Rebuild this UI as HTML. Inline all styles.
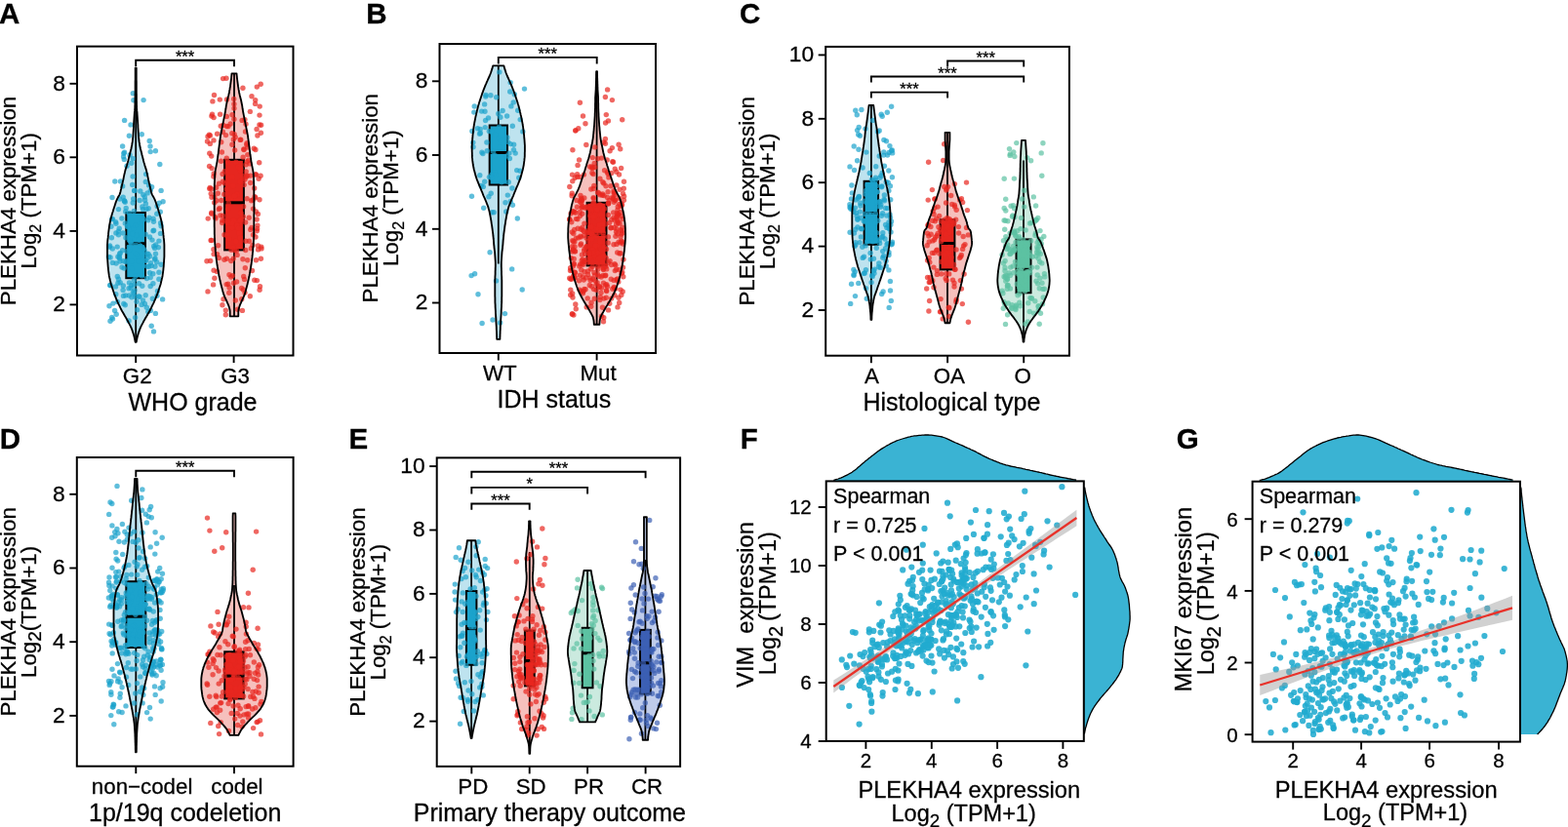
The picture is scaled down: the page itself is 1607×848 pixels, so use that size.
<!DOCTYPE html>
<html><head><meta charset="utf-8"><title>PLEKHA4 expression figure</title><style>html,body{margin:0;padding:0;background:#fff;width:1607px;height:848px;overflow:hidden}svg{display:block}</style></head><body>
<svg width="1607" height="848" viewBox="0 0 1607 848" style="font-family:'Liberation Sans',Arial,sans-serif">
<style>text{fill:#000;stroke:#000;stroke-width:0.28px}</style>
<rect width="1607" height="848" fill="#fff"/>
<text x="-0.9" y="23.8" font-size="29.5" text-anchor="start" font-weight="bold">A</text>
<text x="375.2" y="23.8" font-size="29.5" text-anchor="start" font-weight="bold">B</text>
<text x="758" y="23.8" font-size="29.5" text-anchor="start" font-weight="bold">C</text>
<text x="-0.2" y="460.3" font-size="29.5" text-anchor="start" font-weight="bold">D</text>
<text x="357.4" y="460.3" font-size="29.5" text-anchor="start" font-weight="bold">E</text>
<text x="758.7" y="460.3" font-size="29.5" text-anchor="start" font-weight="bold">F</text>
<text x="1205.8" y="460.3" font-size="29.5" text-anchor="start" font-weight="bold">G</text>
<path d="M139.7,69.6 L139.7,71.1 L139.7,72.6 L139.7,74.1 L139.7,75.6 L139.7,77.2 L139.7,78.7 L139.7,80.2 L139.7,81.7 L139.8,83.2 L139.8,84.7 L139.8,86.2 L139.8,87.7 L139.8,89.2 L139.8,90.8 L139.8,92.3 L139.8,93.8 L139.8,95.3 L139.9,96.8 L139.9,98.3 L139.9,99.8 L139.9,101.3 L139.9,102.8 L140,104.4 L140,105.9 L140,107.4 L140.1,108.9 L140.1,110.4 L140.2,111.9 L140.3,113.4 L140.5,114.9 L140.6,116.5 L140.7,118 L140.8,119.5 L140.9,121 L141,122.5 L141.1,124 L141.2,125.5 L141.3,127 L141.4,128.5 L141.4,130.1 L141.5,131.6 L141.6,133.1 L141.7,134.6 L141.8,136.1 L141.9,137.6 L142,139.1 L142.1,140.6 L142.3,142.1 L142.4,143.7 L142.6,145.2 L142.9,146.7 L143.1,148.2 L143.4,149.7 L143.7,151.2 L144,152.7 L144.4,154.2 L144.8,155.7 L145.2,157.3 L145.5,158.8 L145.9,160.3 L146.3,161.8 L146.7,163.3 L147,164.8 L147.4,166.3 L147.9,167.8 L148.3,169.3 L148.8,170.9 L149.3,172.4 L149.8,173.9 L150.2,175.4 L150.5,176.9 L150.9,178.4 L151.2,179.9 L151.5,181.4 L151.8,182.9 L152.1,184.5 L152.5,186 L152.8,187.5 L153.2,189 L153.5,190.5 L153.9,192 L154.2,193.5 L154.6,195 L154.9,196.5 L155.3,198.1 L155.9,199.6 L156.7,201.1 L157.6,202.6 L158.4,204.1 L159,205.6 L159.6,207.1 L160.1,208.6 L160.6,210.2 L161.1,211.7 L161.6,213.2 L162.1,214.7 L162.5,216.2 L163,217.7 L163.5,219.2 L163.9,220.7 L164.3,222.2 L164.7,223.8 L165.1,225.3 L165.4,226.8 L165.7,228.3 L166,229.8 L166.3,231.3 L166.5,232.8 L166.7,234.3 L166.9,235.8 L167.1,237.4 L167.3,238.9 L167.4,240.4 L167.6,241.9 L167.7,243.4 L167.9,244.9 L168.1,246.4 L168.2,247.9 L168.3,249.4 L168.4,251 L168.4,252.5 L168.4,254 L168.4,255.5 L168.4,257 L168.4,258.5 L168.4,260 L168.4,261.5 L168.4,263 L168.3,264.6 L168.2,266.1 L168.1,267.6 L168,269.1 L167.9,270.6 L167.8,272.1 L167.7,273.6 L167.5,275.1 L167.4,276.6 L167.2,278.2 L167,279.7 L166.8,281.2 L166.6,282.7 L166.3,284.2 L165.9,285.7 L165.6,287.2 L165.2,288.7 L164.9,290.2 L164.5,291.8 L164,293.3 L163.5,294.8 L163,296.3 L162.5,297.8 L162,299.3 L161.5,300.8 L160.9,302.3 L160.3,303.9 L159.7,305.4 L159.1,306.9 L158.4,308.4 L157.8,309.9 L157.1,311.4 L156.3,312.9 L155.6,314.4 L154.9,315.9 L154.1,317.5 L153.3,319 L152.4,320.5 L151.5,322 L150.7,323.5 L149.8,325 L148.9,326.5 L148.1,328 L147.2,329.5 L146.4,331.1 L145.6,332.6 L144.8,334.1 L144.1,335.6 L143.5,337.1 L142.9,338.6 L142.4,340.1 L141.9,341.6 L141.4,343.1 L141,344.7 L140.6,346.2 L140.3,347.7 L140,349.2 L139.7,350.7 L138.7,350.7 L138.4,349.2 L138.1,347.7 L137.8,346.2 L137.4,344.7 L137,343.1 L136.5,341.6 L136,340.1 L135.5,338.6 L134.9,337.1 L134.3,335.6 L133.6,334.1 L132.8,332.6 L132,331.1 L131.2,329.5 L130.3,328 L129.5,326.5 L128.6,325 L127.7,323.5 L126.9,322 L126,320.5 L125.1,319 L124.3,317.5 L123.5,315.9 L122.8,314.4 L122.1,312.9 L121.3,311.4 L120.6,309.9 L120,308.4 L119.3,306.9 L118.7,305.4 L118.1,303.9 L117.5,302.3 L116.9,300.8 L116.4,299.3 L115.9,297.8 L115.4,296.3 L114.9,294.8 L114.4,293.3 L113.9,291.8 L113.5,290.2 L113.2,288.7 L112.8,287.2 L112.5,285.7 L112.1,284.2 L111.8,282.7 L111.6,281.2 L111.4,279.7 L111.2,278.2 L111,276.6 L110.9,275.1 L110.7,273.6 L110.6,272.1 L110.5,270.6 L110.4,269.1 L110.3,267.6 L110.2,266.1 L110.1,264.6 L110,263 L110,261.5 L110,260 L110,258.5 L110,257 L110,255.5 L110,254 L110,252.5 L110,251 L110.1,249.4 L110.2,247.9 L110.3,246.4 L110.5,244.9 L110.7,243.4 L110.8,241.9 L111,240.4 L111.1,238.9 L111.3,237.4 L111.5,235.8 L111.7,234.3 L111.9,232.8 L112.1,231.3 L112.4,229.8 L112.7,228.3 L113,226.8 L113.3,225.3 L113.7,223.8 L114.1,222.2 L114.5,220.7 L114.9,219.2 L115.4,217.7 L115.9,216.2 L116.3,214.7 L116.8,213.2 L117.3,211.7 L117.8,210.2 L118.3,208.6 L118.8,207.1 L119.4,205.6 L120,204.1 L120.8,202.6 L121.7,201.1 L122.5,199.6 L123.1,198.1 L123.5,196.5 L123.8,195 L124.2,193.5 L124.5,192 L124.9,190.5 L125.2,189 L125.6,187.5 L125.9,186 L126.3,184.5 L126.6,182.9 L126.9,181.4 L127.2,179.9 L127.5,178.4 L127.9,176.9 L128.2,175.4 L128.6,173.9 L129.1,172.4 L129.6,170.9 L130.1,169.3 L130.5,167.8 L131,166.3 L131.4,164.8 L131.7,163.3 L132.1,161.8 L132.5,160.3 L132.9,158.8 L133.2,157.3 L133.6,155.7 L134,154.2 L134.4,152.7 L134.7,151.2 L135,149.7 L135.3,148.2 L135.5,146.7 L135.8,145.2 L136,143.7 L136.1,142.1 L136.3,140.6 L136.4,139.1 L136.5,137.6 L136.6,136.1 L136.7,134.6 L136.8,133.1 L136.9,131.6 L137,130.1 L137,128.5 L137.1,127 L137.2,125.5 L137.3,124 L137.4,122.5 L137.5,121 L137.6,119.5 L137.7,118 L137.8,116.5 L137.9,114.9 L138.1,113.4 L138.2,111.9 L138.3,110.4 L138.3,108.9 L138.4,107.4 L138.4,105.9 L138.4,104.4 L138.5,102.8 L138.5,101.3 L138.5,99.8 L138.5,98.3 L138.5,96.8 L138.6,95.3 L138.6,93.8 L138.6,92.3 L138.6,90.8 L138.6,89.2 L138.6,87.7 L138.6,86.2 L138.6,84.7 L138.6,83.2 L138.7,81.7 L138.7,80.2 L138.7,78.7 L138.7,77.2 L138.7,75.6 L138.7,74.1 L138.7,72.6 L138.7,71.1 L138.7,69.6 Z" fill="#bee3ef"/>
<line x1="139.2" y1="69.6" x2="139.2" y2="350.7" stroke="#000" stroke-width="1.8"/>
<rect x="129.3" y="218" width="19.7" height="67.2" fill="#1ba3cc" stroke="#000" stroke-width="2.0"/>
<line x1="129.3" y1="249.7" x2="149" y2="249.7" stroke="#000" stroke-width="3"/>
<g fill="rgba(27,163,204,0.7)"><circle cx="142.2" cy="267.7" r="2.7"/><circle cx="156.4" cy="306.3" r="2.7"/><circle cx="137.3" cy="287.5" r="2.7"/><circle cx="145.9" cy="211.9" r="2.7"/><circle cx="157.1" cy="224.2" r="2.7"/><circle cx="149.2" cy="302.8" r="2.7"/><circle cx="147.1" cy="102.6" r="2.7"/><circle cx="133.9" cy="295.1" r="2.7"/><circle cx="142.5" cy="290.8" r="2.7"/><circle cx="133.4" cy="247" r="2.7"/><circle cx="152.9" cy="223.2" r="2.7"/><circle cx="132.5" cy="218.5" r="2.7"/><circle cx="137.3" cy="216.4" r="2.7"/><circle cx="153.5" cy="243" r="2.7"/><circle cx="139.4" cy="251.1" r="2.7"/><circle cx="130.1" cy="257.7" r="2.7"/><circle cx="157.5" cy="339.9" r="2.7"/><circle cx="132.5" cy="289.9" r="2.7"/><circle cx="158.5" cy="266" r="2.7"/><circle cx="155.2" cy="334.3" r="2.7"/><circle cx="136.2" cy="208" r="2.7"/><circle cx="151.1" cy="197.9" r="2.7"/><circle cx="113.1" cy="264" r="2.7"/><circle cx="133" cy="159" r="2.7"/><circle cx="159.4" cy="154.7" r="2.7"/><circle cx="143.7" cy="252.3" r="2.7"/><circle cx="142.4" cy="246.2" r="2.7"/><circle cx="148.4" cy="311.5" r="2.7"/><circle cx="149.1" cy="267.2" r="2.7"/><circle cx="143.9" cy="252.1" r="2.7"/><circle cx="134.8" cy="249.2" r="2.7"/><circle cx="121.5" cy="214.6" r="2.7"/><circle cx="127.6" cy="123.4" r="2.7"/><circle cx="127.6" cy="206" r="2.7"/><circle cx="135.3" cy="275.3" r="2.7"/><circle cx="167.1" cy="206.8" r="2.7"/><circle cx="130.9" cy="232.2" r="2.7"/><circle cx="136.3" cy="95.7" r="2.7"/><circle cx="132" cy="295.7" r="2.7"/><circle cx="143.8" cy="196" r="2.7"/><circle cx="164.3" cy="217.2" r="2.7"/><circle cx="161" cy="303.2" r="2.7"/><circle cx="132.3" cy="253.1" r="2.7"/><circle cx="126.1" cy="297.5" r="2.7"/><circle cx="160.7" cy="268.8" r="2.7"/><circle cx="138.9" cy="283.2" r="2.7"/><circle cx="149.6" cy="178.6" r="2.7"/><circle cx="115.3" cy="255" r="2.7"/><circle cx="159.7" cy="250.9" r="2.7"/><circle cx="128.7" cy="302.9" r="2.7"/><circle cx="138.9" cy="231.1" r="2.7"/><circle cx="122.3" cy="263.4" r="2.7"/><circle cx="134.7" cy="167.2" r="2.7"/><circle cx="157.6" cy="236.2" r="2.7"/><circle cx="157.5" cy="227.2" r="2.7"/><circle cx="137.7" cy="195.5" r="2.7"/><circle cx="154.2" cy="293.5" r="2.7"/><circle cx="136.9" cy="234.1" r="2.7"/><circle cx="132.1" cy="328.9" r="2.7"/><circle cx="141.8" cy="263.1" r="2.7"/><circle cx="122.5" cy="264.9" r="2.7"/><circle cx="128.9" cy="268.6" r="2.7"/><circle cx="150.8" cy="273.3" r="2.7"/><circle cx="154.3" cy="195.1" r="2.7"/><circle cx="114.4" cy="243.8" r="2.7"/><circle cx="152.2" cy="213.8" r="2.7"/><circle cx="157" cy="236.8" r="2.7"/><circle cx="136.1" cy="181" r="2.7"/><circle cx="114.7" cy="325.5" r="2.7"/><circle cx="149.4" cy="208.9" r="2.7"/><circle cx="125" cy="274" r="2.7"/><circle cx="147.2" cy="224.5" r="2.7"/><circle cx="132.3" cy="303" r="2.7"/><circle cx="146.9" cy="272.6" r="2.7"/><circle cx="125.7" cy="190.9" r="2.7"/><circle cx="137.9" cy="297.6" r="2.7"/><circle cx="140.6" cy="317.7" r="2.7"/><circle cx="146.5" cy="307.9" r="2.7"/><circle cx="122.6" cy="260.4" r="2.7"/><circle cx="165.1" cy="195.4" r="2.7"/><circle cx="127.4" cy="205.9" r="2.7"/><circle cx="128.3" cy="312.8" r="2.7"/><circle cx="125.6" cy="256.8" r="2.7"/><circle cx="115" cy="202.5" r="2.7"/><circle cx="134.9" cy="304.7" r="2.7"/><circle cx="154.4" cy="269.6" r="2.7"/><circle cx="150.9" cy="260.1" r="2.7"/><circle cx="122.2" cy="234.2" r="2.7"/><circle cx="118.9" cy="238.9" r="2.7"/><circle cx="129.2" cy="213.5" r="2.7"/><circle cx="154.2" cy="155.6" r="2.7"/><circle cx="138.5" cy="304.3" r="2.7"/><circle cx="162.9" cy="247.1" r="2.7"/><circle cx="148" cy="256.8" r="2.7"/><circle cx="146" cy="226.2" r="2.7"/><circle cx="154.2" cy="284.6" r="2.7"/><circle cx="153.2" cy="144.4" r="2.7"/><circle cx="130.5" cy="232.3" r="2.7"/><circle cx="125.6" cy="150" r="2.7"/><circle cx="135.7" cy="189.5" r="2.7"/><circle cx="138.6" cy="325.6" r="2.7"/><circle cx="119.1" cy="270" r="2.7"/><circle cx="135.9" cy="239.8" r="2.7"/><circle cx="147" cy="254.7" r="2.7"/><circle cx="118.8" cy="301.8" r="2.7"/><circle cx="118.9" cy="229.3" r="2.7"/><circle cx="120.9" cy="263.2" r="2.7"/><circle cx="127.1" cy="275.1" r="2.7"/><circle cx="165.1" cy="231.7" r="2.7"/><circle cx="112.6" cy="252" r="2.7"/><circle cx="121.5" cy="286.3" r="2.7"/><circle cx="120.4" cy="309.5" r="2.7"/><circle cx="137.8" cy="195.4" r="2.7"/><circle cx="112" cy="313.8" r="2.7"/><circle cx="136.9" cy="102.8" r="2.7"/><circle cx="120.3" cy="283.5" r="2.7"/><circle cx="126.3" cy="293" r="2.7"/><circle cx="155.6" cy="191.7" r="2.7"/><circle cx="121.5" cy="240.7" r="2.7"/><circle cx="145.8" cy="293.2" r="2.7"/><circle cx="134" cy="127.9" r="2.7"/><circle cx="134.6" cy="268.3" r="2.7"/><circle cx="156.9" cy="290.8" r="2.7"/><circle cx="120.2" cy="253.1" r="2.7"/><circle cx="162.9" cy="279.3" r="2.7"/><circle cx="161.2" cy="211.5" r="2.7"/><circle cx="148.6" cy="205.2" r="2.7"/><circle cx="114" cy="232.3" r="2.7"/><circle cx="148.3" cy="201.9" r="2.7"/><circle cx="144.8" cy="229.8" r="2.7"/><circle cx="154.4" cy="318.4" r="2.7"/><circle cx="123.2" cy="259.5" r="2.7"/><circle cx="164.6" cy="228.8" r="2.7"/><circle cx="160.8" cy="219.2" r="2.7"/><circle cx="117.6" cy="318.5" r="2.7"/><circle cx="128.9" cy="243.7" r="2.7"/><circle cx="113" cy="329.2" r="2.7"/><circle cx="157.7" cy="252.5" r="2.7"/><circle cx="162.4" cy="253.7" r="2.7"/><circle cx="166.6" cy="306.9" r="2.7"/><circle cx="145.5" cy="282.9" r="2.7"/><circle cx="148.5" cy="261.6" r="2.7"/><circle cx="149.2" cy="240.2" r="2.7"/><circle cx="143.1" cy="304.3" r="2.7"/><circle cx="164.5" cy="239.4" r="2.7"/><circle cx="145.2" cy="312.4" r="2.7"/><circle cx="130" cy="170.3" r="2.7"/><circle cx="139.9" cy="241.3" r="2.7"/><circle cx="112.2" cy="253.2" r="2.7"/><circle cx="151.8" cy="319.6" r="2.7"/><circle cx="150.1" cy="214.3" r="2.7"/><circle cx="134.8" cy="292.5" r="2.7"/><circle cx="158.9" cy="273.2" r="2.7"/><circle cx="153.5" cy="279.7" r="2.7"/><circle cx="130.1" cy="267.6" r="2.7"/><circle cx="115.5" cy="327.1" r="2.7"/><circle cx="118.6" cy="227.6" r="2.7"/><circle cx="121.5" cy="237.1" r="2.7"/><circle cx="128.2" cy="207.3" r="2.7"/><circle cx="136.3" cy="162.6" r="2.7"/><circle cx="163.2" cy="208.2" r="2.7"/><circle cx="126.8" cy="311.4" r="2.7"/><circle cx="161.5" cy="298.4" r="2.7"/><circle cx="149.3" cy="186.4" r="2.7"/><circle cx="159" cy="265" r="2.7"/><circle cx="133.8" cy="248.3" r="2.7"/><circle cx="111.4" cy="263.4" r="2.7"/><circle cx="155.3" cy="272.6" r="2.7"/><circle cx="124.9" cy="224" r="2.7"/><circle cx="119.2" cy="322.3" r="2.7"/><circle cx="156" cy="246.1" r="2.7"/><circle cx="149.6" cy="267.1" r="2.7"/><circle cx="123.1" cy="268" r="2.7"/><circle cx="126.2" cy="202.1" r="2.7"/><circle cx="163.8" cy="168.5" r="2.7"/><circle cx="126.2" cy="239" r="2.7"/><circle cx="150.5" cy="285.5" r="2.7"/><circle cx="118.5" cy="293.9" r="2.7"/><circle cx="156.8" cy="280.7" r="2.7"/><circle cx="117.8" cy="186" r="2.7"/><circle cx="140.1" cy="309.3" r="2.7"/><circle cx="113.2" cy="292.5" r="2.7"/><circle cx="142" cy="304" r="2.7"/><circle cx="158.6" cy="254.4" r="2.7"/><circle cx="115.9" cy="311.1" r="2.7"/><circle cx="126.6" cy="160.7" r="2.7"/><circle cx="154" cy="150" r="2.7"/><circle cx="145.3" cy="137.8" r="2.7"/><circle cx="128.7" cy="216.9" r="2.7"/><circle cx="146.4" cy="214.6" r="2.7"/><circle cx="136.7" cy="204" r="2.7"/><circle cx="159.5" cy="260.3" r="2.7"/><circle cx="127.6" cy="156.2" r="2.7"/><circle cx="153.6" cy="262.8" r="2.7"/><circle cx="146.8" cy="199.8" r="2.7"/><circle cx="152.7" cy="273.2" r="2.7"/><circle cx="132.4" cy="139.2" r="2.7"/><circle cx="151.8" cy="225.7" r="2.7"/><circle cx="150.3" cy="315.3" r="2.7"/><circle cx="132.9" cy="255.8" r="2.7"/><circle cx="112.7" cy="292.5" r="2.7"/><circle cx="165.1" cy="271.3" r="2.7"/><circle cx="151.2" cy="264.5" r="2.7"/><circle cx="122.7" cy="204" r="2.7"/><circle cx="152.1" cy="260.4" r="2.7"/><circle cx="126.8" cy="157.3" r="2.7"/><circle cx="137.5" cy="292.1" r="2.7"/><circle cx="159.4" cy="321.4" r="2.7"/><circle cx="136.3" cy="299.4" r="2.7"/><circle cx="127.3" cy="163.4" r="2.7"/><circle cx="128.3" cy="228.9" r="2.7"/><circle cx="115.5" cy="224.6" r="2.7"/><circle cx="123.5" cy="185.9" r="2.7"/><circle cx="126.4" cy="267.8" r="2.7"/><circle cx="120.9" cy="290.3" r="2.7"/><circle cx="114.7" cy="224.6" r="2.7"/><circle cx="137.3" cy="301" r="2.7"/><circle cx="123.2" cy="289.8" r="2.7"/><circle cx="152.6" cy="190" r="2.7"/><circle cx="162.9" cy="286.3" r="2.7"/><circle cx="126.5" cy="303.4" r="2.7"/><circle cx="143.2" cy="205.5" r="2.7"/><circle cx="139.6" cy="260.4" r="2.7"/><circle cx="115.4" cy="269.4" r="2.7"/></g>
<path d="M139.7,69.6 L139.7,71.1 L139.7,72.6 L139.7,74.1 L139.7,75.6 L139.7,77.2 L139.7,78.7 L139.7,80.2 L139.7,81.7 L139.8,83.2 L139.8,84.7 L139.8,86.2 L139.8,87.7 L139.8,89.2 L139.8,90.8 L139.8,92.3 L139.8,93.8 L139.8,95.3 L139.9,96.8 L139.9,98.3 L139.9,99.8 L139.9,101.3 L139.9,102.8 L140,104.4 L140,105.9 L140,107.4 L140.1,108.9 L140.1,110.4 L140.2,111.9 L140.3,113.4 L140.5,114.9 L140.6,116.5 L140.7,118 L140.8,119.5 L140.9,121 L141,122.5 L141.1,124 L141.2,125.5 L141.3,127 L141.4,128.5 L141.4,130.1 L141.5,131.6 L141.6,133.1 L141.7,134.6 L141.8,136.1 L141.9,137.6 L142,139.1 L142.1,140.6 L142.3,142.1 L142.4,143.7 L142.6,145.2 L142.9,146.7 L143.1,148.2 L143.4,149.7 L143.7,151.2 L144,152.7 L144.4,154.2 L144.8,155.7 L145.2,157.3 L145.5,158.8 L145.9,160.3 L146.3,161.8 L146.7,163.3 L147,164.8 L147.4,166.3 L147.9,167.8 L148.3,169.3 L148.8,170.9 L149.3,172.4 L149.8,173.9 L150.2,175.4 L150.5,176.9 L150.9,178.4 L151.2,179.9 L151.5,181.4 L151.8,182.9 L152.1,184.5 L152.5,186 L152.8,187.5 L153.2,189 L153.5,190.5 L153.9,192 L154.2,193.5 L154.6,195 L154.9,196.5 L155.3,198.1 L155.9,199.6 L156.7,201.1 L157.6,202.6 L158.4,204.1 L159,205.6 L159.6,207.1 L160.1,208.6 L160.6,210.2 L161.1,211.7 L161.6,213.2 L162.1,214.7 L162.5,216.2 L163,217.7 L163.5,219.2 L163.9,220.7 L164.3,222.2 L164.7,223.8 L165.1,225.3 L165.4,226.8 L165.7,228.3 L166,229.8 L166.3,231.3 L166.5,232.8 L166.7,234.3 L166.9,235.8 L167.1,237.4 L167.3,238.9 L167.4,240.4 L167.6,241.9 L167.7,243.4 L167.9,244.9 L168.1,246.4 L168.2,247.9 L168.3,249.4 L168.4,251 L168.4,252.5 L168.4,254 L168.4,255.5 L168.4,257 L168.4,258.5 L168.4,260 L168.4,261.5 L168.4,263 L168.3,264.6 L168.2,266.1 L168.1,267.6 L168,269.1 L167.9,270.6 L167.8,272.1 L167.7,273.6 L167.5,275.1 L167.4,276.6 L167.2,278.2 L167,279.7 L166.8,281.2 L166.6,282.7 L166.3,284.2 L165.9,285.7 L165.6,287.2 L165.2,288.7 L164.9,290.2 L164.5,291.8 L164,293.3 L163.5,294.8 L163,296.3 L162.5,297.8 L162,299.3 L161.5,300.8 L160.9,302.3 L160.3,303.9 L159.7,305.4 L159.1,306.9 L158.4,308.4 L157.8,309.9 L157.1,311.4 L156.3,312.9 L155.6,314.4 L154.9,315.9 L154.1,317.5 L153.3,319 L152.4,320.5 L151.5,322 L150.7,323.5 L149.8,325 L148.9,326.5 L148.1,328 L147.2,329.5 L146.4,331.1 L145.6,332.6 L144.8,334.1 L144.1,335.6 L143.5,337.1 L142.9,338.6 L142.4,340.1 L141.9,341.6 L141.4,343.1 L141,344.7 L140.6,346.2 L140.3,347.7 L140,349.2 L139.7,350.7 L138.7,350.7 L138.4,349.2 L138.1,347.7 L137.8,346.2 L137.4,344.7 L137,343.1 L136.5,341.6 L136,340.1 L135.5,338.6 L134.9,337.1 L134.3,335.6 L133.6,334.1 L132.8,332.6 L132,331.1 L131.2,329.5 L130.3,328 L129.5,326.5 L128.6,325 L127.7,323.5 L126.9,322 L126,320.5 L125.1,319 L124.3,317.5 L123.5,315.9 L122.8,314.4 L122.1,312.9 L121.3,311.4 L120.6,309.9 L120,308.4 L119.3,306.9 L118.7,305.4 L118.1,303.9 L117.5,302.3 L116.9,300.8 L116.4,299.3 L115.9,297.8 L115.4,296.3 L114.9,294.8 L114.4,293.3 L113.9,291.8 L113.5,290.2 L113.2,288.7 L112.8,287.2 L112.5,285.7 L112.1,284.2 L111.8,282.7 L111.6,281.2 L111.4,279.7 L111.2,278.2 L111,276.6 L110.9,275.1 L110.7,273.6 L110.6,272.1 L110.5,270.6 L110.4,269.1 L110.3,267.6 L110.2,266.1 L110.1,264.6 L110,263 L110,261.5 L110,260 L110,258.5 L110,257 L110,255.5 L110,254 L110,252.5 L110,251 L110.1,249.4 L110.2,247.9 L110.3,246.4 L110.5,244.9 L110.7,243.4 L110.8,241.9 L111,240.4 L111.1,238.9 L111.3,237.4 L111.5,235.8 L111.7,234.3 L111.9,232.8 L112.1,231.3 L112.4,229.8 L112.7,228.3 L113,226.8 L113.3,225.3 L113.7,223.8 L114.1,222.2 L114.5,220.7 L114.9,219.2 L115.4,217.7 L115.9,216.2 L116.3,214.7 L116.8,213.2 L117.3,211.7 L117.8,210.2 L118.3,208.6 L118.8,207.1 L119.4,205.6 L120,204.1 L120.8,202.6 L121.7,201.1 L122.5,199.6 L123.1,198.1 L123.5,196.5 L123.8,195 L124.2,193.5 L124.5,192 L124.9,190.5 L125.2,189 L125.6,187.5 L125.9,186 L126.3,184.5 L126.6,182.9 L126.9,181.4 L127.2,179.9 L127.5,178.4 L127.9,176.9 L128.2,175.4 L128.6,173.9 L129.1,172.4 L129.6,170.9 L130.1,169.3 L130.5,167.8 L131,166.3 L131.4,164.8 L131.7,163.3 L132.1,161.8 L132.5,160.3 L132.9,158.8 L133.2,157.3 L133.6,155.7 L134,154.2 L134.4,152.7 L134.7,151.2 L135,149.7 L135.3,148.2 L135.5,146.7 L135.8,145.2 L136,143.7 L136.1,142.1 L136.3,140.6 L136.4,139.1 L136.5,137.6 L136.6,136.1 L136.7,134.6 L136.8,133.1 L136.9,131.6 L137,130.1 L137,128.5 L137.1,127 L137.2,125.5 L137.3,124 L137.4,122.5 L137.5,121 L137.6,119.5 L137.7,118 L137.8,116.5 L137.9,114.9 L138.1,113.4 L138.2,111.9 L138.3,110.4 L138.3,108.9 L138.4,107.4 L138.4,105.9 L138.4,104.4 L138.5,102.8 L138.5,101.3 L138.5,99.8 L138.5,98.3 L138.5,96.8 L138.6,95.3 L138.6,93.8 L138.6,92.3 L138.6,90.8 L138.6,89.2 L138.6,87.7 L138.6,86.2 L138.6,84.7 L138.6,83.2 L138.7,81.7 L138.7,80.2 L138.7,78.7 L138.7,77.2 L138.7,75.6 L138.7,74.1 L138.7,72.6 L138.7,71.1 L138.7,69.6 Z" fill="none" stroke="#000" stroke-width="1.85" stroke-linejoin="round"/>
<path d="M242.5,75.3 L242.6,76.8 L242.8,78.3 L242.9,79.8 L243.1,81.3 L243.3,82.8 L243.5,84.4 L243.7,85.9 L243.9,87.4 L244.1,88.9 L244.4,90.4 L244.6,91.9 L244.9,93.4 L245.1,94.9 L245.5,96.4 L245.8,97.9 L246.2,99.4 L246.6,101 L247,102.5 L247.3,104 L247.6,105.5 L247.9,107 L248.2,108.5 L248.4,110 L248.6,111.5 L248.9,113 L249.1,114.5 L249.4,116 L249.7,117.6 L250,119.1 L250.3,120.6 L250.6,122.1 L250.9,123.6 L251.2,125.1 L251.5,126.6 L251.8,128.1 L252.1,129.6 L252.4,131.1 L252.7,132.6 L253,134.2 L253.3,135.7 L253.6,137.2 L253.9,138.7 L254.1,140.2 L254.3,141.7 L254.5,143.2 L254.7,144.7 L254.9,146.2 L255.1,147.7 L255.3,149.2 L255.5,150.8 L255.7,152.3 L255.9,153.8 L256.1,155.3 L256.2,156.8 L256.4,158.3 L256.7,159.8 L256.9,161.3 L257.1,162.8 L257.3,164.3 L257.5,165.8 L257.8,167.4 L258.1,168.9 L258.4,170.4 L258.7,171.9 L259,173.4 L259.3,174.9 L259.5,176.4 L259.7,177.9 L259.8,179.4 L259.9,180.9 L260,182.4 L260,184 L260.1,185.5 L260.1,187 L260.2,188.5 L260.2,190 L260.2,191.5 L260.3,193 L260.3,194.5 L260.3,196 L260.3,197.5 L260.3,199 L260.4,200.6 L260.4,202.1 L260.4,203.6 L260.4,205.1 L260.4,206.6 L260.4,208.1 L260.4,209.6 L260.4,211.1 L260.4,212.6 L260.4,214.1 L260.4,215.6 L260.4,217.2 L260.4,218.7 L260.3,220.2 L260.3,221.7 L260.3,223.2 L260.3,224.7 L260.3,226.2 L260.3,227.7 L260.3,229.2 L260.3,230.7 L260.3,232.2 L260.2,233.8 L260.2,235.3 L260.2,236.8 L260.2,238.3 L260.2,239.8 L260.1,241.3 L260.1,242.8 L260,244.3 L260,245.8 L259.9,247.3 L259.8,248.8 L259.7,250.4 L259.6,251.9 L259.4,253.4 L259.3,254.9 L259.2,256.4 L259.1,257.9 L258.9,259.4 L258.8,260.9 L258.6,262.4 L258.5,263.9 L258.3,265.4 L258.1,267 L257.9,268.5 L257.7,270 L257.5,271.5 L257.2,273 L257,274.5 L256.7,276 L256.5,277.5 L256.2,279 L255.9,280.5 L255.7,282 L255.4,283.6 L255,285.1 L254.7,286.6 L254.4,288.1 L254,289.6 L253.7,291.1 L253.3,292.6 L252.9,294.1 L252.5,295.6 L252.1,297.1 L251.7,298.6 L251.2,300.2 L250.8,301.7 L250.2,303.2 L249.6,304.7 L248.9,306.2 L248.2,307.7 L247.5,309.2 L246.9,310.7 L246.2,312.2 L245.6,313.7 L245.1,315.2 L244.7,316.8 L244.4,318.3 L244.3,319.8 L244.3,321.3 L244.3,322.8 L244.3,324.3 L235.7,324.3 L235.7,322.8 L235.7,321.3 L235.7,319.8 L235.6,318.3 L235.3,316.8 L234.9,315.2 L234.4,313.7 L233.8,312.2 L233.1,310.7 L232.5,309.2 L231.8,307.7 L231.1,306.2 L230.4,304.7 L229.8,303.2 L229.2,301.7 L228.8,300.2 L228.3,298.6 L227.9,297.1 L227.5,295.6 L227.1,294.1 L226.7,292.6 L226.3,291.1 L226,289.6 L225.6,288.1 L225.3,286.6 L225,285.1 L224.6,283.6 L224.3,282 L224.1,280.5 L223.8,279 L223.5,277.5 L223.3,276 L223,274.5 L222.8,273 L222.5,271.5 L222.3,270 L222.1,268.5 L221.9,267 L221.7,265.4 L221.5,263.9 L221.4,262.4 L221.2,260.9 L221.1,259.4 L220.9,257.9 L220.8,256.4 L220.7,254.9 L220.6,253.4 L220.4,251.9 L220.3,250.4 L220.2,248.8 L220.1,247.3 L220,245.8 L220,244.3 L219.9,242.8 L219.9,241.3 L219.8,239.8 L219.8,238.3 L219.8,236.8 L219.8,235.3 L219.8,233.8 L219.7,232.2 L219.7,230.7 L219.7,229.2 L219.7,227.7 L219.7,226.2 L219.7,224.7 L219.7,223.2 L219.7,221.7 L219.7,220.2 L219.7,218.7 L219.7,217.2 L219.7,215.6 L219.7,214.1 L219.7,212.6 L219.7,211.1 L219.7,209.6 L219.7,208.1 L219.7,206.6 L219.7,205.1 L219.7,203.6 L219.7,202.1 L219.7,200.6 L219.7,199 L219.7,197.5 L219.7,196 L219.7,194.5 L219.7,193 L219.8,191.5 L219.8,190 L219.8,188.5 L219.9,187 L219.9,185.5 L220,184 L220,182.4 L220.1,180.9 L220.2,179.4 L220.3,177.9 L220.5,176.4 L220.7,174.9 L221,173.4 L221.3,171.9 L221.6,170.4 L221.9,168.9 L222.2,167.4 L222.5,165.8 L222.7,164.3 L222.9,162.8 L223.1,161.3 L223.3,159.8 L223.6,158.3 L223.8,156.8 L223.9,155.3 L224.1,153.8 L224.3,152.3 L224.5,150.8 L224.7,149.2 L224.9,147.7 L225.1,146.2 L225.3,144.7 L225.5,143.2 L225.7,141.7 L225.9,140.2 L226.1,138.7 L226.4,137.2 L226.7,135.7 L227,134.2 L227.3,132.6 L227.6,131.1 L227.9,129.6 L228.2,128.1 L228.5,126.6 L228.8,125.1 L229.1,123.6 L229.4,122.1 L229.7,120.6 L230,119.1 L230.3,117.6 L230.6,116 L230.9,114.5 L231.1,113 L231.4,111.5 L231.6,110 L231.8,108.5 L232.1,107 L232.4,105.5 L232.7,104 L233,102.5 L233.4,101 L233.8,99.4 L234.2,97.9 L234.5,96.4 L234.9,94.9 L235.1,93.4 L235.4,91.9 L235.6,90.4 L235.9,88.9 L236.1,87.4 L236.3,85.9 L236.5,84.4 L236.7,82.8 L236.9,81.3 L237.1,79.8 L237.2,78.3 L237.4,76.8 L237.5,75.3 Z" fill="#f6c0bd"/>
<line x1="240" y1="75.3" x2="240" y2="324.3" stroke="#000" stroke-width="1.8"/>
<rect x="230.1" y="163.8" width="19.8" height="92.6" fill="#e6261f" stroke="#000" stroke-width="2.0"/>
<line x1="230.1" y1="207.8" x2="249.9" y2="207.8" stroke="#000" stroke-width="3"/>
<g fill="rgba(232,38,31,0.7)"><circle cx="251.5" cy="135" r="2.7"/><circle cx="238.4" cy="282.6" r="2.7"/><circle cx="257.6" cy="205.8" r="2.7"/><circle cx="239.2" cy="265.1" r="2.7"/><circle cx="266" cy="118.1" r="2.7"/><circle cx="227.8" cy="226.1" r="2.7"/><circle cx="219.1" cy="277.2" r="2.7"/><circle cx="258.5" cy="277.5" r="2.7"/><circle cx="228.6" cy="80.6" r="2.7"/><circle cx="259.5" cy="214.1" r="2.7"/><circle cx="246.1" cy="186.5" r="2.7"/><circle cx="240.5" cy="256.7" r="2.7"/><circle cx="216.9" cy="119.1" r="2.7"/><circle cx="256" cy="167.9" r="2.7"/><circle cx="215.7" cy="267.5" r="2.7"/><circle cx="266" cy="204.8" r="2.7"/><circle cx="261.1" cy="201.7" r="2.7"/><circle cx="229" cy="306.8" r="2.7"/><circle cx="219.2" cy="177.9" r="2.7"/><circle cx="261.6" cy="106.4" r="2.7"/><circle cx="238.9" cy="190.8" r="2.7"/><circle cx="219" cy="143.9" r="2.7"/><circle cx="239.9" cy="122.2" r="2.7"/><circle cx="225.8" cy="221" r="2.7"/><circle cx="234.8" cy="300.2" r="2.7"/><circle cx="247.9" cy="224.7" r="2.7"/><circle cx="263.3" cy="236.7" r="2.7"/><circle cx="256.9" cy="180.1" r="2.7"/><circle cx="221" cy="223.9" r="2.7"/><circle cx="238.7" cy="254.3" r="2.7"/><circle cx="239.5" cy="225.7" r="2.7"/><circle cx="267.4" cy="265.3" r="2.7"/><circle cx="216.9" cy="219.2" r="2.7"/><circle cx="240.6" cy="154" r="2.7"/><circle cx="263.2" cy="225" r="2.7"/><circle cx="234.3" cy="208.2" r="2.7"/><circle cx="226.7" cy="145.8" r="2.7"/><circle cx="243.1" cy="231.2" r="2.7"/><circle cx="229.9" cy="266.2" r="2.7"/><circle cx="263.9" cy="139" r="2.7"/><circle cx="216.7" cy="218.2" r="2.7"/><circle cx="223.6" cy="251.8" r="2.7"/><circle cx="216.7" cy="193.7" r="2.7"/><circle cx="251.9" cy="168.9" r="2.7"/><circle cx="228.4" cy="186.3" r="2.7"/><circle cx="262.4" cy="217" r="2.7"/><circle cx="262" cy="243" r="2.7"/><circle cx="264.4" cy="219.5" r="2.7"/><circle cx="226.3" cy="129.3" r="2.7"/><circle cx="212" cy="267.7" r="2.7"/><circle cx="233.7" cy="291.2" r="2.7"/><circle cx="265.9" cy="127.9" r="2.7"/><circle cx="254.8" cy="164.3" r="2.7"/><circle cx="215.3" cy="147.4" r="2.7"/><circle cx="251.3" cy="274.7" r="2.7"/><circle cx="263.4" cy="287.6" r="2.7"/><circle cx="266.2" cy="109.1" r="2.7"/><circle cx="252.1" cy="181.6" r="2.7"/><circle cx="260.3" cy="152.3" r="2.7"/><circle cx="259.1" cy="205" r="2.7"/><circle cx="232.1" cy="291.6" r="2.7"/><circle cx="217.5" cy="117.2" r="2.7"/><circle cx="252.7" cy="148.2" r="2.7"/><circle cx="219.7" cy="207.8" r="2.7"/><circle cx="233.5" cy="214.5" r="2.7"/><circle cx="267.8" cy="253.1" r="2.7"/><circle cx="243.3" cy="199.2" r="2.7"/><circle cx="241.2" cy="140.8" r="2.7"/><circle cx="265.1" cy="183.3" r="2.7"/><circle cx="227.9" cy="312.7" r="2.7"/><circle cx="268" cy="254.9" r="2.7"/><circle cx="263.1" cy="132.5" r="2.7"/><circle cx="232.4" cy="265.2" r="2.7"/><circle cx="230.3" cy="175.8" r="2.7"/><circle cx="219.1" cy="260.6" r="2.7"/><circle cx="263.3" cy="89.1" r="2.7"/><circle cx="222.4" cy="278.4" r="2.7"/><circle cx="212.5" cy="145" r="2.7"/><circle cx="261.8" cy="202.8" r="2.7"/><circle cx="245.5" cy="239" r="2.7"/><circle cx="249.6" cy="211.7" r="2.7"/><circle cx="253.1" cy="146.7" r="2.7"/><circle cx="214.4" cy="138.2" r="2.7"/><circle cx="217.1" cy="172.6" r="2.7"/><circle cx="240" cy="111.1" r="2.7"/><circle cx="214.8" cy="157.3" r="2.7"/><circle cx="240.2" cy="137.7" r="2.7"/><circle cx="253.2" cy="203.8" r="2.7"/><circle cx="248.8" cy="185.5" r="2.7"/><circle cx="246.5" cy="225.8" r="2.7"/><circle cx="214.6" cy="170.4" r="2.7"/><circle cx="225.3" cy="102.1" r="2.7"/><circle cx="262.3" cy="178.9" r="2.7"/><circle cx="218.9" cy="255.8" r="2.7"/><circle cx="241.9" cy="166.3" r="2.7"/><circle cx="214.8" cy="193.6" r="2.7"/><circle cx="264.6" cy="255.9" r="2.7"/><circle cx="221.6" cy="192.3" r="2.7"/><circle cx="235" cy="281.7" r="2.7"/><circle cx="242.6" cy="289" r="2.7"/><circle cx="252.2" cy="175.9" r="2.7"/><circle cx="264.5" cy="252" r="2.7"/><circle cx="253.2" cy="165.7" r="2.7"/><circle cx="231.5" cy="138.6" r="2.7"/><circle cx="216.2" cy="198.6" r="2.7"/><circle cx="251.6" cy="228" r="2.7"/><circle cx="266.5" cy="293.8" r="2.7"/><circle cx="213" cy="140" r="2.7"/><circle cx="255.4" cy="247.3" r="2.7"/><circle cx="221.9" cy="205.7" r="2.7"/><circle cx="237.8" cy="136.8" r="2.7"/><circle cx="241.3" cy="308" r="2.7"/><circle cx="246.4" cy="244" r="2.7"/><circle cx="267.4" cy="136.3" r="2.7"/><circle cx="250.5" cy="286.4" r="2.7"/><circle cx="234" cy="129.6" r="2.7"/><circle cx="252" cy="127.2" r="2.7"/><circle cx="238.1" cy="181.2" r="2.7"/><circle cx="235.1" cy="295" r="2.7"/><circle cx="232.5" cy="101.9" r="2.7"/><circle cx="239.6" cy="290.3" r="2.7"/><circle cx="227.7" cy="228.5" r="2.7"/><circle cx="225.6" cy="117.3" r="2.7"/><circle cx="220.3" cy="222.4" r="2.7"/><circle cx="236.7" cy="202.8" r="2.7"/><circle cx="228.4" cy="221.2" r="2.7"/><circle cx="258.9" cy="251.4" r="2.7"/><circle cx="259.5" cy="240.7" r="2.7"/><circle cx="231.3" cy="322.7" r="2.7"/><circle cx="246.7" cy="143.3" r="2.7"/><circle cx="262.5" cy="266.7" r="2.7"/><circle cx="232.1" cy="193.9" r="2.7"/><circle cx="243.1" cy="261.4" r="2.7"/><circle cx="236.8" cy="284" r="2.7"/><circle cx="248.4" cy="318.4" r="2.7"/><circle cx="265.7" cy="166.8" r="2.7"/><circle cx="219.8" cy="202.1" r="2.7"/><circle cx="266.1" cy="297.3" r="2.7"/><circle cx="249.3" cy="297" r="2.7"/><circle cx="256.6" cy="187.5" r="2.7"/><circle cx="247.6" cy="295.5" r="2.7"/><circle cx="260.7" cy="193" r="2.7"/><circle cx="230.3" cy="187.9" r="2.7"/><circle cx="251.7" cy="256.5" r="2.7"/><circle cx="226.8" cy="205.5" r="2.7"/><circle cx="240.5" cy="200.9" r="2.7"/><circle cx="250.2" cy="189.6" r="2.7"/><circle cx="223.3" cy="198.3" r="2.7"/><circle cx="215.4" cy="139" r="2.7"/><circle cx="256.3" cy="114.4" r="2.7"/><circle cx="257.3" cy="254.8" r="2.7"/><circle cx="249.3" cy="222.1" r="2.7"/><circle cx="230" cy="240.8" r="2.7"/><circle cx="248.9" cy="265.7" r="2.7"/><circle cx="216.7" cy="160.1" r="2.7"/><circle cx="249.1" cy="161.3" r="2.7"/><circle cx="244.3" cy="170.9" r="2.7"/><circle cx="246.6" cy="174.9" r="2.7"/><circle cx="237" cy="256.3" r="2.7"/><circle cx="224.6" cy="188.2" r="2.7"/><circle cx="252.6" cy="180.1" r="2.7"/><circle cx="238" cy="233.5" r="2.7"/><circle cx="253.7" cy="151" r="2.7"/><circle cx="232.4" cy="129.5" r="2.7"/><circle cx="216.9" cy="246.5" r="2.7"/><circle cx="242.4" cy="257.1" r="2.7"/><circle cx="246.9" cy="172.7" r="2.7"/><circle cx="263.6" cy="234.5" r="2.7"/><circle cx="261.7" cy="102.6" r="2.7"/><circle cx="215.2" cy="192.4" r="2.7"/><circle cx="255.2" cy="223.2" r="2.7"/><circle cx="226.6" cy="165.2" r="2.7"/><circle cx="251" cy="184" r="2.7"/><circle cx="233.3" cy="228.8" r="2.7"/><circle cx="230" cy="226" r="2.7"/><circle cx="239.3" cy="142.9" r="2.7"/><circle cx="241.7" cy="247.5" r="2.7"/><circle cx="250.9" cy="122.6" r="2.7"/><circle cx="247.7" cy="306.8" r="2.7"/><circle cx="250" cy="153.5" r="2.7"/><circle cx="233.5" cy="165.9" r="2.7"/><circle cx="249.9" cy="153" r="2.7"/><circle cx="231.3" cy="318.1" r="2.7"/><circle cx="246" cy="172.6" r="2.7"/><circle cx="237.7" cy="228.7" r="2.7"/><circle cx="243.5" cy="317.3" r="2.7"/><circle cx="213" cy="298.9" r="2.7"/><circle cx="239.9" cy="106.7" r="2.7"/><circle cx="224.3" cy="214.6" r="2.7"/><circle cx="233.6" cy="227.4" r="2.7"/><circle cx="216.1" cy="246.4" r="2.7"/><circle cx="248.8" cy="180.3" r="2.7"/><circle cx="262" cy="178.9" r="2.7"/><circle cx="231.9" cy="80.2" r="2.7"/><circle cx="217.9" cy="103.9" r="2.7"/><circle cx="246.7" cy="218.1" r="2.7"/><circle cx="219.1" cy="120.6" r="2.7"/><circle cx="261.9" cy="153.5" r="2.7"/><circle cx="218.9" cy="181" r="2.7"/><circle cx="232.3" cy="119.4" r="2.7"/><circle cx="239.7" cy="101.5" r="2.7"/><circle cx="218.6" cy="291.9" r="2.7"/><circle cx="229.8" cy="199.2" r="2.7"/><circle cx="227.4" cy="156" r="2.7"/><circle cx="251.9" cy="247.3" r="2.7"/><circle cx="267.2" cy="86.3" r="2.7"/><circle cx="232.3" cy="162.2" r="2.7"/><circle cx="256.3" cy="303.7" r="2.7"/><circle cx="219.9" cy="285.2" r="2.7"/><circle cx="244.5" cy="234.3" r="2.7"/><circle cx="236.2" cy="127" r="2.7"/><circle cx="228.1" cy="178.5" r="2.7"/><circle cx="258" cy="98.8" r="2.7"/><circle cx="253.8" cy="158.6" r="2.7"/><circle cx="219.5" cy="97.5" r="2.7"/><circle cx="228.4" cy="135.3" r="2.7"/><circle cx="257.9" cy="233.5" r="2.7"/><circle cx="267.6" cy="128.3" r="2.7"/><circle cx="246.2" cy="143.4" r="2.7"/><circle cx="260.8" cy="287.2" r="2.7"/><circle cx="267.1" cy="180.2" r="2.7"/><circle cx="253.5" cy="180.5" r="2.7"/><circle cx="248.1" cy="123.4" r="2.7"/><circle cx="224.4" cy="264.4" r="2.7"/><circle cx="232.7" cy="241.4" r="2.7"/><circle cx="246.9" cy="218.7" r="2.7"/><circle cx="263.9" cy="231.1" r="2.7"/><circle cx="228.9" cy="128.4" r="2.7"/><circle cx="234.1" cy="167" r="2.7"/><circle cx="213.2" cy="224.1" r="2.7"/><circle cx="251" cy="300.1" r="2.7"/><circle cx="236.8" cy="267.5" r="2.7"/><circle cx="256.7" cy="235.4" r="2.7"/><circle cx="225.1" cy="213.5" r="2.7"/><circle cx="248.9" cy="90.3" r="2.7"/><circle cx="249.7" cy="283.4" r="2.7"/><circle cx="238" cy="117.7" r="2.7"/><circle cx="222.6" cy="137.3" r="2.7"/><circle cx="234.6" cy="245" r="2.7"/><circle cx="253.7" cy="266.7" r="2.7"/><circle cx="222.6" cy="260.8" r="2.7"/><circle cx="217" cy="202.2" r="2.7"/><circle cx="237.9" cy="148.3" r="2.7"/></g>
<path d="M242.5,75.3 L242.6,76.8 L242.8,78.3 L242.9,79.8 L243.1,81.3 L243.3,82.8 L243.5,84.4 L243.7,85.9 L243.9,87.4 L244.1,88.9 L244.4,90.4 L244.6,91.9 L244.9,93.4 L245.1,94.9 L245.5,96.4 L245.8,97.9 L246.2,99.4 L246.6,101 L247,102.5 L247.3,104 L247.6,105.5 L247.9,107 L248.2,108.5 L248.4,110 L248.6,111.5 L248.9,113 L249.1,114.5 L249.4,116 L249.7,117.6 L250,119.1 L250.3,120.6 L250.6,122.1 L250.9,123.6 L251.2,125.1 L251.5,126.6 L251.8,128.1 L252.1,129.6 L252.4,131.1 L252.7,132.6 L253,134.2 L253.3,135.7 L253.6,137.2 L253.9,138.7 L254.1,140.2 L254.3,141.7 L254.5,143.2 L254.7,144.7 L254.9,146.2 L255.1,147.7 L255.3,149.2 L255.5,150.8 L255.7,152.3 L255.9,153.8 L256.1,155.3 L256.2,156.8 L256.4,158.3 L256.7,159.8 L256.9,161.3 L257.1,162.8 L257.3,164.3 L257.5,165.8 L257.8,167.4 L258.1,168.9 L258.4,170.4 L258.7,171.9 L259,173.4 L259.3,174.9 L259.5,176.4 L259.7,177.9 L259.8,179.4 L259.9,180.9 L260,182.4 L260,184 L260.1,185.5 L260.1,187 L260.2,188.5 L260.2,190 L260.2,191.5 L260.3,193 L260.3,194.5 L260.3,196 L260.3,197.5 L260.3,199 L260.4,200.6 L260.4,202.1 L260.4,203.6 L260.4,205.1 L260.4,206.6 L260.4,208.1 L260.4,209.6 L260.4,211.1 L260.4,212.6 L260.4,214.1 L260.4,215.6 L260.4,217.2 L260.4,218.7 L260.3,220.2 L260.3,221.7 L260.3,223.2 L260.3,224.7 L260.3,226.2 L260.3,227.7 L260.3,229.2 L260.3,230.7 L260.3,232.2 L260.2,233.8 L260.2,235.3 L260.2,236.8 L260.2,238.3 L260.2,239.8 L260.1,241.3 L260.1,242.8 L260,244.3 L260,245.8 L259.9,247.3 L259.8,248.8 L259.7,250.4 L259.6,251.9 L259.4,253.4 L259.3,254.9 L259.2,256.4 L259.1,257.9 L258.9,259.4 L258.8,260.9 L258.6,262.4 L258.5,263.9 L258.3,265.4 L258.1,267 L257.9,268.5 L257.7,270 L257.5,271.5 L257.2,273 L257,274.5 L256.7,276 L256.5,277.5 L256.2,279 L255.9,280.5 L255.7,282 L255.4,283.6 L255,285.1 L254.7,286.6 L254.4,288.1 L254,289.6 L253.7,291.1 L253.3,292.6 L252.9,294.1 L252.5,295.6 L252.1,297.1 L251.7,298.6 L251.2,300.2 L250.8,301.7 L250.2,303.2 L249.6,304.7 L248.9,306.2 L248.2,307.7 L247.5,309.2 L246.9,310.7 L246.2,312.2 L245.6,313.7 L245.1,315.2 L244.7,316.8 L244.4,318.3 L244.3,319.8 L244.3,321.3 L244.3,322.8 L244.3,324.3 L235.7,324.3 L235.7,322.8 L235.7,321.3 L235.7,319.8 L235.6,318.3 L235.3,316.8 L234.9,315.2 L234.4,313.7 L233.8,312.2 L233.1,310.7 L232.5,309.2 L231.8,307.7 L231.1,306.2 L230.4,304.7 L229.8,303.2 L229.2,301.7 L228.8,300.2 L228.3,298.6 L227.9,297.1 L227.5,295.6 L227.1,294.1 L226.7,292.6 L226.3,291.1 L226,289.6 L225.6,288.1 L225.3,286.6 L225,285.1 L224.6,283.6 L224.3,282 L224.1,280.5 L223.8,279 L223.5,277.5 L223.3,276 L223,274.5 L222.8,273 L222.5,271.5 L222.3,270 L222.1,268.5 L221.9,267 L221.7,265.4 L221.5,263.9 L221.4,262.4 L221.2,260.9 L221.1,259.4 L220.9,257.9 L220.8,256.4 L220.7,254.9 L220.6,253.4 L220.4,251.9 L220.3,250.4 L220.2,248.8 L220.1,247.3 L220,245.8 L220,244.3 L219.9,242.8 L219.9,241.3 L219.8,239.8 L219.8,238.3 L219.8,236.8 L219.8,235.3 L219.8,233.8 L219.7,232.2 L219.7,230.7 L219.7,229.2 L219.7,227.7 L219.7,226.2 L219.7,224.7 L219.7,223.2 L219.7,221.7 L219.7,220.2 L219.7,218.7 L219.7,217.2 L219.7,215.6 L219.7,214.1 L219.7,212.6 L219.7,211.1 L219.7,209.6 L219.7,208.1 L219.7,206.6 L219.7,205.1 L219.7,203.6 L219.7,202.1 L219.7,200.6 L219.7,199 L219.7,197.5 L219.7,196 L219.7,194.5 L219.7,193 L219.8,191.5 L219.8,190 L219.8,188.5 L219.9,187 L219.9,185.5 L220,184 L220,182.4 L220.1,180.9 L220.2,179.4 L220.3,177.9 L220.5,176.4 L220.7,174.9 L221,173.4 L221.3,171.9 L221.6,170.4 L221.9,168.9 L222.2,167.4 L222.5,165.8 L222.7,164.3 L222.9,162.8 L223.1,161.3 L223.3,159.8 L223.6,158.3 L223.8,156.8 L223.9,155.3 L224.1,153.8 L224.3,152.3 L224.5,150.8 L224.7,149.2 L224.9,147.7 L225.1,146.2 L225.3,144.7 L225.5,143.2 L225.7,141.7 L225.9,140.2 L226.1,138.7 L226.4,137.2 L226.7,135.7 L227,134.2 L227.3,132.6 L227.6,131.1 L227.9,129.6 L228.2,128.1 L228.5,126.6 L228.8,125.1 L229.1,123.6 L229.4,122.1 L229.7,120.6 L230,119.1 L230.3,117.6 L230.6,116 L230.9,114.5 L231.1,113 L231.4,111.5 L231.6,110 L231.8,108.5 L232.1,107 L232.4,105.5 L232.7,104 L233,102.5 L233.4,101 L233.8,99.4 L234.2,97.9 L234.5,96.4 L234.9,94.9 L235.1,93.4 L235.4,91.9 L235.6,90.4 L235.9,88.9 L236.1,87.4 L236.3,85.9 L236.5,84.4 L236.7,82.8 L236.9,81.3 L237.1,79.8 L237.2,78.3 L237.4,76.8 L237.5,75.3 Z" fill="none" stroke="#000" stroke-width="1.85" stroke-linejoin="round"/>
<path d="M139.2,68.3 V61.8 H240 V68.3" fill="none" stroke="#000" stroke-width="1.9"/>
<text x="189.6" y="64.1" font-size="16.5" text-anchor="middle">***</text>
<rect x="79" y="47.6" width="221.5" height="316.9" fill="none" stroke="#000" stroke-width="2"/>
<line x1="71.5" y1="312.4" x2="79" y2="312.4" stroke="#000" stroke-width="1.9"/>
<text x="67" y="319.2" font-size="22.8" text-anchor="end">2</text>
<line x1="71.5" y1="236.9" x2="79" y2="236.9" stroke="#000" stroke-width="1.9"/>
<text x="67" y="243.7" font-size="22.8" text-anchor="end">4</text>
<line x1="71.5" y1="161.3" x2="79" y2="161.3" stroke="#000" stroke-width="1.9"/>
<text x="67" y="168.1" font-size="22.8" text-anchor="end">6</text>
<line x1="71.5" y1="85.8" x2="79" y2="85.8" stroke="#000" stroke-width="1.9"/>
<text x="67" y="92.6" font-size="22.8" text-anchor="end">8</text>
<line x1="139.2" y1="364.5" x2="139.2" y2="372" stroke="#000" stroke-width="1.9"/>
<text x="140.7" y="392.5" font-size="22.3" text-anchor="middle">G2</text>
<line x1="239.6" y1="364.5" x2="239.6" y2="372" stroke="#000" stroke-width="1.9"/>
<text x="241.1" y="392.5" font-size="22.3" text-anchor="middle">G3</text>
<text x="131.5" y="420.7" font-size="25" text-anchor="start">WHO grade</text>
<text x="16" y="206" font-size="22.3" text-anchor="middle" transform="rotate(-90 16 206)">PLEKHA4 expression</text>
<text x="36.9" y="206" font-size="22.3" text-anchor="middle" transform="rotate(-90 36.9 206)">Log<tspan font-size="16" dy="5.6">2</tspan><tspan dy="-5.6"> (TPM+1)</tspan></text>
<path d="M516.4,67.4 L516.8,68.9 L517.2,70.4 L517.7,71.9 L518.2,73.5 L518.7,75 L519.3,76.5 L519.9,78 L520.6,79.5 L521.3,81 L522,82.6 L522.7,84.1 L523.3,85.6 L524,87.1 L524.6,88.6 L525.2,90.1 L525.8,91.7 L526.4,93.2 L526.9,94.7 L527.5,96.2 L528,97.7 L528.5,99.2 L529,100.7 L529.5,102.3 L530,103.8 L530.5,105.3 L530.9,106.8 L531.4,108.3 L531.8,109.8 L532.2,111.4 L532.6,112.9 L532.9,114.4 L533.3,115.9 L533.6,117.4 L534,118.9 L534.3,120.4 L534.6,122 L534.9,123.5 L535.2,125 L535.5,126.5 L535.7,128 L536,129.5 L536.2,131.1 L536.4,132.6 L536.6,134.1 L536.7,135.6 L536.9,137.1 L537.1,138.6 L537.2,140.2 L537.3,141.7 L537.5,143.2 L537.6,144.7 L537.7,146.2 L537.8,147.7 L537.9,149.2 L537.9,150.8 L537.9,152.3 L537.9,153.8 L537.9,155.3 L537.8,156.8 L537.8,158.3 L537.8,159.9 L537.7,161.4 L537.5,162.9 L537.4,164.4 L537.2,165.9 L537,167.4 L536.8,169 L536.5,170.5 L536.2,172 L535.9,173.5 L535.5,175 L535.1,176.5 L534.7,178 L534.3,179.6 L533.8,181.1 L533.3,182.6 L532.8,184.1 L532.2,185.6 L531.6,187.1 L531,188.7 L530.4,190.2 L529.7,191.7 L529.1,193.2 L528.5,194.7 L527.9,196.2 L527.2,197.7 L526.6,199.3 L526,200.8 L525.3,202.3 L524.6,203.8 L524,205.3 L523.4,206.8 L522.8,208.4 L522.2,209.9 L521.6,211.4 L521.1,212.9 L520.7,214.4 L520.3,215.9 L519.9,217.5 L519.6,219 L519.3,220.5 L519,222 L518.8,223.5 L518.5,225 L518.2,226.5 L518,228.1 L517.8,229.6 L517.5,231.1 L517.3,232.6 L517.1,234.1 L516.9,235.6 L516.7,237.2 L516.5,238.7 L516.3,240.2 L516.2,241.7 L516,243.2 L515.9,244.7 L515.7,246.2 L515.6,247.8 L515.5,249.3 L515.4,250.8 L515.2,252.3 L515.1,253.8 L514.9,255.3 L514.7,256.9 L514.5,258.4 L514.4,259.9 L514.3,261.4 L514.2,262.9 L514.1,264.4 L514,266 L513.9,267.5 L513.8,269 L513.8,270.5 L513.8,272 L513.8,273.5 L513.9,275 L513.9,276.6 L514,278.1 L514,279.6 L514,281.1 L514.1,282.6 L514.2,284.1 L514.2,285.7 L514.3,287.2 L514.3,288.7 L514.3,290.2 L514.3,291.7 L514.3,293.2 L514.3,294.8 L514.3,296.3 L514.3,297.8 L514.3,299.3 L514.3,300.8 L514.3,302.3 L514.3,303.8 L514.2,305.4 L514.2,306.9 L514.2,308.4 L514.2,309.9 L514.1,311.4 L514,312.9 L514,314.5 L513.9,316 L513.8,317.5 L513.7,319 L513.7,320.5 L513.6,322 L513.5,323.5 L513.4,325.1 L513.3,326.6 L513.2,328.1 L513.2,329.6 L513.1,331.1 L513,332.6 L512.9,334.2 L512.8,335.7 L512.8,337.2 L512.7,338.7 L512.6,340.2 L512.6,341.7 L512.5,343.3 L512.5,344.8 L512.4,346.3 L512.4,347.8 L509.2,347.8 L509.2,346.3 L509.1,344.8 L509.1,343.3 L509,341.7 L509,340.2 L508.9,338.7 L508.8,337.2 L508.8,335.7 L508.7,334.2 L508.6,332.6 L508.5,331.1 L508.4,329.6 L508.4,328.1 L508.3,326.6 L508.2,325.1 L508.1,323.5 L508,322 L507.9,320.5 L507.9,319 L507.8,317.5 L507.7,316 L507.6,314.5 L507.6,312.9 L507.5,311.4 L507.4,309.9 L507.4,308.4 L507.4,306.9 L507.4,305.4 L507.3,303.8 L507.3,302.3 L507.3,300.8 L507.3,299.3 L507.3,297.8 L507.3,296.3 L507.3,294.8 L507.3,293.2 L507.3,291.7 L507.3,290.2 L507.3,288.7 L507.3,287.2 L507.4,285.7 L507.4,284.1 L507.5,282.6 L507.6,281.1 L507.6,279.6 L507.6,278.1 L507.7,276.6 L507.7,275 L507.8,273.5 L507.8,272 L507.8,270.5 L507.8,269 L507.7,267.5 L507.6,266 L507.5,264.4 L507.4,262.9 L507.3,261.4 L507.2,259.9 L507.1,258.4 L506.9,256.9 L506.7,255.3 L506.5,253.8 L506.4,252.3 L506.2,250.8 L506.1,249.3 L506,247.8 L505.9,246.2 L505.7,244.7 L505.6,243.2 L505.4,241.7 L505.3,240.2 L505.1,238.7 L504.9,237.2 L504.7,235.6 L504.5,234.1 L504.3,232.6 L504.1,231.1 L503.8,229.6 L503.6,228.1 L503.4,226.5 L503.1,225 L502.8,223.5 L502.6,222 L502.3,220.5 L502,219 L501.7,217.5 L501.3,215.9 L500.9,214.4 L500.5,212.9 L500,211.4 L499.4,209.9 L498.8,208.4 L498.2,206.8 L497.6,205.3 L497,203.8 L496.3,202.3 L495.6,200.8 L495,199.3 L494.4,197.7 L493.7,196.2 L493.1,194.7 L492.5,193.2 L491.9,191.7 L491.2,190.2 L490.6,188.7 L490,187.1 L489.4,185.6 L488.8,184.1 L488.3,182.6 L487.8,181.1 L487.3,179.6 L486.9,178 L486.5,176.5 L486.1,175 L485.7,173.5 L485.4,172 L485.1,170.5 L484.8,169 L484.6,167.4 L484.4,165.9 L484.2,164.4 L484.1,162.9 L483.9,161.4 L483.8,159.9 L483.8,158.3 L483.8,156.8 L483.7,155.3 L483.7,153.8 L483.7,152.3 L483.7,150.8 L483.7,149.2 L483.8,147.7 L483.9,146.2 L484,144.7 L484.1,143.2 L484.3,141.7 L484.4,140.2 L484.5,138.6 L484.7,137.1 L484.9,135.6 L485,134.1 L485.2,132.6 L485.4,131.1 L485.6,129.5 L485.9,128 L486.1,126.5 L486.4,125 L486.7,123.5 L487,122 L487.3,120.4 L487.6,118.9 L488,117.4 L488.3,115.9 L488.7,114.4 L489,112.9 L489.4,111.4 L489.8,109.8 L490.2,108.3 L490.7,106.8 L491.1,105.3 L491.6,103.8 L492.1,102.3 L492.6,100.7 L493.1,99.2 L493.6,97.7 L494.1,96.2 L494.7,94.7 L495.2,93.2 L495.8,91.7 L496.4,90.1 L497,88.6 L497.6,87.1 L498.3,85.6 L498.9,84.1 L499.6,82.6 L500.3,81 L501,79.5 L501.7,78 L502.3,76.5 L502.9,75 L503.4,73.5 L503.9,71.9 L504.4,70.4 L504.8,68.9 L505.2,67.4 Z" fill="#bee3ef"/>
<line x1="510.8" y1="67.4" x2="510.8" y2="270.5" stroke="#000" stroke-width="1.8"/>
<rect x="501.7" y="128.5" width="18.3" height="61" fill="#1ba3cc" stroke="#000" stroke-width="2.0"/>
<line x1="501.7" y1="156.5" x2="520" y2="156.5" stroke="#000" stroke-width="3"/>
<g fill="rgba(27,163,204,0.7)"><circle cx="500.5" cy="120.9" r="2.7"/><circle cx="500.9" cy="201.7" r="2.7"/><circle cx="523.3" cy="206.5" r="2.7"/><circle cx="483.1" cy="282.6" r="2.7"/><circle cx="495.7" cy="213.2" r="2.7"/><circle cx="533" cy="175.2" r="2.7"/><circle cx="530.7" cy="113.2" r="2.7"/><circle cx="518" cy="207.8" r="2.7"/><circle cx="514.1" cy="186.7" r="2.7"/><circle cx="495.3" cy="191.4" r="2.7"/><circle cx="531.8" cy="182.3" r="2.7"/><circle cx="525.4" cy="210.3" r="2.7"/><circle cx="511.5" cy="130.3" r="2.7"/><circle cx="491.8" cy="179.8" r="2.7"/><circle cx="494.9" cy="157.6" r="2.7"/><circle cx="504" cy="135.3" r="2.7"/><circle cx="501.3" cy="134.5" r="2.7"/><circle cx="486.2" cy="109" r="2.7"/><circle cx="505.6" cy="155.5" r="2.7"/><circle cx="507.9" cy="138.4" r="2.7"/><circle cx="498.9" cy="146" r="2.7"/><circle cx="504.3" cy="217.7" r="2.7"/><circle cx="501.4" cy="181.6" r="2.7"/><circle cx="503.9" cy="179.3" r="2.7"/><circle cx="517.5" cy="321.6" r="2.7"/><circle cx="510.7" cy="116.7" r="2.7"/><circle cx="493.9" cy="156.3" r="2.7"/><circle cx="527.3" cy="96.7" r="2.7"/><circle cx="511.5" cy="141.9" r="2.7"/><circle cx="508.5" cy="287.9" r="2.7"/><circle cx="522.7" cy="94" r="2.7"/><circle cx="524.9" cy="193" r="2.7"/><circle cx="530.3" cy="224" r="2.7"/><circle cx="528.2" cy="157.1" r="2.7"/><circle cx="520.3" cy="200.1" r="2.7"/><circle cx="523.2" cy="147.6" r="2.7"/><circle cx="491.6" cy="137.3" r="2.7"/><circle cx="522" cy="157.1" r="2.7"/><circle cx="497" cy="114.3" r="2.7"/><circle cx="497.2" cy="130.6" r="2.7"/><circle cx="489.5" cy="131.8" r="2.7"/><circle cx="505" cy="328" r="2.7"/><circle cx="483.9" cy="134.4" r="2.7"/><circle cx="519.6" cy="119" r="2.7"/><circle cx="524.7" cy="275.9" r="2.7"/><circle cx="526.2" cy="104.9" r="2.7"/><circle cx="490" cy="301.7" r="2.7"/><circle cx="518.7" cy="217" r="2.7"/><circle cx="529.7" cy="174.6" r="2.7"/><circle cx="484.8" cy="146.1" r="2.7"/><circle cx="493.6" cy="114.1" r="2.7"/><circle cx="497.8" cy="99" r="2.7"/><circle cx="508.7" cy="99.7" r="2.7"/><circle cx="492.4" cy="136.4" r="2.7"/><circle cx="513" cy="144.1" r="2.7"/><circle cx="502.1" cy="258.8" r="2.7"/><circle cx="519.5" cy="159.9" r="2.7"/><circle cx="512.6" cy="331" r="2.7"/><circle cx="521.2" cy="186.8" r="2.7"/><circle cx="496.6" cy="106.9" r="2.7"/><circle cx="522.4" cy="162.5" r="2.7"/><circle cx="523.9" cy="108.9" r="2.7"/><circle cx="523.2" cy="84.6" r="2.7"/><circle cx="486.6" cy="280.8" r="2.7"/><circle cx="535.8" cy="134.9" r="2.7"/><circle cx="515.1" cy="113.5" r="2.7"/><circle cx="498" cy="97.4" r="2.7"/><circle cx="507.1" cy="176.8" r="2.7"/><circle cx="511.8" cy="151.3" r="2.7"/><circle cx="511.8" cy="73.9" r="2.7"/><circle cx="496.7" cy="186.2" r="2.7"/><circle cx="497.6" cy="123.5" r="2.7"/><circle cx="503.2" cy="198.3" r="2.7"/><circle cx="526.5" cy="153.7" r="2.7"/><circle cx="507.3" cy="159.5" r="2.7"/><circle cx="485" cy="150.7" r="2.7"/><circle cx="508.1" cy="179.3" r="2.7"/><circle cx="494.1" cy="331.5" r="2.7"/><circle cx="483.5" cy="201.3" r="2.7"/><circle cx="537.5" cy="91.1" r="2.7"/><circle cx="499.2" cy="154.8" r="2.7"/><circle cx="512.9" cy="120.3" r="2.7"/><circle cx="502.9" cy="97.7" r="2.7"/><circle cx="485.8" cy="115.1" r="2.7"/><circle cx="533.2" cy="122.6" r="2.7"/><circle cx="535.2" cy="297" r="2.7"/><circle cx="493.2" cy="190.5" r="2.7"/><circle cx="506.2" cy="217.7" r="2.7"/><circle cx="503.7" cy="182.2" r="2.7"/><circle cx="492.2" cy="132.4" r="2.7"/><circle cx="519.9" cy="140.9" r="2.7"/><circle cx="526.6" cy="148.2" r="2.7"/><circle cx="525.3" cy="129.2" r="2.7"/><circle cx="520.6" cy="145.6" r="2.7"/></g>
<path d="M516.4,67.4 L516.8,68.9 L517.2,70.4 L517.7,71.9 L518.2,73.5 L518.7,75 L519.3,76.5 L519.9,78 L520.6,79.5 L521.3,81 L522,82.6 L522.7,84.1 L523.3,85.6 L524,87.1 L524.6,88.6 L525.2,90.1 L525.8,91.7 L526.4,93.2 L526.9,94.7 L527.5,96.2 L528,97.7 L528.5,99.2 L529,100.7 L529.5,102.3 L530,103.8 L530.5,105.3 L530.9,106.8 L531.4,108.3 L531.8,109.8 L532.2,111.4 L532.6,112.9 L532.9,114.4 L533.3,115.9 L533.6,117.4 L534,118.9 L534.3,120.4 L534.6,122 L534.9,123.5 L535.2,125 L535.5,126.5 L535.7,128 L536,129.5 L536.2,131.1 L536.4,132.6 L536.6,134.1 L536.7,135.6 L536.9,137.1 L537.1,138.6 L537.2,140.2 L537.3,141.7 L537.5,143.2 L537.6,144.7 L537.7,146.2 L537.8,147.7 L537.9,149.2 L537.9,150.8 L537.9,152.3 L537.9,153.8 L537.9,155.3 L537.8,156.8 L537.8,158.3 L537.8,159.9 L537.7,161.4 L537.5,162.9 L537.4,164.4 L537.2,165.9 L537,167.4 L536.8,169 L536.5,170.5 L536.2,172 L535.9,173.5 L535.5,175 L535.1,176.5 L534.7,178 L534.3,179.6 L533.8,181.1 L533.3,182.6 L532.8,184.1 L532.2,185.6 L531.6,187.1 L531,188.7 L530.4,190.2 L529.7,191.7 L529.1,193.2 L528.5,194.7 L527.9,196.2 L527.2,197.7 L526.6,199.3 L526,200.8 L525.3,202.3 L524.6,203.8 L524,205.3 L523.4,206.8 L522.8,208.4 L522.2,209.9 L521.6,211.4 L521.1,212.9 L520.7,214.4 L520.3,215.9 L519.9,217.5 L519.6,219 L519.3,220.5 L519,222 L518.8,223.5 L518.5,225 L518.2,226.5 L518,228.1 L517.8,229.6 L517.5,231.1 L517.3,232.6 L517.1,234.1 L516.9,235.6 L516.7,237.2 L516.5,238.7 L516.3,240.2 L516.2,241.7 L516,243.2 L515.9,244.7 L515.7,246.2 L515.6,247.8 L515.5,249.3 L515.4,250.8 L515.2,252.3 L515.1,253.8 L514.9,255.3 L514.7,256.9 L514.5,258.4 L514.4,259.9 L514.3,261.4 L514.2,262.9 L514.1,264.4 L514,266 L513.9,267.5 L513.8,269 L513.8,270.5 L513.8,272 L513.8,273.5 L513.9,275 L513.9,276.6 L514,278.1 L514,279.6 L514,281.1 L514.1,282.6 L514.2,284.1 L514.2,285.7 L514.3,287.2 L514.3,288.7 L514.3,290.2 L514.3,291.7 L514.3,293.2 L514.3,294.8 L514.3,296.3 L514.3,297.8 L514.3,299.3 L514.3,300.8 L514.3,302.3 L514.3,303.8 L514.2,305.4 L514.2,306.9 L514.2,308.4 L514.2,309.9 L514.1,311.4 L514,312.9 L514,314.5 L513.9,316 L513.8,317.5 L513.7,319 L513.7,320.5 L513.6,322 L513.5,323.5 L513.4,325.1 L513.3,326.6 L513.2,328.1 L513.2,329.6 L513.1,331.1 L513,332.6 L512.9,334.2 L512.8,335.7 L512.8,337.2 L512.7,338.7 L512.6,340.2 L512.6,341.7 L512.5,343.3 L512.5,344.8 L512.4,346.3 L512.4,347.8 L509.2,347.8 L509.2,346.3 L509.1,344.8 L509.1,343.3 L509,341.7 L509,340.2 L508.9,338.7 L508.8,337.2 L508.8,335.7 L508.7,334.2 L508.6,332.6 L508.5,331.1 L508.4,329.6 L508.4,328.1 L508.3,326.6 L508.2,325.1 L508.1,323.5 L508,322 L507.9,320.5 L507.9,319 L507.8,317.5 L507.7,316 L507.6,314.5 L507.6,312.9 L507.5,311.4 L507.4,309.9 L507.4,308.4 L507.4,306.9 L507.4,305.4 L507.3,303.8 L507.3,302.3 L507.3,300.8 L507.3,299.3 L507.3,297.8 L507.3,296.3 L507.3,294.8 L507.3,293.2 L507.3,291.7 L507.3,290.2 L507.3,288.7 L507.3,287.2 L507.4,285.7 L507.4,284.1 L507.5,282.6 L507.6,281.1 L507.6,279.6 L507.6,278.1 L507.7,276.6 L507.7,275 L507.8,273.5 L507.8,272 L507.8,270.5 L507.8,269 L507.7,267.5 L507.6,266 L507.5,264.4 L507.4,262.9 L507.3,261.4 L507.2,259.9 L507.1,258.4 L506.9,256.9 L506.7,255.3 L506.5,253.8 L506.4,252.3 L506.2,250.8 L506.1,249.3 L506,247.8 L505.9,246.2 L505.7,244.7 L505.6,243.2 L505.4,241.7 L505.3,240.2 L505.1,238.7 L504.9,237.2 L504.7,235.6 L504.5,234.1 L504.3,232.6 L504.1,231.1 L503.8,229.6 L503.6,228.1 L503.4,226.5 L503.1,225 L502.8,223.5 L502.6,222 L502.3,220.5 L502,219 L501.7,217.5 L501.3,215.9 L500.9,214.4 L500.5,212.9 L500,211.4 L499.4,209.9 L498.8,208.4 L498.2,206.8 L497.6,205.3 L497,203.8 L496.3,202.3 L495.6,200.8 L495,199.3 L494.4,197.7 L493.7,196.2 L493.1,194.7 L492.5,193.2 L491.9,191.7 L491.2,190.2 L490.6,188.7 L490,187.1 L489.4,185.6 L488.8,184.1 L488.3,182.6 L487.8,181.1 L487.3,179.6 L486.9,178 L486.5,176.5 L486.1,175 L485.7,173.5 L485.4,172 L485.1,170.5 L484.8,169 L484.6,167.4 L484.4,165.9 L484.2,164.4 L484.1,162.9 L483.9,161.4 L483.8,159.9 L483.8,158.3 L483.8,156.8 L483.7,155.3 L483.7,153.8 L483.7,152.3 L483.7,150.8 L483.7,149.2 L483.8,147.7 L483.9,146.2 L484,144.7 L484.1,143.2 L484.3,141.7 L484.4,140.2 L484.5,138.6 L484.7,137.1 L484.9,135.6 L485,134.1 L485.2,132.6 L485.4,131.1 L485.6,129.5 L485.9,128 L486.1,126.5 L486.4,125 L486.7,123.5 L487,122 L487.3,120.4 L487.6,118.9 L488,117.4 L488.3,115.9 L488.7,114.4 L489,112.9 L489.4,111.4 L489.8,109.8 L490.2,108.3 L490.7,106.8 L491.1,105.3 L491.6,103.8 L492.1,102.3 L492.6,100.7 L493.1,99.2 L493.6,97.7 L494.1,96.2 L494.7,94.7 L495.2,93.2 L495.8,91.7 L496.4,90.1 L497,88.6 L497.6,87.1 L498.3,85.6 L498.9,84.1 L499.6,82.6 L500.3,81 L501,79.5 L501.7,78 L502.3,76.5 L502.9,75 L503.4,73.5 L503.9,71.9 L504.4,70.4 L504.8,68.9 L505.2,67.4 Z" fill="none" stroke="#000" stroke-width="1.85" stroke-linejoin="round"/>
<path d="M612,73.2 L612,74.7 L612.1,76.2 L612.1,77.7 L612.1,79.2 L612.2,80.7 L612.2,82.3 L612.3,83.8 L612.3,85.3 L612.4,86.8 L612.4,88.3 L612.5,89.8 L612.5,91.3 L612.6,92.8 L612.7,94.3 L612.8,95.8 L612.9,97.3 L613,98.8 L613.1,100.4 L613.1,101.9 L613.1,103.4 L613.1,104.9 L613.2,106.4 L613.2,107.9 L613.2,109.4 L613.2,110.9 L613.3,112.4 L613.3,113.9 L613.4,115.4 L613.5,117 L613.5,118.5 L613.6,120 L613.7,121.5 L613.8,123 L613.9,124.5 L614,126 L614.1,127.5 L614.2,129 L614.4,130.5 L614.5,132 L614.6,133.5 L614.8,135.1 L614.9,136.6 L615.1,138.1 L615.2,139.6 L615.4,141.1 L615.6,142.6 L615.9,144.1 L616.1,145.6 L616.4,147.1 L616.7,148.6 L617.1,150.1 L617.4,151.7 L617.7,153.2 L618,154.7 L618.3,156.2 L618.7,157.7 L619.1,159.2 L619.5,160.7 L619.9,162.2 L620.4,163.7 L620.9,165.2 L621.4,166.7 L621.9,168.2 L622.3,169.8 L622.8,171.3 L623.3,172.8 L623.7,174.3 L624.2,175.8 L624.7,177.3 L625.2,178.8 L625.7,180.3 L626.2,181.8 L626.7,183.3 L627.2,184.8 L627.7,186.4 L628.2,187.9 L628.7,189.4 L629.2,190.9 L629.8,192.4 L630.4,193.9 L631.1,195.4 L631.9,196.9 L632.6,198.4 L633.4,199.9 L634.2,201.4 L635,202.9 L635.6,204.5 L636.1,206 L636.5,207.5 L636.9,209 L637.3,210.5 L637.6,212 L637.9,213.5 L638.2,215 L638.6,216.5 L638.9,218 L639.2,219.5 L639.5,221.1 L639.7,222.6 L639.9,224.1 L640.1,225.6 L640.3,227.1 L640.5,228.6 L640.6,230.1 L640.7,231.6 L640.8,233.1 L640.9,234.6 L640.9,236.1 L640.9,237.7 L641,239.2 L641,240.7 L641,242.2 L641,243.7 L640.9,245.2 L640.8,246.7 L640.7,248.2 L640.6,249.7 L640.4,251.2 L640.3,252.7 L640.1,254.2 L640,255.8 L639.8,257.3 L639.6,258.8 L639.4,260.3 L639.2,261.8 L639,263.3 L638.8,264.8 L638.6,266.3 L638.4,267.8 L638.2,269.3 L637.9,270.8 L637.7,272.4 L637.4,273.9 L637.1,275.4 L636.8,276.9 L636.4,278.4 L636.1,279.9 L635.7,281.4 L635.4,282.9 L635,284.4 L634.6,285.9 L634.2,287.4 L633.7,288.9 L633.2,290.5 L632.7,292 L632.2,293.5 L631.6,295 L631.1,296.5 L630.4,298 L629.8,299.5 L629.1,301 L628.3,302.5 L627.5,304 L626.7,305.5 L625.8,307.1 L625,308.6 L624.1,310.1 L623.2,311.6 L622.3,313.1 L621.3,314.6 L620.4,316.1 L619.6,317.6 L618.7,319.1 L617.9,320.6 L617,322.1 L616.2,323.6 L615.5,325.2 L615.1,326.7 L614.8,328.2 L614.6,329.7 L614.5,331.2 L614.4,332.7 L608.8,332.7 L608.7,331.2 L608.6,329.7 L608.4,328.2 L608.1,326.7 L607.7,325.2 L607,323.6 L606.2,322.1 L605.3,320.6 L604.5,319.1 L603.6,317.6 L602.8,316.1 L601.9,314.6 L600.9,313.1 L600,311.6 L599.1,310.1 L598.2,308.6 L597.4,307.1 L596.5,305.5 L595.7,304 L594.9,302.5 L594.1,301 L593.4,299.5 L592.8,298 L592.1,296.5 L591.6,295 L591,293.5 L590.5,292 L590,290.5 L589.5,288.9 L589,287.4 L588.6,285.9 L588.2,284.4 L587.8,282.9 L587.5,281.4 L587.1,279.9 L586.8,278.4 L586.4,276.9 L586.1,275.4 L585.8,273.9 L585.5,272.4 L585.3,270.8 L585,269.3 L584.8,267.8 L584.6,266.3 L584.4,264.8 L584.2,263.3 L584,261.8 L583.8,260.3 L583.6,258.8 L583.4,257.3 L583.2,255.8 L583.1,254.2 L582.9,252.7 L582.8,251.2 L582.6,249.7 L582.5,248.2 L582.4,246.7 L582.3,245.2 L582.2,243.7 L582.2,242.2 L582.2,240.7 L582.2,239.2 L582.3,237.7 L582.3,236.1 L582.3,234.6 L582.4,233.1 L582.5,231.6 L582.6,230.1 L582.7,228.6 L582.9,227.1 L583.1,225.6 L583.3,224.1 L583.5,222.6 L583.7,221.1 L584,219.5 L584.3,218 L584.6,216.5 L585,215 L585.3,213.5 L585.6,212 L585.9,210.5 L586.3,209 L586.7,207.5 L587.1,206 L587.6,204.5 L588.2,202.9 L589,201.4 L589.8,199.9 L590.6,198.4 L591.3,196.9 L592.1,195.4 L592.8,193.9 L593.4,192.4 L594,190.9 L594.5,189.4 L595,187.9 L595.5,186.4 L596,184.8 L596.5,183.3 L597,181.8 L597.5,180.3 L598,178.8 L598.5,177.3 L599,175.8 L599.5,174.3 L599.9,172.8 L600.4,171.3 L600.9,169.8 L601.3,168.2 L601.8,166.7 L602.3,165.2 L602.8,163.7 L603.3,162.2 L603.7,160.7 L604.1,159.2 L604.5,157.7 L604.9,156.2 L605.2,154.7 L605.5,153.2 L605.8,151.7 L606.1,150.1 L606.5,148.6 L606.8,147.1 L607.1,145.6 L607.3,144.1 L607.6,142.6 L607.8,141.1 L608,139.6 L608.1,138.1 L608.3,136.6 L608.4,135.1 L608.6,133.5 L608.7,132 L608.8,130.5 L609,129 L609.1,127.5 L609.2,126 L609.3,124.5 L609.4,123 L609.5,121.5 L609.6,120 L609.7,118.5 L609.7,117 L609.8,115.4 L609.9,113.9 L609.9,112.4 L610,110.9 L610,109.4 L610,107.9 L610,106.4 L610.1,104.9 L610.1,103.4 L610.1,101.9 L610.1,100.4 L610.2,98.8 L610.3,97.3 L610.4,95.8 L610.5,94.3 L610.6,92.8 L610.7,91.3 L610.7,89.8 L610.8,88.3 L610.8,86.8 L610.9,85.3 L610.9,83.8 L611,82.3 L611,80.7 L611.1,79.2 L611.1,77.7 L611.1,76.2 L611.2,74.7 L611.2,73.2 Z" fill="#f6c0bd"/>
<line x1="611.6" y1="73.2" x2="611.6" y2="332.7" stroke="#000" stroke-width="1.8"/>
<rect x="601.6" y="207.8" width="19.9" height="64.6" fill="#e6261f" stroke="#000" stroke-width="2.0"/>
<line x1="601.6" y1="240.3" x2="621.6" y2="240.3" stroke="#000" stroke-width="3"/>
<g fill="rgba(232,38,31,0.7)"><circle cx="623.4" cy="123.9" r="2.7"/><circle cx="628.6" cy="203" r="2.7"/><circle cx="607.4" cy="241" r="2.7"/><circle cx="639" cy="266.1" r="2.7"/><circle cx="619" cy="225.6" r="2.7"/><circle cx="626" cy="233.8" r="2.7"/><circle cx="584.8" cy="286.1" r="2.7"/><circle cx="589.9" cy="133.6" r="2.7"/><circle cx="623.4" cy="208.3" r="2.7"/><circle cx="636.4" cy="211.4" r="2.7"/><circle cx="618.8" cy="325.7" r="2.7"/><circle cx="634.7" cy="203.3" r="2.7"/><circle cx="586.9" cy="153.7" r="2.7"/><circle cx="633.5" cy="228.7" r="2.7"/><circle cx="632.7" cy="258.9" r="2.7"/><circle cx="618.8" cy="187.9" r="2.7"/><circle cx="607.7" cy="286.3" r="2.7"/><circle cx="623.1" cy="196.7" r="2.7"/><circle cx="597.3" cy="266.3" r="2.7"/><circle cx="621" cy="190.8" r="2.7"/><circle cx="622.5" cy="293.7" r="2.7"/><circle cx="613.8" cy="198" r="2.7"/><circle cx="598.2" cy="268.6" r="2.7"/><circle cx="583.7" cy="285.3" r="2.7"/><circle cx="594.6" cy="207" r="2.7"/><circle cx="630.3" cy="173.3" r="2.7"/><circle cx="595.5" cy="250" r="2.7"/><circle cx="587.8" cy="239.5" r="2.7"/><circle cx="597.4" cy="236.1" r="2.7"/><circle cx="612.7" cy="276.3" r="2.7"/><circle cx="616.4" cy="234.6" r="2.7"/><circle cx="632.7" cy="239.7" r="2.7"/><circle cx="631.5" cy="237.7" r="2.7"/><circle cx="637.8" cy="233.3" r="2.7"/><circle cx="633.1" cy="226.9" r="2.7"/><circle cx="608.8" cy="190.4" r="2.7"/><circle cx="591.5" cy="212.2" r="2.7"/><circle cx="637.1" cy="209" r="2.7"/><circle cx="596.4" cy="205.7" r="2.7"/><circle cx="618.4" cy="276.5" r="2.7"/><circle cx="598.4" cy="179.1" r="2.7"/><circle cx="629.3" cy="198.2" r="2.7"/><circle cx="594.8" cy="242.3" r="2.7"/><circle cx="607.2" cy="214.7" r="2.7"/><circle cx="595.9" cy="204.8" r="2.7"/><circle cx="631.8" cy="222.4" r="2.7"/><circle cx="618.3" cy="239.1" r="2.7"/><circle cx="618.9" cy="262.4" r="2.7"/><circle cx="601.2" cy="314.9" r="2.7"/><circle cx="593.5" cy="287.8" r="2.7"/><circle cx="631.6" cy="229.9" r="2.7"/><circle cx="626.4" cy="233.6" r="2.7"/><circle cx="624.7" cy="228.4" r="2.7"/><circle cx="639.4" cy="205.2" r="2.7"/><circle cx="614.9" cy="307.6" r="2.7"/><circle cx="593.6" cy="164" r="2.7"/><circle cx="617.7" cy="198.9" r="2.7"/><circle cx="599.7" cy="260.3" r="2.7"/><circle cx="612.3" cy="251.6" r="2.7"/><circle cx="609.3" cy="209.9" r="2.7"/><circle cx="615.2" cy="304.8" r="2.7"/><circle cx="635.2" cy="229" r="2.7"/><circle cx="629" cy="250.7" r="2.7"/><circle cx="606.8" cy="172.4" r="2.7"/><circle cx="629.4" cy="295.1" r="2.7"/><circle cx="631.8" cy="176.2" r="2.7"/><circle cx="626.9" cy="225.1" r="2.7"/><circle cx="614.5" cy="294.2" r="2.7"/><circle cx="634" cy="305.3" r="2.7"/><circle cx="611.1" cy="297.2" r="2.7"/><circle cx="589.5" cy="284.8" r="2.7"/><circle cx="598.8" cy="202.9" r="2.7"/><circle cx="620.4" cy="142.4" r="2.7"/><circle cx="604.8" cy="232.5" r="2.7"/><circle cx="607.3" cy="161.6" r="2.7"/><circle cx="606.1" cy="310.3" r="2.7"/><circle cx="594.4" cy="105.3" r="2.7"/><circle cx="588.8" cy="217.1" r="2.7"/><circle cx="586.3" cy="198.2" r="2.7"/><circle cx="621.3" cy="117.6" r="2.7"/><circle cx="601.8" cy="238.9" r="2.7"/><circle cx="609.2" cy="167.4" r="2.7"/><circle cx="636" cy="297.1" r="2.7"/><circle cx="618.7" cy="262.8" r="2.7"/><circle cx="629" cy="223.1" r="2.7"/><circle cx="626.3" cy="286.2" r="2.7"/><circle cx="637" cy="280.2" r="2.7"/><circle cx="587.3" cy="217" r="2.7"/><circle cx="605.1" cy="287.5" r="2.7"/><circle cx="636.8" cy="302.5" r="2.7"/><circle cx="609.6" cy="254" r="2.7"/><circle cx="636.7" cy="221.6" r="2.7"/><circle cx="594" cy="297.1" r="2.7"/><circle cx="587" cy="305" r="2.7"/><circle cx="633.7" cy="220" r="2.7"/><circle cx="606.6" cy="170.9" r="2.7"/><circle cx="612.1" cy="290" r="2.7"/><circle cx="636" cy="259.8" r="2.7"/><circle cx="595.9" cy="203.1" r="2.7"/><circle cx="637.8" cy="247.9" r="2.7"/><circle cx="605.8" cy="214.6" r="2.7"/><circle cx="597.5" cy="298.9" r="2.7"/><circle cx="596.7" cy="219.3" r="2.7"/><circle cx="612.6" cy="197.3" r="2.7"/><circle cx="609.8" cy="150.9" r="2.7"/><circle cx="633.2" cy="219.5" r="2.7"/><circle cx="586.4" cy="322.3" r="2.7"/><circle cx="586.1" cy="200.8" r="2.7"/><circle cx="592.2" cy="234.3" r="2.7"/><circle cx="617.5" cy="315.2" r="2.7"/><circle cx="627.4" cy="102.6" r="2.7"/><circle cx="610.5" cy="212.5" r="2.7"/><circle cx="618" cy="282.4" r="2.7"/><circle cx="619.6" cy="174.7" r="2.7"/><circle cx="584.7" cy="302.5" r="2.7"/><circle cx="597.4" cy="283.9" r="2.7"/><circle cx="639.5" cy="186.3" r="2.7"/><circle cx="602.1" cy="251.9" r="2.7"/><circle cx="636.6" cy="247.3" r="2.7"/><circle cx="611.2" cy="264.6" r="2.7"/><circle cx="596.1" cy="212.9" r="2.7"/><circle cx="583.7" cy="224.7" r="2.7"/><circle cx="595.8" cy="205.2" r="2.7"/><circle cx="601.6" cy="212" r="2.7"/><circle cx="608.2" cy="193.5" r="2.7"/><circle cx="608.6" cy="296.6" r="2.7"/><circle cx="614.3" cy="293.8" r="2.7"/><circle cx="610.2" cy="221" r="2.7"/><circle cx="585.4" cy="264.6" r="2.7"/><circle cx="598.6" cy="237.3" r="2.7"/><circle cx="637.5" cy="210.2" r="2.7"/><circle cx="585.1" cy="218.9" r="2.7"/><circle cx="624.7" cy="311.2" r="2.7"/><circle cx="610.3" cy="220.2" r="2.7"/><circle cx="623.2" cy="249" r="2.7"/><circle cx="602.2" cy="305.9" r="2.7"/><circle cx="604.3" cy="213.9" r="2.7"/><circle cx="612.5" cy="281.3" r="2.7"/><circle cx="634.5" cy="179" r="2.7"/><circle cx="602" cy="268.9" r="2.7"/><circle cx="588.4" cy="281.7" r="2.7"/><circle cx="585.7" cy="286.2" r="2.7"/><circle cx="633" cy="314.9" r="2.7"/><circle cx="601.2" cy="266.3" r="2.7"/><circle cx="590.3" cy="316.8" r="2.7"/><circle cx="617" cy="211" r="2.7"/><circle cx="630.9" cy="242.3" r="2.7"/><circle cx="617.2" cy="200.2" r="2.7"/><circle cx="592.1" cy="169.4" r="2.7"/><circle cx="606.3" cy="232.3" r="2.7"/><circle cx="598.5" cy="268" r="2.7"/><circle cx="584.5" cy="277.5" r="2.7"/><circle cx="637.7" cy="122.7" r="2.7"/><circle cx="609.3" cy="306.3" r="2.7"/><circle cx="591.1" cy="205.4" r="2.7"/><circle cx="633.2" cy="212" r="2.7"/><circle cx="638.8" cy="283.8" r="2.7"/><circle cx="629.3" cy="294.5" r="2.7"/><circle cx="597.8" cy="271.2" r="2.7"/><circle cx="594.3" cy="217.4" r="2.7"/><circle cx="613" cy="234.5" r="2.7"/><circle cx="616.3" cy="284" r="2.7"/><circle cx="632.8" cy="221.6" r="2.7"/><circle cx="637.8" cy="279.3" r="2.7"/><circle cx="634.6" cy="276.6" r="2.7"/><circle cx="602.8" cy="236.7" r="2.7"/><circle cx="616.4" cy="295.3" r="2.7"/><circle cx="590.5" cy="224.4" r="2.7"/><circle cx="612.7" cy="273.1" r="2.7"/><circle cx="587.6" cy="256.5" r="2.7"/><circle cx="589.8" cy="218.3" r="2.7"/><circle cx="590.4" cy="244.1" r="2.7"/><circle cx="600.5" cy="253.1" r="2.7"/><circle cx="600.9" cy="244" r="2.7"/><circle cx="623.1" cy="178.2" r="2.7"/><circle cx="587.9" cy="323" r="2.7"/><circle cx="589.8" cy="312" r="2.7"/><circle cx="620.4" cy="147.3" r="2.7"/><circle cx="621.3" cy="305.2" r="2.7"/><circle cx="623.4" cy="242.9" r="2.7"/><circle cx="623.9" cy="181.9" r="2.7"/><circle cx="620.7" cy="282.3" r="2.7"/><circle cx="614.5" cy="232" r="2.7"/><circle cx="625.1" cy="267.6" r="2.7"/><circle cx="588.2" cy="284.9" r="2.7"/><circle cx="595.5" cy="243.1" r="2.7"/><circle cx="625.1" cy="154.7" r="2.7"/><circle cx="594.4" cy="282.3" r="2.7"/><circle cx="613.3" cy="265.2" r="2.7"/><circle cx="598.2" cy="298.1" r="2.7"/><circle cx="607.8" cy="208.6" r="2.7"/><circle cx="630.3" cy="277.6" r="2.7"/><circle cx="620.6" cy="292.2" r="2.7"/><circle cx="608.5" cy="220.8" r="2.7"/><circle cx="598.9" cy="229.1" r="2.7"/><circle cx="628.7" cy="217.9" r="2.7"/><circle cx="620.4" cy="99.5" r="2.7"/><circle cx="608.2" cy="202.6" r="2.7"/><circle cx="632.3" cy="218.8" r="2.7"/><circle cx="622.4" cy="176.6" r="2.7"/><circle cx="638.5" cy="274.2" r="2.7"/><circle cx="620.8" cy="229.8" r="2.7"/><circle cx="634" cy="248.1" r="2.7"/><circle cx="614.4" cy="210.7" r="2.7"/><circle cx="623.4" cy="220.4" r="2.7"/><circle cx="630.8" cy="271.9" r="2.7"/><circle cx="588.7" cy="235.5" r="2.7"/><circle cx="610.2" cy="251.6" r="2.7"/><circle cx="617.5" cy="229.7" r="2.7"/><circle cx="586.8" cy="246.7" r="2.7"/><circle cx="627.8" cy="296.2" r="2.7"/><circle cx="623.7" cy="208.6" r="2.7"/><circle cx="636" cy="242.8" r="2.7"/><circle cx="604.4" cy="263.3" r="2.7"/><circle cx="609.9" cy="171.5" r="2.7"/><circle cx="634.7" cy="310.4" r="2.7"/><circle cx="606.6" cy="239.6" r="2.7"/><circle cx="630.3" cy="205.6" r="2.7"/><circle cx="607.2" cy="273.2" r="2.7"/><circle cx="602.5" cy="281.4" r="2.7"/><circle cx="599.1" cy="255.3" r="2.7"/><circle cx="595.6" cy="298.8" r="2.7"/><circle cx="607.8" cy="171.9" r="2.7"/><circle cx="592.6" cy="243.9" r="2.7"/><circle cx="630" cy="270.7" r="2.7"/><circle cx="638.2" cy="299" r="2.7"/><circle cx="589.1" cy="257.7" r="2.7"/><circle cx="586.7" cy="252.8" r="2.7"/><circle cx="583.8" cy="225.1" r="2.7"/><circle cx="635.8" cy="248.9" r="2.7"/><circle cx="587.7" cy="247.4" r="2.7"/><circle cx="621.7" cy="298.6" r="2.7"/><circle cx="600.6" cy="284.9" r="2.7"/><circle cx="594.7" cy="270.9" r="2.7"/><circle cx="597.4" cy="300.7" r="2.7"/><circle cx="622.2" cy="164" r="2.7"/><circle cx="584.6" cy="274.8" r="2.7"/><circle cx="632" cy="234.8" r="2.7"/><circle cx="615.4" cy="271.7" r="2.7"/><circle cx="596.8" cy="211.3" r="2.7"/><circle cx="595.3" cy="235" r="2.7"/><circle cx="620.3" cy="282.7" r="2.7"/><circle cx="618.8" cy="145.9" r="2.7"/><circle cx="601.4" cy="212.4" r="2.7"/><circle cx="602.3" cy="238.2" r="2.7"/><circle cx="609.6" cy="287.6" r="2.7"/><circle cx="634.6" cy="209.5" r="2.7"/><circle cx="613.7" cy="283.2" r="2.7"/><circle cx="630.6" cy="205.1" r="2.7"/><circle cx="619.5" cy="214.1" r="2.7"/><circle cx="615.1" cy="246" r="2.7"/><circle cx="611" cy="258.4" r="2.7"/><circle cx="621.7" cy="291.8" r="2.7"/><circle cx="611.1" cy="291.6" r="2.7"/><circle cx="624.3" cy="205.5" r="2.7"/><circle cx="593.8" cy="272.9" r="2.7"/><circle cx="601.6" cy="256.6" r="2.7"/><circle cx="632.5" cy="225.1" r="2.7"/><circle cx="605.7" cy="275.8" r="2.7"/><circle cx="630.8" cy="296.1" r="2.7"/><circle cx="636.1" cy="235.8" r="2.7"/><circle cx="616" cy="300.2" r="2.7"/><circle cx="589.3" cy="182.2" r="2.7"/><circle cx="626" cy="190.8" r="2.7"/><circle cx="620.9" cy="273.3" r="2.7"/><circle cx="599.9" cy="213.2" r="2.7"/><circle cx="631.9" cy="250.4" r="2.7"/><circle cx="610.6" cy="239.6" r="2.7"/><circle cx="586.8" cy="185.7" r="2.7"/><circle cx="587.4" cy="272.7" r="2.7"/><circle cx="596.4" cy="270.7" r="2.7"/><circle cx="617.8" cy="186.7" r="2.7"/><circle cx="629.3" cy="207.2" r="2.7"/><circle cx="589.1" cy="279.3" r="2.7"/><circle cx="584.8" cy="297.3" r="2.7"/><circle cx="618.5" cy="290.1" r="2.7"/><circle cx="606.5" cy="239.7" r="2.7"/><circle cx="608.3" cy="223.2" r="2.7"/><circle cx="629.6" cy="233.4" r="2.7"/><circle cx="635.1" cy="194.3" r="2.7"/><circle cx="637.8" cy="238.7" r="2.7"/><circle cx="627.2" cy="202.7" r="2.7"/><circle cx="583.8" cy="191.5" r="2.7"/><circle cx="592" cy="224.8" r="2.7"/><circle cx="616.5" cy="162.1" r="2.7"/><circle cx="637.1" cy="236.6" r="2.7"/><circle cx="588.2" cy="265.5" r="2.7"/><circle cx="612.4" cy="259.5" r="2.7"/><circle cx="605.8" cy="314.3" r="2.7"/><circle cx="606.4" cy="293.7" r="2.7"/><circle cx="598.6" cy="257.1" r="2.7"/><circle cx="598.8" cy="296.4" r="2.7"/><circle cx="596.9" cy="233.1" r="2.7"/><circle cx="589.4" cy="279.6" r="2.7"/><circle cx="614.6" cy="209.8" r="2.7"/><circle cx="608.6" cy="242.6" r="2.7"/><circle cx="623.5" cy="317.9" r="2.7"/><circle cx="619.4" cy="253.2" r="2.7"/><circle cx="637" cy="240.1" r="2.7"/><circle cx="602.6" cy="278" r="2.7"/><circle cx="633" cy="215.2" r="2.7"/><circle cx="605.1" cy="285.1" r="2.7"/><circle cx="620.6" cy="126" r="2.7"/><circle cx="628.7" cy="204" r="2.7"/><circle cx="605.8" cy="194" r="2.7"/><circle cx="608.6" cy="208.2" r="2.7"/><circle cx="619" cy="306.1" r="2.7"/><circle cx="589.8" cy="134.1" r="2.7"/><circle cx="613.4" cy="213.4" r="2.7"/><circle cx="588.9" cy="247.9" r="2.7"/><circle cx="596.2" cy="266.9" r="2.7"/><circle cx="618.5" cy="275.8" r="2.7"/><circle cx="638" cy="224.6" r="2.7"/><circle cx="639.6" cy="201.3" r="2.7"/><circle cx="598.2" cy="287.1" r="2.7"/><circle cx="591.8" cy="181.4" r="2.7"/><circle cx="612.6" cy="162.8" r="2.7"/><circle cx="608.3" cy="203.6" r="2.7"/><circle cx="604.8" cy="239" r="2.7"/><circle cx="626.6" cy="306.1" r="2.7"/><circle cx="623.3" cy="269.2" r="2.7"/><circle cx="615.1" cy="248.1" r="2.7"/><circle cx="618.4" cy="242.3" r="2.7"/><circle cx="616.2" cy="264.4" r="2.7"/><circle cx="621.5" cy="255.4" r="2.7"/><circle cx="635.6" cy="217.7" r="2.7"/><circle cx="636.6" cy="172.4" r="2.7"/><circle cx="638.5" cy="198.4" r="2.7"/><circle cx="631.7" cy="276.3" r="2.7"/><circle cx="589.5" cy="257.7" r="2.7"/><circle cx="608.9" cy="279.4" r="2.7"/><circle cx="627.4" cy="151.6" r="2.7"/><circle cx="600.1" cy="296.7" r="2.7"/><circle cx="617.6" cy="223.5" r="2.7"/><circle cx="586.7" cy="300.9" r="2.7"/><circle cx="595" cy="251.3" r="2.7"/><circle cx="606" cy="245.3" r="2.7"/><circle cx="587.5" cy="283.5" r="2.7"/><circle cx="607.4" cy="256.2" r="2.7"/><circle cx="596.5" cy="261.2" r="2.7"/><circle cx="631.9" cy="189.9" r="2.7"/><circle cx="601.5" cy="252.8" r="2.7"/><circle cx="604.9" cy="221.3" r="2.7"/><circle cx="628.5" cy="166.2" r="2.7"/><circle cx="614.9" cy="183.3" r="2.7"/><circle cx="586.4" cy="238" r="2.7"/><circle cx="595.8" cy="207.9" r="2.7"/><circle cx="617.8" cy="274.3" r="2.7"/><circle cx="594.8" cy="181.4" r="2.7"/><circle cx="597.5" cy="119" r="2.7"/><circle cx="618.5" cy="329.8" r="2.7"/><circle cx="611.3" cy="215.3" r="2.7"/><circle cx="598.7" cy="241.2" r="2.7"/><circle cx="614.9" cy="199.8" r="2.7"/><circle cx="619.1" cy="200.6" r="2.7"/><circle cx="585.8" cy="227.7" r="2.7"/><circle cx="598.9" cy="278.8" r="2.7"/><circle cx="600.8" cy="148.5" r="2.7"/><circle cx="632.8" cy="286" r="2.7"/><circle cx="586.5" cy="321.6" r="2.7"/><circle cx="603" cy="247.1" r="2.7"/><circle cx="594.5" cy="221.6" r="2.7"/><circle cx="622.5" cy="202.4" r="2.7"/><circle cx="629" cy="195.8" r="2.7"/><circle cx="586.8" cy="216.8" r="2.7"/><circle cx="631.9" cy="286.7" r="2.7"/><circle cx="622.6" cy="91.9" r="2.7"/><circle cx="595.8" cy="276.8" r="2.7"/><circle cx="634.9" cy="259.9" r="2.7"/><circle cx="600" cy="126.8" r="2.7"/><circle cx="627.8" cy="165.7" r="2.7"/><circle cx="587.8" cy="270.6" r="2.7"/><circle cx="609.1" cy="261.8" r="2.7"/><circle cx="611.9" cy="214.6" r="2.7"/><circle cx="633.8" cy="289.1" r="2.7"/><circle cx="630.4" cy="199.8" r="2.7"/><circle cx="614.2" cy="230.6" r="2.7"/><circle cx="586.5" cy="179.1" r="2.7"/><circle cx="607.7" cy="259.1" r="2.7"/><circle cx="604.6" cy="170.9" r="2.7"/><circle cx="639.3" cy="193.2" r="2.7"/><circle cx="621.7" cy="275.9" r="2.7"/><circle cx="606.3" cy="239.8" r="2.7"/><circle cx="604" cy="260.5" r="2.7"/><circle cx="626.6" cy="271.5" r="2.7"/><circle cx="589" cy="253" r="2.7"/><circle cx="629.4" cy="197.1" r="2.7"/><circle cx="621.2" cy="264.7" r="2.7"/><circle cx="608" cy="178.6" r="2.7"/><circle cx="623.4" cy="209" r="2.7"/><circle cx="605.9" cy="232.7" r="2.7"/><circle cx="591.6" cy="178.7" r="2.7"/><circle cx="606.9" cy="177.3" r="2.7"/><circle cx="586.5" cy="258.1" r="2.7"/><circle cx="588.5" cy="270.7" r="2.7"/><circle cx="608.2" cy="222.2" r="2.7"/><circle cx="629.8" cy="225.8" r="2.7"/><circle cx="595" cy="200.4" r="2.7"/><circle cx="611.6" cy="242.3" r="2.7"/><circle cx="638.4" cy="250" r="2.7"/><circle cx="629.9" cy="302.7" r="2.7"/><circle cx="634.1" cy="148.3" r="2.7"/><circle cx="621.4" cy="297.8" r="2.7"/><circle cx="616.6" cy="324.2" r="2.7"/><circle cx="616.2" cy="220.2" r="2.7"/><circle cx="617.3" cy="268.9" r="2.7"/><circle cx="609.6" cy="282.2" r="2.7"/><circle cx="603.8" cy="259.5" r="2.7"/><circle cx="597" cy="212.5" r="2.7"/><circle cx="587.3" cy="255.9" r="2.7"/><circle cx="604.3" cy="292.4" r="2.7"/><circle cx="626.7" cy="177.4" r="2.7"/><circle cx="614.6" cy="238.3" r="2.7"/><circle cx="592.8" cy="131.7" r="2.7"/><circle cx="629.2" cy="287.4" r="2.7"/><circle cx="585.9" cy="277.1" r="2.7"/><circle cx="635.7" cy="152.7" r="2.7"/><circle cx="620.1" cy="272.7" r="2.7"/><circle cx="614.7" cy="264.5" r="2.7"/></g>
<path d="M612,73.2 L612,74.7 L612.1,76.2 L612.1,77.7 L612.1,79.2 L612.2,80.7 L612.2,82.3 L612.3,83.8 L612.3,85.3 L612.4,86.8 L612.4,88.3 L612.5,89.8 L612.5,91.3 L612.6,92.8 L612.7,94.3 L612.8,95.8 L612.9,97.3 L613,98.8 L613.1,100.4 L613.1,101.9 L613.1,103.4 L613.1,104.9 L613.2,106.4 L613.2,107.9 L613.2,109.4 L613.2,110.9 L613.3,112.4 L613.3,113.9 L613.4,115.4 L613.5,117 L613.5,118.5 L613.6,120 L613.7,121.5 L613.8,123 L613.9,124.5 L614,126 L614.1,127.5 L614.2,129 L614.4,130.5 L614.5,132 L614.6,133.5 L614.8,135.1 L614.9,136.6 L615.1,138.1 L615.2,139.6 L615.4,141.1 L615.6,142.6 L615.9,144.1 L616.1,145.6 L616.4,147.1 L616.7,148.6 L617.1,150.1 L617.4,151.7 L617.7,153.2 L618,154.7 L618.3,156.2 L618.7,157.7 L619.1,159.2 L619.5,160.7 L619.9,162.2 L620.4,163.7 L620.9,165.2 L621.4,166.7 L621.9,168.2 L622.3,169.8 L622.8,171.3 L623.3,172.8 L623.7,174.3 L624.2,175.8 L624.7,177.3 L625.2,178.8 L625.7,180.3 L626.2,181.8 L626.7,183.3 L627.2,184.8 L627.7,186.4 L628.2,187.9 L628.7,189.4 L629.2,190.9 L629.8,192.4 L630.4,193.9 L631.1,195.4 L631.9,196.9 L632.6,198.4 L633.4,199.9 L634.2,201.4 L635,202.9 L635.6,204.5 L636.1,206 L636.5,207.5 L636.9,209 L637.3,210.5 L637.6,212 L637.9,213.5 L638.2,215 L638.6,216.5 L638.9,218 L639.2,219.5 L639.5,221.1 L639.7,222.6 L639.9,224.1 L640.1,225.6 L640.3,227.1 L640.5,228.6 L640.6,230.1 L640.7,231.6 L640.8,233.1 L640.9,234.6 L640.9,236.1 L640.9,237.7 L641,239.2 L641,240.7 L641,242.2 L641,243.7 L640.9,245.2 L640.8,246.7 L640.7,248.2 L640.6,249.7 L640.4,251.2 L640.3,252.7 L640.1,254.2 L640,255.8 L639.8,257.3 L639.6,258.8 L639.4,260.3 L639.2,261.8 L639,263.3 L638.8,264.8 L638.6,266.3 L638.4,267.8 L638.2,269.3 L637.9,270.8 L637.7,272.4 L637.4,273.9 L637.1,275.4 L636.8,276.9 L636.4,278.4 L636.1,279.9 L635.7,281.4 L635.4,282.9 L635,284.4 L634.6,285.9 L634.2,287.4 L633.7,288.9 L633.2,290.5 L632.7,292 L632.2,293.5 L631.6,295 L631.1,296.5 L630.4,298 L629.8,299.5 L629.1,301 L628.3,302.5 L627.5,304 L626.7,305.5 L625.8,307.1 L625,308.6 L624.1,310.1 L623.2,311.6 L622.3,313.1 L621.3,314.6 L620.4,316.1 L619.6,317.6 L618.7,319.1 L617.9,320.6 L617,322.1 L616.2,323.6 L615.5,325.2 L615.1,326.7 L614.8,328.2 L614.6,329.7 L614.5,331.2 L614.4,332.7 L608.8,332.7 L608.7,331.2 L608.6,329.7 L608.4,328.2 L608.1,326.7 L607.7,325.2 L607,323.6 L606.2,322.1 L605.3,320.6 L604.5,319.1 L603.6,317.6 L602.8,316.1 L601.9,314.6 L600.9,313.1 L600,311.6 L599.1,310.1 L598.2,308.6 L597.4,307.1 L596.5,305.5 L595.7,304 L594.9,302.5 L594.1,301 L593.4,299.5 L592.8,298 L592.1,296.5 L591.6,295 L591,293.5 L590.5,292 L590,290.5 L589.5,288.9 L589,287.4 L588.6,285.9 L588.2,284.4 L587.8,282.9 L587.5,281.4 L587.1,279.9 L586.8,278.4 L586.4,276.9 L586.1,275.4 L585.8,273.9 L585.5,272.4 L585.3,270.8 L585,269.3 L584.8,267.8 L584.6,266.3 L584.4,264.8 L584.2,263.3 L584,261.8 L583.8,260.3 L583.6,258.8 L583.4,257.3 L583.2,255.8 L583.1,254.2 L582.9,252.7 L582.8,251.2 L582.6,249.7 L582.5,248.2 L582.4,246.7 L582.3,245.2 L582.2,243.7 L582.2,242.2 L582.2,240.7 L582.2,239.2 L582.3,237.7 L582.3,236.1 L582.3,234.6 L582.4,233.1 L582.5,231.6 L582.6,230.1 L582.7,228.6 L582.9,227.1 L583.1,225.6 L583.3,224.1 L583.5,222.6 L583.7,221.1 L584,219.5 L584.3,218 L584.6,216.5 L585,215 L585.3,213.5 L585.6,212 L585.9,210.5 L586.3,209 L586.7,207.5 L587.1,206 L587.6,204.5 L588.2,202.9 L589,201.4 L589.8,199.9 L590.6,198.4 L591.3,196.9 L592.1,195.4 L592.8,193.9 L593.4,192.4 L594,190.9 L594.5,189.4 L595,187.9 L595.5,186.4 L596,184.8 L596.5,183.3 L597,181.8 L597.5,180.3 L598,178.8 L598.5,177.3 L599,175.8 L599.5,174.3 L599.9,172.8 L600.4,171.3 L600.9,169.8 L601.3,168.2 L601.8,166.7 L602.3,165.2 L602.8,163.7 L603.3,162.2 L603.7,160.7 L604.1,159.2 L604.5,157.7 L604.9,156.2 L605.2,154.7 L605.5,153.2 L605.8,151.7 L606.1,150.1 L606.5,148.6 L606.8,147.1 L607.1,145.6 L607.3,144.1 L607.6,142.6 L607.8,141.1 L608,139.6 L608.1,138.1 L608.3,136.6 L608.4,135.1 L608.6,133.5 L608.7,132 L608.8,130.5 L609,129 L609.1,127.5 L609.2,126 L609.3,124.5 L609.4,123 L609.5,121.5 L609.6,120 L609.7,118.5 L609.7,117 L609.8,115.4 L609.9,113.9 L609.9,112.4 L610,110.9 L610,109.4 L610,107.9 L610,106.4 L610.1,104.9 L610.1,103.4 L610.1,101.9 L610.1,100.4 L610.2,98.8 L610.3,97.3 L610.4,95.8 L610.5,94.3 L610.6,92.8 L610.7,91.3 L610.7,89.8 L610.8,88.3 L610.8,86.8 L610.9,85.3 L610.9,83.8 L611,82.3 L611,80.7 L611.1,79.2 L611.1,77.7 L611.1,76.2 L611.2,74.7 L611.2,73.2 Z" fill="none" stroke="#000" stroke-width="1.85" stroke-linejoin="round"/>
<path d="M510.8,65.5 V58.9 H611.7 V65.5" fill="none" stroke="#000" stroke-width="1.9"/>
<text x="561.2" y="61.2" font-size="16.5" text-anchor="middle">***</text>
<rect x="450.5" y="45" width="221.5" height="317" fill="none" stroke="#000" stroke-width="2"/>
<line x1="443" y1="310.5" x2="450.5" y2="310.5" stroke="#000" stroke-width="1.9"/>
<text x="438.5" y="317.3" font-size="22.8" text-anchor="end">2</text>
<line x1="443" y1="234.8" x2="450.5" y2="234.8" stroke="#000" stroke-width="1.9"/>
<text x="438.5" y="241.6" font-size="22.8" text-anchor="end">4</text>
<line x1="443" y1="159" x2="450.5" y2="159" stroke="#000" stroke-width="1.9"/>
<text x="438.5" y="165.8" font-size="22.8" text-anchor="end">6</text>
<line x1="443" y1="83.3" x2="450.5" y2="83.3" stroke="#000" stroke-width="1.9"/>
<text x="438.5" y="90.1" font-size="22.8" text-anchor="end">8</text>
<line x1="510.8" y1="362" x2="510.8" y2="369.5" stroke="#000" stroke-width="1.9"/>
<text x="512.3" y="389.8" font-size="22.3" text-anchor="middle">WT</text>
<line x1="611.6" y1="362" x2="611.6" y2="369.5" stroke="#000" stroke-width="1.9"/>
<text x="613.1" y="389.8" font-size="22.3" text-anchor="middle">Mut</text>
<text x="567.8" y="417.7" font-size="25" text-anchor="middle">IDH status</text>
<text x="387.5" y="203.2" font-size="22.3" text-anchor="middle" transform="rotate(-90 387.5 203.2)">PLEKHA4 expression</text>
<text x="408.4" y="203.2" font-size="22.3" text-anchor="middle" transform="rotate(-90 408.4 203.2)">Log<tspan font-size="16" dy="5.6">2</tspan><tspan dy="-5.6"> (TPM+1)</tspan></text>
<path d="M895.2,107.9 L895.4,109.4 L895.6,110.9 L895.8,112.5 L896,114 L896.2,115.5 L896.4,117 L896.6,118.5 L896.8,120 L897,121.6 L897.2,123.1 L897.4,124.6 L897.6,126.1 L897.8,127.6 L898.1,129.1 L898.4,130.7 L898.6,132.2 L898.8,133.7 L899,135.2 L899.1,136.7 L899.3,138.2 L899.4,139.8 L899.6,141.3 L899.8,142.8 L900,144.3 L900.2,145.8 L900.4,147.3 L900.6,148.9 L900.8,150.4 L901.1,151.9 L901.3,153.4 L901.5,154.9 L901.8,156.5 L902,158 L902.3,159.5 L902.5,161 L902.7,162.5 L903,164 L903.2,165.6 L903.5,167.1 L903.8,168.6 L904.1,170.1 L904.4,171.6 L904.7,173.1 L905,174.7 L905.3,176.2 L905.7,177.7 L906,179.2 L906.4,180.7 L906.7,182.2 L907.1,183.8 L907.4,185.3 L907.8,186.8 L908.1,188.3 L908.5,189.8 L908.8,191.3 L909.2,192.9 L909.5,194.4 L909.8,195.9 L910.1,197.4 L910.4,198.9 L910.6,200.5 L910.8,202 L911,203.5 L911.2,205 L911.4,206.5 L911.6,208 L911.8,209.6 L911.9,211.1 L912.1,212.6 L912.2,214.1 L912.3,215.6 L912.4,217.1 L912.4,218.7 L912.5,220.2 L912.5,221.7 L912.5,223.2 L912.5,224.7 L912.5,226.2 L912.5,227.8 L912.5,229.3 L912.5,230.8 L912.5,232.3 L912.5,233.8 L912.5,235.3 L912.4,236.9 L912.4,238.4 L912.3,239.9 L912.3,241.4 L912.2,242.9 L912.1,244.5 L912,246 L911.8,247.5 L911.7,249 L911.5,250.5 L911.3,252 L911.1,253.6 L910.8,255.1 L910.6,256.6 L910.3,258.1 L910,259.6 L909.7,261.1 L909.4,262.7 L909,264.2 L908.7,265.7 L908.3,267.2 L907.9,268.7 L907.5,270.2 L907.1,271.8 L906.7,273.3 L906.2,274.8 L905.7,276.3 L905.2,277.8 L904.7,279.3 L904.2,280.9 L903.7,282.4 L903.2,283.9 L902.7,285.4 L902.2,286.9 L901.6,288.5 L901.1,290 L900.6,291.5 L900,293 L899.5,294.5 L899,296 L898.5,297.6 L897.9,299.1 L897.4,300.6 L896.8,302.1 L896.3,303.6 L895.9,305.1 L895.5,306.7 L895.2,308.2 L895,309.7 L894.7,311.2 L894.5,312.7 L894.3,314.2 L894.2,315.8 L894,317.3 L893.9,318.8 L893.7,320.3 L893.6,321.8 L893.5,323.3 L893.4,324.9 L893.4,326.4 L893.3,327.9 L892.5,327.9 L892.4,326.4 L892.4,324.9 L892.3,323.3 L892.2,321.8 L892.1,320.3 L891.9,318.8 L891.8,317.3 L891.6,315.8 L891.5,314.2 L891.3,312.7 L891.1,311.2 L890.8,309.7 L890.6,308.2 L890.3,306.7 L889.9,305.1 L889.5,303.6 L889,302.1 L888.4,300.6 L887.9,299.1 L887.3,297.6 L886.8,296 L886.3,294.5 L885.8,293 L885.2,291.5 L884.7,290 L884.2,288.5 L883.6,286.9 L883.1,285.4 L882.6,283.9 L882.1,282.4 L881.6,280.9 L881.1,279.3 L880.6,277.8 L880.1,276.3 L879.6,274.8 L879.1,273.3 L878.7,271.8 L878.3,270.2 L877.9,268.7 L877.5,267.2 L877.1,265.7 L876.8,264.2 L876.4,262.7 L876.1,261.1 L875.8,259.6 L875.5,258.1 L875.2,256.6 L875,255.1 L874.7,253.6 L874.5,252 L874.3,250.5 L874.1,249 L874,247.5 L873.8,246 L873.7,244.5 L873.6,242.9 L873.5,241.4 L873.5,239.9 L873.4,238.4 L873.4,236.9 L873.3,235.3 L873.3,233.8 L873.3,232.3 L873.3,230.8 L873.3,229.3 L873.3,227.8 L873.3,226.2 L873.3,224.7 L873.3,223.2 L873.3,221.7 L873.3,220.2 L873.4,218.7 L873.4,217.1 L873.5,215.6 L873.6,214.1 L873.7,212.6 L873.9,211.1 L874,209.6 L874.2,208 L874.4,206.5 L874.6,205 L874.8,203.5 L875,202 L875.2,200.5 L875.4,198.9 L875.7,197.4 L876,195.9 L876.3,194.4 L876.6,192.9 L877,191.3 L877.3,189.8 L877.7,188.3 L878,186.8 L878.4,185.3 L878.7,183.8 L879.1,182.2 L879.4,180.7 L879.8,179.2 L880.1,177.7 L880.5,176.2 L880.8,174.7 L881.1,173.1 L881.4,171.6 L881.7,170.1 L882,168.6 L882.3,167.1 L882.6,165.6 L882.8,164 L883.1,162.5 L883.3,161 L883.5,159.5 L883.8,158 L884,156.5 L884.3,154.9 L884.5,153.4 L884.7,151.9 L885,150.4 L885.2,148.9 L885.4,147.3 L885.6,145.8 L885.8,144.3 L886,142.8 L886.2,141.3 L886.4,139.8 L886.5,138.2 L886.7,136.7 L886.8,135.2 L887,133.7 L887.2,132.2 L887.4,130.7 L887.7,129.1 L888,127.6 L888.2,126.1 L888.4,124.6 L888.6,123.1 L888.8,121.6 L889,120 L889.2,118.5 L889.4,117 L889.6,115.5 L889.8,114 L890,112.5 L890.2,110.9 L890.4,109.4 L890.6,107.9 Z" fill="#bee3ef"/>
<line x1="892.9" y1="107.9" x2="892.9" y2="327.9" stroke="#000" stroke-width="1.8"/>
<rect x="885.6" y="185.8" width="14.5" height="65" fill="#1ba3cc" stroke="#000" stroke-width="2.0"/>
<line x1="885.6" y1="218.5" x2="900.1" y2="218.5" stroke="#000" stroke-width="3"/>
<g fill="rgba(27,163,204,0.7)"><circle cx="902.9" cy="209.9" r="2.7"/><circle cx="904.8" cy="264.3" r="2.7"/><circle cx="876.8" cy="113.3" r="2.7"/><circle cx="904.2" cy="119.3" r="2.7"/><circle cx="912.5" cy="223.1" r="2.7"/><circle cx="895.9" cy="193.7" r="2.7"/><circle cx="899.3" cy="207.4" r="2.7"/><circle cx="885.1" cy="226.5" r="2.7"/><circle cx="878.6" cy="133.6" r="2.7"/><circle cx="903.7" cy="301.5" r="2.7"/><circle cx="907" cy="245" r="2.7"/><circle cx="880" cy="153.2" r="2.7"/><circle cx="875.9" cy="252.6" r="2.7"/><circle cx="886.4" cy="226.4" r="2.7"/><circle cx="898.4" cy="244.6" r="2.7"/><circle cx="887" cy="251.9" r="2.7"/><circle cx="913.3" cy="308.4" r="2.7"/><circle cx="905.7" cy="159.1" r="2.7"/><circle cx="911.2" cy="315.4" r="2.7"/><circle cx="897.3" cy="219.2" r="2.7"/><circle cx="904.2" cy="177.2" r="2.7"/><circle cx="912.7" cy="204.8" r="2.7"/><circle cx="872.5" cy="203.9" r="2.7"/><circle cx="896.2" cy="276.1" r="2.7"/><circle cx="879.1" cy="224.5" r="2.7"/><circle cx="905.9" cy="143.4" r="2.7"/><circle cx="881.1" cy="248.6" r="2.7"/><circle cx="903.5" cy="221.3" r="2.7"/><circle cx="885.5" cy="263.2" r="2.7"/><circle cx="899.6" cy="134.9" r="2.7"/><circle cx="900.8" cy="270" r="2.7"/><circle cx="910.9" cy="276.9" r="2.7"/><circle cx="909.3" cy="115.2" r="2.7"/><circle cx="890.2" cy="219.4" r="2.7"/><circle cx="901.2" cy="160" r="2.7"/><circle cx="878.9" cy="225.2" r="2.7"/><circle cx="875.2" cy="150" r="2.7"/><circle cx="902.3" cy="274.4" r="2.7"/><circle cx="910.8" cy="175" r="2.7"/><circle cx="903.8" cy="243.4" r="2.7"/><circle cx="893.6" cy="241" r="2.7"/><circle cx="898.6" cy="197" r="2.7"/><circle cx="903" cy="180.3" r="2.7"/><circle cx="896" cy="280.3" r="2.7"/><circle cx="886.9" cy="132.1" r="2.7"/><circle cx="908.3" cy="186.8" r="2.7"/><circle cx="887.1" cy="199.1" r="2.7"/><circle cx="910.7" cy="231.6" r="2.7"/><circle cx="906.1" cy="204.5" r="2.7"/><circle cx="905.8" cy="155.9" r="2.7"/><circle cx="907.6" cy="230.5" r="2.7"/><circle cx="914.3" cy="250" r="2.7"/><circle cx="914.5" cy="248.1" r="2.7"/><circle cx="893" cy="220" r="2.7"/><circle cx="887.5" cy="195.4" r="2.7"/><circle cx="903.2" cy="117.3" r="2.7"/><circle cx="913.5" cy="227" r="2.7"/><circle cx="898.6" cy="238.8" r="2.7"/><circle cx="872" cy="214.3" r="2.7"/><circle cx="872.6" cy="291.3" r="2.7"/><circle cx="891.3" cy="177.5" r="2.7"/><circle cx="905.6" cy="262.4" r="2.7"/><circle cx="909.9" cy="249.5" r="2.7"/><circle cx="887.4" cy="276.8" r="2.7"/><circle cx="893.7" cy="282.4" r="2.7"/><circle cx="893.5" cy="184.3" r="2.7"/><circle cx="875.1" cy="282.6" r="2.7"/><circle cx="870.9" cy="209.8" r="2.7"/><circle cx="893.9" cy="244.1" r="2.7"/><circle cx="893.1" cy="289.6" r="2.7"/><circle cx="908.9" cy="233.4" r="2.7"/><circle cx="878.9" cy="232.9" r="2.7"/><circle cx="908.4" cy="144.8" r="2.7"/><circle cx="882.8" cy="234.4" r="2.7"/><circle cx="894.6" cy="185.8" r="2.7"/><circle cx="902" cy="207" r="2.7"/><circle cx="877.3" cy="204.9" r="2.7"/><circle cx="912.5" cy="298" r="2.7"/><circle cx="913" cy="237.9" r="2.7"/><circle cx="913.6" cy="250.8" r="2.7"/><circle cx="871" cy="170.9" r="2.7"/><circle cx="899.2" cy="196.6" r="2.7"/><circle cx="900.4" cy="273.8" r="2.7"/><circle cx="909.6" cy="159" r="2.7"/><circle cx="879.8" cy="290.4" r="2.7"/><circle cx="876.4" cy="213.1" r="2.7"/><circle cx="906.5" cy="205.8" r="2.7"/><circle cx="882.4" cy="223.3" r="2.7"/><circle cx="873.8" cy="214" r="2.7"/><circle cx="874.9" cy="217.3" r="2.7"/><circle cx="899.3" cy="211.7" r="2.7"/><circle cx="894.5" cy="247.8" r="2.7"/><circle cx="903.8" cy="190.9" r="2.7"/><circle cx="906.4" cy="170.2" r="2.7"/><circle cx="871" cy="212.7" r="2.7"/><circle cx="911.9" cy="149.6" r="2.7"/><circle cx="909.6" cy="213.6" r="2.7"/><circle cx="912" cy="220" r="2.7"/><circle cx="904.7" cy="257.6" r="2.7"/><circle cx="887.8" cy="156.1" r="2.7"/><circle cx="881.8" cy="208.3" r="2.7"/><circle cx="911" cy="258.8" r="2.7"/><circle cx="889.4" cy="200.4" r="2.7"/><circle cx="892.4" cy="265.9" r="2.7"/><circle cx="901.6" cy="249.4" r="2.7"/><circle cx="901.2" cy="134" r="2.7"/><circle cx="901.4" cy="206.8" r="2.7"/><circle cx="898.3" cy="254.3" r="2.7"/><circle cx="893.3" cy="225.3" r="2.7"/><circle cx="904.6" cy="242.4" r="2.7"/><circle cx="888.3" cy="306.2" r="2.7"/><circle cx="882.4" cy="242.9" r="2.7"/><circle cx="910.9" cy="227.9" r="2.7"/><circle cx="908.1" cy="267.6" r="2.7"/><circle cx="902.5" cy="212.3" r="2.7"/><circle cx="878.3" cy="117.7" r="2.7"/><circle cx="872.9" cy="190" r="2.7"/><circle cx="911.5" cy="234.3" r="2.7"/><circle cx="912.4" cy="288.4" r="2.7"/><circle cx="882.9" cy="234.7" r="2.7"/><circle cx="898.6" cy="190.6" r="2.7"/><circle cx="871.7" cy="311.4" r="2.7"/><circle cx="888.2" cy="207.9" r="2.7"/><circle cx="901.9" cy="182.2" r="2.7"/><circle cx="886.8" cy="227.5" r="2.7"/><circle cx="906.4" cy="200" r="2.7"/><circle cx="911.1" cy="156.4" r="2.7"/><circle cx="876.9" cy="248.6" r="2.7"/><circle cx="901.2" cy="246.6" r="2.7"/><circle cx="887.4" cy="295.6" r="2.7"/><circle cx="878.6" cy="164.7" r="2.7"/><circle cx="886.3" cy="279.9" r="2.7"/><circle cx="892.1" cy="259.4" r="2.7"/><circle cx="910.3" cy="187.2" r="2.7"/><circle cx="904.6" cy="218.8" r="2.7"/><circle cx="871.1" cy="238.3" r="2.7"/><circle cx="873.4" cy="197.9" r="2.7"/><circle cx="914.6" cy="156.9" r="2.7"/><circle cx="895.4" cy="265.2" r="2.7"/><circle cx="897.7" cy="170.7" r="2.7"/><circle cx="886.4" cy="219.5" r="2.7"/><circle cx="907.5" cy="213.4" r="2.7"/><circle cx="895.4" cy="277.8" r="2.7"/><circle cx="897" cy="229" r="2.7"/><circle cx="881.9" cy="211" r="2.7"/><circle cx="905.1" cy="299" r="2.7"/><circle cx="880.3" cy="201.9" r="2.7"/><circle cx="876.9" cy="251.1" r="2.7"/><circle cx="897.2" cy="184.4" r="2.7"/><circle cx="907.5" cy="254.8" r="2.7"/><circle cx="883.8" cy="253.2" r="2.7"/><circle cx="884.2" cy="264.4" r="2.7"/><circle cx="877.5" cy="218.2" r="2.7"/><circle cx="897.4" cy="182.1" r="2.7"/><circle cx="904.8" cy="238.7" r="2.7"/><circle cx="876.4" cy="278.6" r="2.7"/><circle cx="894.4" cy="196.3" r="2.7"/><circle cx="894.6" cy="123.4" r="2.7"/><circle cx="875.6" cy="174.5" r="2.7"/><circle cx="894.2" cy="283.5" r="2.7"/><circle cx="882.9" cy="112.5" r="2.7"/><circle cx="879.7" cy="137.9" r="2.7"/><circle cx="914.3" cy="153.9" r="2.7"/><circle cx="874.9" cy="276.4" r="2.7"/><circle cx="886" cy="206.2" r="2.7"/><circle cx="898.1" cy="246.4" r="2.7"/><circle cx="888.7" cy="247.6" r="2.7"/><circle cx="871.7" cy="212" r="2.7"/><circle cx="909" cy="250.4" r="2.7"/><circle cx="881.4" cy="217.1" r="2.7"/><circle cx="889" cy="226.9" r="2.7"/><circle cx="910.9" cy="195.6" r="2.7"/><circle cx="913.6" cy="109.3" r="2.7"/><circle cx="911.2" cy="234.5" r="2.7"/><circle cx="889" cy="189.7" r="2.7"/><circle cx="903.6" cy="191.8" r="2.7"/><circle cx="908.2" cy="272.7" r="2.7"/><circle cx="879.6" cy="203.3" r="2.7"/><circle cx="913.6" cy="154.5" r="2.7"/><circle cx="875.4" cy="239" r="2.7"/><circle cx="899.8" cy="226.3" r="2.7"/><circle cx="881.4" cy="139.3" r="2.7"/><circle cx="880.4" cy="201.4" r="2.7"/><circle cx="876.9" cy="235.2" r="2.7"/><circle cx="912.4" cy="190.7" r="2.7"/><circle cx="876.5" cy="303.6" r="2.7"/><circle cx="911" cy="261.5" r="2.7"/><circle cx="878.2" cy="221.4" r="2.7"/><circle cx="885.4" cy="280.4" r="2.7"/><circle cx="880.2" cy="130.5" r="2.7"/><circle cx="914.4" cy="181.7" r="2.7"/><circle cx="875" cy="281.4" r="2.7"/><circle cx="908.8" cy="221.1" r="2.7"/><circle cx="884.1" cy="172" r="2.7"/><circle cx="912.8" cy="230.5" r="2.7"/></g>
<path d="M895.2,107.9 L895.4,109.4 L895.6,110.9 L895.8,112.5 L896,114 L896.2,115.5 L896.4,117 L896.6,118.5 L896.8,120 L897,121.6 L897.2,123.1 L897.4,124.6 L897.6,126.1 L897.8,127.6 L898.1,129.1 L898.4,130.7 L898.6,132.2 L898.8,133.7 L899,135.2 L899.1,136.7 L899.3,138.2 L899.4,139.8 L899.6,141.3 L899.8,142.8 L900,144.3 L900.2,145.8 L900.4,147.3 L900.6,148.9 L900.8,150.4 L901.1,151.9 L901.3,153.4 L901.5,154.9 L901.8,156.5 L902,158 L902.3,159.5 L902.5,161 L902.7,162.5 L903,164 L903.2,165.6 L903.5,167.1 L903.8,168.6 L904.1,170.1 L904.4,171.6 L904.7,173.1 L905,174.7 L905.3,176.2 L905.7,177.7 L906,179.2 L906.4,180.7 L906.7,182.2 L907.1,183.8 L907.4,185.3 L907.8,186.8 L908.1,188.3 L908.5,189.8 L908.8,191.3 L909.2,192.9 L909.5,194.4 L909.8,195.9 L910.1,197.4 L910.4,198.9 L910.6,200.5 L910.8,202 L911,203.5 L911.2,205 L911.4,206.5 L911.6,208 L911.8,209.6 L911.9,211.1 L912.1,212.6 L912.2,214.1 L912.3,215.6 L912.4,217.1 L912.4,218.7 L912.5,220.2 L912.5,221.7 L912.5,223.2 L912.5,224.7 L912.5,226.2 L912.5,227.8 L912.5,229.3 L912.5,230.8 L912.5,232.3 L912.5,233.8 L912.5,235.3 L912.4,236.9 L912.4,238.4 L912.3,239.9 L912.3,241.4 L912.2,242.9 L912.1,244.5 L912,246 L911.8,247.5 L911.7,249 L911.5,250.5 L911.3,252 L911.1,253.6 L910.8,255.1 L910.6,256.6 L910.3,258.1 L910,259.6 L909.7,261.1 L909.4,262.7 L909,264.2 L908.7,265.7 L908.3,267.2 L907.9,268.7 L907.5,270.2 L907.1,271.8 L906.7,273.3 L906.2,274.8 L905.7,276.3 L905.2,277.8 L904.7,279.3 L904.2,280.9 L903.7,282.4 L903.2,283.9 L902.7,285.4 L902.2,286.9 L901.6,288.5 L901.1,290 L900.6,291.5 L900,293 L899.5,294.5 L899,296 L898.5,297.6 L897.9,299.1 L897.4,300.6 L896.8,302.1 L896.3,303.6 L895.9,305.1 L895.5,306.7 L895.2,308.2 L895,309.7 L894.7,311.2 L894.5,312.7 L894.3,314.2 L894.2,315.8 L894,317.3 L893.9,318.8 L893.7,320.3 L893.6,321.8 L893.5,323.3 L893.4,324.9 L893.4,326.4 L893.3,327.9 L892.5,327.9 L892.4,326.4 L892.4,324.9 L892.3,323.3 L892.2,321.8 L892.1,320.3 L891.9,318.8 L891.8,317.3 L891.6,315.8 L891.5,314.2 L891.3,312.7 L891.1,311.2 L890.8,309.7 L890.6,308.2 L890.3,306.7 L889.9,305.1 L889.5,303.6 L889,302.1 L888.4,300.6 L887.9,299.1 L887.3,297.6 L886.8,296 L886.3,294.5 L885.8,293 L885.2,291.5 L884.7,290 L884.2,288.5 L883.6,286.9 L883.1,285.4 L882.6,283.9 L882.1,282.4 L881.6,280.9 L881.1,279.3 L880.6,277.8 L880.1,276.3 L879.6,274.8 L879.1,273.3 L878.7,271.8 L878.3,270.2 L877.9,268.7 L877.5,267.2 L877.1,265.7 L876.8,264.2 L876.4,262.7 L876.1,261.1 L875.8,259.6 L875.5,258.1 L875.2,256.6 L875,255.1 L874.7,253.6 L874.5,252 L874.3,250.5 L874.1,249 L874,247.5 L873.8,246 L873.7,244.5 L873.6,242.9 L873.5,241.4 L873.5,239.9 L873.4,238.4 L873.4,236.9 L873.3,235.3 L873.3,233.8 L873.3,232.3 L873.3,230.8 L873.3,229.3 L873.3,227.8 L873.3,226.2 L873.3,224.7 L873.3,223.2 L873.3,221.7 L873.3,220.2 L873.4,218.7 L873.4,217.1 L873.5,215.6 L873.6,214.1 L873.7,212.6 L873.9,211.1 L874,209.6 L874.2,208 L874.4,206.5 L874.6,205 L874.8,203.5 L875,202 L875.2,200.5 L875.4,198.9 L875.7,197.4 L876,195.9 L876.3,194.4 L876.6,192.9 L877,191.3 L877.3,189.8 L877.7,188.3 L878,186.8 L878.4,185.3 L878.7,183.8 L879.1,182.2 L879.4,180.7 L879.8,179.2 L880.1,177.7 L880.5,176.2 L880.8,174.7 L881.1,173.1 L881.4,171.6 L881.7,170.1 L882,168.6 L882.3,167.1 L882.6,165.6 L882.8,164 L883.1,162.5 L883.3,161 L883.5,159.5 L883.8,158 L884,156.5 L884.3,154.9 L884.5,153.4 L884.7,151.9 L885,150.4 L885.2,148.9 L885.4,147.3 L885.6,145.8 L885.8,144.3 L886,142.8 L886.2,141.3 L886.4,139.8 L886.5,138.2 L886.7,136.7 L886.8,135.2 L887,133.7 L887.2,132.2 L887.4,130.7 L887.7,129.1 L888,127.6 L888.2,126.1 L888.4,124.6 L888.6,123.1 L888.8,121.6 L889,120 L889.2,118.5 L889.4,117 L889.6,115.5 L889.8,114 L890,112.5 L890.2,110.9 L890.4,109.4 L890.6,107.9 Z" fill="none" stroke="#000" stroke-width="1.85" stroke-linejoin="round"/>
<path d="M973.4,135.8 L973.4,137.3 L973.4,138.8 L973.4,140.3 L973.4,141.9 L973.4,143.4 L973.3,144.9 L973.2,146.4 L973.1,147.9 L973,149.4 L972.9,150.9 L972.8,152.5 L972.7,154 L972.6,155.5 L972.6,157 L972.6,158.5 L972.6,160 L972.6,161.6 L972.6,163.1 L972.7,164.6 L972.8,166.1 L973,167.6 L973.2,169.1 L973.5,170.6 L973.8,172.2 L974.1,173.7 L974.5,175.2 L974.8,176.7 L975.1,178.2 L975.5,179.7 L975.8,181.2 L976.2,182.8 L976.6,184.3 L977.1,185.8 L977.5,187.3 L977.9,188.8 L978.3,190.3 L978.7,191.8 L979.1,193.4 L979.5,194.9 L979.9,196.4 L980.4,197.9 L980.9,199.4 L981.4,200.9 L981.9,202.4 L982.5,204 L983.1,205.5 L983.7,207 L984.2,208.5 L984.7,210 L985.2,211.5 L985.7,213.1 L986.2,214.6 L986.7,216.1 L987.1,217.6 L987.6,219.1 L988.1,220.6 L988.7,222.1 L989.3,223.7 L989.9,225.2 L990.4,226.7 L990.9,228.2 L991.2,229.7 L991.6,231.2 L992,232.7 L992.7,234.3 L994.2,235.8 L994.8,237.3 L995.1,238.8 L995.3,240.3 L995.5,241.8 L995.6,243.3 L995.8,244.9 L995.9,246.4 L996.1,247.9 L996.1,249.4 L996,250.9 L995.7,252.4 L995.3,253.9 L994.9,255.5 L994.5,257 L994,258.5 L993.5,260 L993,261.5 L992.5,263 L992,264.6 L991.5,266.1 L991,267.6 L990.5,269.1 L990.1,270.6 L989.7,272.1 L989.3,273.6 L988.9,275.2 L988.5,276.7 L988,278.2 L987.6,279.7 L987.3,281.2 L986.9,282.7 L986.6,284.2 L986.3,285.8 L986,287.3 L985.7,288.8 L985.4,290.3 L985,291.8 L984.7,293.3 L984.3,294.8 L983.9,296.4 L983.5,297.9 L983,299.4 L982.6,300.9 L982.2,302.4 L981.8,303.9 L981.4,305.4 L981,307 L980.6,308.5 L980.2,310 L979.8,311.5 L979.4,313 L978.9,314.5 L978.4,316.1 L977.8,317.6 L977.2,319.1 L976.6,320.6 L976,322.1 L975.4,323.6 L974.9,325.1 L974.4,326.7 L974,328.2 L973.7,329.7 L973.4,331.2 L968.6,331.2 L968.3,329.7 L968,328.2 L967.6,326.7 L967.1,325.1 L966.6,323.6 L966,322.1 L965.4,320.6 L964.8,319.1 L964.2,317.6 L963.6,316.1 L963.1,314.5 L962.6,313 L962.2,311.5 L961.8,310 L961.4,308.5 L961,307 L960.6,305.4 L960.2,303.9 L959.8,302.4 L959.4,300.9 L959,299.4 L958.5,297.9 L958.1,296.4 L957.7,294.8 L957.3,293.3 L957,291.8 L956.6,290.3 L956.3,288.8 L956,287.3 L955.7,285.8 L955.4,284.2 L955.1,282.7 L954.7,281.2 L954.4,279.7 L954,278.2 L953.5,276.7 L953.1,275.2 L952.7,273.6 L952.3,272.1 L951.9,270.6 L951.5,269.1 L951,267.6 L950.5,266.1 L950,264.6 L949.5,263 L949,261.5 L948.5,260 L948,258.5 L947.5,257 L947.1,255.5 L946.7,253.9 L946.3,252.4 L946,250.9 L945.9,249.4 L945.9,247.9 L946.1,246.4 L946.2,244.9 L946.4,243.3 L946.5,241.8 L946.7,240.3 L946.9,238.8 L947.2,237.3 L947.8,235.8 L949.3,234.3 L950,232.7 L950.4,231.2 L950.8,229.7 L951.1,228.2 L951.6,226.7 L952.1,225.2 L952.7,223.7 L953.3,222.1 L953.9,220.6 L954.4,219.1 L954.9,217.6 L955.3,216.1 L955.8,214.6 L956.3,213.1 L956.8,211.5 L957.3,210 L957.8,208.5 L958.3,207 L958.9,205.5 L959.5,204 L960.1,202.4 L960.6,200.9 L961.1,199.4 L961.6,197.9 L962.1,196.4 L962.5,194.9 L962.9,193.4 L963.3,191.8 L963.7,190.3 L964.1,188.8 L964.5,187.3 L964.9,185.8 L965.4,184.3 L965.8,182.8 L966.2,181.2 L966.5,179.7 L966.9,178.2 L967.2,176.7 L967.5,175.2 L967.9,173.7 L968.2,172.2 L968.5,170.6 L968.8,169.1 L969,167.6 L969.2,166.1 L969.3,164.6 L969.4,163.1 L969.4,161.6 L969.4,160 L969.4,158.5 L969.4,157 L969.4,155.5 L969.3,154 L969.2,152.5 L969.1,150.9 L969,149.4 L968.9,147.9 L968.8,146.4 L968.7,144.9 L968.6,143.4 L968.6,141.9 L968.6,140.3 L968.6,138.8 L968.6,137.3 L968.6,135.8 Z" fill="#f6c0bd"/>
<line x1="971" y1="135.8" x2="971" y2="331.2" stroke="#000" stroke-width="1.8"/>
<rect x="963.6" y="225.3" width="14.8" height="51.1" fill="#e6261f" stroke="#000" stroke-width="2.0"/>
<line x1="963.6" y1="249.5" x2="978.4" y2="249.5" stroke="#000" stroke-width="3"/>
<g fill="rgba(232,38,31,0.7)"><circle cx="979" cy="276.3" r="2.7"/><circle cx="979.6" cy="225.3" r="2.7"/><circle cx="989" cy="250.6" r="2.7"/><circle cx="978.3" cy="210.3" r="2.7"/><circle cx="992.3" cy="240.9" r="2.7"/><circle cx="951.6" cy="166.2" r="2.7"/><circle cx="950.6" cy="266.9" r="2.7"/><circle cx="957.6" cy="259.2" r="2.7"/><circle cx="974.3" cy="226.2" r="2.7"/><circle cx="967.7" cy="147.7" r="2.7"/><circle cx="952.6" cy="308.5" r="2.7"/><circle cx="957.9" cy="204.1" r="2.7"/><circle cx="974.5" cy="232.5" r="2.7"/><circle cx="966.7" cy="164.5" r="2.7"/><circle cx="982.6" cy="239" r="2.7"/><circle cx="969.5" cy="240.3" r="2.7"/><circle cx="987.6" cy="252.1" r="2.7"/><circle cx="982.4" cy="232.6" r="2.7"/><circle cx="970.8" cy="223.5" r="2.7"/><circle cx="964.8" cy="280.9" r="2.7"/><circle cx="958.4" cy="226.8" r="2.7"/><circle cx="961.9" cy="232.8" r="2.7"/><circle cx="964.6" cy="247.8" r="2.7"/><circle cx="964.9" cy="227" r="2.7"/><circle cx="956.9" cy="274.1" r="2.7"/><circle cx="969.8" cy="195.1" r="2.7"/><circle cx="953.9" cy="232.5" r="2.7"/><circle cx="987.2" cy="242.5" r="2.7"/><circle cx="973.2" cy="224.6" r="2.7"/><circle cx="953.2" cy="289.2" r="2.7"/><circle cx="963.4" cy="235.7" r="2.7"/><circle cx="960.2" cy="241.7" r="2.7"/><circle cx="955.9" cy="246.9" r="2.7"/><circle cx="970.1" cy="287.5" r="2.7"/><circle cx="957.1" cy="219.8" r="2.7"/><circle cx="955.7" cy="287.8" r="2.7"/><circle cx="979.9" cy="309.4" r="2.7"/><circle cx="967.9" cy="225.2" r="2.7"/><circle cx="978.6" cy="211.9" r="2.7"/><circle cx="969.7" cy="280.6" r="2.7"/><circle cx="971.2" cy="231.3" r="2.7"/><circle cx="962.7" cy="221.4" r="2.7"/><circle cx="967.8" cy="191.5" r="2.7"/><circle cx="970.2" cy="259.4" r="2.7"/><circle cx="964.1" cy="306.6" r="2.7"/><circle cx="985.4" cy="296.1" r="2.7"/><circle cx="959.8" cy="256.7" r="2.7"/><circle cx="958.7" cy="243.2" r="2.7"/><circle cx="964.1" cy="319.6" r="2.7"/><circle cx="983.5" cy="264.6" r="2.7"/><circle cx="986.3" cy="311.6" r="2.7"/><circle cx="973.9" cy="268.5" r="2.7"/><circle cx="964.9" cy="268.4" r="2.7"/><circle cx="977.5" cy="271.3" r="2.7"/><circle cx="985.4" cy="203.7" r="2.7"/><circle cx="959.7" cy="224.3" r="2.7"/><circle cx="978.4" cy="188.6" r="2.7"/><circle cx="980.2" cy="307.2" r="2.7"/><circle cx="966.2" cy="326.9" r="2.7"/><circle cx="955.4" cy="259.4" r="2.7"/><circle cx="975.7" cy="209.4" r="2.7"/><circle cx="958.2" cy="203.9" r="2.7"/><circle cx="965.2" cy="244.3" r="2.7"/><circle cx="973" cy="238.5" r="2.7"/><circle cx="991.4" cy="215.6" r="2.7"/><circle cx="955.4" cy="194.6" r="2.7"/><circle cx="952.2" cy="264.5" r="2.7"/><circle cx="972.7" cy="280.9" r="2.7"/><circle cx="990.5" cy="187.1" r="2.7"/><circle cx="951" cy="231.2" r="2.7"/><circle cx="977.3" cy="230" r="2.7"/><circle cx="950.2" cy="251.7" r="2.7"/><circle cx="973.2" cy="260.8" r="2.7"/><circle cx="954.2" cy="240.2" r="2.7"/><circle cx="978" cy="294" r="2.7"/><circle cx="964.9" cy="238.1" r="2.7"/><circle cx="977.8" cy="229" r="2.7"/><circle cx="960.4" cy="277.6" r="2.7"/><circle cx="952.3" cy="289.4" r="2.7"/><circle cx="957" cy="294.7" r="2.7"/><circle cx="961.1" cy="212.1" r="2.7"/><circle cx="956.2" cy="216.4" r="2.7"/><circle cx="957.7" cy="245.8" r="2.7"/><circle cx="972.9" cy="315.8" r="2.7"/><circle cx="968.3" cy="261.3" r="2.7"/><circle cx="985.3" cy="261.5" r="2.7"/><circle cx="970.9" cy="233.1" r="2.7"/><circle cx="972.7" cy="324.5" r="2.7"/><circle cx="980.2" cy="215.2" r="2.7"/><circle cx="986.6" cy="255.4" r="2.7"/><circle cx="974.7" cy="267.4" r="2.7"/><circle cx="950.6" cy="284.5" r="2.7"/><circle cx="969.2" cy="285.4" r="2.7"/><circle cx="950.4" cy="239.1" r="2.7"/><circle cx="975.6" cy="226.6" r="2.7"/><circle cx="951.9" cy="319" r="2.7"/><circle cx="972.7" cy="253.5" r="2.7"/><circle cx="955.6" cy="226.2" r="2.7"/><circle cx="986.6" cy="207.5" r="2.7"/><circle cx="953.1" cy="284.4" r="2.7"/><circle cx="978" cy="290.2" r="2.7"/><circle cx="980" cy="255.9" r="2.7"/><circle cx="961.1" cy="239.4" r="2.7"/><circle cx="975.1" cy="264" r="2.7"/><circle cx="963.5" cy="319.8" r="2.7"/><circle cx="960.4" cy="256.2" r="2.7"/><circle cx="960.4" cy="281.4" r="2.7"/><circle cx="949.7" cy="296" r="2.7"/><circle cx="978.6" cy="276.3" r="2.7"/><circle cx="952.2" cy="247.9" r="2.7"/><circle cx="957.7" cy="213.2" r="2.7"/><circle cx="952.8" cy="269" r="2.7"/><circle cx="984.4" cy="287.6" r="2.7"/><circle cx="972.3" cy="315.2" r="2.7"/><circle cx="969.6" cy="208" r="2.7"/><circle cx="974.7" cy="200.5" r="2.7"/><circle cx="984.6" cy="263.2" r="2.7"/><circle cx="976.5" cy="287.1" r="2.7"/><circle cx="971.6" cy="191.6" r="2.7"/><circle cx="962.8" cy="260" r="2.7"/><circle cx="971.7" cy="225.5" r="2.7"/><circle cx="992.4" cy="330.2" r="2.7"/><circle cx="974.1" cy="236.4" r="2.7"/><circle cx="970" cy="193.8" r="2.7"/><circle cx="988.1" cy="281" r="2.7"/><circle cx="951.4" cy="230.3" r="2.7"/><circle cx="951.8" cy="242.1" r="2.7"/><circle cx="983.7" cy="205" r="2.7"/><circle cx="990.5" cy="233.4" r="2.7"/><circle cx="951.2" cy="205.1" r="2.7"/></g>
<path d="M973.4,135.8 L973.4,137.3 L973.4,138.8 L973.4,140.3 L973.4,141.9 L973.4,143.4 L973.3,144.9 L973.2,146.4 L973.1,147.9 L973,149.4 L972.9,150.9 L972.8,152.5 L972.7,154 L972.6,155.5 L972.6,157 L972.6,158.5 L972.6,160 L972.6,161.6 L972.6,163.1 L972.7,164.6 L972.8,166.1 L973,167.6 L973.2,169.1 L973.5,170.6 L973.8,172.2 L974.1,173.7 L974.5,175.2 L974.8,176.7 L975.1,178.2 L975.5,179.7 L975.8,181.2 L976.2,182.8 L976.6,184.3 L977.1,185.8 L977.5,187.3 L977.9,188.8 L978.3,190.3 L978.7,191.8 L979.1,193.4 L979.5,194.9 L979.9,196.4 L980.4,197.9 L980.9,199.4 L981.4,200.9 L981.9,202.4 L982.5,204 L983.1,205.5 L983.7,207 L984.2,208.5 L984.7,210 L985.2,211.5 L985.7,213.1 L986.2,214.6 L986.7,216.1 L987.1,217.6 L987.6,219.1 L988.1,220.6 L988.7,222.1 L989.3,223.7 L989.9,225.2 L990.4,226.7 L990.9,228.2 L991.2,229.7 L991.6,231.2 L992,232.7 L992.7,234.3 L994.2,235.8 L994.8,237.3 L995.1,238.8 L995.3,240.3 L995.5,241.8 L995.6,243.3 L995.8,244.9 L995.9,246.4 L996.1,247.9 L996.1,249.4 L996,250.9 L995.7,252.4 L995.3,253.9 L994.9,255.5 L994.5,257 L994,258.5 L993.5,260 L993,261.5 L992.5,263 L992,264.6 L991.5,266.1 L991,267.6 L990.5,269.1 L990.1,270.6 L989.7,272.1 L989.3,273.6 L988.9,275.2 L988.5,276.7 L988,278.2 L987.6,279.7 L987.3,281.2 L986.9,282.7 L986.6,284.2 L986.3,285.8 L986,287.3 L985.7,288.8 L985.4,290.3 L985,291.8 L984.7,293.3 L984.3,294.8 L983.9,296.4 L983.5,297.9 L983,299.4 L982.6,300.9 L982.2,302.4 L981.8,303.9 L981.4,305.4 L981,307 L980.6,308.5 L980.2,310 L979.8,311.5 L979.4,313 L978.9,314.5 L978.4,316.1 L977.8,317.6 L977.2,319.1 L976.6,320.6 L976,322.1 L975.4,323.6 L974.9,325.1 L974.4,326.7 L974,328.2 L973.7,329.7 L973.4,331.2 L968.6,331.2 L968.3,329.7 L968,328.2 L967.6,326.7 L967.1,325.1 L966.6,323.6 L966,322.1 L965.4,320.6 L964.8,319.1 L964.2,317.6 L963.6,316.1 L963.1,314.5 L962.6,313 L962.2,311.5 L961.8,310 L961.4,308.5 L961,307 L960.6,305.4 L960.2,303.9 L959.8,302.4 L959.4,300.9 L959,299.4 L958.5,297.9 L958.1,296.4 L957.7,294.8 L957.3,293.3 L957,291.8 L956.6,290.3 L956.3,288.8 L956,287.3 L955.7,285.8 L955.4,284.2 L955.1,282.7 L954.7,281.2 L954.4,279.7 L954,278.2 L953.5,276.7 L953.1,275.2 L952.7,273.6 L952.3,272.1 L951.9,270.6 L951.5,269.1 L951,267.6 L950.5,266.1 L950,264.6 L949.5,263 L949,261.5 L948.5,260 L948,258.5 L947.5,257 L947.1,255.5 L946.7,253.9 L946.3,252.4 L946,250.9 L945.9,249.4 L945.9,247.9 L946.1,246.4 L946.2,244.9 L946.4,243.3 L946.5,241.8 L946.7,240.3 L946.9,238.8 L947.2,237.3 L947.8,235.8 L949.3,234.3 L950,232.7 L950.4,231.2 L950.8,229.7 L951.1,228.2 L951.6,226.7 L952.1,225.2 L952.7,223.7 L953.3,222.1 L953.9,220.6 L954.4,219.1 L954.9,217.6 L955.3,216.1 L955.8,214.6 L956.3,213.1 L956.8,211.5 L957.3,210 L957.8,208.5 L958.3,207 L958.9,205.5 L959.5,204 L960.1,202.4 L960.6,200.9 L961.1,199.4 L961.6,197.9 L962.1,196.4 L962.5,194.9 L962.9,193.4 L963.3,191.8 L963.7,190.3 L964.1,188.8 L964.5,187.3 L964.9,185.8 L965.4,184.3 L965.8,182.8 L966.2,181.2 L966.5,179.7 L966.9,178.2 L967.2,176.7 L967.5,175.2 L967.9,173.7 L968.2,172.2 L968.5,170.6 L968.8,169.1 L969,167.6 L969.2,166.1 L969.3,164.6 L969.4,163.1 L969.4,161.6 L969.4,160 L969.4,158.5 L969.4,157 L969.4,155.5 L969.3,154 L969.2,152.5 L969.1,150.9 L969,149.4 L968.9,147.9 L968.8,146.4 L968.7,144.9 L968.6,143.4 L968.6,141.9 L968.6,140.3 L968.6,138.8 L968.6,137.3 L968.6,135.8 Z" fill="none" stroke="#000" stroke-width="1.85" stroke-linejoin="round"/>
<path d="M1051,143.9 L1051.1,145.4 L1051.2,146.9 L1051.3,148.5 L1051.4,150 L1051.5,151.5 L1051.6,153 L1051.7,154.5 L1051.8,156.1 L1051.8,157.6 L1051.9,159.1 L1052,160.6 L1052.1,162.1 L1052.1,163.6 L1052.2,165.2 L1052.2,166.7 L1052.3,168.2 L1052.3,169.7 L1052.3,171.2 L1052.4,172.8 L1052.4,174.3 L1052.4,175.8 L1052.5,177.3 L1052.5,178.8 L1052.6,180.4 L1052.6,181.9 L1052.7,183.4 L1052.8,184.9 L1052.9,186.4 L1053,188 L1053.1,189.5 L1053.1,191 L1053.2,192.5 L1053.3,194 L1053.4,195.6 L1053.5,197.1 L1053.6,198.6 L1053.8,200.1 L1054,201.6 L1054.3,203.1 L1054.6,204.7 L1054.8,206.2 L1055,207.7 L1055.3,209.2 L1055.5,210.7 L1055.8,212.3 L1056.1,213.8 L1056.4,215.3 L1056.8,216.8 L1057.1,218.3 L1057.5,219.9 L1057.8,221.4 L1058.2,222.9 L1058.5,224.4 L1058.9,225.9 L1059.2,227.5 L1059.6,229 L1060,230.5 L1060.4,232 L1060.9,233.5 L1061.4,235 L1061.9,236.6 L1062.3,238.1 L1062.7,239.6 L1063,241.1 L1063.4,242.6 L1064,244.2 L1065,245.7 L1066,247.2 L1066.7,248.7 L1067.4,250.2 L1068,251.8 L1068.6,253.3 L1069.1,254.8 L1069.7,256.3 L1070.2,257.8 L1070.7,259.4 L1071.2,260.9 L1071.7,262.4 L1072.2,263.9 L1072.7,265.4 L1073.1,266.9 L1073.4,268.5 L1073.7,270 L1074,271.5 L1074.3,273 L1074.5,274.5 L1074.7,276.1 L1075,277.6 L1075.1,279.1 L1075.3,280.6 L1075.4,282.1 L1075.5,283.7 L1075.6,285.2 L1075.7,286.7 L1075.7,288.2 L1075.6,289.7 L1075.5,291.3 L1075.3,292.8 L1075.1,294.3 L1074.8,295.8 L1074.5,297.3 L1074.1,298.9 L1073.6,300.4 L1073.1,301.9 L1072.5,303.4 L1071.9,304.9 L1071.2,306.4 L1070.5,308 L1069.8,309.5 L1069,311 L1068.2,312.5 L1067.3,314 L1066.4,315.6 L1065.4,317.1 L1064.4,318.6 L1063.3,320.1 L1062.2,321.6 L1061.1,323.2 L1059.9,324.7 L1058.7,326.2 L1057.6,327.7 L1056.5,329.2 L1055.5,330.8 L1054.6,332.3 L1053.7,333.8 L1053,335.3 L1052.3,336.8 L1051.7,338.3 L1051.2,339.9 L1050.8,341.4 L1050.4,342.9 L1050.1,344.4 L1049.9,345.9 L1049.6,347.5 L1049.5,349 L1049.4,350.5 L1048.6,350.5 L1048.5,349 L1048.4,347.5 L1048.1,345.9 L1047.9,344.4 L1047.6,342.9 L1047.2,341.4 L1046.8,339.9 L1046.3,338.3 L1045.7,336.8 L1045,335.3 L1044.3,333.8 L1043.4,332.3 L1042.5,330.8 L1041.5,329.2 L1040.4,327.7 L1039.3,326.2 L1038.1,324.7 L1036.9,323.2 L1035.8,321.6 L1034.7,320.1 L1033.6,318.6 L1032.6,317.1 L1031.6,315.6 L1030.7,314 L1029.8,312.5 L1029,311 L1028.2,309.5 L1027.5,308 L1026.8,306.4 L1026.1,304.9 L1025.5,303.4 L1024.9,301.9 L1024.4,300.4 L1023.9,298.9 L1023.5,297.3 L1023.2,295.8 L1022.9,294.3 L1022.7,292.8 L1022.5,291.3 L1022.4,289.7 L1022.3,288.2 L1022.3,286.7 L1022.4,285.2 L1022.5,283.7 L1022.6,282.1 L1022.7,280.6 L1022.9,279.1 L1023,277.6 L1023.3,276.1 L1023.5,274.5 L1023.7,273 L1024,271.5 L1024.3,270 L1024.6,268.5 L1024.9,266.9 L1025.3,265.4 L1025.8,263.9 L1026.3,262.4 L1026.8,260.9 L1027.3,259.4 L1027.8,257.8 L1028.3,256.3 L1028.9,254.8 L1029.4,253.3 L1030,251.8 L1030.6,250.2 L1031.3,248.7 L1032,247.2 L1033,245.7 L1034,244.2 L1034.6,242.6 L1035,241.1 L1035.3,239.6 L1035.7,238.1 L1036.1,236.6 L1036.6,235 L1037.1,233.5 L1037.6,232 L1038,230.5 L1038.4,229 L1038.8,227.5 L1039.1,225.9 L1039.5,224.4 L1039.8,222.9 L1040.2,221.4 L1040.5,219.9 L1040.9,218.3 L1041.2,216.8 L1041.6,215.3 L1041.9,213.8 L1042.2,212.3 L1042.5,210.7 L1042.7,209.2 L1043,207.7 L1043.2,206.2 L1043.4,204.7 L1043.7,203.1 L1044,201.6 L1044.2,200.1 L1044.4,198.6 L1044.5,197.1 L1044.6,195.6 L1044.7,194 L1044.8,192.5 L1044.9,191 L1044.9,189.5 L1045,188 L1045.1,186.4 L1045.2,184.9 L1045.3,183.4 L1045.4,181.9 L1045.4,180.4 L1045.5,178.8 L1045.5,177.3 L1045.6,175.8 L1045.6,174.3 L1045.6,172.8 L1045.7,171.2 L1045.7,169.7 L1045.7,168.2 L1045.8,166.7 L1045.8,165.2 L1045.9,163.6 L1045.9,162.1 L1046,160.6 L1046.1,159.1 L1046.2,157.6 L1046.2,156.1 L1046.3,154.5 L1046.4,153 L1046.5,151.5 L1046.6,150 L1046.7,148.5 L1046.8,146.9 L1046.9,145.4 L1047,143.9 Z" fill="#cbeadf"/>
<line x1="1049" y1="164.6" x2="1049" y2="350.5" stroke="#000" stroke-width="1.8"/>
<rect x="1041.5" y="245.4" width="15" height="54.9" fill="#5cc2a2" stroke="#000" stroke-width="2.0"/>
<line x1="1041.5" y1="276.3" x2="1056.5" y2="276.3" stroke="#000" stroke-width="3"/>
<g fill="rgba(92,194,162,0.7)"><circle cx="1056.6" cy="164.8" r="2.7"/><circle cx="1034.5" cy="152.6" r="2.7"/><circle cx="1050.2" cy="281.5" r="2.7"/><circle cx="1063.8" cy="223.5" r="2.7"/><circle cx="1034.2" cy="279.9" r="2.7"/><circle cx="1047.6" cy="289.2" r="2.7"/><circle cx="1035.1" cy="159.4" r="2.7"/><circle cx="1033.3" cy="310.9" r="2.7"/><circle cx="1048.6" cy="245.7" r="2.7"/><circle cx="1047.1" cy="278.8" r="2.7"/><circle cx="1055.3" cy="258.8" r="2.7"/><circle cx="1064.7" cy="258.3" r="2.7"/><circle cx="1058.1" cy="263.3" r="2.7"/><circle cx="1041.8" cy="146.6" r="2.7"/><circle cx="1048.4" cy="267.3" r="2.7"/><circle cx="1056.6" cy="246.9" r="2.7"/><circle cx="1063.9" cy="260" r="2.7"/><circle cx="1057" cy="228.5" r="2.7"/><circle cx="1049.1" cy="256.4" r="2.7"/><circle cx="1032.9" cy="292.8" r="2.7"/><circle cx="1065.2" cy="332.3" r="2.7"/><circle cx="1039.4" cy="237" r="2.7"/><circle cx="1044.8" cy="310.3" r="2.7"/><circle cx="1065.9" cy="285.2" r="2.7"/><circle cx="1036.1" cy="211.2" r="2.7"/><circle cx="1067.2" cy="156.9" r="2.7"/><circle cx="1037.1" cy="312.6" r="2.7"/><circle cx="1030.8" cy="242.6" r="2.7"/><circle cx="1049.6" cy="212.1" r="2.7"/><circle cx="1062" cy="288.3" r="2.7"/><circle cx="1044.7" cy="294.5" r="2.7"/><circle cx="1064.1" cy="314.3" r="2.7"/><circle cx="1044.4" cy="275.1" r="2.7"/><circle cx="1062.9" cy="253.5" r="2.7"/><circle cx="1032" cy="255.5" r="2.7"/><circle cx="1039.5" cy="238.3" r="2.7"/><circle cx="1032.4" cy="286.4" r="2.7"/><circle cx="1059.5" cy="321.1" r="2.7"/><circle cx="1047.7" cy="204" r="2.7"/><circle cx="1055.8" cy="262" r="2.7"/><circle cx="1037.5" cy="258.8" r="2.7"/><circle cx="1059.3" cy="201.9" r="2.7"/><circle cx="1070.7" cy="283.9" r="2.7"/><circle cx="1030.5" cy="332.4" r="2.7"/><circle cx="1041" cy="248.5" r="2.7"/><circle cx="1065.3" cy="295.8" r="2.7"/><circle cx="1064.5" cy="313.7" r="2.7"/><circle cx="1065.4" cy="249.3" r="2.7"/><circle cx="1037" cy="316.4" r="2.7"/><circle cx="1051.8" cy="297.1" r="2.7"/><circle cx="1030.8" cy="288.3" r="2.7"/><circle cx="1046" cy="234.6" r="2.7"/><circle cx="1052.3" cy="249.3" r="2.7"/><circle cx="1038.4" cy="210.7" r="2.7"/><circle cx="1045.6" cy="313.8" r="2.7"/><circle cx="1043.1" cy="302.8" r="2.7"/><circle cx="1030.7" cy="204.3" r="2.7"/><circle cx="1030" cy="277.7" r="2.7"/><circle cx="1061.4" cy="239.3" r="2.7"/><circle cx="1027.1" cy="298.2" r="2.7"/><circle cx="1070.4" cy="280.7" r="2.7"/><circle cx="1066.5" cy="321.3" r="2.7"/><circle cx="1070.4" cy="296.3" r="2.7"/><circle cx="1061.6" cy="211" r="2.7"/><circle cx="1027.1" cy="261.2" r="2.7"/><circle cx="1032.1" cy="282.7" r="2.7"/><circle cx="1041" cy="317.5" r="2.7"/><circle cx="1035" cy="260.6" r="2.7"/><circle cx="1029.7" cy="235.2" r="2.7"/><circle cx="1067.3" cy="249.9" r="2.7"/><circle cx="1067.1" cy="245.2" r="2.7"/><circle cx="1060.7" cy="227" r="2.7"/><circle cx="1038.1" cy="257.3" r="2.7"/><circle cx="1064.5" cy="245.3" r="2.7"/><circle cx="1063" cy="274.1" r="2.7"/><circle cx="1041.2" cy="314.3" r="2.7"/><circle cx="1032.6" cy="322.8" r="2.7"/><circle cx="1033" cy="226.8" r="2.7"/><circle cx="1045" cy="280.5" r="2.7"/><circle cx="1063.6" cy="290.8" r="2.7"/><circle cx="1030.4" cy="226.2" r="2.7"/><circle cx="1045.9" cy="277.2" r="2.7"/><circle cx="1042.6" cy="236.7" r="2.7"/><circle cx="1066.3" cy="260.4" r="2.7"/><circle cx="1033.7" cy="254.8" r="2.7"/><circle cx="1055.8" cy="305.5" r="2.7"/><circle cx="1041.2" cy="242.3" r="2.7"/><circle cx="1055.4" cy="277.6" r="2.7"/><circle cx="1063.2" cy="282" r="2.7"/><circle cx="1063.3" cy="255.7" r="2.7"/><circle cx="1064.2" cy="317.9" r="2.7"/><circle cx="1039.9" cy="256.8" r="2.7"/><circle cx="1039.1" cy="256.1" r="2.7"/><circle cx="1032.4" cy="293.1" r="2.7"/><circle cx="1038.2" cy="272.9" r="2.7"/><circle cx="1032.3" cy="296.3" r="2.7"/><circle cx="1061.5" cy="225.5" r="2.7"/><circle cx="1029.1" cy="225.9" r="2.7"/><circle cx="1035.4" cy="295.9" r="2.7"/><circle cx="1061.8" cy="262.8" r="2.7"/><circle cx="1060.8" cy="308.8" r="2.7"/><circle cx="1069.8" cy="242.4" r="2.7"/><circle cx="1043.9" cy="244.1" r="2.7"/><circle cx="1029" cy="309.6" r="2.7"/><circle cx="1062.6" cy="258.8" r="2.7"/><circle cx="1039.6" cy="213.8" r="2.7"/><circle cx="1061" cy="241.4" r="2.7"/><circle cx="1027.9" cy="300.7" r="2.7"/><circle cx="1028.5" cy="246.8" r="2.7"/><circle cx="1053.3" cy="279" r="2.7"/><circle cx="1057.1" cy="306.1" r="2.7"/><circle cx="1051.7" cy="285" r="2.7"/><circle cx="1050.4" cy="298.6" r="2.7"/><circle cx="1053.3" cy="329.9" r="2.7"/><circle cx="1032.8" cy="251" r="2.7"/><circle cx="1029.8" cy="311.7" r="2.7"/><circle cx="1042.4" cy="278.4" r="2.7"/><circle cx="1051.1" cy="235.9" r="2.7"/><circle cx="1037.9" cy="220.9" r="2.7"/><circle cx="1034.9" cy="256" r="2.7"/><circle cx="1046.6" cy="223.4" r="2.7"/><circle cx="1045" cy="300.9" r="2.7"/><circle cx="1038.8" cy="279.8" r="2.7"/><circle cx="1067.8" cy="180.2" r="2.7"/><circle cx="1068.5" cy="311.8" r="2.7"/><circle cx="1029.1" cy="283.8" r="2.7"/><circle cx="1048.1" cy="269.1" r="2.7"/><circle cx="1037.5" cy="222.3" r="2.7"/><circle cx="1041.8" cy="272" r="2.7"/><circle cx="1028.3" cy="316.3" r="2.7"/><circle cx="1030.5" cy="282.5" r="2.7"/><circle cx="1028.5" cy="270" r="2.7"/><circle cx="1032.5" cy="285.8" r="2.7"/><circle cx="1055.6" cy="279.7" r="2.7"/><circle cx="1030.4" cy="284.5" r="2.7"/><circle cx="1066" cy="236.6" r="2.7"/><circle cx="1062.3" cy="225.5" r="2.7"/><circle cx="1038.8" cy="156" r="2.7"/><circle cx="1057.4" cy="305.8" r="2.7"/><circle cx="1068.9" cy="146.7" r="2.7"/><circle cx="1032.1" cy="245.5" r="2.7"/><circle cx="1051.6" cy="281.4" r="2.7"/><circle cx="1047.5" cy="274.5" r="2.7"/><circle cx="1040.7" cy="316.2" r="2.7"/><circle cx="1039.7" cy="238.9" r="2.7"/><circle cx="1030.8" cy="216" r="2.7"/><circle cx="1055.5" cy="229" r="2.7"/><circle cx="1035.7" cy="274.1" r="2.7"/><circle cx="1045.6" cy="252.5" r="2.7"/><circle cx="1067.8" cy="269.9" r="2.7"/><circle cx="1042.3" cy="291.2" r="2.7"/><circle cx="1040.9" cy="254.6" r="2.7"/><circle cx="1068" cy="290.3" r="2.7"/><circle cx="1052.7" cy="161.6" r="2.7"/><circle cx="1052.1" cy="278.7" r="2.7"/><circle cx="1036.8" cy="315.2" r="2.7"/><circle cx="1055.2" cy="319.5" r="2.7"/><circle cx="1043.7" cy="281.1" r="2.7"/><circle cx="1050.9" cy="332.3" r="2.7"/><circle cx="1044.5" cy="242.8" r="2.7"/><circle cx="1030.6" cy="252.3" r="2.7"/><circle cx="1065.6" cy="268.5" r="2.7"/><circle cx="1057.4" cy="274.2" r="2.7"/><circle cx="1069.2" cy="305" r="2.7"/><circle cx="1040.5" cy="268.5" r="2.7"/><circle cx="1039.4" cy="183.1" r="2.7"/><circle cx="1033" cy="292.4" r="2.7"/><circle cx="1040.5" cy="240.9" r="2.7"/><circle cx="1041.3" cy="312.9" r="2.7"/><circle cx="1035.1" cy="239.1" r="2.7"/><circle cx="1038.6" cy="252.5" r="2.7"/><circle cx="1039.9" cy="222.5" r="2.7"/><circle cx="1064.8" cy="252.9" r="2.7"/><circle cx="1046.6" cy="283.1" r="2.7"/><circle cx="1063.1" cy="248.6" r="2.7"/><circle cx="1029.2" cy="183.2" r="2.7"/><circle cx="1035.3" cy="282.4" r="2.7"/><circle cx="1068.9" cy="296.4" r="2.7"/><circle cx="1029.2" cy="213.4" r="2.7"/><circle cx="1030.1" cy="267.4" r="2.7"/><circle cx="1049.8" cy="195.3" r="2.7"/><circle cx="1039.8" cy="160.5" r="2.7"/><circle cx="1035.5" cy="260.3" r="2.7"/><circle cx="1053.8" cy="250.8" r="2.7"/><circle cx="1053.8" cy="310.8" r="2.7"/><circle cx="1035.3" cy="157.9" r="2.7"/><circle cx="1050.7" cy="287.5" r="2.7"/><circle cx="1047" cy="296.1" r="2.7"/><circle cx="1064.2" cy="265" r="2.7"/><circle cx="1030" cy="274.5" r="2.7"/></g>
<path d="M1051,143.9 L1051.1,145.4 L1051.2,146.9 L1051.3,148.5 L1051.4,150 L1051.5,151.5 L1051.6,153 L1051.7,154.5 L1051.8,156.1 L1051.8,157.6 L1051.9,159.1 L1052,160.6 L1052.1,162.1 L1052.1,163.6 L1052.2,165.2 L1052.2,166.7 L1052.3,168.2 L1052.3,169.7 L1052.3,171.2 L1052.4,172.8 L1052.4,174.3 L1052.4,175.8 L1052.5,177.3 L1052.5,178.8 L1052.6,180.4 L1052.6,181.9 L1052.7,183.4 L1052.8,184.9 L1052.9,186.4 L1053,188 L1053.1,189.5 L1053.1,191 L1053.2,192.5 L1053.3,194 L1053.4,195.6 L1053.5,197.1 L1053.6,198.6 L1053.8,200.1 L1054,201.6 L1054.3,203.1 L1054.6,204.7 L1054.8,206.2 L1055,207.7 L1055.3,209.2 L1055.5,210.7 L1055.8,212.3 L1056.1,213.8 L1056.4,215.3 L1056.8,216.8 L1057.1,218.3 L1057.5,219.9 L1057.8,221.4 L1058.2,222.9 L1058.5,224.4 L1058.9,225.9 L1059.2,227.5 L1059.6,229 L1060,230.5 L1060.4,232 L1060.9,233.5 L1061.4,235 L1061.9,236.6 L1062.3,238.1 L1062.7,239.6 L1063,241.1 L1063.4,242.6 L1064,244.2 L1065,245.7 L1066,247.2 L1066.7,248.7 L1067.4,250.2 L1068,251.8 L1068.6,253.3 L1069.1,254.8 L1069.7,256.3 L1070.2,257.8 L1070.7,259.4 L1071.2,260.9 L1071.7,262.4 L1072.2,263.9 L1072.7,265.4 L1073.1,266.9 L1073.4,268.5 L1073.7,270 L1074,271.5 L1074.3,273 L1074.5,274.5 L1074.7,276.1 L1075,277.6 L1075.1,279.1 L1075.3,280.6 L1075.4,282.1 L1075.5,283.7 L1075.6,285.2 L1075.7,286.7 L1075.7,288.2 L1075.6,289.7 L1075.5,291.3 L1075.3,292.8 L1075.1,294.3 L1074.8,295.8 L1074.5,297.3 L1074.1,298.9 L1073.6,300.4 L1073.1,301.9 L1072.5,303.4 L1071.9,304.9 L1071.2,306.4 L1070.5,308 L1069.8,309.5 L1069,311 L1068.2,312.5 L1067.3,314 L1066.4,315.6 L1065.4,317.1 L1064.4,318.6 L1063.3,320.1 L1062.2,321.6 L1061.1,323.2 L1059.9,324.7 L1058.7,326.2 L1057.6,327.7 L1056.5,329.2 L1055.5,330.8 L1054.6,332.3 L1053.7,333.8 L1053,335.3 L1052.3,336.8 L1051.7,338.3 L1051.2,339.9 L1050.8,341.4 L1050.4,342.9 L1050.1,344.4 L1049.9,345.9 L1049.6,347.5 L1049.5,349 L1049.4,350.5 L1048.6,350.5 L1048.5,349 L1048.4,347.5 L1048.1,345.9 L1047.9,344.4 L1047.6,342.9 L1047.2,341.4 L1046.8,339.9 L1046.3,338.3 L1045.7,336.8 L1045,335.3 L1044.3,333.8 L1043.4,332.3 L1042.5,330.8 L1041.5,329.2 L1040.4,327.7 L1039.3,326.2 L1038.1,324.7 L1036.9,323.2 L1035.8,321.6 L1034.7,320.1 L1033.6,318.6 L1032.6,317.1 L1031.6,315.6 L1030.7,314 L1029.8,312.5 L1029,311 L1028.2,309.5 L1027.5,308 L1026.8,306.4 L1026.1,304.9 L1025.5,303.4 L1024.9,301.9 L1024.4,300.4 L1023.9,298.9 L1023.5,297.3 L1023.2,295.8 L1022.9,294.3 L1022.7,292.8 L1022.5,291.3 L1022.4,289.7 L1022.3,288.2 L1022.3,286.7 L1022.4,285.2 L1022.5,283.7 L1022.6,282.1 L1022.7,280.6 L1022.9,279.1 L1023,277.6 L1023.3,276.1 L1023.5,274.5 L1023.7,273 L1024,271.5 L1024.3,270 L1024.6,268.5 L1024.9,266.9 L1025.3,265.4 L1025.8,263.9 L1026.3,262.4 L1026.8,260.9 L1027.3,259.4 L1027.8,257.8 L1028.3,256.3 L1028.9,254.8 L1029.4,253.3 L1030,251.8 L1030.6,250.2 L1031.3,248.7 L1032,247.2 L1033,245.7 L1034,244.2 L1034.6,242.6 L1035,241.1 L1035.3,239.6 L1035.7,238.1 L1036.1,236.6 L1036.6,235 L1037.1,233.5 L1037.6,232 L1038,230.5 L1038.4,229 L1038.8,227.5 L1039.1,225.9 L1039.5,224.4 L1039.8,222.9 L1040.2,221.4 L1040.5,219.9 L1040.9,218.3 L1041.2,216.8 L1041.6,215.3 L1041.9,213.8 L1042.2,212.3 L1042.5,210.7 L1042.7,209.2 L1043,207.7 L1043.2,206.2 L1043.4,204.7 L1043.7,203.1 L1044,201.6 L1044.2,200.1 L1044.4,198.6 L1044.5,197.1 L1044.6,195.6 L1044.7,194 L1044.8,192.5 L1044.9,191 L1044.9,189.5 L1045,188 L1045.1,186.4 L1045.2,184.9 L1045.3,183.4 L1045.4,181.9 L1045.4,180.4 L1045.5,178.8 L1045.5,177.3 L1045.6,175.8 L1045.6,174.3 L1045.6,172.8 L1045.7,171.2 L1045.7,169.7 L1045.7,168.2 L1045.8,166.7 L1045.8,165.2 L1045.9,163.6 L1045.9,162.1 L1046,160.6 L1046.1,159.1 L1046.2,157.6 L1046.2,156.1 L1046.3,154.5 L1046.4,153 L1046.5,151.5 L1046.6,150 L1046.7,148.5 L1046.8,146.9 L1046.9,145.4 L1047,143.9 Z" fill="none" stroke="#000" stroke-width="1.85" stroke-linejoin="round"/>
<path d="M892.9,100.5 V94.6 H971.1 V100.5" fill="none" stroke="#000" stroke-width="1.9"/>
<text x="932" y="96.9" font-size="16.5" text-anchor="middle">***</text>
<path d="M892.9,84.5 V78.5 H1049.2 V84.5" fill="none" stroke="#000" stroke-width="1.9"/>
<text x="971" y="80.8" font-size="16.5" text-anchor="middle">***</text>
<path d="M971.1,68.4 V62.5 H1049.2 V68.4" fill="none" stroke="#000" stroke-width="1.9"/>
<text x="1010.2" y="64.8" font-size="16.5" text-anchor="middle">***</text>
<rect x="846.2" y="47.9" width="249.7" height="316.8" fill="none" stroke="#000" stroke-width="2"/>
<line x1="838.7" y1="318" x2="846.2" y2="318" stroke="#000" stroke-width="1.9"/>
<text x="834.2" y="324.8" font-size="22.8" text-anchor="end">2</text>
<line x1="838.7" y1="252.6" x2="846.2" y2="252.6" stroke="#000" stroke-width="1.9"/>
<text x="834.2" y="259.4" font-size="22.8" text-anchor="end">4</text>
<line x1="838.7" y1="187.2" x2="846.2" y2="187.2" stroke="#000" stroke-width="1.9"/>
<text x="834.2" y="194" font-size="22.8" text-anchor="end">6</text>
<line x1="838.7" y1="121.8" x2="846.2" y2="121.8" stroke="#000" stroke-width="1.9"/>
<text x="834.2" y="128.6" font-size="22.8" text-anchor="end">8</text>
<line x1="838.7" y1="56.4" x2="846.2" y2="56.4" stroke="#000" stroke-width="1.9"/>
<text x="834.2" y="63.2" font-size="22.8" text-anchor="end">10</text>
<line x1="892.9" y1="364.7" x2="892.9" y2="372.2" stroke="#000" stroke-width="1.9"/>
<text x="893.4" y="392.7" font-size="22.3" text-anchor="middle">A</text>
<line x1="971.1" y1="364.7" x2="971.1" y2="372.2" stroke="#000" stroke-width="1.9"/>
<text x="972.8" y="392.7" font-size="22.3" text-anchor="middle">OA</text>
<line x1="1049.2" y1="364.7" x2="1049.2" y2="372.2" stroke="#000" stroke-width="1.9"/>
<text x="1048.2" y="392.7" font-size="22.3" text-anchor="middle">O</text>
<text x="975.4" y="420.6" font-size="25" text-anchor="middle">Histological type</text>
<text x="772.8" y="206.3" font-size="22.3" text-anchor="middle" transform="rotate(-90 772.8 206.3)">PLEKHA4 expression</text>
<text x="793.7" y="206.3" font-size="22.3" text-anchor="middle" transform="rotate(-90 793.7 206.3)">Log<tspan font-size="16" dy="5.6">2</tspan><tspan dy="-5.6"> (TPM+1)</tspan></text>
<path d="M140.6,491 L140.6,492.5 L140.7,494 L140.7,495.5 L140.8,497.1 L140.9,498.6 L141,500.1 L141.1,501.6 L141.2,503.1 L141.3,504.6 L141.5,506.1 L141.7,507.7 L141.8,509.2 L142,510.7 L142.2,512.2 L142.3,513.7 L142.5,515.2 L142.7,516.7 L142.8,518.3 L143,519.8 L143.1,521.3 L143.3,522.8 L143.5,524.3 L143.6,525.8 L143.8,527.4 L144,528.9 L144.1,530.4 L144.3,531.9 L144.5,533.4 L144.6,534.9 L144.8,536.4 L145,538 L145.2,539.5 L145.3,541 L145.5,542.5 L145.6,544 L145.8,545.5 L145.9,547 L146.1,548.6 L146.2,550.1 L146.4,551.6 L146.5,553.1 L146.7,554.6 L146.8,556.1 L147,557.6 L147.2,559.2 L147.4,560.7 L147.5,562.2 L147.7,563.7 L147.9,565.2 L148.1,566.7 L148.3,568.2 L148.6,569.8 L148.8,571.3 L149.1,572.8 L149.4,574.3 L149.7,575.8 L150,577.3 L150.3,578.8 L150.7,580.4 L151,581.9 L151.4,583.4 L151.8,584.9 L152.2,586.4 L152.6,587.9 L153,589.4 L153.5,591 L153.9,592.5 L154.4,594 L155,595.5 L155.5,597 L156.1,598.5 L156.8,600.1 L157.7,601.6 L158.5,603.1 L159.2,604.6 L159.6,606.1 L160,607.6 L160.2,609.1 L160.5,610.7 L160.7,612.2 L160.9,613.7 L161.1,615.2 L161.3,616.7 L161.4,618.2 L161.6,619.7 L161.8,621.3 L161.9,622.8 L162,624.3 L162.1,625.8 L162.1,627.3 L162.1,628.8 L162.1,630.3 L162.1,631.9 L162.1,633.4 L162.1,634.9 L162.1,636.4 L162.1,637.9 L162.1,639.4 L162,640.9 L162,642.5 L161.9,644 L161.9,645.5 L161.8,647 L161.7,648.5 L161.5,650 L161.3,651.5 L161.1,653.1 L160.8,654.6 L160.5,656.1 L160.2,657.6 L159.9,659.1 L159.6,660.6 L159.3,662.1 L158.9,663.7 L158.5,665.2 L158.1,666.7 L157.7,668.2 L157.3,669.7 L156.9,671.2 L156.4,672.8 L155.9,674.3 L155.5,675.8 L155,677.3 L154.5,678.8 L154.1,680.3 L153.6,681.8 L153.2,683.4 L152.8,684.9 L152.4,686.4 L152,687.9 L151.6,689.4 L151.2,690.9 L150.8,692.4 L150.4,694 L150.1,695.5 L149.7,697 L149.3,698.5 L149,700 L148.6,701.5 L148.3,703 L147.9,704.6 L147.6,706.1 L147.3,707.6 L147,709.1 L146.6,710.6 L146.3,712.1 L146,713.6 L145.7,715.2 L145.4,716.7 L145.1,718.2 L144.8,719.7 L144.5,721.2 L144.2,722.7 L143.9,724.2 L143.6,725.8 L143.3,727.3 L143,728.8 L142.8,730.3 L142.5,731.8 L142.2,733.3 L142,734.8 L141.7,736.4 L141.5,737.9 L141.3,739.4 L141.1,740.9 L140.9,742.4 L140.8,743.9 L140.7,745.5 L140.6,747 L140.5,748.5 L140.4,750 L140.3,751.5 L140.2,753 L140.2,754.5 L140.1,756.1 L140.1,757.6 L140,759.1 L140,760.6 L139.9,762.1 L139.9,763.6 L139.8,765.1 L139.8,766.7 L139.8,768.2 L139.7,769.7 L139.7,771.2 L138.9,771.2 L138.9,769.7 L138.8,768.2 L138.8,766.7 L138.8,765.1 L138.7,763.6 L138.7,762.1 L138.6,760.6 L138.6,759.1 L138.5,757.6 L138.5,756.1 L138.4,754.5 L138.4,753 L138.3,751.5 L138.2,750 L138.1,748.5 L138,747 L137.9,745.5 L137.8,743.9 L137.7,742.4 L137.5,740.9 L137.3,739.4 L137.1,737.9 L136.9,736.4 L136.6,734.8 L136.4,733.3 L136.1,731.8 L135.8,730.3 L135.6,728.8 L135.3,727.3 L135,725.8 L134.7,724.2 L134.4,722.7 L134.1,721.2 L133.8,719.7 L133.5,718.2 L133.2,716.7 L132.9,715.2 L132.6,713.6 L132.3,712.1 L132,710.6 L131.6,709.1 L131.3,707.6 L131,706.1 L130.7,704.6 L130.3,703 L130,701.5 L129.6,700 L129.3,698.5 L128.9,697 L128.5,695.5 L128.2,694 L127.8,692.4 L127.4,690.9 L127,689.4 L126.6,687.9 L126.2,686.4 L125.8,684.9 L125.4,683.4 L125,681.8 L124.5,680.3 L124.1,678.8 L123.6,677.3 L123.1,675.8 L122.7,674.3 L122.2,672.8 L121.7,671.2 L121.3,669.7 L120.9,668.2 L120.5,666.7 L120.1,665.2 L119.7,663.7 L119.3,662.1 L119,660.6 L118.7,659.1 L118.4,657.6 L118.1,656.1 L117.8,654.6 L117.5,653.1 L117.3,651.5 L117.1,650 L116.9,648.5 L116.8,647 L116.7,645.5 L116.7,644 L116.6,642.5 L116.6,640.9 L116.5,639.4 L116.5,637.9 L116.5,636.4 L116.5,634.9 L116.5,633.4 L116.5,631.9 L116.5,630.3 L116.5,628.8 L116.5,627.3 L116.5,625.8 L116.6,624.3 L116.7,622.8 L116.8,621.3 L117,619.7 L117.2,618.2 L117.3,616.7 L117.5,615.2 L117.7,613.7 L117.9,612.2 L118.1,610.7 L118.4,609.1 L118.6,607.6 L119,606.1 L119.4,604.6 L120.1,603.1 L120.9,601.6 L121.8,600.1 L122.5,598.5 L123.1,597 L123.6,595.5 L124.2,594 L124.7,592.5 L125.1,591 L125.6,589.4 L126,587.9 L126.4,586.4 L126.8,584.9 L127.2,583.4 L127.6,581.9 L127.9,580.4 L128.3,578.8 L128.6,577.3 L128.9,575.8 L129.2,574.3 L129.5,572.8 L129.8,571.3 L130,569.8 L130.3,568.2 L130.5,566.7 L130.7,565.2 L130.9,563.7 L131.1,562.2 L131.2,560.7 L131.4,559.2 L131.6,557.6 L131.8,556.1 L131.9,554.6 L132.1,553.1 L132.2,551.6 L132.4,550.1 L132.5,548.6 L132.7,547 L132.8,545.5 L133,544 L133.1,542.5 L133.3,541 L133.4,539.5 L133.6,538 L133.8,536.4 L134,534.9 L134.1,533.4 L134.3,531.9 L134.5,530.4 L134.6,528.9 L134.8,527.4 L135,525.8 L135.1,524.3 L135.3,522.8 L135.5,521.3 L135.6,519.8 L135.8,518.3 L135.9,516.7 L136.1,515.2 L136.3,513.7 L136.4,512.2 L136.6,510.7 L136.8,509.2 L136.9,507.7 L137.1,506.1 L137.3,504.6 L137.4,503.1 L137.5,501.6 L137.6,500.1 L137.7,498.6 L137.8,497.1 L137.9,495.5 L137.9,494 L138,492.5 L138,491 Z" fill="#bee3ef"/>
<line x1="139.3" y1="491" x2="139.3" y2="771.2" stroke="#000" stroke-width="1.8"/>
<rect x="129.3" y="596.2" width="20" height="67.8" fill="#1ba3cc" stroke="#000" stroke-width="2.0"/>
<line x1="129.3" y1="632.2" x2="149.3" y2="632.2" stroke="#000" stroke-width="3"/>
<g fill="rgba(27,163,204,0.7)"><circle cx="160.8" cy="593.7" r="2.7"/><circle cx="137.4" cy="641.5" r="2.7"/><circle cx="149.3" cy="527.3" r="2.7"/><circle cx="161.5" cy="684" r="2.7"/><circle cx="146.1" cy="720.9" r="2.7"/><circle cx="120.3" cy="609.8" r="2.7"/><circle cx="129.2" cy="669.4" r="2.7"/><circle cx="163" cy="596.9" r="2.7"/><circle cx="113.9" cy="712.3" r="2.7"/><circle cx="123.7" cy="591" r="2.7"/><circle cx="145.9" cy="501.9" r="2.7"/><circle cx="159.1" cy="545.8" r="2.7"/><circle cx="157.2" cy="627" r="2.7"/><circle cx="152.2" cy="529.6" r="2.7"/><circle cx="150.6" cy="730.6" r="2.7"/><circle cx="132.2" cy="650.2" r="2.7"/><circle cx="114.7" cy="641" r="2.7"/><circle cx="146.9" cy="648.5" r="2.7"/><circle cx="115.4" cy="621.9" r="2.7"/><circle cx="156" cy="692.1" r="2.7"/><circle cx="118.6" cy="661.3" r="2.7"/><circle cx="112.7" cy="622.3" r="2.7"/><circle cx="167.3" cy="603.4" r="2.7"/><circle cx="120.7" cy="575" r="2.7"/><circle cx="143.9" cy="607.1" r="2.7"/><circle cx="114.7" cy="614.1" r="2.7"/><circle cx="166.2" cy="551.2" r="2.7"/><circle cx="112.2" cy="702.4" r="2.7"/><circle cx="149.8" cy="598.4" r="2.7"/><circle cx="158.5" cy="638.2" r="2.7"/><circle cx="127.9" cy="545.2" r="2.7"/><circle cx="111.7" cy="640.1" r="2.7"/><circle cx="113.4" cy="650.8" r="2.7"/><circle cx="114.7" cy="551.2" r="2.7"/><circle cx="153.5" cy="725.5" r="2.7"/><circle cx="140.9" cy="578.7" r="2.7"/><circle cx="161.5" cy="599.8" r="2.7"/><circle cx="146.7" cy="662.9" r="2.7"/><circle cx="144.6" cy="610.2" r="2.7"/><circle cx="122.6" cy="689.1" r="2.7"/><circle cx="123.8" cy="595.8" r="2.7"/><circle cx="166.1" cy="607.4" r="2.7"/><circle cx="164.6" cy="657.9" r="2.7"/><circle cx="135.8" cy="686.3" r="2.7"/><circle cx="155.8" cy="690.7" r="2.7"/><circle cx="151.6" cy="604.1" r="2.7"/><circle cx="126.9" cy="636" r="2.7"/><circle cx="122.5" cy="621.9" r="2.7"/><circle cx="153.2" cy="654.5" r="2.7"/><circle cx="165.2" cy="593.7" r="2.7"/><circle cx="166.4" cy="681.4" r="2.7"/><circle cx="131.3" cy="661.2" r="2.7"/><circle cx="115" cy="582.2" r="2.7"/><circle cx="129.2" cy="607.9" r="2.7"/><circle cx="115.2" cy="611.1" r="2.7"/><circle cx="166.6" cy="704.2" r="2.7"/><circle cx="128.5" cy="627.7" r="2.7"/><circle cx="158.8" cy="646.4" r="2.7"/><circle cx="125.1" cy="704.8" r="2.7"/><circle cx="165.1" cy="618" r="2.7"/><circle cx="138.7" cy="710.9" r="2.7"/><circle cx="158" cy="604.2" r="2.7"/><circle cx="144.9" cy="510.5" r="2.7"/><circle cx="154.2" cy="560.9" r="2.7"/><circle cx="115.4" cy="658.3" r="2.7"/><circle cx="116.2" cy="616.5" r="2.7"/><circle cx="131.3" cy="679.8" r="2.7"/><circle cx="160.4" cy="635.8" r="2.7"/><circle cx="162.2" cy="656.3" r="2.7"/><circle cx="151.1" cy="614.3" r="2.7"/><circle cx="144.8" cy="643.2" r="2.7"/><circle cx="114.1" cy="657.4" r="2.7"/><circle cx="163.3" cy="616.2" r="2.7"/><circle cx="148.3" cy="632.5" r="2.7"/><circle cx="145.8" cy="681.3" r="2.7"/><circle cx="158.5" cy="703.9" r="2.7"/><circle cx="124.5" cy="612.6" r="2.7"/><circle cx="146" cy="546.3" r="2.7"/><circle cx="149.5" cy="682.2" r="2.7"/><circle cx="153.6" cy="625.2" r="2.7"/><circle cx="116.6" cy="722.6" r="2.7"/><circle cx="152.1" cy="668.2" r="2.7"/><circle cx="161.9" cy="615.8" r="2.7"/><circle cx="146.5" cy="683.7" r="2.7"/><circle cx="120.8" cy="637.3" r="2.7"/><circle cx="162.7" cy="660.6" r="2.7"/><circle cx="117" cy="692.9" r="2.7"/><circle cx="124.2" cy="642.5" r="2.7"/><circle cx="159.2" cy="712.4" r="2.7"/><circle cx="144.3" cy="620.4" r="2.7"/><circle cx="130.1" cy="617.4" r="2.7"/><circle cx="156.3" cy="650.5" r="2.7"/><circle cx="147.6" cy="619.8" r="2.7"/><circle cx="117.9" cy="658.8" r="2.7"/><circle cx="124.3" cy="635.9" r="2.7"/><circle cx="156.7" cy="664.7" r="2.7"/><circle cx="156.7" cy="679" r="2.7"/><circle cx="115.5" cy="641.4" r="2.7"/><circle cx="140.5" cy="700.6" r="2.7"/><circle cx="151.2" cy="671.9" r="2.7"/><circle cx="129.5" cy="684.5" r="2.7"/><circle cx="114.8" cy="516.5" r="2.7"/><circle cx="134.7" cy="513.3" r="2.7"/><circle cx="163.7" cy="650.1" r="2.7"/><circle cx="152.2" cy="611.3" r="2.7"/><circle cx="123.2" cy="689.8" r="2.7"/><circle cx="158.6" cy="618.1" r="2.7"/><circle cx="148.7" cy="664.7" r="2.7"/><circle cx="127.5" cy="597.5" r="2.7"/><circle cx="126.3" cy="649.1" r="2.7"/><circle cx="121.2" cy="695.9" r="2.7"/><circle cx="134" cy="686.1" r="2.7"/><circle cx="131.5" cy="615" r="2.7"/><circle cx="127.3" cy="630.5" r="2.7"/><circle cx="160.2" cy="637" r="2.7"/><circle cx="153.9" cy="611.8" r="2.7"/><circle cx="138.9" cy="630.2" r="2.7"/><circle cx="165.2" cy="719" r="2.7"/><circle cx="149" cy="690.2" r="2.7"/><circle cx="164.6" cy="607.2" r="2.7"/><circle cx="157.5" cy="656.6" r="2.7"/><circle cx="146.8" cy="712.4" r="2.7"/><circle cx="150.1" cy="613.6" r="2.7"/><circle cx="154.7" cy="683.2" r="2.7"/><circle cx="153.7" cy="673.9" r="2.7"/><circle cx="160.2" cy="692.8" r="2.7"/><circle cx="130.3" cy="553.1" r="2.7"/><circle cx="131.7" cy="702.4" r="2.7"/><circle cx="125.1" cy="730.5" r="2.7"/><circle cx="162.9" cy="596.2" r="2.7"/><circle cx="161.9" cy="649.4" r="2.7"/><circle cx="136.1" cy="555.4" r="2.7"/><circle cx="133.8" cy="644.9" r="2.7"/><circle cx="118.7" cy="658.8" r="2.7"/><circle cx="165.9" cy="665.9" r="2.7"/><circle cx="148.9" cy="685.6" r="2.7"/><circle cx="165.3" cy="604.1" r="2.7"/><circle cx="146.7" cy="565.5" r="2.7"/><circle cx="140.1" cy="677.5" r="2.7"/><circle cx="153.2" cy="522.7" r="2.7"/><circle cx="161" cy="594.4" r="2.7"/><circle cx="158.6" cy="595.7" r="2.7"/><circle cx="130.7" cy="669.3" r="2.7"/><circle cx="139.7" cy="624.3" r="2.7"/><circle cx="164.2" cy="682.2" r="2.7"/><circle cx="139.7" cy="654.8" r="2.7"/><circle cx="156.2" cy="681.9" r="2.7"/><circle cx="140.7" cy="671.6" r="2.7"/><circle cx="157.9" cy="690.4" r="2.7"/><circle cx="115.1" cy="600.9" r="2.7"/><circle cx="111.4" cy="613" r="2.7"/><circle cx="116.4" cy="648.7" r="2.7"/><circle cx="135.7" cy="642.4" r="2.7"/><circle cx="131.9" cy="670.2" r="2.7"/><circle cx="165" cy="676.5" r="2.7"/><circle cx="167.1" cy="605.5" r="2.7"/><circle cx="118.8" cy="566.5" r="2.7"/><circle cx="158" cy="665.1" r="2.7"/><circle cx="139.8" cy="656.2" r="2.7"/><circle cx="158.4" cy="602.2" r="2.7"/><circle cx="132" cy="541.1" r="2.7"/><circle cx="154.6" cy="519.5" r="2.7"/><circle cx="111.6" cy="597.3" r="2.7"/><circle cx="137.5" cy="601.3" r="2.7"/><circle cx="129.9" cy="589.5" r="2.7"/><circle cx="125.4" cy="537.4" r="2.7"/><circle cx="128.1" cy="580.5" r="2.7"/><circle cx="134.8" cy="612.1" r="2.7"/><circle cx="139.1" cy="556.3" r="2.7"/><circle cx="140.7" cy="589.5" r="2.7"/><circle cx="152.4" cy="624.4" r="2.7"/><circle cx="157.6" cy="683.7" r="2.7"/><circle cx="165.1" cy="687.3" r="2.7"/><circle cx="148.8" cy="620.1" r="2.7"/><circle cx="125.7" cy="568.4" r="2.7"/><circle cx="143.7" cy="601.8" r="2.7"/><circle cx="135.9" cy="654.4" r="2.7"/><circle cx="124.5" cy="619.1" r="2.7"/><circle cx="129.9" cy="641.6" r="2.7"/><circle cx="124.1" cy="664.2" r="2.7"/><circle cx="141.5" cy="653.8" r="2.7"/><circle cx="115" cy="686.3" r="2.7"/><circle cx="141.7" cy="553.7" r="2.7"/><circle cx="134.4" cy="605.2" r="2.7"/><circle cx="111.7" cy="527.4" r="2.7"/><circle cx="126.7" cy="635.5" r="2.7"/><circle cx="165.7" cy="647.5" r="2.7"/><circle cx="143.8" cy="597.9" r="2.7"/><circle cx="114.9" cy="538.9" r="2.7"/><circle cx="143.6" cy="627.2" r="2.7"/><circle cx="150.7" cy="580.4" r="2.7"/><circle cx="118.8" cy="586.6" r="2.7"/><circle cx="133.9" cy="616.8" r="2.7"/><circle cx="123.3" cy="711.2" r="2.7"/><circle cx="141.7" cy="614.1" r="2.7"/><circle cx="157.4" cy="660" r="2.7"/><circle cx="124.7" cy="615" r="2.7"/><circle cx="119.1" cy="620.3" r="2.7"/><circle cx="119.1" cy="573.2" r="2.7"/><circle cx="145.7" cy="584.2" r="2.7"/><circle cx="115.2" cy="669.9" r="2.7"/><circle cx="140.8" cy="622.2" r="2.7"/><circle cx="156.7" cy="603.1" r="2.7"/><circle cx="154.2" cy="737.1" r="2.7"/><circle cx="148.8" cy="690.3" r="2.7"/><circle cx="111.9" cy="600.5" r="2.7"/><circle cx="135.5" cy="624.3" r="2.7"/><circle cx="124.9" cy="641.7" r="2.7"/><circle cx="140.2" cy="580.9" r="2.7"/><circle cx="119.8" cy="622.1" r="2.7"/><circle cx="118.9" cy="603.3" r="2.7"/><circle cx="164.6" cy="676.3" r="2.7"/><circle cx="160.6" cy="557.3" r="2.7"/><circle cx="116.8" cy="742.7" r="2.7"/><circle cx="157.7" cy="595.1" r="2.7"/><circle cx="115" cy="610.2" r="2.7"/><circle cx="130.3" cy="548.3" r="2.7"/><circle cx="167" cy="699.7" r="2.7"/><circle cx="164" cy="679.5" r="2.7"/><circle cx="137.5" cy="545.1" r="2.7"/><circle cx="150.6" cy="636.3" r="2.7"/><circle cx="132.7" cy="618.2" r="2.7"/><circle cx="158.8" cy="645.8" r="2.7"/><circle cx="129" cy="611.4" r="2.7"/><circle cx="122.9" cy="715.3" r="2.7"/><circle cx="119.4" cy="591.5" r="2.7"/><circle cx="146.6" cy="676.7" r="2.7"/><circle cx="142.5" cy="600.3" r="2.7"/><circle cx="161.9" cy="651.1" r="2.7"/><circle cx="119.5" cy="623.3" r="2.7"/><circle cx="156.4" cy="636.5" r="2.7"/><circle cx="164.2" cy="634.3" r="2.7"/><circle cx="153.1" cy="649" r="2.7"/><circle cx="117.7" cy="545.6" r="2.7"/><circle cx="119.9" cy="542.5" r="2.7"/><circle cx="116.2" cy="722.1" r="2.7"/><circle cx="130" cy="599.1" r="2.7"/><circle cx="153.8" cy="613.7" r="2.7"/><circle cx="119.4" cy="596.1" r="2.7"/><circle cx="136.4" cy="650.9" r="2.7"/><circle cx="113.8" cy="733.6" r="2.7"/><circle cx="149.3" cy="619.6" r="2.7"/><circle cx="116.8" cy="609.2" r="2.7"/><circle cx="155.7" cy="612.4" r="2.7"/><circle cx="145.6" cy="523.3" r="2.7"/><circle cx="122" cy="555.2" r="2.7"/><circle cx="150.4" cy="535.9" r="2.7"/><circle cx="130.9" cy="609.7" r="2.7"/><circle cx="140.6" cy="732.8" r="2.7"/><circle cx="142.5" cy="572.1" r="2.7"/><circle cx="126.5" cy="637.6" r="2.7"/><circle cx="134.7" cy="589.1" r="2.7"/><circle cx="155.3" cy="530.8" r="2.7"/><circle cx="159.7" cy="681.9" r="2.7"/><circle cx="158.8" cy="568.1" r="2.7"/><circle cx="143.1" cy="571.7" r="2.7"/><circle cx="160.2" cy="677.9" r="2.7"/><circle cx="119.2" cy="597.2" r="2.7"/><circle cx="166.4" cy="588.2" r="2.7"/><circle cx="113.8" cy="709.6" r="2.7"/><circle cx="161.7" cy="586.1" r="2.7"/><circle cx="155.6" cy="681.1" r="2.7"/><circle cx="133.1" cy="605.6" r="2.7"/><circle cx="155.6" cy="640.3" r="2.7"/><circle cx="164.9" cy="608.1" r="2.7"/><circle cx="120.5" cy="610.2" r="2.7"/><circle cx="147.7" cy="705.8" r="2.7"/><circle cx="111.5" cy="698.5" r="2.7"/><circle cx="148.5" cy="581.3" r="2.7"/><circle cx="114.7" cy="662" r="2.7"/><circle cx="148.7" cy="572.6" r="2.7"/><circle cx="112.8" cy="605.5" r="2.7"/><circle cx="133.9" cy="547.2" r="2.7"/><circle cx="159.8" cy="651.5" r="2.7"/><circle cx="128.5" cy="661.6" r="2.7"/><circle cx="165.6" cy="665.6" r="2.7"/><circle cx="137.7" cy="669.6" r="2.7"/><circle cx="121.5" cy="617.5" r="2.7"/><circle cx="163.7" cy="582.4" r="2.7"/><circle cx="120" cy="498.4" r="2.7"/><circle cx="144.6" cy="623.7" r="2.7"/><circle cx="164.1" cy="705.8" r="2.7"/><circle cx="164" cy="625.4" r="2.7"/><circle cx="142.4" cy="646.3" r="2.7"/><circle cx="123.2" cy="699.8" r="2.7"/><circle cx="139.3" cy="685.9" r="2.7"/><circle cx="127.7" cy="664.7" r="2.7"/><circle cx="128.9" cy="644.2" r="2.7"/><circle cx="129.1" cy="593.5" r="2.7"/><circle cx="122.6" cy="664.5" r="2.7"/><circle cx="113.5" cy="620.8" r="2.7"/><circle cx="153.3" cy="658.8" r="2.7"/><circle cx="112" cy="592" r="2.7"/><circle cx="143.4" cy="709.2" r="2.7"/><circle cx="131.9" cy="579.4" r="2.7"/><circle cx="147.7" cy="673.2" r="2.7"/><circle cx="143.8" cy="693.9" r="2.7"/><circle cx="138.1" cy="576.2" r="2.7"/><circle cx="154.8" cy="688.3" r="2.7"/><circle cx="143.3" cy="651.7" r="2.7"/><circle cx="161.6" cy="645.9" r="2.7"/><circle cx="144.1" cy="598.4" r="2.7"/><circle cx="160.4" cy="609.5" r="2.7"/><circle cx="159.7" cy="595.5" r="2.7"/><circle cx="150.9" cy="624.6" r="2.7"/><circle cx="129.7" cy="651.9" r="2.7"/><circle cx="138.6" cy="661.5" r="2.7"/><circle cx="115.7" cy="659.6" r="2.7"/><circle cx="151.9" cy="611.5" r="2.7"/><circle cx="147.5" cy="610.5" r="2.7"/><circle cx="157.1" cy="668.3" r="2.7"/><circle cx="116" cy="724.7" r="2.7"/><circle cx="118.5" cy="591.8" r="2.7"/><circle cx="147.5" cy="621.5" r="2.7"/><circle cx="152.3" cy="601.3" r="2.7"/><circle cx="115.4" cy="725.1" r="2.7"/><circle cx="113" cy="515" r="2.7"/><circle cx="129.5" cy="694.2" r="2.7"/><circle cx="130.3" cy="667.6" r="2.7"/><circle cx="114.2" cy="611.2" r="2.7"/><circle cx="116.8" cy="655.4" r="2.7"/><circle cx="122.7" cy="614.8" r="2.7"/><circle cx="112.1" cy="649.8" r="2.7"/><circle cx="119.6" cy="622.1" r="2.7"/><circle cx="112.7" cy="700.7" r="2.7"/><circle cx="132" cy="628" r="2.7"/><circle cx="153.2" cy="676.4" r="2.7"/><circle cx="148.3" cy="642" r="2.7"/><circle cx="145.1" cy="615.7" r="2.7"/><circle cx="137.5" cy="721" r="2.7"/><circle cx="121.8" cy="586.1" r="2.7"/><circle cx="114" cy="698.8" r="2.7"/><circle cx="121.7" cy="729.7" r="2.7"/><circle cx="164.3" cy="682.6" r="2.7"/><circle cx="156.9" cy="647.6" r="2.7"/><circle cx="143.2" cy="648.3" r="2.7"/><circle cx="145.6" cy="705" r="2.7"/><circle cx="153" cy="624.2" r="2.7"/><circle cx="157.3" cy="678.2" r="2.7"/><circle cx="124.8" cy="669.7" r="2.7"/><circle cx="156.2" cy="685.9" r="2.7"/><circle cx="147.6" cy="623.7" r="2.7"/><circle cx="126.9" cy="650.8" r="2.7"/><circle cx="127.4" cy="556" r="2.7"/><circle cx="120.9" cy="546.7" r="2.7"/><circle cx="142" cy="561.9" r="2.7"/><circle cx="165.5" cy="664.4" r="2.7"/><circle cx="155.5" cy="614.2" r="2.7"/><circle cx="120.6" cy="698.8" r="2.7"/><circle cx="118" cy="549.7" r="2.7"/><circle cx="127.1" cy="582.3" r="2.7"/><circle cx="120.5" cy="680.6" r="2.7"/><circle cx="119.3" cy="621.3" r="2.7"/><circle cx="152.3" cy="592.1" r="2.7"/><circle cx="128.9" cy="670.8" r="2.7"/><circle cx="143" cy="595.4" r="2.7"/><circle cx="129" cy="723.9" r="2.7"/></g>
<path d="M140.6,491 L140.6,492.5 L140.7,494 L140.7,495.5 L140.8,497.1 L140.9,498.6 L141,500.1 L141.1,501.6 L141.2,503.1 L141.3,504.6 L141.5,506.1 L141.7,507.7 L141.8,509.2 L142,510.7 L142.2,512.2 L142.3,513.7 L142.5,515.2 L142.7,516.7 L142.8,518.3 L143,519.8 L143.1,521.3 L143.3,522.8 L143.5,524.3 L143.6,525.8 L143.8,527.4 L144,528.9 L144.1,530.4 L144.3,531.9 L144.5,533.4 L144.6,534.9 L144.8,536.4 L145,538 L145.2,539.5 L145.3,541 L145.5,542.5 L145.6,544 L145.8,545.5 L145.9,547 L146.1,548.6 L146.2,550.1 L146.4,551.6 L146.5,553.1 L146.7,554.6 L146.8,556.1 L147,557.6 L147.2,559.2 L147.4,560.7 L147.5,562.2 L147.7,563.7 L147.9,565.2 L148.1,566.7 L148.3,568.2 L148.6,569.8 L148.8,571.3 L149.1,572.8 L149.4,574.3 L149.7,575.8 L150,577.3 L150.3,578.8 L150.7,580.4 L151,581.9 L151.4,583.4 L151.8,584.9 L152.2,586.4 L152.6,587.9 L153,589.4 L153.5,591 L153.9,592.5 L154.4,594 L155,595.5 L155.5,597 L156.1,598.5 L156.8,600.1 L157.7,601.6 L158.5,603.1 L159.2,604.6 L159.6,606.1 L160,607.6 L160.2,609.1 L160.5,610.7 L160.7,612.2 L160.9,613.7 L161.1,615.2 L161.3,616.7 L161.4,618.2 L161.6,619.7 L161.8,621.3 L161.9,622.8 L162,624.3 L162.1,625.8 L162.1,627.3 L162.1,628.8 L162.1,630.3 L162.1,631.9 L162.1,633.4 L162.1,634.9 L162.1,636.4 L162.1,637.9 L162.1,639.4 L162,640.9 L162,642.5 L161.9,644 L161.9,645.5 L161.8,647 L161.7,648.5 L161.5,650 L161.3,651.5 L161.1,653.1 L160.8,654.6 L160.5,656.1 L160.2,657.6 L159.9,659.1 L159.6,660.6 L159.3,662.1 L158.9,663.7 L158.5,665.2 L158.1,666.7 L157.7,668.2 L157.3,669.7 L156.9,671.2 L156.4,672.8 L155.9,674.3 L155.5,675.8 L155,677.3 L154.5,678.8 L154.1,680.3 L153.6,681.8 L153.2,683.4 L152.8,684.9 L152.4,686.4 L152,687.9 L151.6,689.4 L151.2,690.9 L150.8,692.4 L150.4,694 L150.1,695.5 L149.7,697 L149.3,698.5 L149,700 L148.6,701.5 L148.3,703 L147.9,704.6 L147.6,706.1 L147.3,707.6 L147,709.1 L146.6,710.6 L146.3,712.1 L146,713.6 L145.7,715.2 L145.4,716.7 L145.1,718.2 L144.8,719.7 L144.5,721.2 L144.2,722.7 L143.9,724.2 L143.6,725.8 L143.3,727.3 L143,728.8 L142.8,730.3 L142.5,731.8 L142.2,733.3 L142,734.8 L141.7,736.4 L141.5,737.9 L141.3,739.4 L141.1,740.9 L140.9,742.4 L140.8,743.9 L140.7,745.5 L140.6,747 L140.5,748.5 L140.4,750 L140.3,751.5 L140.2,753 L140.2,754.5 L140.1,756.1 L140.1,757.6 L140,759.1 L140,760.6 L139.9,762.1 L139.9,763.6 L139.8,765.1 L139.8,766.7 L139.8,768.2 L139.7,769.7 L139.7,771.2 L138.9,771.2 L138.9,769.7 L138.8,768.2 L138.8,766.7 L138.8,765.1 L138.7,763.6 L138.7,762.1 L138.6,760.6 L138.6,759.1 L138.5,757.6 L138.5,756.1 L138.4,754.5 L138.4,753 L138.3,751.5 L138.2,750 L138.1,748.5 L138,747 L137.9,745.5 L137.8,743.9 L137.7,742.4 L137.5,740.9 L137.3,739.4 L137.1,737.9 L136.9,736.4 L136.6,734.8 L136.4,733.3 L136.1,731.8 L135.8,730.3 L135.6,728.8 L135.3,727.3 L135,725.8 L134.7,724.2 L134.4,722.7 L134.1,721.2 L133.8,719.7 L133.5,718.2 L133.2,716.7 L132.9,715.2 L132.6,713.6 L132.3,712.1 L132,710.6 L131.6,709.1 L131.3,707.6 L131,706.1 L130.7,704.6 L130.3,703 L130,701.5 L129.6,700 L129.3,698.5 L128.9,697 L128.5,695.5 L128.2,694 L127.8,692.4 L127.4,690.9 L127,689.4 L126.6,687.9 L126.2,686.4 L125.8,684.9 L125.4,683.4 L125,681.8 L124.5,680.3 L124.1,678.8 L123.6,677.3 L123.1,675.8 L122.7,674.3 L122.2,672.8 L121.7,671.2 L121.3,669.7 L120.9,668.2 L120.5,666.7 L120.1,665.2 L119.7,663.7 L119.3,662.1 L119,660.6 L118.7,659.1 L118.4,657.6 L118.1,656.1 L117.8,654.6 L117.5,653.1 L117.3,651.5 L117.1,650 L116.9,648.5 L116.8,647 L116.7,645.5 L116.7,644 L116.6,642.5 L116.6,640.9 L116.5,639.4 L116.5,637.9 L116.5,636.4 L116.5,634.9 L116.5,633.4 L116.5,631.9 L116.5,630.3 L116.5,628.8 L116.5,627.3 L116.5,625.8 L116.6,624.3 L116.7,622.8 L116.8,621.3 L117,619.7 L117.2,618.2 L117.3,616.7 L117.5,615.2 L117.7,613.7 L117.9,612.2 L118.1,610.7 L118.4,609.1 L118.6,607.6 L119,606.1 L119.4,604.6 L120.1,603.1 L120.9,601.6 L121.8,600.1 L122.5,598.5 L123.1,597 L123.6,595.5 L124.2,594 L124.7,592.5 L125.1,591 L125.6,589.4 L126,587.9 L126.4,586.4 L126.8,584.9 L127.2,583.4 L127.6,581.9 L127.9,580.4 L128.3,578.8 L128.6,577.3 L128.9,575.8 L129.2,574.3 L129.5,572.8 L129.8,571.3 L130,569.8 L130.3,568.2 L130.5,566.7 L130.7,565.2 L130.9,563.7 L131.1,562.2 L131.2,560.7 L131.4,559.2 L131.6,557.6 L131.8,556.1 L131.9,554.6 L132.1,553.1 L132.2,551.6 L132.4,550.1 L132.5,548.6 L132.7,547 L132.8,545.5 L133,544 L133.1,542.5 L133.3,541 L133.4,539.5 L133.6,538 L133.8,536.4 L134,534.9 L134.1,533.4 L134.3,531.9 L134.5,530.4 L134.6,528.9 L134.8,527.4 L135,525.8 L135.1,524.3 L135.3,522.8 L135.5,521.3 L135.6,519.8 L135.8,518.3 L135.9,516.7 L136.1,515.2 L136.3,513.7 L136.4,512.2 L136.6,510.7 L136.8,509.2 L136.9,507.7 L137.1,506.1 L137.3,504.6 L137.4,503.1 L137.5,501.6 L137.6,500.1 L137.7,498.6 L137.8,497.1 L137.9,495.5 L137.9,494 L138,492.5 L138,491 Z" fill="none" stroke="#000" stroke-width="1.85" stroke-linejoin="round"/>
<path d="M241.3,526.4 L241.3,527.9 L241.4,529.4 L241.4,530.9 L241.4,532.5 L241.4,534 L241.4,535.5 L241.4,537 L241.4,538.5 L241.4,540 L241.4,541.6 L241.4,543.1 L241.4,544.6 L241.3,546.1 L241.3,547.6 L241.3,549.1 L241.3,550.7 L241.3,552.2 L241.3,553.7 L241.3,555.2 L241.2,556.7 L241.2,558.2 L241.2,559.8 L241.2,561.3 L241.2,562.8 L241.2,564.3 L241.2,565.8 L241.2,567.4 L241.2,568.9 L241.2,570.4 L241.2,571.9 L241.2,573.4 L241.2,574.9 L241.3,576.4 L241.3,578 L241.3,579.5 L241.3,581 L241.3,582.5 L241.3,584 L241.4,585.5 L241.4,587.1 L241.4,588.6 L241.4,590.1 L241.5,591.6 L241.5,593.1 L241.5,594.6 L241.6,596.2 L241.6,597.7 L241.7,599.2 L241.8,600.7 L241.9,602.2 L242,603.8 L242.1,605.3 L242.3,606.8 L242.6,608.3 L242.9,609.8 L243.3,611.3 L243.6,612.9 L243.9,614.4 L244.3,615.9 L244.7,617.4 L245.1,618.9 L245.5,620.4 L246,621.9 L246.5,623.5 L247,625 L247.5,626.5 L247.9,628 L248.3,629.5 L248.7,631 L249.1,632.6 L249.5,634.1 L249.9,635.6 L250.2,637.1 L250.6,638.6 L250.9,640.1 L251.2,641.7 L251.5,643.2 L251.7,644.7 L251.9,646.2 L252.3,647.7 L252.8,649.2 L253.5,650.8 L254.4,652.3 L255.2,653.8 L256,655.3 L256.9,656.8 L257.8,658.3 L258.7,659.9 L259.6,661.4 L260.6,662.9 L261.5,664.4 L262.5,665.9 L263.4,667.4 L264.3,669 L265.1,670.5 L266,672 L266.8,673.5 L267.5,675 L268.3,676.5 L269,678.1 L269.7,679.6 L270.3,681.1 L270.8,682.6 L271.4,684.1 L271.8,685.6 L272.3,687.2 L272.6,688.7 L272.9,690.2 L273.2,691.7 L273.4,693.2 L273.6,694.8 L273.7,696.3 L273.7,697.8 L273.7,699.3 L273.7,700.8 L273.7,702.3 L273.7,703.8 L273.6,705.4 L273.5,706.9 L273.3,708.4 L273.1,709.9 L272.9,711.4 L272.7,712.9 L272.4,714.5 L272,716 L271.6,717.5 L271.1,719 L270.5,720.5 L269.8,722 L269,723.6 L268.1,725.1 L267.1,726.6 L265.9,728.1 L264.6,729.6 L263.3,731.1 L261.9,732.7 L260.4,734.2 L258.8,735.7 L257.2,737.2 L255.7,738.7 L254.2,740.2 L252.7,741.8 L251.2,743.3 L249.9,744.8 L248.7,746.3 L247.7,747.8 L246.7,749.3 L245.9,750.9 L245.1,752.4 L244.4,753.9 L235.6,753.9 L234.9,752.4 L234.1,750.9 L233.3,749.3 L232.3,747.8 L231.3,746.3 L230.1,744.8 L228.8,743.3 L227.3,741.8 L225.8,740.2 L224.3,738.7 L222.8,737.2 L221.2,735.7 L219.6,734.2 L218.1,732.7 L216.7,731.1 L215.4,729.6 L214.1,728.1 L212.9,726.6 L211.9,725.1 L211,723.6 L210.2,722 L209.5,720.5 L208.9,719 L208.4,717.5 L208,716 L207.6,714.5 L207.3,712.9 L207.1,711.4 L206.9,709.9 L206.7,708.4 L206.5,706.9 L206.4,705.4 L206.3,703.8 L206.3,702.3 L206.3,700.8 L206.3,699.3 L206.3,697.8 L206.3,696.3 L206.4,694.8 L206.6,693.2 L206.8,691.7 L207.1,690.2 L207.4,688.7 L207.7,687.2 L208.2,685.6 L208.6,684.1 L209.2,682.6 L209.7,681.1 L210.3,679.6 L211,678.1 L211.7,676.5 L212.5,675 L213.2,673.5 L214,672 L214.9,670.5 L215.7,669 L216.6,667.4 L217.5,665.9 L218.5,664.4 L219.4,662.9 L220.4,661.4 L221.3,659.9 L222.2,658.3 L223.1,656.8 L224,655.3 L224.8,653.8 L225.6,652.3 L226.5,650.8 L227.2,649.2 L227.7,647.7 L228.1,646.2 L228.3,644.7 L228.5,643.2 L228.8,641.7 L229.1,640.1 L229.4,638.6 L229.8,637.1 L230.1,635.6 L230.5,634.1 L230.9,632.6 L231.3,631 L231.7,629.5 L232.1,628 L232.5,626.5 L233,625 L233.5,623.5 L234,621.9 L234.5,620.4 L234.9,618.9 L235.3,617.4 L235.7,615.9 L236.1,614.4 L236.4,612.9 L236.7,611.3 L237.1,609.8 L237.4,608.3 L237.7,606.8 L237.9,605.3 L238,603.8 L238.1,602.2 L238.2,600.7 L238.3,599.2 L238.4,597.7 L238.4,596.2 L238.5,594.6 L238.5,593.1 L238.5,591.6 L238.6,590.1 L238.6,588.6 L238.6,587.1 L238.6,585.5 L238.7,584 L238.7,582.5 L238.7,581 L238.7,579.5 L238.7,578 L238.7,576.4 L238.8,574.9 L238.8,573.4 L238.8,571.9 L238.8,570.4 L238.8,568.9 L238.8,567.4 L238.8,565.8 L238.8,564.3 L238.8,562.8 L238.8,561.3 L238.8,559.8 L238.8,558.2 L238.8,556.7 L238.7,555.2 L238.7,553.7 L238.7,552.2 L238.7,550.7 L238.7,549.1 L238.7,547.6 L238.7,546.1 L238.6,544.6 L238.6,543.1 L238.6,541.6 L238.6,540 L238.6,538.5 L238.6,537 L238.6,535.5 L238.6,534 L238.6,532.5 L238.6,530.9 L238.6,529.4 L238.7,527.9 L238.7,526.4 Z" fill="#f6c0bd"/>
<line x1="240" y1="600" x2="240" y2="753.9" stroke="#000" stroke-width="1.8"/>
<rect x="230.2" y="668.3" width="19.5" height="48.1" fill="#e6261f" stroke="#000" stroke-width="2.0"/>
<line x1="230.2" y1="693.1" x2="249.8" y2="693.1" stroke="#000" stroke-width="3"/>
<g fill="rgba(232,38,31,0.7)"><circle cx="259.6" cy="746.6" r="2.7"/><circle cx="251.2" cy="701.5" r="2.7"/><circle cx="218.7" cy="648" r="2.7"/><circle cx="235.7" cy="716.9" r="2.7"/><circle cx="222.9" cy="671.5" r="2.7"/><circle cx="249" cy="687.9" r="2.7"/><circle cx="251.8" cy="671.4" r="2.7"/><circle cx="253.3" cy="691" r="2.7"/><circle cx="232" cy="673.3" r="2.7"/><circle cx="245.5" cy="675.2" r="2.7"/><circle cx="223.7" cy="652.8" r="2.7"/><circle cx="264.1" cy="740.1" r="2.7"/><circle cx="264.5" cy="660.9" r="2.7"/><circle cx="213.7" cy="671.1" r="2.7"/><circle cx="243.6" cy="684.8" r="2.7"/><circle cx="252.2" cy="642.4" r="2.7"/><circle cx="224.9" cy="663.7" r="2.7"/><circle cx="213.9" cy="684.3" r="2.7"/><circle cx="212.1" cy="701" r="2.7"/><circle cx="251.6" cy="696.3" r="2.7"/><circle cx="212.7" cy="679.1" r="2.7"/><circle cx="233.6" cy="709" r="2.7"/><circle cx="256.7" cy="714.5" r="2.7"/><circle cx="214.9" cy="668.3" r="2.7"/><circle cx="251.6" cy="665.7" r="2.7"/><circle cx="236.1" cy="704.2" r="2.7"/><circle cx="233.8" cy="683.7" r="2.7"/><circle cx="239.1" cy="724" r="2.7"/><circle cx="231.7" cy="545.7" r="2.7"/><circle cx="260.3" cy="696.2" r="2.7"/><circle cx="249.5" cy="677.8" r="2.7"/><circle cx="233.7" cy="660.8" r="2.7"/><circle cx="218.7" cy="727.2" r="2.7"/><circle cx="240.2" cy="662.7" r="2.7"/><circle cx="267.9" cy="719.4" r="2.7"/><circle cx="261.9" cy="725.7" r="2.7"/><circle cx="215.8" cy="741.4" r="2.7"/><circle cx="231.9" cy="640.9" r="2.7"/><circle cx="238.3" cy="652.3" r="2.7"/><circle cx="234.7" cy="632.2" r="2.7"/><circle cx="218.3" cy="675.6" r="2.7"/><circle cx="222.4" cy="730.6" r="2.7"/><circle cx="242" cy="705.7" r="2.7"/><circle cx="252.4" cy="650.1" r="2.7"/><circle cx="252.1" cy="638.3" r="2.7"/><circle cx="249.6" cy="714" r="2.7"/><circle cx="249.7" cy="704.4" r="2.7"/><circle cx="212.5" cy="531.1" r="2.7"/><circle cx="224.2" cy="701.1" r="2.7"/><circle cx="230.9" cy="657.7" r="2.7"/><circle cx="226.3" cy="671.7" r="2.7"/><circle cx="233.7" cy="637.7" r="2.7"/><circle cx="234.4" cy="749.5" r="2.7"/><circle cx="231" cy="689.1" r="2.7"/><circle cx="212.6" cy="702.3" r="2.7"/><circle cx="260.4" cy="659.4" r="2.7"/><circle cx="265.6" cy="681.7" r="2.7"/><circle cx="246.5" cy="705" r="2.7"/><circle cx="227.3" cy="714" r="2.7"/><circle cx="237.2" cy="731.4" r="2.7"/><circle cx="263.1" cy="665.3" r="2.7"/><circle cx="245.6" cy="666.3" r="2.7"/><circle cx="251" cy="684.5" r="2.7"/><circle cx="251.2" cy="673.3" r="2.7"/><circle cx="266.9" cy="722.1" r="2.7"/><circle cx="248.7" cy="681.1" r="2.7"/><circle cx="218.1" cy="680.5" r="2.7"/><circle cx="240.3" cy="692.6" r="2.7"/><circle cx="263.6" cy="697.6" r="2.7"/><circle cx="219.3" cy="677.3" r="2.7"/><circle cx="214.9" cy="544.1" r="2.7"/><circle cx="214.8" cy="714.3" r="2.7"/><circle cx="215.9" cy="641.9" r="2.7"/><circle cx="221.2" cy="725.1" r="2.7"/><circle cx="255.2" cy="665.4" r="2.7"/><circle cx="245.6" cy="667.8" r="2.7"/><circle cx="253" cy="696.7" r="2.7"/><circle cx="243.2" cy="731.4" r="2.7"/><circle cx="231.8" cy="681.4" r="2.7"/><circle cx="256" cy="689.8" r="2.7"/><circle cx="221.5" cy="684.6" r="2.7"/><circle cx="232.2" cy="640.3" r="2.7"/><circle cx="235.3" cy="671.5" r="2.7"/><circle cx="250.1" cy="732.9" r="2.7"/><circle cx="254.6" cy="735.9" r="2.7"/><circle cx="243.7" cy="667.6" r="2.7"/><circle cx="246" cy="734.1" r="2.7"/><circle cx="227.7" cy="561.7" r="2.7"/><circle cx="245.2" cy="713.3" r="2.7"/><circle cx="259.2" cy="584.2" r="2.7"/><circle cx="236.6" cy="685" r="2.7"/><circle cx="254.1" cy="683.7" r="2.7"/><circle cx="240.5" cy="687.9" r="2.7"/><circle cx="240.7" cy="737.1" r="2.7"/><circle cx="246" cy="678.3" r="2.7"/><circle cx="219.8" cy="565.3" r="2.7"/><circle cx="224.1" cy="640.3" r="2.7"/><circle cx="221.8" cy="714.6" r="2.7"/><circle cx="242" cy="645.1" r="2.7"/><circle cx="249.5" cy="622.7" r="2.7"/><circle cx="251.6" cy="658.3" r="2.7"/><circle cx="223.7" cy="744.5" r="2.7"/><circle cx="230.7" cy="686.7" r="2.7"/><circle cx="220.2" cy="649" r="2.7"/><circle cx="248.6" cy="706.8" r="2.7"/><circle cx="235.5" cy="681.8" r="2.7"/><circle cx="227.3" cy="697.8" r="2.7"/><circle cx="224.6" cy="752.6" r="2.7"/><circle cx="265.1" cy="710.3" r="2.7"/><circle cx="239" cy="695.5" r="2.7"/><circle cx="267.5" cy="752.9" r="2.7"/><circle cx="230" cy="693.3" r="2.7"/><circle cx="224.1" cy="688" r="2.7"/><circle cx="252.1" cy="724.6" r="2.7"/><circle cx="263.1" cy="740.6" r="2.7"/><circle cx="221.2" cy="713.2" r="2.7"/><circle cx="260.3" cy="679" r="2.7"/><circle cx="244.9" cy="683.6" r="2.7"/><circle cx="262.6" cy="545.1" r="2.7"/><circle cx="265" cy="665.9" r="2.7"/><circle cx="235.9" cy="717.2" r="2.7"/><circle cx="264.7" cy="692" r="2.7"/><circle cx="222.1" cy="725.3" r="2.7"/><circle cx="236.9" cy="709.1" r="2.7"/><circle cx="236.8" cy="697.2" r="2.7"/><circle cx="225.7" cy="720.9" r="2.7"/><circle cx="239.1" cy="691.7" r="2.7"/><circle cx="254.1" cy="706.5" r="2.7"/><circle cx="218.1" cy="691.7" r="2.7"/><circle cx="238.9" cy="677.3" r="2.7"/><circle cx="241.4" cy="715.4" r="2.7"/><circle cx="223" cy="627.4" r="2.7"/><circle cx="248" cy="745.1" r="2.7"/><circle cx="226.2" cy="740.6" r="2.7"/><circle cx="244" cy="723.2" r="2.7"/><circle cx="244" cy="689.9" r="2.7"/><circle cx="253.9" cy="689.1" r="2.7"/><circle cx="264.4" cy="684" r="2.7"/><circle cx="263.9" cy="688.5" r="2.7"/><circle cx="240.1" cy="663.6" r="2.7"/><circle cx="226.7" cy="720.6" r="2.7"/><circle cx="225.6" cy="728.2" r="2.7"/><circle cx="256" cy="693.4" r="2.7"/><circle cx="254.6" cy="724.4" r="2.7"/><circle cx="256.5" cy="671.8" r="2.7"/><circle cx="258.7" cy="727" r="2.7"/><circle cx="243.6" cy="743.5" r="2.7"/><circle cx="262.3" cy="709" r="2.7"/><circle cx="248.8" cy="740" r="2.7"/><circle cx="247.4" cy="712.9" r="2.7"/><circle cx="258.9" cy="709.5" r="2.7"/><circle cx="248.5" cy="689.7" r="2.7"/><circle cx="255" cy="622.9" r="2.7"/><circle cx="264.1" cy="644.2" r="2.7"/><circle cx="234.1" cy="721.5" r="2.7"/><circle cx="254.1" cy="656.7" r="2.7"/><circle cx="228.7" cy="709.8" r="2.7"/><circle cx="239.2" cy="652.7" r="2.7"/><circle cx="260.9" cy="716.4" r="2.7"/><circle cx="266.5" cy="738.8" r="2.7"/><circle cx="265.1" cy="704.1" r="2.7"/><circle cx="254.4" cy="608.3" r="2.7"/><circle cx="259.5" cy="714.2" r="2.7"/><circle cx="261.5" cy="690.2" r="2.7"/><circle cx="246.2" cy="726.8" r="2.7"/><circle cx="225.6" cy="649.9" r="2.7"/><circle cx="213" cy="671" r="2.7"/><circle cx="254.6" cy="732" r="2.7"/><circle cx="254.6" cy="723.8" r="2.7"/><circle cx="252.9" cy="732.1" r="2.7"/><circle cx="244.5" cy="694.9" r="2.7"/></g>
<path d="M241.3,526.4 L241.3,527.9 L241.4,529.4 L241.4,530.9 L241.4,532.5 L241.4,534 L241.4,535.5 L241.4,537 L241.4,538.5 L241.4,540 L241.4,541.6 L241.4,543.1 L241.4,544.6 L241.3,546.1 L241.3,547.6 L241.3,549.1 L241.3,550.7 L241.3,552.2 L241.3,553.7 L241.3,555.2 L241.2,556.7 L241.2,558.2 L241.2,559.8 L241.2,561.3 L241.2,562.8 L241.2,564.3 L241.2,565.8 L241.2,567.4 L241.2,568.9 L241.2,570.4 L241.2,571.9 L241.2,573.4 L241.2,574.9 L241.3,576.4 L241.3,578 L241.3,579.5 L241.3,581 L241.3,582.5 L241.3,584 L241.4,585.5 L241.4,587.1 L241.4,588.6 L241.4,590.1 L241.5,591.6 L241.5,593.1 L241.5,594.6 L241.6,596.2 L241.6,597.7 L241.7,599.2 L241.8,600.7 L241.9,602.2 L242,603.8 L242.1,605.3 L242.3,606.8 L242.6,608.3 L242.9,609.8 L243.3,611.3 L243.6,612.9 L243.9,614.4 L244.3,615.9 L244.7,617.4 L245.1,618.9 L245.5,620.4 L246,621.9 L246.5,623.5 L247,625 L247.5,626.5 L247.9,628 L248.3,629.5 L248.7,631 L249.1,632.6 L249.5,634.1 L249.9,635.6 L250.2,637.1 L250.6,638.6 L250.9,640.1 L251.2,641.7 L251.5,643.2 L251.7,644.7 L251.9,646.2 L252.3,647.7 L252.8,649.2 L253.5,650.8 L254.4,652.3 L255.2,653.8 L256,655.3 L256.9,656.8 L257.8,658.3 L258.7,659.9 L259.6,661.4 L260.6,662.9 L261.5,664.4 L262.5,665.9 L263.4,667.4 L264.3,669 L265.1,670.5 L266,672 L266.8,673.5 L267.5,675 L268.3,676.5 L269,678.1 L269.7,679.6 L270.3,681.1 L270.8,682.6 L271.4,684.1 L271.8,685.6 L272.3,687.2 L272.6,688.7 L272.9,690.2 L273.2,691.7 L273.4,693.2 L273.6,694.8 L273.7,696.3 L273.7,697.8 L273.7,699.3 L273.7,700.8 L273.7,702.3 L273.7,703.8 L273.6,705.4 L273.5,706.9 L273.3,708.4 L273.1,709.9 L272.9,711.4 L272.7,712.9 L272.4,714.5 L272,716 L271.6,717.5 L271.1,719 L270.5,720.5 L269.8,722 L269,723.6 L268.1,725.1 L267.1,726.6 L265.9,728.1 L264.6,729.6 L263.3,731.1 L261.9,732.7 L260.4,734.2 L258.8,735.7 L257.2,737.2 L255.7,738.7 L254.2,740.2 L252.7,741.8 L251.2,743.3 L249.9,744.8 L248.7,746.3 L247.7,747.8 L246.7,749.3 L245.9,750.9 L245.1,752.4 L244.4,753.9 L235.6,753.9 L234.9,752.4 L234.1,750.9 L233.3,749.3 L232.3,747.8 L231.3,746.3 L230.1,744.8 L228.8,743.3 L227.3,741.8 L225.8,740.2 L224.3,738.7 L222.8,737.2 L221.2,735.7 L219.6,734.2 L218.1,732.7 L216.7,731.1 L215.4,729.6 L214.1,728.1 L212.9,726.6 L211.9,725.1 L211,723.6 L210.2,722 L209.5,720.5 L208.9,719 L208.4,717.5 L208,716 L207.6,714.5 L207.3,712.9 L207.1,711.4 L206.9,709.9 L206.7,708.4 L206.5,706.9 L206.4,705.4 L206.3,703.8 L206.3,702.3 L206.3,700.8 L206.3,699.3 L206.3,697.8 L206.3,696.3 L206.4,694.8 L206.6,693.2 L206.8,691.7 L207.1,690.2 L207.4,688.7 L207.7,687.2 L208.2,685.6 L208.6,684.1 L209.2,682.6 L209.7,681.1 L210.3,679.6 L211,678.1 L211.7,676.5 L212.5,675 L213.2,673.5 L214,672 L214.9,670.5 L215.7,669 L216.6,667.4 L217.5,665.9 L218.5,664.4 L219.4,662.9 L220.4,661.4 L221.3,659.9 L222.2,658.3 L223.1,656.8 L224,655.3 L224.8,653.8 L225.6,652.3 L226.5,650.8 L227.2,649.2 L227.7,647.7 L228.1,646.2 L228.3,644.7 L228.5,643.2 L228.8,641.7 L229.1,640.1 L229.4,638.6 L229.8,637.1 L230.1,635.6 L230.5,634.1 L230.9,632.6 L231.3,631 L231.7,629.5 L232.1,628 L232.5,626.5 L233,625 L233.5,623.5 L234,621.9 L234.5,620.4 L234.9,618.9 L235.3,617.4 L235.7,615.9 L236.1,614.4 L236.4,612.9 L236.7,611.3 L237.1,609.8 L237.4,608.3 L237.7,606.8 L237.9,605.3 L238,603.8 L238.1,602.2 L238.2,600.7 L238.3,599.2 L238.4,597.7 L238.4,596.2 L238.5,594.6 L238.5,593.1 L238.5,591.6 L238.6,590.1 L238.6,588.6 L238.6,587.1 L238.6,585.5 L238.7,584 L238.7,582.5 L238.7,581 L238.7,579.5 L238.7,578 L238.7,576.4 L238.8,574.9 L238.8,573.4 L238.8,571.9 L238.8,570.4 L238.8,568.9 L238.8,567.4 L238.8,565.8 L238.8,564.3 L238.8,562.8 L238.8,561.3 L238.8,559.8 L238.8,558.2 L238.8,556.7 L238.7,555.2 L238.7,553.7 L238.7,552.2 L238.7,550.7 L238.7,549.1 L238.7,547.6 L238.7,546.1 L238.6,544.6 L238.6,543.1 L238.6,541.6 L238.6,540 L238.6,538.5 L238.6,537 L238.6,535.5 L238.6,534 L238.6,532.5 L238.6,530.9 L238.6,529.4 L238.7,527.9 L238.7,526.4 Z" fill="none" stroke="#000" stroke-width="1.85" stroke-linejoin="round"/>
<path d="M139.3,489.2 V482.8 H240 V489.2" fill="none" stroke="#000" stroke-width="1.9"/>
<text x="189.7" y="485.1" font-size="16.5" text-anchor="middle">***</text>
<rect x="78.8" y="469" width="221.8" height="316.7" fill="none" stroke="#000" stroke-width="2"/>
<line x1="71.3" y1="733.9" x2="78.8" y2="733.9" stroke="#000" stroke-width="1.9"/>
<text x="66.8" y="740.7" font-size="22.8" text-anchor="end">2</text>
<line x1="71.3" y1="658.2" x2="78.8" y2="658.2" stroke="#000" stroke-width="1.9"/>
<text x="66.8" y="665" font-size="22.8" text-anchor="end">4</text>
<line x1="71.3" y1="582.5" x2="78.8" y2="582.5" stroke="#000" stroke-width="1.9"/>
<text x="66.8" y="589.3" font-size="22.8" text-anchor="end">6</text>
<line x1="71.3" y1="506.8" x2="78.8" y2="506.8" stroke="#000" stroke-width="1.9"/>
<text x="66.8" y="513.6" font-size="22.8" text-anchor="end">8</text>
<line x1="139.3" y1="785.7" x2="139.3" y2="793.2" stroke="#000" stroke-width="1.9"/>
<text x="145.6" y="813.7" font-size="22.3" text-anchor="middle">non−codel</text>
<line x1="240" y1="785.7" x2="240" y2="793.2" stroke="#000" stroke-width="1.9"/>
<text x="242.9" y="813.7" font-size="22.3" text-anchor="middle">codel</text>
<text x="189.7" y="841.5" font-size="25" text-anchor="middle">1p/19q codeletion</text>
<text x="15.8" y="627.4" font-size="22.3" text-anchor="middle" transform="rotate(-90 15.8 627.4)">PLEKHA4 expression</text>
<text x="36.7" y="627.4" font-size="22.3" text-anchor="middle" transform="rotate(-90 36.7 627.4)">Log<tspan font-size="19" dy="5">2</tspan><tspan dy="-5">(TPM+1)</tspan></text>
<path d="M487.3,554.2 L487.5,555.7 L487.7,557.2 L487.9,558.7 L488.2,560.3 L488.5,561.8 L488.8,563.3 L489.1,564.8 L489.5,566.3 L489.8,567.8 L490.2,569.3 L490.5,570.8 L490.9,572.4 L491.2,573.9 L491.5,575.4 L491.9,576.9 L492.2,578.4 L492.6,579.9 L492.9,581.4 L493.3,583 L493.6,584.5 L493.9,586 L494.1,587.5 L494.4,589 L494.7,590.5 L495,592 L495.2,593.5 L495.4,595.1 L495.7,596.6 L495.9,598.1 L496,599.6 L496.2,601.1 L496.4,602.6 L496.5,604.1 L496.7,605.7 L496.8,607.2 L496.9,608.7 L497,610.2 L497.1,611.7 L497.2,613.2 L497.3,614.7 L497.4,616.3 L497.5,617.8 L497.5,619.3 L497.6,620.8 L497.7,622.3 L497.7,623.8 L497.8,625.3 L497.8,626.8 L497.8,628.4 L497.9,629.9 L497.9,631.4 L497.9,632.9 L498,634.4 L498,635.9 L498,637.4 L498,639 L498,640.5 L498,642 L498,643.5 L498,645 L498,646.5 L498,648 L498,649.5 L498,651.1 L498,652.6 L498,654.1 L498,655.6 L498.1,657.1 L498.1,658.6 L498.1,660.1 L498.2,661.7 L498.2,663.2 L498.2,664.7 L498.2,666.2 L498.1,667.7 L498,669.2 L497.9,670.7 L497.8,672.2 L497.7,673.8 L497.6,675.3 L497.5,676.8 L497.4,678.3 L497.3,679.8 L497.2,681.3 L497,682.8 L496.9,684.4 L496.7,685.9 L496.6,687.4 L496.4,688.9 L496.2,690.4 L496,691.9 L495.8,693.4 L495.6,694.9 L495.3,696.5 L495,698 L494.8,699.5 L494.5,701 L494.2,702.5 L493.9,704 L493.7,705.5 L493.4,707.1 L493.2,708.6 L492.9,710.1 L492.7,711.6 L492.4,713.1 L492.2,714.6 L491.9,716.1 L491.6,717.7 L491.4,719.2 L491.1,720.7 L490.8,722.2 L490.6,723.7 L490.3,725.2 L490,726.7 L489.7,728.2 L489.4,729.8 L489.1,731.3 L488.8,732.8 L488.4,734.3 L488,735.8 L487.7,737.3 L487.3,738.8 L486.9,740.4 L486.5,741.9 L486.1,743.4 L485.8,744.9 L485.5,746.4 L485.2,747.9 L484.9,749.4 L484.6,750.9 L484.3,752.5 L484,754 L483.8,755.5 L483.5,757 L482.7,757 L482.4,755.5 L482.2,754 L481.9,752.5 L481.6,750.9 L481.3,749.4 L481,747.9 L480.7,746.4 L480.4,744.9 L480.1,743.4 L479.7,741.9 L479.3,740.4 L478.9,738.8 L478.5,737.3 L478.2,735.8 L477.8,734.3 L477.4,732.8 L477.1,731.3 L476.8,729.8 L476.5,728.2 L476.2,726.7 L475.9,725.2 L475.6,723.7 L475.4,722.2 L475.1,720.7 L474.8,719.2 L474.6,717.7 L474.3,716.1 L474,714.6 L473.8,713.1 L473.5,711.6 L473.3,710.1 L473,708.6 L472.8,707.1 L472.5,705.5 L472.3,704 L472,702.5 L471.7,701 L471.4,699.5 L471.2,698 L470.9,696.5 L470.6,694.9 L470.4,693.4 L470.2,691.9 L470,690.4 L469.8,688.9 L469.6,687.4 L469.5,685.9 L469.3,684.4 L469.2,682.8 L469,681.3 L468.9,679.8 L468.8,678.3 L468.7,676.8 L468.6,675.3 L468.5,673.8 L468.4,672.2 L468.3,670.7 L468.2,669.2 L468.1,667.7 L468,666.2 L468,664.7 L468,663.2 L468,661.7 L468.1,660.1 L468.1,658.6 L468.1,657.1 L468.2,655.6 L468.2,654.1 L468.2,652.6 L468.2,651.1 L468.2,649.5 L468.2,648 L468.2,646.5 L468.2,645 L468.2,643.5 L468.2,642 L468.2,640.5 L468.2,639 L468.2,637.4 L468.2,635.9 L468.2,634.4 L468.3,632.9 L468.3,631.4 L468.3,629.9 L468.4,628.4 L468.4,626.8 L468.4,625.3 L468.5,623.8 L468.5,622.3 L468.6,620.8 L468.7,619.3 L468.7,617.8 L468.8,616.3 L468.9,614.7 L469,613.2 L469.1,611.7 L469.2,610.2 L469.3,608.7 L469.4,607.2 L469.5,605.7 L469.7,604.1 L469.8,602.6 L470,601.1 L470.2,599.6 L470.3,598.1 L470.5,596.6 L470.8,595.1 L471,593.5 L471.2,592 L471.5,590.5 L471.8,589 L472.1,587.5 L472.3,586 L472.6,584.5 L472.9,583 L473.3,581.4 L473.6,579.9 L474,578.4 L474.3,576.9 L474.7,575.4 L475,573.9 L475.3,572.4 L475.7,570.8 L476,569.3 L476.4,567.8 L476.7,566.3 L477.1,564.8 L477.4,563.3 L477.7,561.8 L478,560.3 L478.3,558.7 L478.5,557.2 L478.7,555.7 L478.9,554.2 Z" fill="#bee3ef"/>
<line x1="483.1" y1="554.2" x2="483.1" y2="757" stroke="#000" stroke-width="1.8"/>
<rect x="477.9" y="606" width="10.5" height="75.8" fill="#1ba3cc" stroke="#000" stroke-width="2.0"/>
<line x1="477.9" y1="644.6" x2="488.4" y2="644.6" stroke="#000" stroke-width="3"/>
<g fill="rgba(27,163,204,0.7)"><circle cx="479.8" cy="671.4" r="2.7"/><circle cx="487.8" cy="680.5" r="2.7"/><circle cx="485.9" cy="653" r="2.7"/><circle cx="498.8" cy="670.5" r="2.7"/><circle cx="474.4" cy="607.9" r="2.7"/><circle cx="471.4" cy="652.7" r="2.7"/><circle cx="496.7" cy="666.5" r="2.7"/><circle cx="483.4" cy="658.9" r="2.7"/><circle cx="487.9" cy="611.3" r="2.7"/><circle cx="487.4" cy="589.5" r="2.7"/><circle cx="492.7" cy="671" r="2.7"/><circle cx="494.6" cy="587.1" r="2.7"/><circle cx="489.9" cy="691.7" r="2.7"/><circle cx="466.3" cy="599.1" r="2.7"/><circle cx="494.6" cy="688.8" r="2.7"/><circle cx="467.5" cy="627.6" r="2.7"/><circle cx="495.3" cy="712.9" r="2.7"/><circle cx="466.1" cy="607" r="2.7"/><circle cx="492.4" cy="595.5" r="2.7"/><circle cx="487.8" cy="673.1" r="2.7"/><circle cx="467" cy="688.3" r="2.7"/><circle cx="491.7" cy="625.7" r="2.7"/><circle cx="485.8" cy="642.9" r="2.7"/><circle cx="470.2" cy="672.4" r="2.7"/><circle cx="495.9" cy="618.2" r="2.7"/><circle cx="486.2" cy="631.5" r="2.7"/><circle cx="481.8" cy="656.5" r="2.7"/><circle cx="498.2" cy="618.8" r="2.7"/><circle cx="473" cy="593.6" r="2.7"/><circle cx="472.1" cy="715.3" r="2.7"/><circle cx="496.4" cy="589.2" r="2.7"/><circle cx="471.6" cy="742.2" r="2.7"/><circle cx="493.9" cy="701.1" r="2.7"/><circle cx="473.2" cy="640.2" r="2.7"/><circle cx="493.8" cy="704.2" r="2.7"/><circle cx="480" cy="576.2" r="2.7"/><circle cx="487.1" cy="657" r="2.7"/><circle cx="486.7" cy="627.3" r="2.7"/><circle cx="479.5" cy="617.3" r="2.7"/><circle cx="483.7" cy="711.8" r="2.7"/><circle cx="488.2" cy="569.7" r="2.7"/><circle cx="470.7" cy="703.5" r="2.7"/><circle cx="497.2" cy="580.5" r="2.7"/><circle cx="494.1" cy="673.4" r="2.7"/><circle cx="473.2" cy="616.9" r="2.7"/><circle cx="473.8" cy="652.3" r="2.7"/><circle cx="479.5" cy="719.3" r="2.7"/><circle cx="492.3" cy="694.1" r="2.7"/><circle cx="483.7" cy="584.9" r="2.7"/><circle cx="476.8" cy="619.3" r="2.7"/><circle cx="492.2" cy="646.1" r="2.7"/><circle cx="472.7" cy="680" r="2.7"/><circle cx="490.2" cy="555.8" r="2.7"/><circle cx="491.7" cy="704.9" r="2.7"/><circle cx="469.6" cy="700.8" r="2.7"/><circle cx="485.5" cy="728.9" r="2.7"/><circle cx="486.3" cy="602.7" r="2.7"/><circle cx="499.1" cy="603.7" r="2.7"/><circle cx="476.3" cy="699.7" r="2.7"/><circle cx="481.7" cy="649.5" r="2.7"/><circle cx="497.9" cy="610.8" r="2.7"/><circle cx="470.5" cy="561.8" r="2.7"/><circle cx="496.6" cy="604.9" r="2.7"/><circle cx="478.5" cy="673.3" r="2.7"/><circle cx="477.8" cy="682.4" r="2.7"/><circle cx="499.9" cy="627.5" r="2.7"/><circle cx="479.4" cy="717.4" r="2.7"/><circle cx="474.5" cy="649.3" r="2.7"/><circle cx="473.1" cy="651.8" r="2.7"/><circle cx="489.8" cy="632.5" r="2.7"/><circle cx="487.7" cy="634.6" r="2.7"/><circle cx="474.2" cy="627.5" r="2.7"/><circle cx="482.9" cy="698.6" r="2.7"/><circle cx="475.8" cy="638.4" r="2.7"/><circle cx="494.6" cy="607.1" r="2.7"/><circle cx="478.3" cy="638.6" r="2.7"/><circle cx="487" cy="719.5" r="2.7"/><circle cx="497.2" cy="667.3" r="2.7"/><circle cx="474.2" cy="585.5" r="2.7"/><circle cx="498.5" cy="635.6" r="2.7"/><circle cx="482.6" cy="642.9" r="2.7"/><circle cx="487.9" cy="560.6" r="2.7"/><circle cx="475.3" cy="729.4" r="2.7"/><circle cx="489.7" cy="717.5" r="2.7"/><circle cx="490.7" cy="584.1" r="2.7"/><circle cx="486.2" cy="655.4" r="2.7"/><circle cx="495.4" cy="620.5" r="2.7"/><circle cx="482.1" cy="603.9" r="2.7"/><circle cx="466.6" cy="615.1" r="2.7"/><circle cx="497.2" cy="573.4" r="2.7"/><circle cx="485.4" cy="675.6" r="2.7"/><circle cx="487" cy="628.1" r="2.7"/><circle cx="486.5" cy="676.2" r="2.7"/><circle cx="467.5" cy="695.9" r="2.7"/><circle cx="475.9" cy="659.2" r="2.7"/><circle cx="469.2" cy="624.6" r="2.7"/><circle cx="488.2" cy="591.7" r="2.7"/><circle cx="495.2" cy="669.8" r="2.7"/><circle cx="488.6" cy="673.1" r="2.7"/><circle cx="493.8" cy="690" r="2.7"/><circle cx="477.4" cy="591.7" r="2.7"/><circle cx="467.2" cy="571.4" r="2.7"/><circle cx="480" cy="708" r="2.7"/><circle cx="471.8" cy="663.8" r="2.7"/><circle cx="476.5" cy="582.4" r="2.7"/><circle cx="474.2" cy="678.4" r="2.7"/><circle cx="472.2" cy="574.3" r="2.7"/><circle cx="489.5" cy="667.8" r="2.7"/><circle cx="486.4" cy="655.6" r="2.7"/><circle cx="494.1" cy="679.7" r="2.7"/><circle cx="499.6" cy="582.6" r="2.7"/><circle cx="474.2" cy="715.4" r="2.7"/></g>
<path d="M487.3,554.2 L487.5,555.7 L487.7,557.2 L487.9,558.7 L488.2,560.3 L488.5,561.8 L488.8,563.3 L489.1,564.8 L489.5,566.3 L489.8,567.8 L490.2,569.3 L490.5,570.8 L490.9,572.4 L491.2,573.9 L491.5,575.4 L491.9,576.9 L492.2,578.4 L492.6,579.9 L492.9,581.4 L493.3,583 L493.6,584.5 L493.9,586 L494.1,587.5 L494.4,589 L494.7,590.5 L495,592 L495.2,593.5 L495.4,595.1 L495.7,596.6 L495.9,598.1 L496,599.6 L496.2,601.1 L496.4,602.6 L496.5,604.1 L496.7,605.7 L496.8,607.2 L496.9,608.7 L497,610.2 L497.1,611.7 L497.2,613.2 L497.3,614.7 L497.4,616.3 L497.5,617.8 L497.5,619.3 L497.6,620.8 L497.7,622.3 L497.7,623.8 L497.8,625.3 L497.8,626.8 L497.8,628.4 L497.9,629.9 L497.9,631.4 L497.9,632.9 L498,634.4 L498,635.9 L498,637.4 L498,639 L498,640.5 L498,642 L498,643.5 L498,645 L498,646.5 L498,648 L498,649.5 L498,651.1 L498,652.6 L498,654.1 L498,655.6 L498.1,657.1 L498.1,658.6 L498.1,660.1 L498.2,661.7 L498.2,663.2 L498.2,664.7 L498.2,666.2 L498.1,667.7 L498,669.2 L497.9,670.7 L497.8,672.2 L497.7,673.8 L497.6,675.3 L497.5,676.8 L497.4,678.3 L497.3,679.8 L497.2,681.3 L497,682.8 L496.9,684.4 L496.7,685.9 L496.6,687.4 L496.4,688.9 L496.2,690.4 L496,691.9 L495.8,693.4 L495.6,694.9 L495.3,696.5 L495,698 L494.8,699.5 L494.5,701 L494.2,702.5 L493.9,704 L493.7,705.5 L493.4,707.1 L493.2,708.6 L492.9,710.1 L492.7,711.6 L492.4,713.1 L492.2,714.6 L491.9,716.1 L491.6,717.7 L491.4,719.2 L491.1,720.7 L490.8,722.2 L490.6,723.7 L490.3,725.2 L490,726.7 L489.7,728.2 L489.4,729.8 L489.1,731.3 L488.8,732.8 L488.4,734.3 L488,735.8 L487.7,737.3 L487.3,738.8 L486.9,740.4 L486.5,741.9 L486.1,743.4 L485.8,744.9 L485.5,746.4 L485.2,747.9 L484.9,749.4 L484.6,750.9 L484.3,752.5 L484,754 L483.8,755.5 L483.5,757 L482.7,757 L482.4,755.5 L482.2,754 L481.9,752.5 L481.6,750.9 L481.3,749.4 L481,747.9 L480.7,746.4 L480.4,744.9 L480.1,743.4 L479.7,741.9 L479.3,740.4 L478.9,738.8 L478.5,737.3 L478.2,735.8 L477.8,734.3 L477.4,732.8 L477.1,731.3 L476.8,729.8 L476.5,728.2 L476.2,726.7 L475.9,725.2 L475.6,723.7 L475.4,722.2 L475.1,720.7 L474.8,719.2 L474.6,717.7 L474.3,716.1 L474,714.6 L473.8,713.1 L473.5,711.6 L473.3,710.1 L473,708.6 L472.8,707.1 L472.5,705.5 L472.3,704 L472,702.5 L471.7,701 L471.4,699.5 L471.2,698 L470.9,696.5 L470.6,694.9 L470.4,693.4 L470.2,691.9 L470,690.4 L469.8,688.9 L469.6,687.4 L469.5,685.9 L469.3,684.4 L469.2,682.8 L469,681.3 L468.9,679.8 L468.8,678.3 L468.7,676.8 L468.6,675.3 L468.5,673.8 L468.4,672.2 L468.3,670.7 L468.2,669.2 L468.1,667.7 L468,666.2 L468,664.7 L468,663.2 L468,661.7 L468.1,660.1 L468.1,658.6 L468.1,657.1 L468.2,655.6 L468.2,654.1 L468.2,652.6 L468.2,651.1 L468.2,649.5 L468.2,648 L468.2,646.5 L468.2,645 L468.2,643.5 L468.2,642 L468.2,640.5 L468.2,639 L468.2,637.4 L468.2,635.9 L468.2,634.4 L468.3,632.9 L468.3,631.4 L468.3,629.9 L468.4,628.4 L468.4,626.8 L468.4,625.3 L468.5,623.8 L468.5,622.3 L468.6,620.8 L468.7,619.3 L468.7,617.8 L468.8,616.3 L468.9,614.7 L469,613.2 L469.1,611.7 L469.2,610.2 L469.3,608.7 L469.4,607.2 L469.5,605.7 L469.7,604.1 L469.8,602.6 L470,601.1 L470.2,599.6 L470.3,598.1 L470.5,596.6 L470.8,595.1 L471,593.5 L471.2,592 L471.5,590.5 L471.8,589 L472.1,587.5 L472.3,586 L472.6,584.5 L472.9,583 L473.3,581.4 L473.6,579.9 L474,578.4 L474.3,576.9 L474.7,575.4 L475,573.9 L475.3,572.4 L475.7,570.8 L476,569.3 L476.4,567.8 L476.7,566.3 L477.1,564.8 L477.4,563.3 L477.7,561.8 L478,560.3 L478.3,558.7 L478.5,557.2 L478.7,555.7 L478.9,554.2 Z" fill="none" stroke="#000" stroke-width="1.85" stroke-linejoin="round"/>
<path d="M543.5,534.3 L543.5,535.8 L543.5,537.3 L543.6,538.9 L543.6,540.4 L543.7,541.9 L543.8,543.4 L543.9,544.9 L544,546.4 L544.1,548 L544.3,549.5 L544.5,551 L544.7,552.5 L544.8,554 L544.9,555.6 L545.1,557.1 L545.2,558.6 L545.3,560.1 L545.5,561.6 L545.7,563.2 L545.9,564.7 L546.1,566.2 L546.3,567.7 L546.4,569.2 L546.4,570.7 L546.5,572.3 L546.6,573.8 L546.6,575.3 L546.6,576.8 L546.6,578.3 L546.5,579.9 L546.5,581.4 L546.4,582.9 L546.4,584.4 L546.3,585.9 L546.1,587.4 L546,589 L545.9,590.5 L545.9,592 L545.9,593.5 L546,595 L546.1,596.6 L546.2,598.1 L546.3,599.6 L546.5,601.1 L546.7,602.6 L546.9,604.1 L547.2,605.7 L547.5,607.2 L547.8,608.7 L548.2,610.2 L548.7,611.7 L549.1,613.3 L549.6,614.8 L550.1,616.3 L550.7,617.8 L551.3,619.3 L551.8,620.9 L552.3,622.4 L552.8,623.9 L553.3,625.4 L553.8,626.9 L554.2,628.4 L554.7,630 L555.1,631.5 L555.6,633 L556,634.5 L556.4,636 L556.8,637.6 L557.2,639.1 L557.6,640.6 L558,642.1 L558.4,643.6 L558.7,645.1 L559,646.7 L559.3,648.2 L559.6,649.7 L559.9,651.2 L560.1,652.7 L560.4,654.3 L560.7,655.8 L560.9,657.3 L561.2,658.8 L561.5,660.3 L561.7,661.9 L561.8,663.4 L561.9,664.9 L561.9,666.4 L561.9,667.9 L561.9,669.4 L561.9,671 L561.8,672.5 L561.8,674 L561.8,675.5 L561.7,677 L561.7,678.6 L561.6,680.1 L561.6,681.6 L561.5,683.1 L561.4,684.6 L561.3,686.1 L561.1,687.7 L561,689.2 L560.8,690.7 L560.6,692.2 L560.5,693.7 L560.3,695.3 L560.1,696.8 L559.9,698.3 L559.7,699.8 L559.5,701.3 L559.3,702.9 L559,704.4 L558.8,705.9 L558.6,707.4 L558.3,708.9 L558,710.4 L557.8,712 L557.5,713.5 L557.2,715 L556.9,716.5 L556.7,718 L556.3,719.6 L556,721.1 L555.7,722.6 L555.4,724.1 L555,725.6 L554.7,727.1 L554.3,728.7 L554,730.2 L553.6,731.7 L553.2,733.2 L552.8,734.7 L552.4,736.3 L551.9,737.8 L551.5,739.3 L551.1,740.8 L550.6,742.3 L550.1,743.8 L549.6,745.4 L549,746.9 L548.4,748.4 L547.9,749.9 L547.3,751.4 L546.7,753 L546.2,754.5 L545.7,756 L545.3,757.5 L544.8,759 L544.4,760.6 L544,762.1 L543.7,763.6 L543.5,765.1 L543.4,766.6 L543.3,768.1 L543.3,769.7 L543.2,771.2 L543.2,772.7 L542.4,772.7 L542.4,771.2 L542.3,769.7 L542.3,768.1 L542.2,766.6 L542.1,765.1 L541.9,763.6 L541.6,762.1 L541.2,760.6 L540.8,759 L540.3,757.5 L539.9,756 L539.4,754.5 L538.9,753 L538.3,751.4 L537.7,749.9 L537.2,748.4 L536.6,746.9 L536,745.4 L535.5,743.8 L535,742.3 L534.5,740.8 L534.1,739.3 L533.7,737.8 L533.2,736.3 L532.8,734.7 L532.4,733.2 L532,731.7 L531.6,730.2 L531.3,728.7 L530.9,727.1 L530.6,725.6 L530.2,724.1 L529.9,722.6 L529.6,721.1 L529.3,719.6 L528.9,718 L528.7,716.5 L528.4,715 L528.1,713.5 L527.8,712 L527.6,710.4 L527.3,708.9 L527,707.4 L526.8,705.9 L526.6,704.4 L526.3,702.9 L526.1,701.3 L525.9,699.8 L525.7,698.3 L525.5,696.8 L525.3,695.3 L525.1,693.7 L525,692.2 L524.8,690.7 L524.6,689.2 L524.5,687.7 L524.3,686.1 L524.2,684.6 L524.1,683.1 L524,681.6 L524,680.1 L523.9,678.6 L523.9,677 L523.8,675.5 L523.8,674 L523.8,672.5 L523.7,671 L523.7,669.4 L523.7,667.9 L523.7,666.4 L523.7,664.9 L523.8,663.4 L523.9,661.9 L524.1,660.3 L524.4,658.8 L524.7,657.3 L524.9,655.8 L525.2,654.3 L525.5,652.7 L525.7,651.2 L526,649.7 L526.3,648.2 L526.6,646.7 L526.9,645.1 L527.2,643.6 L527.6,642.1 L528,640.6 L528.4,639.1 L528.8,637.6 L529.2,636 L529.6,634.5 L530,633 L530.5,631.5 L530.9,630 L531.4,628.4 L531.8,626.9 L532.3,625.4 L532.8,623.9 L533.3,622.4 L533.8,620.9 L534.3,619.3 L534.9,617.8 L535.5,616.3 L536,614.8 L536.5,613.3 L536.9,611.7 L537.4,610.2 L537.8,608.7 L538.1,607.2 L538.4,605.7 L538.7,604.1 L538.9,602.6 L539.1,601.1 L539.3,599.6 L539.4,598.1 L539.5,596.6 L539.6,595 L539.7,593.5 L539.7,592 L539.7,590.5 L539.6,589 L539.5,587.4 L539.3,585.9 L539.2,584.4 L539.2,582.9 L539.1,581.4 L539.1,579.9 L539,578.3 L539,576.8 L539,575.3 L539,573.8 L539.1,572.3 L539.2,570.7 L539.2,569.2 L539.3,567.7 L539.5,566.2 L539.7,564.7 L539.9,563.2 L540.1,561.6 L540.3,560.1 L540.4,558.6 L540.5,557.1 L540.7,555.6 L540.8,554 L540.9,552.5 L541.1,551 L541.3,549.5 L541.5,548 L541.6,546.4 L541.7,544.9 L541.8,543.4 L541.9,541.9 L542,540.4 L542,538.9 L542.1,537.3 L542.1,535.8 L542.1,534.3 Z" fill="#f6c0bd"/>
<line x1="542.8" y1="566" x2="542.8" y2="772.7" stroke="#000" stroke-width="1.8"/>
<rect x="537.9" y="646.6" width="9.8" height="56.8" fill="#e6261f" stroke="#000" stroke-width="2.0"/>
<line x1="537.9" y1="677.6" x2="547.7" y2="677.6" stroke="#000" stroke-width="3"/>
<g fill="rgba(232,38,31,0.7)"><circle cx="556.6" cy="736.1" r="2.7"/><circle cx="547.9" cy="706.9" r="2.7"/><circle cx="558.8" cy="681.8" r="2.7"/><circle cx="534.7" cy="747.5" r="2.7"/><circle cx="545.8" cy="676.2" r="2.7"/><circle cx="543.9" cy="568.6" r="2.7"/><circle cx="535.8" cy="619.7" r="2.7"/><circle cx="552.4" cy="651.3" r="2.7"/><circle cx="540.5" cy="697.9" r="2.7"/><circle cx="547.9" cy="682.2" r="2.7"/><circle cx="552.4" cy="695.3" r="2.7"/><circle cx="550.5" cy="560.9" r="2.7"/><circle cx="529.2" cy="641.9" r="2.7"/><circle cx="527.7" cy="680.3" r="2.7"/><circle cx="553.7" cy="692.7" r="2.7"/><circle cx="547.9" cy="666" r="2.7"/><circle cx="530.8" cy="637.7" r="2.7"/><circle cx="530.2" cy="650.6" r="2.7"/><circle cx="542.7" cy="706.5" r="2.7"/><circle cx="531.8" cy="699.1" r="2.7"/><circle cx="557.4" cy="642.8" r="2.7"/><circle cx="533.4" cy="740.9" r="2.7"/><circle cx="557.9" cy="578.7" r="2.7"/><circle cx="550.1" cy="640.8" r="2.7"/><circle cx="544.7" cy="666.4" r="2.7"/><circle cx="548.6" cy="711.9" r="2.7"/><circle cx="549.3" cy="681.2" r="2.7"/><circle cx="535.5" cy="694.9" r="2.7"/><circle cx="542.4" cy="740.2" r="2.7"/><circle cx="528.1" cy="656.9" r="2.7"/><circle cx="527.4" cy="631.7" r="2.7"/><circle cx="557.9" cy="663.4" r="2.7"/><circle cx="554.7" cy="681.7" r="2.7"/><circle cx="551.4" cy="622.4" r="2.7"/><circle cx="529.3" cy="576" r="2.7"/><circle cx="547" cy="701.9" r="2.7"/><circle cx="550.1" cy="754.1" r="2.7"/><circle cx="540.4" cy="734.8" r="2.7"/><circle cx="538.6" cy="659.5" r="2.7"/><circle cx="550.5" cy="667.6" r="2.7"/><circle cx="526.2" cy="716.8" r="2.7"/><circle cx="541.8" cy="751.7" r="2.7"/><circle cx="534.5" cy="657.6" r="2.7"/><circle cx="540.9" cy="740.9" r="2.7"/><circle cx="544.6" cy="698.7" r="2.7"/><circle cx="540.1" cy="623.7" r="2.7"/><circle cx="555.6" cy="668.6" r="2.7"/><circle cx="555.8" cy="542" r="2.7"/><circle cx="551.6" cy="663.1" r="2.7"/><circle cx="552.8" cy="677.2" r="2.7"/><circle cx="542.8" cy="712.2" r="2.7"/><circle cx="535" cy="653.4" r="2.7"/><circle cx="553.5" cy="692.4" r="2.7"/><circle cx="529.8" cy="693.8" r="2.7"/><circle cx="546" cy="676.8" r="2.7"/><circle cx="547.3" cy="687.6" r="2.7"/><circle cx="529.5" cy="669.1" r="2.7"/><circle cx="532.7" cy="686.3" r="2.7"/><circle cx="548.7" cy="670" r="2.7"/><circle cx="555" cy="731.8" r="2.7"/><circle cx="539.1" cy="615.9" r="2.7"/><circle cx="543.9" cy="721.9" r="2.7"/><circle cx="549.9" cy="704.9" r="2.7"/><circle cx="545.6" cy="555.3" r="2.7"/><circle cx="541.5" cy="701.6" r="2.7"/><circle cx="547.5" cy="658" r="2.7"/><circle cx="549.9" cy="674.7" r="2.7"/><circle cx="553" cy="675.6" r="2.7"/><circle cx="544.9" cy="703.5" r="2.7"/><circle cx="548.3" cy="672.3" r="2.7"/><circle cx="532.4" cy="691.4" r="2.7"/><circle cx="531.3" cy="637.8" r="2.7"/><circle cx="553.3" cy="594.4" r="2.7"/><circle cx="533.4" cy="694.2" r="2.7"/><circle cx="540.7" cy="754" r="2.7"/><circle cx="555.9" cy="600.3" r="2.7"/><circle cx="530.8" cy="729.5" r="2.7"/><circle cx="548.9" cy="660.7" r="2.7"/><circle cx="534.2" cy="691.7" r="2.7"/><circle cx="547.1" cy="645.2" r="2.7"/><circle cx="553.6" cy="696.6" r="2.7"/><circle cx="553.7" cy="667" r="2.7"/><circle cx="552.2" cy="711.6" r="2.7"/><circle cx="543.4" cy="647" r="2.7"/><circle cx="544.3" cy="654.9" r="2.7"/><circle cx="531.6" cy="688.5" r="2.7"/><circle cx="529.8" cy="613.6" r="2.7"/><circle cx="551.2" cy="747.8" r="2.7"/><circle cx="527.6" cy="686.6" r="2.7"/><circle cx="557.5" cy="747.4" r="2.7"/><circle cx="532.1" cy="630.9" r="2.7"/><circle cx="550.3" cy="700.4" r="2.7"/><circle cx="541" cy="634.4" r="2.7"/><circle cx="546.6" cy="603.9" r="2.7"/><circle cx="551.5" cy="667.1" r="2.7"/><circle cx="535.9" cy="670.8" r="2.7"/><circle cx="553.9" cy="679.6" r="2.7"/><circle cx="551.5" cy="669.2" r="2.7"/><circle cx="545.5" cy="635.1" r="2.7"/><circle cx="545.3" cy="696" r="2.7"/><circle cx="538.9" cy="645.1" r="2.7"/><circle cx="558.8" cy="648.2" r="2.7"/><circle cx="539" cy="709.1" r="2.7"/><circle cx="534" cy="695.8" r="2.7"/><circle cx="544.8" cy="700.6" r="2.7"/><circle cx="557.1" cy="733.7" r="2.7"/><circle cx="557.3" cy="720.3" r="2.7"/><circle cx="545.5" cy="637.4" r="2.7"/><circle cx="539.1" cy="748.3" r="2.7"/><circle cx="551.2" cy="676.2" r="2.7"/><circle cx="544.8" cy="679.9" r="2.7"/><circle cx="553.8" cy="646.5" r="2.7"/><circle cx="554.1" cy="660.9" r="2.7"/><circle cx="549.7" cy="680" r="2.7"/><circle cx="558.9" cy="572.5" r="2.7"/><circle cx="547.9" cy="701" r="2.7"/><circle cx="558.9" cy="656" r="2.7"/><circle cx="548" cy="696.6" r="2.7"/><circle cx="533.2" cy="703.3" r="2.7"/><circle cx="547.1" cy="687.7" r="2.7"/><circle cx="551.9" cy="598.7" r="2.7"/><circle cx="540.2" cy="681.7" r="2.7"/><circle cx="531.5" cy="656.3" r="2.7"/><circle cx="537.8" cy="699.7" r="2.7"/><circle cx="552.4" cy="700.1" r="2.7"/><circle cx="532.9" cy="673.6" r="2.7"/><circle cx="526.2" cy="703" r="2.7"/><circle cx="555.7" cy="624.1" r="2.7"/><circle cx="558.8" cy="714.5" r="2.7"/><circle cx="555.3" cy="745.4" r="2.7"/><circle cx="553" cy="729.3" r="2.7"/><circle cx="550.6" cy="713" r="2.7"/><circle cx="544.5" cy="661.8" r="2.7"/><circle cx="548" cy="736.8" r="2.7"/><circle cx="551.2" cy="681.5" r="2.7"/><circle cx="537" cy="636.9" r="2.7"/><circle cx="532.8" cy="678.6" r="2.7"/><circle cx="549.4" cy="719.5" r="2.7"/><circle cx="546.3" cy="695.9" r="2.7"/><circle cx="559.5" cy="716.8" r="2.7"/><circle cx="539.9" cy="572.7" r="2.7"/><circle cx="539.9" cy="745.2" r="2.7"/><circle cx="530" cy="733.8" r="2.7"/><circle cx="526.3" cy="674.5" r="2.7"/><circle cx="530.5" cy="732.6" r="2.7"/><circle cx="545.9" cy="631.7" r="2.7"/></g>
<path d="M543.5,534.3 L543.5,535.8 L543.5,537.3 L543.6,538.9 L543.6,540.4 L543.7,541.9 L543.8,543.4 L543.9,544.9 L544,546.4 L544.1,548 L544.3,549.5 L544.5,551 L544.7,552.5 L544.8,554 L544.9,555.6 L545.1,557.1 L545.2,558.6 L545.3,560.1 L545.5,561.6 L545.7,563.2 L545.9,564.7 L546.1,566.2 L546.3,567.7 L546.4,569.2 L546.4,570.7 L546.5,572.3 L546.6,573.8 L546.6,575.3 L546.6,576.8 L546.6,578.3 L546.5,579.9 L546.5,581.4 L546.4,582.9 L546.4,584.4 L546.3,585.9 L546.1,587.4 L546,589 L545.9,590.5 L545.9,592 L545.9,593.5 L546,595 L546.1,596.6 L546.2,598.1 L546.3,599.6 L546.5,601.1 L546.7,602.6 L546.9,604.1 L547.2,605.7 L547.5,607.2 L547.8,608.7 L548.2,610.2 L548.7,611.7 L549.1,613.3 L549.6,614.8 L550.1,616.3 L550.7,617.8 L551.3,619.3 L551.8,620.9 L552.3,622.4 L552.8,623.9 L553.3,625.4 L553.8,626.9 L554.2,628.4 L554.7,630 L555.1,631.5 L555.6,633 L556,634.5 L556.4,636 L556.8,637.6 L557.2,639.1 L557.6,640.6 L558,642.1 L558.4,643.6 L558.7,645.1 L559,646.7 L559.3,648.2 L559.6,649.7 L559.9,651.2 L560.1,652.7 L560.4,654.3 L560.7,655.8 L560.9,657.3 L561.2,658.8 L561.5,660.3 L561.7,661.9 L561.8,663.4 L561.9,664.9 L561.9,666.4 L561.9,667.9 L561.9,669.4 L561.9,671 L561.8,672.5 L561.8,674 L561.8,675.5 L561.7,677 L561.7,678.6 L561.6,680.1 L561.6,681.6 L561.5,683.1 L561.4,684.6 L561.3,686.1 L561.1,687.7 L561,689.2 L560.8,690.7 L560.6,692.2 L560.5,693.7 L560.3,695.3 L560.1,696.8 L559.9,698.3 L559.7,699.8 L559.5,701.3 L559.3,702.9 L559,704.4 L558.8,705.9 L558.6,707.4 L558.3,708.9 L558,710.4 L557.8,712 L557.5,713.5 L557.2,715 L556.9,716.5 L556.7,718 L556.3,719.6 L556,721.1 L555.7,722.6 L555.4,724.1 L555,725.6 L554.7,727.1 L554.3,728.7 L554,730.2 L553.6,731.7 L553.2,733.2 L552.8,734.7 L552.4,736.3 L551.9,737.8 L551.5,739.3 L551.1,740.8 L550.6,742.3 L550.1,743.8 L549.6,745.4 L549,746.9 L548.4,748.4 L547.9,749.9 L547.3,751.4 L546.7,753 L546.2,754.5 L545.7,756 L545.3,757.5 L544.8,759 L544.4,760.6 L544,762.1 L543.7,763.6 L543.5,765.1 L543.4,766.6 L543.3,768.1 L543.3,769.7 L543.2,771.2 L543.2,772.7 L542.4,772.7 L542.4,771.2 L542.3,769.7 L542.3,768.1 L542.2,766.6 L542.1,765.1 L541.9,763.6 L541.6,762.1 L541.2,760.6 L540.8,759 L540.3,757.5 L539.9,756 L539.4,754.5 L538.9,753 L538.3,751.4 L537.7,749.9 L537.2,748.4 L536.6,746.9 L536,745.4 L535.5,743.8 L535,742.3 L534.5,740.8 L534.1,739.3 L533.7,737.8 L533.2,736.3 L532.8,734.7 L532.4,733.2 L532,731.7 L531.6,730.2 L531.3,728.7 L530.9,727.1 L530.6,725.6 L530.2,724.1 L529.9,722.6 L529.6,721.1 L529.3,719.6 L528.9,718 L528.7,716.5 L528.4,715 L528.1,713.5 L527.8,712 L527.6,710.4 L527.3,708.9 L527,707.4 L526.8,705.9 L526.6,704.4 L526.3,702.9 L526.1,701.3 L525.9,699.8 L525.7,698.3 L525.5,696.8 L525.3,695.3 L525.1,693.7 L525,692.2 L524.8,690.7 L524.6,689.2 L524.5,687.7 L524.3,686.1 L524.2,684.6 L524.1,683.1 L524,681.6 L524,680.1 L523.9,678.6 L523.9,677 L523.8,675.5 L523.8,674 L523.8,672.5 L523.7,671 L523.7,669.4 L523.7,667.9 L523.7,666.4 L523.7,664.9 L523.8,663.4 L523.9,661.9 L524.1,660.3 L524.4,658.8 L524.7,657.3 L524.9,655.8 L525.2,654.3 L525.5,652.7 L525.7,651.2 L526,649.7 L526.3,648.2 L526.6,646.7 L526.9,645.1 L527.2,643.6 L527.6,642.1 L528,640.6 L528.4,639.1 L528.8,637.6 L529.2,636 L529.6,634.5 L530,633 L530.5,631.5 L530.9,630 L531.4,628.4 L531.8,626.9 L532.3,625.4 L532.8,623.9 L533.3,622.4 L533.8,620.9 L534.3,619.3 L534.9,617.8 L535.5,616.3 L536,614.8 L536.5,613.3 L536.9,611.7 L537.4,610.2 L537.8,608.7 L538.1,607.2 L538.4,605.7 L538.7,604.1 L538.9,602.6 L539.1,601.1 L539.3,599.6 L539.4,598.1 L539.5,596.6 L539.6,595 L539.7,593.5 L539.7,592 L539.7,590.5 L539.6,589 L539.5,587.4 L539.3,585.9 L539.2,584.4 L539.2,582.9 L539.1,581.4 L539.1,579.9 L539,578.3 L539,576.8 L539,575.3 L539,573.8 L539.1,572.3 L539.2,570.7 L539.2,569.2 L539.3,567.7 L539.5,566.2 L539.7,564.7 L539.9,563.2 L540.1,561.6 L540.3,560.1 L540.4,558.6 L540.5,557.1 L540.7,555.6 L540.8,554 L540.9,552.5 L541.1,551 L541.3,549.5 L541.5,548 L541.6,546.4 L541.7,544.9 L541.8,543.4 L541.9,541.9 L542,540.4 L542,538.9 L542.1,537.3 L542.1,535.8 L542.1,534.3 Z" fill="none" stroke="#000" stroke-width="1.85" stroke-linejoin="round"/>
<path d="M605.7,585 L606,586.5 L606.2,588 L606.5,589.6 L606.8,591.1 L607.1,592.6 L607.3,594.1 L607.6,595.7 L607.9,597.2 L608.2,598.7 L608.6,600.2 L608.9,601.8 L609.2,603.3 L609.6,604.8 L609.9,606.3 L610.2,607.9 L610.6,609.4 L610.9,610.9 L611.3,612.4 L611.7,613.9 L612,615.5 L612.4,617 L612.7,618.5 L613,620 L613.4,621.6 L613.7,623.1 L614.1,624.6 L614.4,626.1 L614.8,627.7 L615.1,629.2 L615.5,630.7 L615.8,632.2 L616.1,633.8 L616.5,635.3 L616.8,636.8 L617.1,638.3 L617.5,639.8 L617.9,641.4 L618.2,642.9 L618.6,644.4 L619,645.9 L619.3,647.5 L619.7,649 L620,650.5 L620.4,652 L620.7,653.6 L620.9,655.1 L621.2,656.6 L621.4,658.1 L621.6,659.7 L621.8,661.2 L621.9,662.7 L622.1,664.2 L622.2,665.7 L622.3,667.3 L622.3,668.8 L622.2,670.3 L622.1,671.8 L621.9,673.4 L621.6,674.9 L621.4,676.4 L621.1,677.9 L620.9,679.5 L620.7,681 L620.4,682.5 L620.1,684 L619.8,685.6 L619.6,687.1 L619.4,688.6 L619.1,690.1 L618.9,691.6 L618.7,693.2 L618.5,694.7 L618.4,696.2 L618.2,697.7 L618,699.3 L617.8,700.8 L617.6,702.3 L617.4,703.8 L617.2,705.4 L617,706.9 L616.9,708.4 L616.8,709.9 L616.7,711.5 L616.6,713 L616.5,714.5 L616.5,716 L616.4,717.5 L616.2,719.1 L616.1,720.6 L616,722.1 L615.8,723.6 L615.6,725.2 L615.4,726.7 L615.1,728.2 L614.7,729.7 L614.1,731.3 L613.3,732.8 L612.6,734.3 L612,735.8 L611.4,737.4 L610.7,738.9 L610.1,740.4 L594.1,740.4 L593.5,738.9 L592.8,737.4 L592.2,735.8 L591.6,734.3 L590.9,732.8 L590.1,731.3 L589.5,729.7 L589.1,728.2 L588.8,726.7 L588.6,725.2 L588.4,723.6 L588.2,722.1 L588.1,720.6 L588,719.1 L587.8,717.5 L587.7,716 L587.7,714.5 L587.6,713 L587.5,711.5 L587.4,709.9 L587.3,708.4 L587.2,706.9 L587,705.4 L586.8,703.8 L586.6,702.3 L586.4,700.8 L586.2,699.3 L586,697.7 L585.8,696.2 L585.7,694.7 L585.5,693.2 L585.3,691.6 L585.1,690.1 L584.8,688.6 L584.6,687.1 L584.4,685.6 L584.1,684 L583.8,682.5 L583.5,681 L583.3,679.5 L583.1,677.9 L582.8,676.4 L582.6,674.9 L582.3,673.4 L582.1,671.8 L582,670.3 L581.9,668.8 L581.9,667.3 L582,665.7 L582.1,664.2 L582.3,662.7 L582.4,661.2 L582.6,659.7 L582.8,658.1 L583,656.6 L583.3,655.1 L583.5,653.6 L583.8,652 L584.2,650.5 L584.5,649 L584.9,647.5 L585.2,645.9 L585.6,644.4 L586,642.9 L586.3,641.4 L586.7,639.8 L587.1,638.3 L587.4,636.8 L587.7,635.3 L588.1,633.8 L588.4,632.2 L588.7,630.7 L589.1,629.2 L589.4,627.7 L589.8,626.1 L590.1,624.6 L590.5,623.1 L590.8,621.6 L591.2,620 L591.5,618.5 L591.8,617 L592.2,615.5 L592.5,613.9 L592.9,612.4 L593.3,610.9 L593.6,609.4 L594,607.9 L594.3,606.3 L594.6,604.8 L595,603.3 L595.3,601.8 L595.6,600.2 L596,598.7 L596.3,597.2 L596.6,595.7 L596.9,594.1 L597.1,592.6 L597.4,591.1 L597.7,589.6 L598,588 L598.2,586.5 L598.5,585 Z" fill="#cbeadf"/>
<line x1="602.1" y1="585" x2="602.1" y2="740.4" stroke="#000" stroke-width="1.8"/>
<rect x="596.7" y="643.8" width="10.8" height="61.5" fill="#5cc2a2" stroke="#000" stroke-width="2.0"/>
<line x1="596.7" y1="669.8" x2="607.5" y2="669.8" stroke="#000" stroke-width="3"/>
<g fill="rgba(92,194,162,0.7)"><circle cx="617.3" cy="732.9" r="2.7"/><circle cx="607.9" cy="620.7" r="2.7"/><circle cx="586.9" cy="627" r="2.7"/><circle cx="593.9" cy="691.3" r="2.7"/><circle cx="604" cy="648.5" r="2.7"/><circle cx="591.5" cy="602.9" r="2.7"/><circle cx="600.9" cy="720.3" r="2.7"/><circle cx="607.8" cy="625.9" r="2.7"/><circle cx="588" cy="664.9" r="2.7"/><circle cx="593.7" cy="700.5" r="2.7"/><circle cx="615" cy="703.8" r="2.7"/><circle cx="586.5" cy="730.8" r="2.7"/><circle cx="588.9" cy="680.6" r="2.7"/><circle cx="613" cy="625.7" r="2.7"/><circle cx="608.1" cy="612.5" r="2.7"/><circle cx="601.1" cy="686.8" r="2.7"/><circle cx="614.3" cy="673" r="2.7"/><circle cx="592.2" cy="641.4" r="2.7"/><circle cx="585.3" cy="628.5" r="2.7"/><circle cx="612.7" cy="654.1" r="2.7"/><circle cx="606.8" cy="645.3" r="2.7"/><circle cx="596.6" cy="654.9" r="2.7"/><circle cx="604.8" cy="654.3" r="2.7"/><circle cx="587.9" cy="700.3" r="2.7"/><circle cx="595.7" cy="665.1" r="2.7"/><circle cx="604.4" cy="714.5" r="2.7"/><circle cx="613.8" cy="670.5" r="2.7"/><circle cx="595.9" cy="647.3" r="2.7"/><circle cx="587.2" cy="726.3" r="2.7"/><circle cx="588.1" cy="687.4" r="2.7"/><circle cx="595.5" cy="713.1" r="2.7"/><circle cx="606.4" cy="639.6" r="2.7"/><circle cx="609.1" cy="734.5" r="2.7"/><circle cx="608.7" cy="686.1" r="2.7"/><circle cx="614.8" cy="656.6" r="2.7"/><circle cx="608.3" cy="641.2" r="2.7"/><circle cx="607.9" cy="617.2" r="2.7"/><circle cx="605.3" cy="598.7" r="2.7"/><circle cx="607.8" cy="633.2" r="2.7"/><circle cx="609.9" cy="649.6" r="2.7"/><circle cx="618.3" cy="672.8" r="2.7"/><circle cx="591.2" cy="660" r="2.7"/><circle cx="607" cy="603.2" r="2.7"/><circle cx="589.3" cy="625" r="2.7"/><circle cx="592.1" cy="594.2" r="2.7"/><circle cx="616.6" cy="602.2" r="2.7"/><circle cx="598.9" cy="647.4" r="2.7"/><circle cx="604.4" cy="685.2" r="2.7"/><circle cx="592.3" cy="626.5" r="2.7"/><circle cx="602.4" cy="719.6" r="2.7"/><circle cx="585.9" cy="737.4" r="2.7"/><circle cx="604.8" cy="683.1" r="2.7"/><circle cx="617.5" cy="603.6" r="2.7"/><circle cx="608.5" cy="631.4" r="2.7"/><circle cx="607.7" cy="671.4" r="2.7"/><circle cx="604" cy="728.9" r="2.7"/><circle cx="596" cy="737.8" r="2.7"/><circle cx="611.4" cy="699.9" r="2.7"/><circle cx="598.3" cy="720.4" r="2.7"/><circle cx="596.5" cy="615.6" r="2.7"/><circle cx="603.7" cy="672.4" r="2.7"/><circle cx="618.2" cy="667.5" r="2.7"/><circle cx="610.1" cy="636.5" r="2.7"/><circle cx="608" cy="677.6" r="2.7"/></g>
<path d="M605.7,585 L606,586.5 L606.2,588 L606.5,589.6 L606.8,591.1 L607.1,592.6 L607.3,594.1 L607.6,595.7 L607.9,597.2 L608.2,598.7 L608.6,600.2 L608.9,601.8 L609.2,603.3 L609.6,604.8 L609.9,606.3 L610.2,607.9 L610.6,609.4 L610.9,610.9 L611.3,612.4 L611.7,613.9 L612,615.5 L612.4,617 L612.7,618.5 L613,620 L613.4,621.6 L613.7,623.1 L614.1,624.6 L614.4,626.1 L614.8,627.7 L615.1,629.2 L615.5,630.7 L615.8,632.2 L616.1,633.8 L616.5,635.3 L616.8,636.8 L617.1,638.3 L617.5,639.8 L617.9,641.4 L618.2,642.9 L618.6,644.4 L619,645.9 L619.3,647.5 L619.7,649 L620,650.5 L620.4,652 L620.7,653.6 L620.9,655.1 L621.2,656.6 L621.4,658.1 L621.6,659.7 L621.8,661.2 L621.9,662.7 L622.1,664.2 L622.2,665.7 L622.3,667.3 L622.3,668.8 L622.2,670.3 L622.1,671.8 L621.9,673.4 L621.6,674.9 L621.4,676.4 L621.1,677.9 L620.9,679.5 L620.7,681 L620.4,682.5 L620.1,684 L619.8,685.6 L619.6,687.1 L619.4,688.6 L619.1,690.1 L618.9,691.6 L618.7,693.2 L618.5,694.7 L618.4,696.2 L618.2,697.7 L618,699.3 L617.8,700.8 L617.6,702.3 L617.4,703.8 L617.2,705.4 L617,706.9 L616.9,708.4 L616.8,709.9 L616.7,711.5 L616.6,713 L616.5,714.5 L616.5,716 L616.4,717.5 L616.2,719.1 L616.1,720.6 L616,722.1 L615.8,723.6 L615.6,725.2 L615.4,726.7 L615.1,728.2 L614.7,729.7 L614.1,731.3 L613.3,732.8 L612.6,734.3 L612,735.8 L611.4,737.4 L610.7,738.9 L610.1,740.4 L594.1,740.4 L593.5,738.9 L592.8,737.4 L592.2,735.8 L591.6,734.3 L590.9,732.8 L590.1,731.3 L589.5,729.7 L589.1,728.2 L588.8,726.7 L588.6,725.2 L588.4,723.6 L588.2,722.1 L588.1,720.6 L588,719.1 L587.8,717.5 L587.7,716 L587.7,714.5 L587.6,713 L587.5,711.5 L587.4,709.9 L587.3,708.4 L587.2,706.9 L587,705.4 L586.8,703.8 L586.6,702.3 L586.4,700.8 L586.2,699.3 L586,697.7 L585.8,696.2 L585.7,694.7 L585.5,693.2 L585.3,691.6 L585.1,690.1 L584.8,688.6 L584.6,687.1 L584.4,685.6 L584.1,684 L583.8,682.5 L583.5,681 L583.3,679.5 L583.1,677.9 L582.8,676.4 L582.6,674.9 L582.3,673.4 L582.1,671.8 L582,670.3 L581.9,668.8 L581.9,667.3 L582,665.7 L582.1,664.2 L582.3,662.7 L582.4,661.2 L582.6,659.7 L582.8,658.1 L583,656.6 L583.3,655.1 L583.5,653.6 L583.8,652 L584.2,650.5 L584.5,649 L584.9,647.5 L585.2,645.9 L585.6,644.4 L586,642.9 L586.3,641.4 L586.7,639.8 L587.1,638.3 L587.4,636.8 L587.7,635.3 L588.1,633.8 L588.4,632.2 L588.7,630.7 L589.1,629.2 L589.4,627.7 L589.8,626.1 L590.1,624.6 L590.5,623.1 L590.8,621.6 L591.2,620 L591.5,618.5 L591.8,617 L592.2,615.5 L592.5,613.9 L592.9,612.4 L593.3,610.9 L593.6,609.4 L594,607.9 L594.3,606.3 L594.6,604.8 L595,603.3 L595.3,601.8 L595.6,600.2 L596,598.7 L596.3,597.2 L596.6,595.7 L596.9,594.1 L597.1,592.6 L597.4,591.1 L597.7,589.6 L598,588 L598.2,586.5 L598.5,585 Z" fill="none" stroke="#000" stroke-width="1.85" stroke-linejoin="round"/>
<path d="M662.9,530.2 L662.8,531.7 L662.8,533.2 L662.8,534.7 L662.8,536.3 L662.8,537.8 L662.8,539.3 L662.8,540.8 L662.8,542.3 L662.8,543.8 L662.8,545.3 L662.8,546.8 L662.8,548.4 L662.8,549.9 L662.8,551.4 L662.8,552.9 L662.8,554.4 L662.8,555.9 L662.8,557.4 L662.8,559 L662.8,560.5 L662.8,562 L662.8,563.5 L662.8,565 L662.8,566.5 L662.8,568 L662.8,569.5 L662.8,571.1 L662.8,572.6 L662.8,574.1 L662.9,575.6 L662.9,577.1 L663,578.6 L663.1,580.1 L663.3,581.7 L663.5,583.2 L663.7,584.7 L663.9,586.2 L664.2,587.7 L664.6,589.2 L664.9,590.7 L665.2,592.2 L665.5,593.8 L665.8,595.3 L666.1,596.8 L666.4,598.3 L666.7,599.8 L667,601.3 L667.4,602.8 L667.7,604.3 L668,605.9 L668.2,607.4 L668.5,608.9 L668.7,610.4 L669,611.9 L669.2,613.4 L669.5,614.9 L669.7,616.5 L670,618 L670.3,619.5 L670.5,621 L670.8,622.5 L671,624 L671.2,625.5 L671.4,627 L671.7,628.6 L671.9,630.1 L672.1,631.6 L672.4,633.1 L672.6,634.6 L672.9,636.1 L673.1,637.6 L673.3,639.2 L673.5,640.7 L673.8,642.2 L674,643.7 L674.4,645.2 L674.7,646.7 L675,648.2 L675.4,649.7 L675.7,651.3 L676,652.8 L676.3,654.3 L676.6,655.8 L676.8,657.3 L677,658.8 L677.2,660.3 L677.4,661.9 L677.6,663.4 L677.8,664.9 L677.9,666.4 L678.1,667.9 L678.3,669.4 L678.5,670.9 L678.6,672.4 L678.8,674 L679,675.5 L679.2,677 L679.3,678.5 L679.5,680 L679.7,681.5 L679.8,683 L679.9,684.6 L680.1,686.1 L680.2,687.6 L680.3,689.1 L680.5,690.6 L680.6,692.1 L680.7,693.6 L680.8,695.1 L680.9,696.7 L680.9,698.2 L680.9,699.7 L680.8,701.2 L680.7,702.7 L680.5,704.2 L680.4,705.7 L680.2,707.2 L679.9,708.8 L679.6,710.3 L679.3,711.8 L678.9,713.3 L678.5,714.8 L678,716.3 L677.5,717.8 L677,719.4 L676.5,720.9 L676,722.4 L675.4,723.9 L674.8,725.4 L674.3,726.9 L673.7,728.4 L673.1,729.9 L672.5,731.5 L671.9,733 L671.2,734.5 L670.6,736 L670,737.5 L669.3,739 L668.7,740.5 L668.1,742.1 L667.5,743.6 L666.8,745.1 L666.2,746.6 L665.7,748.1 L665.2,749.6 L664.9,751.1 L664.7,752.6 L664.4,754.2 L664.3,755.7 L664.1,757.2 L664.1,758.7 L658.7,758.7 L658.7,757.2 L658.5,755.7 L658.4,754.2 L658.1,752.6 L657.9,751.1 L657.6,749.6 L657.1,748.1 L656.6,746.6 L656,745.1 L655.3,743.6 L654.7,742.1 L654.1,740.5 L653.5,739 L652.8,737.5 L652.2,736 L651.6,734.5 L650.9,733 L650.3,731.5 L649.7,729.9 L649.1,728.4 L648.5,726.9 L648,725.4 L647.4,723.9 L646.8,722.4 L646.3,720.9 L645.8,719.4 L645.3,717.8 L644.8,716.3 L644.3,714.8 L643.9,713.3 L643.5,711.8 L643.2,710.3 L642.9,708.8 L642.6,707.2 L642.4,705.7 L642.3,704.2 L642.1,702.7 L642,701.2 L641.9,699.7 L641.9,698.2 L641.9,696.7 L642,695.1 L642.1,693.6 L642.2,692.1 L642.3,690.6 L642.5,689.1 L642.6,687.6 L642.7,686.1 L642.9,684.6 L643,683 L643.1,681.5 L643.3,680 L643.5,678.5 L643.6,677 L643.8,675.5 L644,674 L644.2,672.4 L644.3,670.9 L644.5,669.4 L644.7,667.9 L644.9,666.4 L645,664.9 L645.2,663.4 L645.4,661.9 L645.6,660.3 L645.8,658.8 L646,657.3 L646.2,655.8 L646.5,654.3 L646.8,652.8 L647.1,651.3 L647.4,649.7 L647.8,648.2 L648.1,646.7 L648.4,645.2 L648.8,643.7 L649,642.2 L649.3,640.7 L649.5,639.2 L649.7,637.6 L649.9,636.1 L650.2,634.6 L650.4,633.1 L650.7,631.6 L650.9,630.1 L651.1,628.6 L651.4,627 L651.6,625.5 L651.8,624 L652,622.5 L652.3,621 L652.5,619.5 L652.8,618 L653.1,616.5 L653.3,614.9 L653.6,613.4 L653.8,611.9 L654.1,610.4 L654.3,608.9 L654.6,607.4 L654.8,605.9 L655.1,604.3 L655.4,602.8 L655.8,601.3 L656.1,599.8 L656.4,598.3 L656.7,596.8 L657,595.3 L657.3,593.8 L657.6,592.2 L657.9,590.7 L658.2,589.2 L658.6,587.7 L658.9,586.2 L659.1,584.7 L659.3,583.2 L659.5,581.7 L659.7,580.1 L659.8,578.6 L659.9,577.1 L659.9,575.6 L660,574.1 L660,572.6 L660,571.1 L660,569.5 L660,568 L660,566.5 L660,565 L660,563.5 L660,562 L660,560.5 L660,559 L660,557.4 L660,555.9 L660,554.4 L660,552.9 L660,551.4 L660,549.9 L660,548.4 L660,546.8 L660,545.3 L660,543.8 L660,542.3 L660,540.8 L660,539.3 L660,537.8 L660,536.3 L660,534.7 L660,533.2 L660,531.7 L659.9,530.2 Z" fill="#bfcceb"/>
<line x1="661.4" y1="574" x2="661.4" y2="758.7" stroke="#000" stroke-width="1.8"/>
<rect x="656" y="645.9" width="10.8" height="65.6" fill="#3c60b4" stroke="#000" stroke-width="2.0"/>
<line x1="656" y1="679.8" x2="666.8" y2="679.8" stroke="#000" stroke-width="3"/>
<g fill="rgba(60,96,180,0.7)"><circle cx="660" cy="618.9" r="2.7"/><circle cx="674.2" cy="713.4" r="2.7"/><circle cx="667.9" cy="669.1" r="2.7"/><circle cx="659.3" cy="692.9" r="2.7"/><circle cx="667.6" cy="686.3" r="2.7"/><circle cx="647.1" cy="712.2" r="2.7"/><circle cx="657.8" cy="578.3" r="2.7"/><circle cx="673.1" cy="611.4" r="2.7"/><circle cx="660.7" cy="650.5" r="2.7"/><circle cx="663.3" cy="634.2" r="2.7"/><circle cx="663.5" cy="699.3" r="2.7"/><circle cx="676.5" cy="616.3" r="2.7"/><circle cx="651.2" cy="610" r="2.7"/><circle cx="667.6" cy="681.1" r="2.7"/><circle cx="659.7" cy="602" r="2.7"/><circle cx="652.4" cy="711.2" r="2.7"/><circle cx="646" cy="656.3" r="2.7"/><circle cx="665.2" cy="652.8" r="2.7"/><circle cx="650.6" cy="688.4" r="2.7"/><circle cx="664.2" cy="744.6" r="2.7"/><circle cx="659" cy="650" r="2.7"/><circle cx="658.2" cy="639.2" r="2.7"/><circle cx="674.6" cy="661.5" r="2.7"/><circle cx="647.5" cy="710" r="2.7"/><circle cx="663.5" cy="733.6" r="2.7"/><circle cx="658.5" cy="625.9" r="2.7"/><circle cx="649.5" cy="575.8" r="2.7"/><circle cx="657.8" cy="653.4" r="2.7"/><circle cx="673.9" cy="653.9" r="2.7"/><circle cx="651.1" cy="707" r="2.7"/><circle cx="667.5" cy="700.2" r="2.7"/><circle cx="653.5" cy="707.2" r="2.7"/><circle cx="662.1" cy="664.8" r="2.7"/><circle cx="663.1" cy="669.9" r="2.7"/><circle cx="646.8" cy="735.2" r="2.7"/><circle cx="671.9" cy="592.8" r="2.7"/><circle cx="657.3" cy="562.4" r="2.7"/><circle cx="651.5" cy="555.8" r="2.7"/><circle cx="651.5" cy="715.1" r="2.7"/><circle cx="677.9" cy="679.6" r="2.7"/><circle cx="676.5" cy="700.8" r="2.7"/><circle cx="660.4" cy="696.2" r="2.7"/><circle cx="653.6" cy="715.1" r="2.7"/><circle cx="668.5" cy="682.2" r="2.7"/><circle cx="646.2" cy="656.2" r="2.7"/><circle cx="673.6" cy="614.6" r="2.7"/><circle cx="644.6" cy="668.1" r="2.7"/><circle cx="646.1" cy="634.4" r="2.7"/><circle cx="655.8" cy="731.9" r="2.7"/><circle cx="659.9" cy="708.7" r="2.7"/><circle cx="644.6" cy="649.4" r="2.7"/><circle cx="654.1" cy="679.7" r="2.7"/><circle cx="677.8" cy="673.3" r="2.7"/><circle cx="670.7" cy="690.4" r="2.7"/><circle cx="646.4" cy="735.8" r="2.7"/><circle cx="674.2" cy="648.2" r="2.7"/><circle cx="660.2" cy="692.4" r="2.7"/><circle cx="678" cy="679.1" r="2.7"/><circle cx="655.3" cy="738" r="2.7"/><circle cx="654.9" cy="637.8" r="2.7"/><circle cx="667.5" cy="694.9" r="2.7"/><circle cx="661" cy="608.4" r="2.7"/><circle cx="653.8" cy="683.2" r="2.7"/><circle cx="662.2" cy="738.4" r="2.7"/><circle cx="666.1" cy="703.6" r="2.7"/><circle cx="655" cy="578.8" r="2.7"/><circle cx="672.4" cy="747.6" r="2.7"/><circle cx="669.9" cy="683.6" r="2.7"/><circle cx="670" cy="687.8" r="2.7"/><circle cx="666.8" cy="736" r="2.7"/><circle cx="652.2" cy="689.7" r="2.7"/><circle cx="668.4" cy="638.6" r="2.7"/><circle cx="650.3" cy="669.1" r="2.7"/><circle cx="649.2" cy="707.3" r="2.7"/><circle cx="661.5" cy="665.6" r="2.7"/><circle cx="650.3" cy="627.9" r="2.7"/><circle cx="648.7" cy="665" r="2.7"/><circle cx="664.5" cy="614.1" r="2.7"/><circle cx="677.6" cy="611.4" r="2.7"/><circle cx="646.3" cy="618.3" r="2.7"/><circle cx="659.5" cy="680.3" r="2.7"/><circle cx="647.5" cy="654.1" r="2.7"/><circle cx="662.7" cy="631.6" r="2.7"/><circle cx="663.9" cy="706.4" r="2.7"/><circle cx="661.1" cy="692.1" r="2.7"/><circle cx="645.7" cy="714.8" r="2.7"/><circle cx="668.2" cy="627.1" r="2.7"/><circle cx="661.7" cy="691.4" r="2.7"/><circle cx="663.9" cy="647.2" r="2.7"/><circle cx="667.1" cy="677.8" r="2.7"/><circle cx="675.2" cy="673.2" r="2.7"/><circle cx="659.2" cy="688.3" r="2.7"/><circle cx="675.4" cy="686.5" r="2.7"/><circle cx="650.4" cy="730.5" r="2.7"/><circle cx="659.8" cy="693.8" r="2.7"/><circle cx="650.4" cy="658.5" r="2.7"/><circle cx="657.1" cy="711.9" r="2.7"/><circle cx="675.1" cy="627.3" r="2.7"/><circle cx="677.6" cy="709.7" r="2.7"/><circle cx="660.5" cy="688" r="2.7"/><circle cx="653.8" cy="644.9" r="2.7"/><circle cx="655.4" cy="707.3" r="2.7"/><circle cx="675.1" cy="616.1" r="2.7"/><circle cx="659.3" cy="582.8" r="2.7"/><circle cx="651.1" cy="648.8" r="2.7"/><circle cx="672.8" cy="678.9" r="2.7"/><circle cx="661.7" cy="693" r="2.7"/><circle cx="658.9" cy="654.7" r="2.7"/><circle cx="675.1" cy="688.2" r="2.7"/><circle cx="669.8" cy="746.9" r="2.7"/><circle cx="644.9" cy="757.7" r="2.7"/><circle cx="677.3" cy="703.9" r="2.7"/><circle cx="659.9" cy="653.1" r="2.7"/><circle cx="650.5" cy="675.3" r="2.7"/><circle cx="675.3" cy="713.9" r="2.7"/><circle cx="658.7" cy="725.7" r="2.7"/><circle cx="667.7" cy="737.2" r="2.7"/><circle cx="669.9" cy="665.5" r="2.7"/><circle cx="651" cy="657.7" r="2.7"/><circle cx="677.8" cy="656.9" r="2.7"/><circle cx="663.5" cy="711.4" r="2.7"/><circle cx="646.3" cy="738.3" r="2.7"/><circle cx="662.6" cy="686.5" r="2.7"/><circle cx="645" cy="670.3" r="2.7"/><circle cx="677.7" cy="697.8" r="2.7"/><circle cx="667" cy="668.3" r="2.7"/><circle cx="657.3" cy="685.8" r="2.7"/><circle cx="671.6" cy="632.8" r="2.7"/><circle cx="671.4" cy="611.3" r="2.7"/><circle cx="668.2" cy="665.7" r="2.7"/><circle cx="652.4" cy="646.8" r="2.7"/><circle cx="647.6" cy="625" r="2.7"/><circle cx="673.5" cy="741.2" r="2.7"/><circle cx="674.6" cy="700.5" r="2.7"/><circle cx="656.1" cy="664.6" r="2.7"/><circle cx="657.5" cy="752.2" r="2.7"/><circle cx="658.1" cy="614" r="2.7"/><circle cx="653.8" cy="659.2" r="2.7"/><circle cx="676.3" cy="723.3" r="2.7"/><circle cx="662.5" cy="741.4" r="2.7"/><circle cx="668.5" cy="711.2" r="2.7"/><circle cx="665" cy="631.9" r="2.7"/><circle cx="647.4" cy="686.4" r="2.7"/><circle cx="646.9" cy="603" r="2.7"/><circle cx="649.4" cy="599.8" r="2.7"/><circle cx="661.3" cy="720.8" r="2.7"/><circle cx="665.7" cy="533.4" r="2.7"/><circle cx="678.3" cy="609.8" r="2.7"/><circle cx="675" cy="613.9" r="2.7"/><circle cx="669.5" cy="703.1" r="2.7"/><circle cx="657.4" cy="693.9" r="2.7"/><circle cx="656.1" cy="637.2" r="2.7"/><circle cx="668.1" cy="666" r="2.7"/><circle cx="656.2" cy="738.2" r="2.7"/><circle cx="670.4" cy="636.8" r="2.7"/><circle cx="669.2" cy="601.7" r="2.7"/><circle cx="648.5" cy="695.6" r="2.7"/></g>
<path d="M662.9,530.2 L662.8,531.7 L662.8,533.2 L662.8,534.7 L662.8,536.3 L662.8,537.8 L662.8,539.3 L662.8,540.8 L662.8,542.3 L662.8,543.8 L662.8,545.3 L662.8,546.8 L662.8,548.4 L662.8,549.9 L662.8,551.4 L662.8,552.9 L662.8,554.4 L662.8,555.9 L662.8,557.4 L662.8,559 L662.8,560.5 L662.8,562 L662.8,563.5 L662.8,565 L662.8,566.5 L662.8,568 L662.8,569.5 L662.8,571.1 L662.8,572.6 L662.8,574.1 L662.9,575.6 L662.9,577.1 L663,578.6 L663.1,580.1 L663.3,581.7 L663.5,583.2 L663.7,584.7 L663.9,586.2 L664.2,587.7 L664.6,589.2 L664.9,590.7 L665.2,592.2 L665.5,593.8 L665.8,595.3 L666.1,596.8 L666.4,598.3 L666.7,599.8 L667,601.3 L667.4,602.8 L667.7,604.3 L668,605.9 L668.2,607.4 L668.5,608.9 L668.7,610.4 L669,611.9 L669.2,613.4 L669.5,614.9 L669.7,616.5 L670,618 L670.3,619.5 L670.5,621 L670.8,622.5 L671,624 L671.2,625.5 L671.4,627 L671.7,628.6 L671.9,630.1 L672.1,631.6 L672.4,633.1 L672.6,634.6 L672.9,636.1 L673.1,637.6 L673.3,639.2 L673.5,640.7 L673.8,642.2 L674,643.7 L674.4,645.2 L674.7,646.7 L675,648.2 L675.4,649.7 L675.7,651.3 L676,652.8 L676.3,654.3 L676.6,655.8 L676.8,657.3 L677,658.8 L677.2,660.3 L677.4,661.9 L677.6,663.4 L677.8,664.9 L677.9,666.4 L678.1,667.9 L678.3,669.4 L678.5,670.9 L678.6,672.4 L678.8,674 L679,675.5 L679.2,677 L679.3,678.5 L679.5,680 L679.7,681.5 L679.8,683 L679.9,684.6 L680.1,686.1 L680.2,687.6 L680.3,689.1 L680.5,690.6 L680.6,692.1 L680.7,693.6 L680.8,695.1 L680.9,696.7 L680.9,698.2 L680.9,699.7 L680.8,701.2 L680.7,702.7 L680.5,704.2 L680.4,705.7 L680.2,707.2 L679.9,708.8 L679.6,710.3 L679.3,711.8 L678.9,713.3 L678.5,714.8 L678,716.3 L677.5,717.8 L677,719.4 L676.5,720.9 L676,722.4 L675.4,723.9 L674.8,725.4 L674.3,726.9 L673.7,728.4 L673.1,729.9 L672.5,731.5 L671.9,733 L671.2,734.5 L670.6,736 L670,737.5 L669.3,739 L668.7,740.5 L668.1,742.1 L667.5,743.6 L666.8,745.1 L666.2,746.6 L665.7,748.1 L665.2,749.6 L664.9,751.1 L664.7,752.6 L664.4,754.2 L664.3,755.7 L664.1,757.2 L664.1,758.7 L658.7,758.7 L658.7,757.2 L658.5,755.7 L658.4,754.2 L658.1,752.6 L657.9,751.1 L657.6,749.6 L657.1,748.1 L656.6,746.6 L656,745.1 L655.3,743.6 L654.7,742.1 L654.1,740.5 L653.5,739 L652.8,737.5 L652.2,736 L651.6,734.5 L650.9,733 L650.3,731.5 L649.7,729.9 L649.1,728.4 L648.5,726.9 L648,725.4 L647.4,723.9 L646.8,722.4 L646.3,720.9 L645.8,719.4 L645.3,717.8 L644.8,716.3 L644.3,714.8 L643.9,713.3 L643.5,711.8 L643.2,710.3 L642.9,708.8 L642.6,707.2 L642.4,705.7 L642.3,704.2 L642.1,702.7 L642,701.2 L641.9,699.7 L641.9,698.2 L641.9,696.7 L642,695.1 L642.1,693.6 L642.2,692.1 L642.3,690.6 L642.5,689.1 L642.6,687.6 L642.7,686.1 L642.9,684.6 L643,683 L643.1,681.5 L643.3,680 L643.5,678.5 L643.6,677 L643.8,675.5 L644,674 L644.2,672.4 L644.3,670.9 L644.5,669.4 L644.7,667.9 L644.9,666.4 L645,664.9 L645.2,663.4 L645.4,661.9 L645.6,660.3 L645.8,658.8 L646,657.3 L646.2,655.8 L646.5,654.3 L646.8,652.8 L647.1,651.3 L647.4,649.7 L647.8,648.2 L648.1,646.7 L648.4,645.2 L648.8,643.7 L649,642.2 L649.3,640.7 L649.5,639.2 L649.7,637.6 L649.9,636.1 L650.2,634.6 L650.4,633.1 L650.7,631.6 L650.9,630.1 L651.1,628.6 L651.4,627 L651.6,625.5 L651.8,624 L652,622.5 L652.3,621 L652.5,619.5 L652.8,618 L653.1,616.5 L653.3,614.9 L653.6,613.4 L653.8,611.9 L654.1,610.4 L654.3,608.9 L654.6,607.4 L654.8,605.9 L655.1,604.3 L655.4,602.8 L655.8,601.3 L656.1,599.8 L656.4,598.3 L656.7,596.8 L657,595.3 L657.3,593.8 L657.6,592.2 L657.9,590.7 L658.2,589.2 L658.6,587.7 L658.9,586.2 L659.1,584.7 L659.3,583.2 L659.5,581.7 L659.7,580.1 L659.8,578.6 L659.9,577.1 L659.9,575.6 L660,574.1 L660,572.6 L660,571.1 L660,569.5 L660,568 L660,566.5 L660,565 L660,563.5 L660,562 L660,560.5 L660,559 L660,557.4 L660,555.9 L660,554.4 L660,552.9 L660,551.4 L660,549.9 L660,548.4 L660,546.8 L660,545.3 L660,543.8 L660,542.3 L660,540.8 L660,539.3 L660,537.8 L660,536.3 L660,534.7 L660,533.2 L660,531.7 L659.9,530.2 Z" fill="none" stroke="#000" stroke-width="1.85" stroke-linejoin="round"/>
<path d="M483.3,490.3 V483.8 H661.6 V490.3" fill="none" stroke="#000" stroke-width="1.9"/>
<text x="572.5" y="486.1" font-size="16.5" text-anchor="middle">***</text>
<path d="M483.3,506.4 V499.9 H602.1 V506.4" fill="none" stroke="#000" stroke-width="1.9"/>
<text x="542.7" y="502.2" font-size="16.5" text-anchor="middle">*</text>
<path d="M483.3,522.8 V516.5 H542.7 V522.8" fill="none" stroke="#000" stroke-width="1.9"/>
<text x="513" y="518.8" font-size="16.5" text-anchor="middle">***</text>
<rect x="447.7" y="469.4" width="249.4" height="316.5" fill="none" stroke="#000" stroke-width="2"/>
<line x1="440.2" y1="739.6" x2="447.7" y2="739.6" stroke="#000" stroke-width="1.9"/>
<text x="435.7" y="746.4" font-size="22.8" text-anchor="end">2</text>
<line x1="440.2" y1="674.2" x2="447.7" y2="674.2" stroke="#000" stroke-width="1.9"/>
<text x="435.7" y="681" font-size="22.8" text-anchor="end">4</text>
<line x1="440.2" y1="608.9" x2="447.7" y2="608.9" stroke="#000" stroke-width="1.9"/>
<text x="435.7" y="615.7" font-size="22.8" text-anchor="end">6</text>
<line x1="440.2" y1="543.5" x2="447.7" y2="543.5" stroke="#000" stroke-width="1.9"/>
<text x="435.7" y="550.3" font-size="22.8" text-anchor="end">8</text>
<line x1="440.2" y1="478.1" x2="447.7" y2="478.1" stroke="#000" stroke-width="1.9"/>
<text x="435.7" y="484.9" font-size="22.8" text-anchor="end">10</text>
<line x1="483.3" y1="785.9" x2="483.3" y2="793.4" stroke="#000" stroke-width="1.9"/>
<text x="484.8" y="813.9" font-size="22.3" text-anchor="middle">PD</text>
<line x1="542.7" y1="785.9" x2="542.7" y2="793.4" stroke="#000" stroke-width="1.9"/>
<text x="544.2" y="813.9" font-size="22.3" text-anchor="middle">SD</text>
<line x1="602.1" y1="785.9" x2="602.1" y2="793.4" stroke="#000" stroke-width="1.9"/>
<text x="603.6" y="813.9" font-size="22.3" text-anchor="middle">PR</text>
<line x1="661.6" y1="785.9" x2="661.6" y2="793.4" stroke="#000" stroke-width="1.9"/>
<text x="663.1" y="813.9" font-size="22.3" text-anchor="middle">CR</text>
<text x="563.4" y="842.1" font-size="25" text-anchor="middle">Primary therapy outcome</text>
<text x="374.3" y="627.6" font-size="22.3" text-anchor="middle" transform="rotate(-90 374.3 627.6)">PLEKHA4 expression</text>
<text x="395.2" y="627.6" font-size="22.3" text-anchor="middle" transform="rotate(-90 395.2 627.6)">Log<tspan font-size="16" dy="5.6">2</tspan><tspan dy="-5.6"> (TPM+1)</tspan></text>
<g fill="rgba(33,171,207,0.88)"><circle cx="958.2" cy="626.6" r="3.1"/><circle cx="1035.5" cy="574.1" r="3.1"/><circle cx="1026.9" cy="592.8" r="3.1"/><circle cx="931.3" cy="650.1" r="3.1"/><circle cx="941.5" cy="629.8" r="3.1"/><circle cx="930.5" cy="598.7" r="3.1"/><circle cx="987.2" cy="678.1" r="3.1"/><circle cx="953.6" cy="584.6" r="3.1"/><circle cx="997.4" cy="591.9" r="3.1"/><circle cx="882.6" cy="699.7" r="3.1"/><circle cx="1047.9" cy="586" r="3.1"/><circle cx="951.6" cy="654.4" r="3.1"/><circle cx="993.5" cy="635.6" r="3.1"/><circle cx="949.5" cy="677.6" r="3.1"/><circle cx="937.6" cy="655.1" r="3.1"/><circle cx="981.1" cy="718.4" r="3.1"/><circle cx="1001.9" cy="563.2" r="3.1"/><circle cx="946.2" cy="647.2" r="3.1"/><circle cx="948.7" cy="627.1" r="3.1"/><circle cx="993.8" cy="587" r="3.1"/><circle cx="915.5" cy="669.4" r="3.1"/><circle cx="892.1" cy="713.5" r="3.1"/><circle cx="977.3" cy="593.8" r="3.1"/><circle cx="924" cy="635.4" r="3.1"/><circle cx="880.7" cy="702.5" r="3.1"/><circle cx="917.8" cy="674.9" r="3.1"/><circle cx="933.3" cy="706.9" r="3.1"/><circle cx="902.9" cy="696.8" r="3.1"/><circle cx="892.8" cy="682.9" r="3.1"/><circle cx="958.4" cy="621" r="3.1"/><circle cx="1006.3" cy="606.7" r="3.1"/><circle cx="944.7" cy="635.8" r="3.1"/><circle cx="920.8" cy="619.6" r="3.1"/><circle cx="976.8" cy="619.2" r="3.1"/><circle cx="995.6" cy="599.4" r="3.1"/><circle cx="941.4" cy="636.4" r="3.1"/><circle cx="985.7" cy="597.3" r="3.1"/><circle cx="1015.3" cy="658.8" r="3.1"/><circle cx="946" cy="661.9" r="3.1"/><circle cx="917.8" cy="685.8" r="3.1"/><circle cx="974.7" cy="599.4" r="3.1"/><circle cx="969.4" cy="589.5" r="3.1"/><circle cx="1018.8" cy="578.5" r="3.1"/><circle cx="899.7" cy="678.7" r="3.1"/><circle cx="924.4" cy="645.5" r="3.1"/><circle cx="916.8" cy="655.4" r="3.1"/><circle cx="885.6" cy="705.1" r="3.1"/><circle cx="963" cy="638.4" r="3.1"/><circle cx="984.8" cy="578.2" r="3.1"/><circle cx="921" cy="645.7" r="3.1"/><circle cx="1037.2" cy="549.4" r="3.1"/><circle cx="1001.8" cy="608.4" r="3.1"/><circle cx="990.5" cy="567" r="3.1"/><circle cx="977.7" cy="612.1" r="3.1"/><circle cx="1009.9" cy="622.8" r="3.1"/><circle cx="898.1" cy="674.3" r="3.1"/><circle cx="989.7" cy="576.8" r="3.1"/><circle cx="989" cy="588.1" r="3.1"/><circle cx="884.7" cy="685.8" r="3.1"/><circle cx="974.7" cy="637" r="3.1"/><circle cx="943.9" cy="667.6" r="3.1"/><circle cx="999.4" cy="597.8" r="3.1"/><circle cx="934.7" cy="609.1" r="3.1"/><circle cx="955.5" cy="679.6" r="3.1"/><circle cx="974.5" cy="630.8" r="3.1"/><circle cx="915.2" cy="672.8" r="3.1"/><circle cx="988.8" cy="621.6" r="3.1"/><circle cx="951.1" cy="603.9" r="3.1"/><circle cx="982.8" cy="603.4" r="3.1"/><circle cx="930.8" cy="658.4" r="3.1"/><circle cx="1018" cy="631.3" r="3.1"/><circle cx="989.2" cy="612.5" r="3.1"/><circle cx="947.5" cy="541.9" r="3.1"/><circle cx="990.7" cy="600.5" r="3.1"/><circle cx="1029.2" cy="597" r="3.1"/><circle cx="1059.7" cy="619.2" r="3.1"/><circle cx="890.3" cy="696.3" r="3.1"/><circle cx="1005.4" cy="694.2" r="3.1"/><circle cx="981.2" cy="666.1" r="3.1"/><circle cx="951.7" cy="679.1" r="3.1"/><circle cx="910" cy="690.5" r="3.1"/><circle cx="1029" cy="525.9" r="3.1"/><circle cx="900.5" cy="693.6" r="3.1"/><circle cx="987" cy="633.4" r="3.1"/><circle cx="1031.9" cy="558.9" r="3.1"/><circle cx="889.5" cy="693.8" r="3.1"/><circle cx="941.3" cy="656.3" r="3.1"/><circle cx="898.8" cy="661.3" r="3.1"/><circle cx="969.2" cy="620" r="3.1"/><circle cx="1044.9" cy="560.3" r="3.1"/><circle cx="1070.1" cy="564.7" r="3.1"/><circle cx="884.4" cy="673.1" r="3.1"/><circle cx="928.4" cy="668.3" r="3.1"/><circle cx="994.9" cy="535.6" r="3.1"/><circle cx="1048.6" cy="556.8" r="3.1"/><circle cx="978.8" cy="558.6" r="3.1"/><circle cx="920.7" cy="644.4" r="3.1"/><circle cx="972" cy="639.9" r="3.1"/><circle cx="955.6" cy="634.3" r="3.1"/><circle cx="946.2" cy="636.8" r="3.1"/><circle cx="921.2" cy="659.5" r="3.1"/><circle cx="976.9" cy="673.4" r="3.1"/><circle cx="972.6" cy="584" r="3.1"/><circle cx="951.7" cy="664.5" r="3.1"/><circle cx="945.3" cy="594" r="3.1"/><circle cx="899.7" cy="660.6" r="3.1"/><circle cx="932.5" cy="654.5" r="3.1"/><circle cx="1025.7" cy="550.3" r="3.1"/><circle cx="946.8" cy="646.1" r="3.1"/><circle cx="894.5" cy="694.2" r="3.1"/><circle cx="1033.9" cy="529.5" r="3.1"/><circle cx="984.9" cy="610.5" r="3.1"/><circle cx="1073.5" cy="534.3" r="3.1"/><circle cx="959.7" cy="567.4" r="3.1"/><circle cx="933.6" cy="643.4" r="3.1"/><circle cx="894.2" cy="656.5" r="3.1"/><circle cx="1033.3" cy="635.3" r="3.1"/><circle cx="1088.4" cy="499.2" r="3.1"/><circle cx="917.5" cy="707" r="3.1"/><circle cx="925.1" cy="639.6" r="3.1"/><circle cx="988.7" cy="680.8" r="3.1"/><circle cx="917.1" cy="675.2" r="3.1"/><circle cx="942.9" cy="656.4" r="3.1"/><circle cx="939" cy="669.5" r="3.1"/><circle cx="966.4" cy="656.4" r="3.1"/><circle cx="1018.6" cy="645.8" r="3.1"/><circle cx="957.6" cy="688.5" r="3.1"/><circle cx="1007.6" cy="584.2" r="3.1"/><circle cx="935.6" cy="610.3" r="3.1"/><circle cx="973.7" cy="529.3" r="3.1"/><circle cx="875.3" cy="680.7" r="3.1"/><circle cx="894.2" cy="695.2" r="3.1"/><circle cx="1000.2" cy="616.9" r="3.1"/><circle cx="927.7" cy="656.4" r="3.1"/><circle cx="987.7" cy="598.7" r="3.1"/><circle cx="985.6" cy="589.9" r="3.1"/><circle cx="1033.2" cy="568" r="3.1"/><circle cx="1001.2" cy="616.6" r="3.1"/><circle cx="1013.7" cy="524.2" r="3.1"/><circle cx="950.8" cy="660" r="3.1"/><circle cx="922.8" cy="615.2" r="3.1"/><circle cx="921.3" cy="653" r="3.1"/><circle cx="932.4" cy="631.1" r="3.1"/><circle cx="905.2" cy="659" r="3.1"/><circle cx="929.6" cy="621.2" r="3.1"/><circle cx="951.8" cy="599.6" r="3.1"/><circle cx="969.6" cy="616" r="3.1"/><circle cx="939.5" cy="611.9" r="3.1"/><circle cx="880.6" cy="742.6" r="3.1"/><circle cx="952.8" cy="622.2" r="3.1"/><circle cx="968.2" cy="602.6" r="3.1"/><circle cx="1017.9" cy="568.3" r="3.1"/><circle cx="987.6" cy="572.5" r="3.1"/><circle cx="925.2" cy="584.4" r="3.1"/><circle cx="921.7" cy="649.8" r="3.1"/><circle cx="1069.6" cy="568.4" r="3.1"/><circle cx="997.9" cy="547.9" r="3.1"/><circle cx="1061.6" cy="560" r="3.1"/><circle cx="917.6" cy="658.8" r="3.1"/><circle cx="976.8" cy="631.2" r="3.1"/><circle cx="980.9" cy="633" r="3.1"/><circle cx="986.6" cy="627.5" r="3.1"/><circle cx="985.6" cy="587.3" r="3.1"/><circle cx="967" cy="655" r="3.1"/><circle cx="965.5" cy="611.6" r="3.1"/><circle cx="892.5" cy="685.9" r="3.1"/><circle cx="948.1" cy="660.7" r="3.1"/><circle cx="920.6" cy="649.2" r="3.1"/><circle cx="963" cy="585.7" r="3.1"/><circle cx="933.3" cy="667" r="3.1"/><circle cx="989.9" cy="568.9" r="3.1"/><circle cx="1001.6" cy="567.7" r="3.1"/><circle cx="972.6" cy="583.8" r="3.1"/><circle cx="973" cy="650.1" r="3.1"/><circle cx="961.3" cy="624.1" r="3.1"/><circle cx="934.3" cy="581.6" r="3.1"/><circle cx="948.1" cy="661.6" r="3.1"/><circle cx="932" cy="710.6" r="3.1"/><circle cx="977" cy="681.1" r="3.1"/><circle cx="957.2" cy="613.8" r="3.1"/><circle cx="987.8" cy="613.7" r="3.1"/><circle cx="898.2" cy="686.2" r="3.1"/><circle cx="1005.7" cy="632.6" r="3.1"/><circle cx="920" cy="659.1" r="3.1"/><circle cx="921.2" cy="626.5" r="3.1"/><circle cx="946.5" cy="663.1" r="3.1"/><circle cx="928.9" cy="669.7" r="3.1"/><circle cx="971.7" cy="576.7" r="3.1"/><circle cx="928.4" cy="641.6" r="3.1"/><circle cx="907.5" cy="673.9" r="3.1"/><circle cx="916.5" cy="660.4" r="3.1"/><circle cx="1032.5" cy="601.5" r="3.1"/><circle cx="958.7" cy="657" r="3.1"/><circle cx="903.9" cy="683.4" r="3.1"/><circle cx="956.9" cy="628.7" r="3.1"/><circle cx="890.8" cy="645.4" r="3.1"/><circle cx="1059.6" cy="588.4" r="3.1"/><circle cx="891.8" cy="712" r="3.1"/><circle cx="982" cy="684.8" r="3.1"/><circle cx="985.7" cy="611.1" r="3.1"/><circle cx="894.2" cy="675.1" r="3.1"/><circle cx="972.2" cy="671.2" r="3.1"/><circle cx="1012.4" cy="649.9" r="3.1"/><circle cx="981.4" cy="627.3" r="3.1"/><circle cx="970.1" cy="647.4" r="3.1"/><circle cx="1009.4" cy="566.3" r="3.1"/><circle cx="964.8" cy="646.3" r="3.1"/><circle cx="974.1" cy="591.9" r="3.1"/><circle cx="950" cy="632.5" r="3.1"/><circle cx="990.7" cy="604.3" r="3.1"/><circle cx="912.6" cy="650.5" r="3.1"/><circle cx="1000" cy="523" r="3.1"/><circle cx="931.6" cy="625.7" r="3.1"/><circle cx="906.7" cy="676" r="3.1"/><circle cx="975.7" cy="617.1" r="3.1"/><circle cx="1054.7" cy="546.8" r="3.1"/><circle cx="1010.2" cy="611.8" r="3.1"/><circle cx="931.1" cy="670.4" r="3.1"/><circle cx="994.5" cy="637.4" r="3.1"/><circle cx="934" cy="624.3" r="3.1"/><circle cx="950.2" cy="637.6" r="3.1"/><circle cx="961.1" cy="618.3" r="3.1"/><circle cx="871.2" cy="672.5" r="3.1"/><circle cx="966.4" cy="575.5" r="3.1"/><circle cx="909.1" cy="662.9" r="3.1"/><circle cx="922.8" cy="631.3" r="3.1"/><circle cx="893.4" cy="729.7" r="3.1"/><circle cx="892" cy="675" r="3.1"/><circle cx="912.5" cy="657.1" r="3.1"/><circle cx="1002" cy="585.8" r="3.1"/><circle cx="1053.3" cy="647.5" r="3.1"/><circle cx="955.2" cy="603.1" r="3.1"/><circle cx="1018.4" cy="583" r="3.1"/><circle cx="943.2" cy="618.1" r="3.1"/><circle cx="880.9" cy="682.3" r="3.1"/><circle cx="964.2" cy="625.9" r="3.1"/><circle cx="980.2" cy="654.6" r="3.1"/><circle cx="935.2" cy="605.2" r="3.1"/><circle cx="972.3" cy="620.8" r="3.1"/><circle cx="987.3" cy="669.2" r="3.1"/><circle cx="915.7" cy="646.9" r="3.1"/><circle cx="893.3" cy="672.1" r="3.1"/><circle cx="945.3" cy="612.8" r="3.1"/><circle cx="945.8" cy="558.7" r="3.1"/><circle cx="938.8" cy="641.6" r="3.1"/><circle cx="1011.8" cy="639.8" r="3.1"/><circle cx="1056.4" cy="542.1" r="3.1"/><circle cx="935.8" cy="591.9" r="3.1"/><circle cx="994.6" cy="615.8" r="3.1"/><circle cx="1008.9" cy="599" r="3.1"/><circle cx="995.4" cy="642.4" r="3.1"/><circle cx="1015.6" cy="627.2" r="3.1"/><circle cx="937.1" cy="637.9" r="3.1"/><circle cx="997" cy="619.2" r="3.1"/><circle cx="1000.7" cy="643.6" r="3.1"/><circle cx="926.3" cy="658.8" r="3.1"/><circle cx="989.3" cy="649" r="3.1"/><circle cx="1029.3" cy="625.4" r="3.1"/><circle cx="975.9" cy="609" r="3.1"/><circle cx="928.9" cy="647.4" r="3.1"/><circle cx="1046.6" cy="532" r="3.1"/><circle cx="900.9" cy="618.3" r="3.1"/><circle cx="983.4" cy="609" r="3.1"/><circle cx="955.6" cy="638" r="3.1"/><circle cx="902.9" cy="641.7" r="3.1"/><circle cx="1026.5" cy="612.7" r="3.1"/><circle cx="974.8" cy="623.2" r="3.1"/><circle cx="903.9" cy="680.9" r="3.1"/><circle cx="989" cy="582" r="3.1"/><circle cx="935" cy="595" r="3.1"/><circle cx="881.1" cy="703.1" r="3.1"/><circle cx="923.2" cy="672.9" r="3.1"/><circle cx="970.2" cy="619.2" r="3.1"/><circle cx="990.9" cy="593.1" r="3.1"/><circle cx="965" cy="617.3" r="3.1"/><circle cx="958.8" cy="626.4" r="3.1"/><circle cx="981.5" cy="597.1" r="3.1"/><circle cx="945.8" cy="577.5" r="3.1"/><circle cx="1023.8" cy="617.3" r="3.1"/><circle cx="964.2" cy="577.5" r="3.1"/><circle cx="971.8" cy="610.4" r="3.1"/><circle cx="985.5" cy="601.3" r="3.1"/><circle cx="908" cy="673.2" r="3.1"/><circle cx="922.3" cy="610.8" r="3.1"/><circle cx="1045.7" cy="622.3" r="3.1"/><circle cx="974.1" cy="642.8" r="3.1"/><circle cx="942.3" cy="666" r="3.1"/><circle cx="974.4" cy="663.8" r="3.1"/><circle cx="932.7" cy="625.6" r="3.1"/><circle cx="971" cy="515.7" r="3.1"/><circle cx="924.2" cy="664.5" r="3.1"/><circle cx="970.9" cy="667.3" r="3.1"/><circle cx="890.2" cy="707.1" r="3.1"/><circle cx="1033.7" cy="556.7" r="3.1"/><circle cx="931.2" cy="647.6" r="3.1"/><circle cx="890.1" cy="685.9" r="3.1"/><circle cx="945.2" cy="584.7" r="3.1"/><circle cx="938" cy="625.6" r="3.1"/><circle cx="964.4" cy="606.2" r="3.1"/><circle cx="904.7" cy="710.1" r="3.1"/><circle cx="977.5" cy="595.6" r="3.1"/><circle cx="1102.1" cy="609.9" r="3.1"/><circle cx="899.9" cy="672.6" r="3.1"/><circle cx="974.2" cy="562.9" r="3.1"/><circle cx="940.9" cy="711.2" r="3.1"/><circle cx="966.5" cy="593.5" r="3.1"/><circle cx="883.5" cy="698.2" r="3.1"/><circle cx="904.5" cy="713.6" r="3.1"/><circle cx="980.9" cy="597.2" r="3.1"/><circle cx="954.5" cy="594.9" r="3.1"/><circle cx="1051.7" cy="612.5" r="3.1"/><circle cx="922.5" cy="658.5" r="3.1"/><circle cx="965.5" cy="585.8" r="3.1"/><circle cx="919.9" cy="647.6" r="3.1"/><circle cx="914.1" cy="688.7" r="3.1"/><circle cx="954.7" cy="625.1" r="3.1"/><circle cx="954.2" cy="655.6" r="3.1"/><circle cx="1003.1" cy="663.3" r="3.1"/><circle cx="963.2" cy="670.4" r="3.1"/><circle cx="920.3" cy="698.4" r="3.1"/><circle cx="967.4" cy="666.8" r="3.1"/><circle cx="1029.9" cy="632.4" r="3.1"/><circle cx="862.9" cy="704.9" r="3.1"/><circle cx="949.3" cy="634.1" r="3.1"/><circle cx="915.3" cy="632" r="3.1"/><circle cx="990.2" cy="551.9" r="3.1"/><circle cx="947.7" cy="604.4" r="3.1"/><circle cx="1066.2" cy="555.8" r="3.1"/><circle cx="1008.4" cy="551.7" r="3.1"/><circle cx="1005.9" cy="567.5" r="3.1"/><circle cx="966.1" cy="605.7" r="3.1"/><circle cx="954.4" cy="655.8" r="3.1"/><circle cx="974.3" cy="610.5" r="3.1"/><circle cx="1031.4" cy="574.9" r="3.1"/><circle cx="985.2" cy="660.5" r="3.1"/><circle cx="938.9" cy="635.5" r="3.1"/><circle cx="1030.1" cy="606.6" r="3.1"/><circle cx="966.4" cy="590.7" r="3.1"/><circle cx="952.5" cy="646.3" r="3.1"/><circle cx="918.8" cy="662.5" r="3.1"/><circle cx="928.8" cy="657.4" r="3.1"/><circle cx="925.6" cy="641.2" r="3.1"/><circle cx="862.8" cy="676.4" r="3.1"/><circle cx="1013.6" cy="581.6" r="3.1"/><circle cx="987" cy="595" r="3.1"/><circle cx="945.6" cy="672.6" r="3.1"/><circle cx="1015.5" cy="627.8" r="3.1"/><circle cx="979.7" cy="574.7" r="3.1"/><circle cx="976" cy="641.2" r="3.1"/><circle cx="868" cy="684.1" r="3.1"/><circle cx="944.7" cy="655.4" r="3.1"/><circle cx="985" cy="596" r="3.1"/><circle cx="1050.3" cy="503.7" r="3.1"/><circle cx="1062" cy="605.5" r="3.1"/><circle cx="1039.7" cy="594.4" r="3.1"/><circle cx="904.1" cy="637.6" r="3.1"/><circle cx="873.9" cy="648.1" r="3.1"/><circle cx="987.2" cy="592.5" r="3.1"/><circle cx="957.9" cy="593.7" r="3.1"/><circle cx="1010.3" cy="581.6" r="3.1"/><circle cx="950.1" cy="657" r="3.1"/><circle cx="967.9" cy="674.6" r="3.1"/><circle cx="892.6" cy="668.6" r="3.1"/><circle cx="980.3" cy="664.9" r="3.1"/><circle cx="934.4" cy="682.9" r="3.1"/><circle cx="974.9" cy="605.3" r="3.1"/><circle cx="980.9" cy="557.3" r="3.1"/><circle cx="950.5" cy="664.1" r="3.1"/><circle cx="973.1" cy="642.5" r="3.1"/><circle cx="955.8" cy="709.4" r="3.1"/><circle cx="998.1" cy="657.6" r="3.1"/><circle cx="983.3" cy="642.3" r="3.1"/><circle cx="929.6" cy="700.8" r="3.1"/><circle cx="927.8" cy="622.8" r="3.1"/><circle cx="1057.3" cy="571.7" r="3.1"/><circle cx="951.3" cy="628.1" r="3.1"/><circle cx="1012.1" cy="662.5" r="3.1"/><circle cx="977.3" cy="638.4" r="3.1"/><circle cx="928.9" cy="563.7" r="3.1"/><circle cx="920.6" cy="696.5" r="3.1"/><circle cx="962.7" cy="599" r="3.1"/><circle cx="969.8" cy="650.4" r="3.1"/><circle cx="989.7" cy="592.9" r="3.1"/><circle cx="900.3" cy="678.5" r="3.1"/><circle cx="927.5" cy="671.8" r="3.1"/><circle cx="951.6" cy="642.9" r="3.1"/><circle cx="1049.8" cy="527.2" r="3.1"/><circle cx="870.3" cy="723.8" r="3.1"/><circle cx="979.8" cy="631.3" r="3.1"/><circle cx="930" cy="651.4" r="3.1"/><circle cx="979.4" cy="642.4" r="3.1"/><circle cx="932.2" cy="634.6" r="3.1"/><circle cx="975.7" cy="685.5" r="3.1"/><circle cx="1047.8" cy="580.1" r="3.1"/><circle cx="975.1" cy="633.3" r="3.1"/><circle cx="979.5" cy="629.8" r="3.1"/><circle cx="976.1" cy="588.4" r="3.1"/><circle cx="920.5" cy="625.6" r="3.1"/><circle cx="985.6" cy="621.2" r="3.1"/><circle cx="945.9" cy="651.9" r="3.1"/><circle cx="917.9" cy="697.6" r="3.1"/><circle cx="954.5" cy="649.5" r="3.1"/><circle cx="945" cy="607.9" r="3.1"/><circle cx="997.8" cy="624.7" r="3.1"/><circle cx="954.3" cy="661.7" r="3.1"/><circle cx="930.5" cy="680.9" r="3.1"/><circle cx="1041.5" cy="589" r="3.1"/><circle cx="1011.9" cy="547.7" r="3.1"/><circle cx="1029.8" cy="630.7" r="3.1"/><circle cx="989.3" cy="584.4" r="3.1"/><circle cx="950.9" cy="655.7" r="3.1"/><circle cx="935.6" cy="601.2" r="3.1"/><circle cx="942.4" cy="666.8" r="3.1"/><circle cx="1009.4" cy="566.7" r="3.1"/><circle cx="962.2" cy="665.4" r="3.1"/><circle cx="893.1" cy="721" r="3.1"/><circle cx="954.5" cy="672.5" r="3.1"/><circle cx="895.3" cy="646.9" r="3.1"/><circle cx="965.1" cy="596.2" r="3.1"/><circle cx="902.5" cy="648.5" r="3.1"/><circle cx="900.4" cy="689.4" r="3.1"/><circle cx="962.6" cy="640.8" r="3.1"/><circle cx="952.5" cy="641.4" r="3.1"/><circle cx="887.7" cy="688.7" r="3.1"/><circle cx="997.4" cy="626.8" r="3.1"/><circle cx="1075.6" cy="581.5" r="3.1"/><circle cx="893.2" cy="719.1" r="3.1"/><circle cx="1061.1" cy="558.6" r="3.1"/><circle cx="923.3" cy="662.3" r="3.1"/><circle cx="932.1" cy="595.9" r="3.1"/><circle cx="947.4" cy="598.5" r="3.1"/><circle cx="894.3" cy="659.3" r="3.1"/><circle cx="1031.7" cy="532.3" r="3.1"/><circle cx="982.8" cy="623" r="3.1"/><circle cx="920.5" cy="687.5" r="3.1"/><circle cx="942.5" cy="629.7" r="3.1"/><circle cx="892.1" cy="666.1" r="3.1"/><circle cx="939.1" cy="629.9" r="3.1"/><circle cx="1008.7" cy="602.2" r="3.1"/><circle cx="886.2" cy="669.1" r="3.1"/><circle cx="934.8" cy="661" r="3.1"/><circle cx="964.1" cy="638" r="3.1"/><circle cx="1015.6" cy="605.8" r="3.1"/><circle cx="1034.9" cy="610.7" r="3.1"/><circle cx="933.8" cy="649.8" r="3.1"/><circle cx="921" cy="661.8" r="3.1"/><circle cx="980.4" cy="678.4" r="3.1"/><circle cx="938.3" cy="644.4" r="3.1"/><circle cx="940.9" cy="668.2" r="3.1"/><circle cx="1017.6" cy="592.8" r="3.1"/><circle cx="1054.6" cy="544.7" r="3.1"/><circle cx="970.3" cy="607.9" r="3.1"/><circle cx="946.7" cy="614.3" r="3.1"/><circle cx="987.2" cy="612.1" r="3.1"/><circle cx="881.5" cy="671" r="3.1"/><circle cx="955.5" cy="620" r="3.1"/><circle cx="907.9" cy="699" r="3.1"/><circle cx="1083.3" cy="538.5" r="3.1"/><circle cx="995.8" cy="647.9" r="3.1"/><circle cx="963.8" cy="636.7" r="3.1"/><circle cx="946.6" cy="666.6" r="3.1"/><circle cx="867.3" cy="681.8" r="3.1"/><circle cx="995.4" cy="611.4" r="3.1"/><circle cx="1051.4" cy="682.3" r="3.1"/><circle cx="921.5" cy="680.5" r="3.1"/><circle cx="993.7" cy="644" r="3.1"/><circle cx="996" cy="614.1" r="3.1"/><circle cx="891.1" cy="699.3" r="3.1"/><circle cx="1008.6" cy="551.8" r="3.1"/><circle cx="1035.2" cy="542.6" r="3.1"/><circle cx="968.3" cy="639.1" r="3.1"/><circle cx="953.2" cy="661.3" r="3.1"/><circle cx="999.8" cy="587.4" r="3.1"/><circle cx="891.3" cy="673.6" r="3.1"/><circle cx="961.3" cy="617.6" r="3.1"/><circle cx="1016" cy="584" r="3.1"/><circle cx="901.2" cy="640.5" r="3.1"/><circle cx="1012.1" cy="538.2" r="3.1"/><circle cx="935.7" cy="644.8" r="3.1"/><circle cx="876.7" cy="648.8" r="3.1"/><circle cx="951.1" cy="605.5" r="3.1"/><circle cx="911.3" cy="646.3" r="3.1"/><circle cx="973.2" cy="584.9" r="3.1"/><circle cx="903.7" cy="675.5" r="3.1"/><circle cx="1015.7" cy="573.7" r="3.1"/><circle cx="921" cy="654.9" r="3.1"/><circle cx="975.2" cy="584.5" r="3.1"/><circle cx="927.5" cy="631.3" r="3.1"/><circle cx="940.3" cy="659.2" r="3.1"/><circle cx="1024.8" cy="599.5" r="3.1"/><circle cx="967.7" cy="608.9" r="3.1"/><circle cx="936.8" cy="656.9" r="3.1"/><circle cx="900.8" cy="675.9" r="3.1"/><circle cx="1022.7" cy="592.5" r="3.1"/><circle cx="996.6" cy="663.5" r="3.1"/><circle cx="940.1" cy="631.5" r="3.1"/><circle cx="969.1" cy="637.5" r="3.1"/><circle cx="909.1" cy="676.4" r="3.1"/><circle cx="909.6" cy="658.6" r="3.1"/><circle cx="917.3" cy="627.3" r="3.1"/><circle cx="975.1" cy="643" r="3.1"/><circle cx="971.9" cy="630.2" r="3.1"/><circle cx="920.7" cy="658.3" r="3.1"/><circle cx="996.8" cy="604.6" r="3.1"/><circle cx="999.6" cy="602.6" r="3.1"/><circle cx="965.4" cy="595.8" r="3.1"/><circle cx="1015" cy="602.4" r="3.1"/><circle cx="942" cy="586.8" r="3.1"/><circle cx="950.7" cy="635" r="3.1"/><circle cx="981.7" cy="561.2" r="3.1"/><circle cx="954.7" cy="621.6" r="3.1"/><circle cx="1000.1" cy="628" r="3.1"/><circle cx="900.8" cy="663.9" r="3.1"/><circle cx="1039.6" cy="553.1" r="3.1"/><circle cx="919.2" cy="671.9" r="3.1"/><circle cx="948.1" cy="628.9" r="3.1"/><circle cx="896.5" cy="663.2" r="3.1"/><circle cx="988.9" cy="594.5" r="3.1"/><circle cx="1030.1" cy="642.1" r="3.1"/><circle cx="1017" cy="615.3" r="3.1"/><circle cx="1002.5" cy="617.3" r="3.1"/><circle cx="890.8" cy="648.3" r="3.1"/><circle cx="919.2" cy="674.7" r="3.1"/><circle cx="933.6" cy="609.1" r="3.1"/></g>
<path d="M854.3,697.6 L860.7,693.5 L867.1,689.4 L873.5,685.3 L879.8,681.1 L886.2,677 L892.6,672.9 L899,668.7 L905.4,664.6 L911.8,660.4 L918.2,656.2 L924.6,652 L930.9,647.8 L937.3,643.5 L943.7,639.2 L950.1,634.9 L956.5,630.5 L962.9,626.1 L969.3,621.6 L975.7,617.1 L982,612.5 L988.4,607.9 L994.8,603.3 L1001.2,598.6 L1007.6,593.9 L1014,589.2 L1020.4,584.5 L1026.8,579.8 L1033.1,575.1 L1039.5,570.3 L1045.9,565.6 L1052.3,560.8 L1058.7,556.1 L1065.1,551.3 L1071.5,546.5 L1077.9,541.8 L1084.2,537 L1090.6,532.2 L1097,527.5 L1103.4,522.7 L1103.4,539.3 L1097,543.4 L1090.6,547.5 L1084.2,551.6 L1077.9,555.7 L1071.5,559.8 L1065.1,563.9 L1058.7,568 L1052.3,572.2 L1045.9,576.3 L1039.5,580.4 L1033.1,584.5 L1026.8,588.7 L1020.4,592.8 L1014,597 L1007.6,601.1 L1001.2,605.3 L994.8,609.5 L988.4,613.8 L982,618.1 L975.7,622.4 L969.3,626.7 L962.9,631.1 L956.5,635.5 L950.1,640 L943.7,644.6 L937.3,649.1 L930.9,653.8 L924.6,658.4 L918.2,663.1 L911.8,667.8 L905.4,672.5 L899,677.2 L892.6,681.9 L886.2,686.6 L879.8,691.4 L873.5,696.1 L867.1,700.9 L860.7,705.6 L854.3,710.4 Z" fill="rgba(153,153,153,0.45)"/>
<line x1="854.3" y1="704" x2="1103.4" y2="531" stroke="#e8322a" stroke-width="2.3"/>
<path d="M854.4,493.4 L854.4,492.3 L856,491.9 L857.5,491.5 L859.1,491 L860.7,490.4 L862.2,489.8 L863.8,489.1 L865.3,488.4 L866.9,487.6 L868.5,486.8 L870,486 L871.6,485.2 L873.2,484.2 L874.7,483.1 L876.3,481.9 L877.9,480.7 L879.4,479.3 L881,478 L882.6,476.6 L884.1,475.2 L885.7,473.9 L887.2,472.6 L888.8,471.4 L890.4,470.1 L891.9,468.9 L893.5,467.6 L895.1,466.4 L896.6,465.2 L898.2,464 L899.8,462.8 L901.3,461.7 L902.9,460.6 L904.5,459.6 L906,458.7 L907.6,457.8 L909.1,456.8 L910.7,456 L912.3,455.1 L913.8,454.3 L915.4,453.5 L917,452.8 L918.5,452.1 L920.1,451.5 L921.7,451 L923.2,450.5 L924.8,450 L926.4,449.5 L927.9,449 L929.5,448.6 L931,448.1 L932.6,447.8 L934.2,447.4 L935.7,447.2 L937.3,446.9 L938.9,446.8 L940.4,446.6 L942,446.4 L943.6,446.3 L945.1,446.2 L946.7,446.1 L948.2,446 L949.8,446 L951.4,446 L952.9,446.1 L954.5,446.2 L956.1,446.4 L957.6,446.6 L959.2,446.8 L960.8,447.1 L962.3,447.4 L963.9,447.7 L965.5,448 L967,448.5 L968.6,449 L970.1,449.7 L971.7,450.4 L973.3,451.1 L974.8,451.8 L976.4,452.6 L978,453.3 L979.5,454 L981.1,454.7 L982.7,455.4 L984.2,456 L985.8,456.7 L987.4,457.4 L988.9,458.1 L990.5,458.8 L992,459.5 L993.6,460.2 L995.2,461 L996.7,461.7 L998.3,462.4 L999.9,463.2 L1001.4,464 L1003,464.8 L1004.6,465.6 L1006.1,466.5 L1007.7,467.3 L1009.3,468.1 L1010.8,468.8 L1012.4,469.6 L1013.9,470.3 L1015.5,471 L1017.1,471.6 L1018.6,472.3 L1020.2,472.9 L1021.8,473.6 L1023.3,474.2 L1024.9,474.8 L1026.5,475.3 L1028,475.9 L1029.6,476.3 L1031.1,476.8 L1032.7,477.2 L1034.3,477.6 L1035.8,478 L1037.4,478.3 L1039,478.6 L1040.5,478.9 L1042.1,479.3 L1043.7,479.6 L1045.2,479.9 L1046.8,480.2 L1048.4,480.6 L1049.9,480.9 L1051.5,481.3 L1053,481.6 L1054.6,481.9 L1056.2,482.3 L1057.7,482.6 L1059.3,483 L1060.9,483.3 L1062.4,483.7 L1064,484 L1065.6,484.4 L1067.1,484.7 L1068.7,485.1 L1070.3,485.5 L1071.8,485.9 L1073.4,486.2 L1074.9,486.6 L1076.5,487 L1078.1,487.3 L1079.6,487.7 L1081.2,488 L1082.8,488.3 L1084.3,488.6 L1085.9,489 L1087.5,489.3 L1089,489.6 L1090.6,489.9 L1092.2,490.2 L1093.7,490.5 L1095.3,490.8 L1096.8,491 L1098.4,491.3 L1100,491.6 L1101.5,491.8 L1103.1,492.1 L1103.1,493.4 Z" fill="#3ab3d3"/>
<path d="M854.4,492.3 L856,491.9 L857.5,491.5 L859.1,491 L860.7,490.4 L862.2,489.8 L863.8,489.1 L865.3,488.4 L866.9,487.6 L868.5,486.8 L870,486 L871.6,485.2 L873.2,484.2 L874.7,483.1 L876.3,481.9 L877.9,480.7 L879.4,479.3 L881,478 L882.6,476.6 L884.1,475.2 L885.7,473.9 L887.2,472.6 L888.8,471.4 L890.4,470.1 L891.9,468.9 L893.5,467.6 L895.1,466.4 L896.6,465.2 L898.2,464 L899.8,462.8 L901.3,461.7 L902.9,460.6 L904.5,459.6 L906,458.7 L907.6,457.8 L909.1,456.8 L910.7,456 L912.3,455.1 L913.8,454.3 L915.4,453.5 L917,452.8 L918.5,452.1 L920.1,451.5 L921.7,451 L923.2,450.5 L924.8,450 L926.4,449.5 L927.9,449 L929.5,448.6 L931,448.1 L932.6,447.8 L934.2,447.4 L935.7,447.2 L937.3,446.9 L938.9,446.8 L940.4,446.6 L942,446.4 L943.6,446.3 L945.1,446.2 L946.7,446.1 L948.2,446 L949.8,446 L951.4,446 L952.9,446.1 L954.5,446.2 L956.1,446.4 L957.6,446.6 L959.2,446.8 L960.8,447.1 L962.3,447.4 L963.9,447.7 L965.5,448 L967,448.5 L968.6,449 L970.1,449.7 L971.7,450.4 L973.3,451.1 L974.8,451.8 L976.4,452.6 L978,453.3 L979.5,454 L981.1,454.7 L982.7,455.4 L984.2,456 L985.8,456.7 L987.4,457.4 L988.9,458.1 L990.5,458.8 L992,459.5 L993.6,460.2 L995.2,461 L996.7,461.7 L998.3,462.4 L999.9,463.2 L1001.4,464 L1003,464.8 L1004.6,465.6 L1006.1,466.5 L1007.7,467.3 L1009.3,468.1 L1010.8,468.8 L1012.4,469.6 L1013.9,470.3 L1015.5,471 L1017.1,471.6 L1018.6,472.3 L1020.2,472.9 L1021.8,473.6 L1023.3,474.2 L1024.9,474.8 L1026.5,475.3 L1028,475.9 L1029.6,476.3 L1031.1,476.8 L1032.7,477.2 L1034.3,477.6 L1035.8,478 L1037.4,478.3 L1039,478.6 L1040.5,478.9 L1042.1,479.3 L1043.7,479.6 L1045.2,479.9 L1046.8,480.2 L1048.4,480.6 L1049.9,480.9 L1051.5,481.3 L1053,481.6 L1054.6,481.9 L1056.2,482.3 L1057.7,482.6 L1059.3,483 L1060.9,483.3 L1062.4,483.7 L1064,484 L1065.6,484.4 L1067.1,484.7 L1068.7,485.1 L1070.3,485.5 L1071.8,485.9 L1073.4,486.2 L1074.9,486.6 L1076.5,487 L1078.1,487.3 L1079.6,487.7 L1081.2,488 L1082.8,488.3 L1084.3,488.6 L1085.9,489 L1087.5,489.3 L1089,489.6 L1090.6,489.9 L1092.2,490.2 L1093.7,490.5 L1095.3,490.8 L1096.8,491 L1098.4,491.3 L1100,491.6 L1101.5,491.8 L1103.1,492.1" fill="none" stroke="#000" stroke-width="1.3"/>
<path d="M1110.8,499.6 L1111.6,499.6 L1111.9,501.2 L1112.1,502.8 L1112.4,504.4 L1112.7,506 L1113.1,507.6 L1113.4,509.1 L1113.8,510.7 L1114.2,512.3 L1114.6,513.9 L1115,515.5 L1115.5,517.1 L1115.9,518.7 L1116.4,520.3 L1117,521.9 L1117.5,523.5 L1118.1,525 L1118.7,526.6 L1119.3,528.2 L1120,529.8 L1120.7,531.4 L1121.4,533 L1122.2,534.6 L1123.1,536.2 L1123.9,537.8 L1124.8,539.4 L1125.7,541 L1126.6,542.5 L1127.5,544.1 L1128.5,545.7 L1129.6,547.3 L1130.6,548.9 L1131.6,550.5 L1132.7,552.1 L1133.7,553.7 L1134.7,555.3 L1135.8,556.9 L1136.9,558.5 L1138,560 L1139.1,561.6 L1140,563.2 L1140.8,564.8 L1141.5,566.4 L1142.2,568 L1142.8,569.6 L1143.3,571.2 L1143.9,572.8 L1144.3,574.4 L1144.8,575.9 L1145.2,577.5 L1145.5,579.1 L1145.8,580.7 L1146.1,582.3 L1146.3,583.9 L1146.6,585.5 L1146.9,587.1 L1147.2,588.7 L1147.6,590.3 L1148,591.9 L1148.6,593.4 L1149.4,595 L1150.2,596.6 L1151.2,598.2 L1152,599.8 L1152.8,601.4 L1153.4,603 L1154,604.6 L1154.5,606.2 L1155.1,607.8 L1155.5,609.3 L1156,610.9 L1156.3,612.5 L1156.6,614.1 L1156.8,615.7 L1157,617.3 L1157.2,618.9 L1157.4,620.5 L1157.5,622.1 L1157.6,623.7 L1157.7,625.3 L1157.9,626.8 L1158,628.4 L1158,630 L1158.1,631.6 L1158.1,633.2 L1158.1,634.8 L1158,636.4 L1157.8,638 L1157.6,639.6 L1157.4,641.2 L1157.1,642.8 L1156.9,644.3 L1156.6,645.9 L1156.3,647.5 L1156,649.1 L1155.6,650.7 L1155.1,652.3 L1154.6,653.9 L1154,655.5 L1153.6,657.1 L1153.1,658.7 L1152.8,660.2 L1152.4,661.8 L1152.1,663.4 L1151.8,665 L1151.6,666.6 L1151.3,668.2 L1151.2,669.8 L1151.1,671.4 L1151,673 L1150.9,674.6 L1150.8,676.2 L1150.8,677.7 L1150.7,679.3 L1150.6,680.9 L1150.4,682.5 L1150.2,684.1 L1149.7,685.7 L1149,687.3 L1148.3,688.9 L1147.4,690.5 L1146.6,692.1 L1145.7,693.6 L1144.7,695.2 L1143.7,696.8 L1142.5,698.4 L1141.3,700 L1140.1,701.6 L1138.8,703.2 L1137.5,704.8 L1136.2,706.4 L1134.8,708 L1133.4,709.6 L1132,711.1 L1130.6,712.7 L1129.2,714.3 L1127.9,715.9 L1126.7,717.5 L1125.5,719.1 L1124.3,720.7 L1123.1,722.3 L1122,723.9 L1121,725.5 L1120,727.1 L1119.2,728.6 L1118.4,730.2 L1117.6,731.8 L1116.9,733.4 L1116.3,735 L1115.7,736.6 L1115.1,738.2 L1114.6,739.8 L1114.1,741.4 L1113.6,743 L1113.2,744.5 L1112.7,746.1 L1112.3,747.7 L1112,749.3 L1111.7,750.9 L1111.4,752.5 L1110.8,752.5 Z" fill="#3ab3d3"/>
<path d="M1111.6,499.6 L1111.9,501.2 L1112.1,502.8 L1112.4,504.4 L1112.7,506 L1113.1,507.6 L1113.4,509.1 L1113.8,510.7 L1114.2,512.3 L1114.6,513.9 L1115,515.5 L1115.5,517.1 L1115.9,518.7 L1116.4,520.3 L1117,521.9 L1117.5,523.5 L1118.1,525 L1118.7,526.6 L1119.3,528.2 L1120,529.8 L1120.7,531.4 L1121.4,533 L1122.2,534.6 L1123.1,536.2 L1123.9,537.8 L1124.8,539.4 L1125.7,541 L1126.6,542.5 L1127.5,544.1 L1128.5,545.7 L1129.6,547.3 L1130.6,548.9 L1131.6,550.5 L1132.7,552.1 L1133.7,553.7 L1134.7,555.3 L1135.8,556.9 L1136.9,558.5 L1138,560 L1139.1,561.6 L1140,563.2 L1140.8,564.8 L1141.5,566.4 L1142.2,568 L1142.8,569.6 L1143.3,571.2 L1143.9,572.8 L1144.3,574.4 L1144.8,575.9 L1145.2,577.5 L1145.5,579.1 L1145.8,580.7 L1146.1,582.3 L1146.3,583.9 L1146.6,585.5 L1146.9,587.1 L1147.2,588.7 L1147.6,590.3 L1148,591.9 L1148.6,593.4 L1149.4,595 L1150.2,596.6 L1151.2,598.2 L1152,599.8 L1152.8,601.4 L1153.4,603 L1154,604.6 L1154.5,606.2 L1155.1,607.8 L1155.5,609.3 L1156,610.9 L1156.3,612.5 L1156.6,614.1 L1156.8,615.7 L1157,617.3 L1157.2,618.9 L1157.4,620.5 L1157.5,622.1 L1157.6,623.7 L1157.7,625.3 L1157.9,626.8 L1158,628.4 L1158,630 L1158.1,631.6 L1158.1,633.2 L1158.1,634.8 L1158,636.4 L1157.8,638 L1157.6,639.6 L1157.4,641.2 L1157.1,642.8 L1156.9,644.3 L1156.6,645.9 L1156.3,647.5 L1156,649.1 L1155.6,650.7 L1155.1,652.3 L1154.6,653.9 L1154,655.5 L1153.6,657.1 L1153.1,658.7 L1152.8,660.2 L1152.4,661.8 L1152.1,663.4 L1151.8,665 L1151.6,666.6 L1151.3,668.2 L1151.2,669.8 L1151.1,671.4 L1151,673 L1150.9,674.6 L1150.8,676.2 L1150.8,677.7 L1150.7,679.3 L1150.6,680.9 L1150.4,682.5 L1150.2,684.1 L1149.7,685.7 L1149,687.3 L1148.3,688.9 L1147.4,690.5 L1146.6,692.1 L1145.7,693.6 L1144.7,695.2 L1143.7,696.8 L1142.5,698.4 L1141.3,700 L1140.1,701.6 L1138.8,703.2 L1137.5,704.8 L1136.2,706.4 L1134.8,708 L1133.4,709.6 L1132,711.1 L1130.6,712.7 L1129.2,714.3 L1127.9,715.9 L1126.7,717.5 L1125.5,719.1 L1124.3,720.7 L1123.1,722.3 L1122,723.9 L1121,725.5 L1120,727.1 L1119.2,728.6 L1118.4,730.2 L1117.6,731.8 L1116.9,733.4 L1116.3,735 L1115.7,736.6 L1115.1,738.2 L1114.6,739.8 L1114.1,741.4 L1113.6,743 L1113.2,744.5 L1112.7,746.1 L1112.3,747.7 L1112,749.3 L1111.7,750.9 L1111.4,752.5" fill="none" stroke="#000" stroke-width="1.3"/>
<rect x="846.7" y="493.4" width="264.1" height="266.5" fill="none" stroke="#000" stroke-width="2"/>
<line x1="838.7" y1="760" x2="846.7" y2="760" stroke="#000" stroke-width="1.9"/>
<text x="831.7" y="767.3" font-size="20.5" text-anchor="end">4</text>
<line x1="838.7" y1="700" x2="846.7" y2="700" stroke="#000" stroke-width="1.9"/>
<text x="831.7" y="707.3" font-size="20.5" text-anchor="end">6</text>
<line x1="838.7" y1="640" x2="846.7" y2="640" stroke="#000" stroke-width="1.9"/>
<text x="831.7" y="647.3" font-size="20.5" text-anchor="end">8</text>
<line x1="838.7" y1="580" x2="846.7" y2="580" stroke="#000" stroke-width="1.9"/>
<text x="831.7" y="587.3" font-size="20.5" text-anchor="end">10</text>
<line x1="838.7" y1="520" x2="846.7" y2="520" stroke="#000" stroke-width="1.9"/>
<text x="831.7" y="527.3" font-size="20.5" text-anchor="end">12</text>
<line x1="887.4" y1="759.9" x2="887.4" y2="767.9" stroke="#000" stroke-width="1.9"/>
<text x="887.4" y="786.5" font-size="20.5" text-anchor="middle">2</text>
<line x1="954.8" y1="759.9" x2="954.8" y2="767.9" stroke="#000" stroke-width="1.9"/>
<text x="954.8" y="786.5" font-size="20.5" text-anchor="middle">4</text>
<line x1="1022.1" y1="759.9" x2="1022.1" y2="767.9" stroke="#000" stroke-width="1.9"/>
<text x="1022.1" y="786.5" font-size="20.5" text-anchor="middle">6</text>
<line x1="1089.4" y1="759.9" x2="1089.4" y2="767.9" stroke="#000" stroke-width="1.9"/>
<text x="1089.4" y="786.5" font-size="20.5" text-anchor="middle">8</text>
<text x="854.1" y="516.1" font-size="21.5" text-anchor="start">Spearman</text>
<text x="854.1" y="545.8" font-size="21.5" text-anchor="start">r = 0.725</text>
<text x="854.1" y="575.4" font-size="21.5" text-anchor="start">P &lt; 0.001</text>
<text x="879.4" y="817.8" font-size="23.7" text-anchor="start">PLEKHA4 expression</text>
<text x="913.5" y="841.7" font-size="23.5">Log<tspan font-size="18.8" dy="6.5">2</tspan><tspan dy="-6.5"> (TPM+1)</tspan></text>
<text x="771.5" y="620" font-size="23.7" text-anchor="middle" transform="rotate(-90 771.5 620)">VIM&#160;&#160;expression</text>
<text x="795.2" y="618.6" font-size="23.5" text-anchor="middle" transform="rotate(-90 795.2 618.6)">Log<tspan font-size="20" dy="7">2</tspan><tspan dy="-7">&#8201;(TPM+1)</tspan></text>
<g fill="rgba(33,171,207,0.88)"><circle cx="1358.1" cy="716.4" r="3.1"/><circle cx="1337.4" cy="691.4" r="3.1"/><circle cx="1384.9" cy="661.9" r="3.1"/><circle cx="1421.2" cy="595.6" r="3.1"/><circle cx="1467" cy="568.8" r="3.1"/><circle cx="1403.7" cy="604.9" r="3.1"/><circle cx="1369.7" cy="599.9" r="3.1"/><circle cx="1358.9" cy="731.1" r="3.1"/><circle cx="1441.2" cy="687.8" r="3.1"/><circle cx="1499.1" cy="573.2" r="3.1"/><circle cx="1412.7" cy="650.5" r="3.1"/><circle cx="1340.7" cy="688" r="3.1"/><circle cx="1351.4" cy="748.1" r="3.1"/><circle cx="1497.1" cy="731" r="3.1"/><circle cx="1408.8" cy="624.2" r="3.1"/><circle cx="1324.2" cy="679.3" r="3.1"/><circle cx="1393.4" cy="687" r="3.1"/><circle cx="1343.3" cy="706.9" r="3.1"/><circle cx="1366.1" cy="743.3" r="3.1"/><circle cx="1372.9" cy="658.7" r="3.1"/><circle cx="1362.1" cy="622" r="3.1"/><circle cx="1429.1" cy="562.7" r="3.1"/><circle cx="1394.5" cy="669.4" r="3.1"/><circle cx="1367.9" cy="689.7" r="3.1"/><circle cx="1420.6" cy="716.3" r="3.1"/><circle cx="1446.4" cy="582.3" r="3.1"/><circle cx="1326.9" cy="596.9" r="3.1"/><circle cx="1384.5" cy="704.1" r="3.1"/><circle cx="1350.5" cy="670.8" r="3.1"/><circle cx="1388.8" cy="668.9" r="3.1"/><circle cx="1338.6" cy="715.3" r="3.1"/><circle cx="1398.9" cy="750.2" r="3.1"/><circle cx="1395.8" cy="689.7" r="3.1"/><circle cx="1382" cy="641.4" r="3.1"/><circle cx="1347.8" cy="740.2" r="3.1"/><circle cx="1377.4" cy="715.4" r="3.1"/><circle cx="1346" cy="752.9" r="3.1"/><circle cx="1336.3" cy="618" r="3.1"/><circle cx="1410" cy="638.4" r="3.1"/><circle cx="1345.3" cy="685" r="3.1"/><circle cx="1469.4" cy="667.3" r="3.1"/><circle cx="1439.2" cy="692.2" r="3.1"/><circle cx="1316.8" cy="702.9" r="3.1"/><circle cx="1412.6" cy="682.7" r="3.1"/><circle cx="1345.6" cy="698.7" r="3.1"/><circle cx="1399.6" cy="672.3" r="3.1"/><circle cx="1400.1" cy="663.7" r="3.1"/><circle cx="1317" cy="613.1" r="3.1"/><circle cx="1385.7" cy="734.6" r="3.1"/><circle cx="1384.5" cy="661" r="3.1"/><circle cx="1455.2" cy="688.2" r="3.1"/><circle cx="1342.6" cy="733.7" r="3.1"/><circle cx="1440.6" cy="746.9" r="3.1"/><circle cx="1345.7" cy="655.4" r="3.1"/><circle cx="1380.7" cy="720.6" r="3.1"/><circle cx="1356.4" cy="717.5" r="3.1"/><circle cx="1488.1" cy="618.5" r="3.1"/><circle cx="1430" cy="714.4" r="3.1"/><circle cx="1533.5" cy="628.3" r="3.1"/><circle cx="1434.5" cy="665.6" r="3.1"/><circle cx="1447.4" cy="608.7" r="3.1"/><circle cx="1447.1" cy="595.8" r="3.1"/><circle cx="1367.1" cy="719.4" r="3.1"/><circle cx="1394.1" cy="618.2" r="3.1"/><circle cx="1481.7" cy="655.3" r="3.1"/><circle cx="1377.4" cy="671.2" r="3.1"/><circle cx="1408" cy="679.5" r="3.1"/><circle cx="1396.7" cy="626.2" r="3.1"/><circle cx="1432.5" cy="719" r="3.1"/><circle cx="1379" cy="663.4" r="3.1"/><circle cx="1389.8" cy="603.6" r="3.1"/><circle cx="1411" cy="682.3" r="3.1"/><circle cx="1403.3" cy="549.2" r="3.1"/><circle cx="1355.4" cy="717.2" r="3.1"/><circle cx="1450.7" cy="644.7" r="3.1"/><circle cx="1338.3" cy="712" r="3.1"/><circle cx="1341.9" cy="716.4" r="3.1"/><circle cx="1338.9" cy="734.1" r="3.1"/><circle cx="1455.5" cy="684.5" r="3.1"/><circle cx="1379.2" cy="679.5" r="3.1"/><circle cx="1350.9" cy="721" r="3.1"/><circle cx="1344.3" cy="640" r="3.1"/><circle cx="1421.2" cy="572.4" r="3.1"/><circle cx="1347.5" cy="742.1" r="3.1"/><circle cx="1339.3" cy="645.4" r="3.1"/><circle cx="1432.8" cy="651.2" r="3.1"/><circle cx="1342" cy="676.9" r="3.1"/><circle cx="1381.1" cy="533.8" r="3.1"/><circle cx="1397.4" cy="599.1" r="3.1"/><circle cx="1375" cy="660.6" r="3.1"/><circle cx="1394.9" cy="662.6" r="3.1"/><circle cx="1480.9" cy="740.7" r="3.1"/><circle cx="1371.4" cy="634.9" r="3.1"/><circle cx="1339.7" cy="721.7" r="3.1"/><circle cx="1321.2" cy="688.9" r="3.1"/><circle cx="1387.1" cy="669" r="3.1"/><circle cx="1379.6" cy="620" r="3.1"/><circle cx="1412.3" cy="546" r="3.1"/><circle cx="1374" cy="620.6" r="3.1"/><circle cx="1373.3" cy="602.8" r="3.1"/><circle cx="1361.8" cy="693" r="3.1"/><circle cx="1371.3" cy="654.3" r="3.1"/><circle cx="1406.4" cy="622.6" r="3.1"/><circle cx="1378.2" cy="735.5" r="3.1"/><circle cx="1403.2" cy="547.9" r="3.1"/><circle cx="1513.1" cy="679.2" r="3.1"/><circle cx="1424.7" cy="722.5" r="3.1"/><circle cx="1329" cy="600.2" r="3.1"/><circle cx="1504.6" cy="523.1" r="3.1"/><circle cx="1417" cy="700.2" r="3.1"/><circle cx="1352.1" cy="712.7" r="3.1"/><circle cx="1451.5" cy="505.2" r="3.1"/><circle cx="1398.7" cy="664.8" r="3.1"/><circle cx="1366.7" cy="747" r="3.1"/><circle cx="1365.9" cy="708.8" r="3.1"/><circle cx="1350" cy="567.9" r="3.1"/><circle cx="1400.4" cy="631.6" r="3.1"/><circle cx="1462.4" cy="607.1" r="3.1"/><circle cx="1381" cy="603" r="3.1"/><circle cx="1421.2" cy="623.7" r="3.1"/><circle cx="1511.9" cy="659.5" r="3.1"/><circle cx="1341.4" cy="743.9" r="3.1"/><circle cx="1411.8" cy="641.2" r="3.1"/><circle cx="1381.9" cy="724.9" r="3.1"/><circle cx="1347.3" cy="689.2" r="3.1"/><circle cx="1348.6" cy="582.7" r="3.1"/><circle cx="1397" cy="640.3" r="3.1"/><circle cx="1422" cy="661.1" r="3.1"/><circle cx="1370.7" cy="675.6" r="3.1"/><circle cx="1400.7" cy="627" r="3.1"/><circle cx="1439.6" cy="602.9" r="3.1"/><circle cx="1414" cy="725.8" r="3.1"/><circle cx="1449" cy="646.3" r="3.1"/><circle cx="1423.6" cy="560.1" r="3.1"/><circle cx="1425.2" cy="617.6" r="3.1"/><circle cx="1509.4" cy="682.7" r="3.1"/><circle cx="1433.4" cy="695.4" r="3.1"/><circle cx="1404.8" cy="745.1" r="3.1"/><circle cx="1438.8" cy="699.5" r="3.1"/><circle cx="1353.1" cy="590" r="3.1"/><circle cx="1380.3" cy="679.6" r="3.1"/><circle cx="1444.1" cy="701.2" r="3.1"/><circle cx="1433.9" cy="690.5" r="3.1"/><circle cx="1494.1" cy="652.2" r="3.1"/><circle cx="1398.4" cy="676.3" r="3.1"/><circle cx="1332.7" cy="708.1" r="3.1"/><circle cx="1515.3" cy="681.2" r="3.1"/><circle cx="1464.1" cy="613.9" r="3.1"/><circle cx="1347.3" cy="596.8" r="3.1"/><circle cx="1483.4" cy="679.5" r="3.1"/><circle cx="1399.5" cy="697" r="3.1"/><circle cx="1321.8" cy="632.4" r="3.1"/><circle cx="1376.2" cy="736.4" r="3.1"/><circle cx="1371.8" cy="706.3" r="3.1"/><circle cx="1496.6" cy="666.5" r="3.1"/><circle cx="1358.6" cy="674.3" r="3.1"/><circle cx="1384.6" cy="688.4" r="3.1"/><circle cx="1383.4" cy="716" r="3.1"/><circle cx="1378.3" cy="660.3" r="3.1"/><circle cx="1353.3" cy="732.8" r="3.1"/><circle cx="1409.7" cy="738.6" r="3.1"/><circle cx="1463" cy="739.4" r="3.1"/><circle cx="1433.4" cy="615.4" r="3.1"/><circle cx="1352.7" cy="744.9" r="3.1"/><circle cx="1343.8" cy="665.1" r="3.1"/><circle cx="1404.2" cy="629.6" r="3.1"/><circle cx="1362.4" cy="636.2" r="3.1"/><circle cx="1366" cy="688.9" r="3.1"/><circle cx="1325.8" cy="718.8" r="3.1"/><circle cx="1515.4" cy="632.8" r="3.1"/><circle cx="1452.1" cy="687.3" r="3.1"/><circle cx="1350.8" cy="736" r="3.1"/><circle cx="1451.6" cy="579" r="3.1"/><circle cx="1481.2" cy="695.7" r="3.1"/><circle cx="1307" cy="605" r="3.1"/><circle cx="1369.9" cy="651.4" r="3.1"/><circle cx="1377.8" cy="698.7" r="3.1"/><circle cx="1434.9" cy="634.6" r="3.1"/><circle cx="1391.4" cy="599" r="3.1"/><circle cx="1385.8" cy="732.6" r="3.1"/><circle cx="1394.7" cy="715" r="3.1"/><circle cx="1510.8" cy="695.9" r="3.1"/><circle cx="1524.3" cy="623.9" r="3.1"/><circle cx="1371.1" cy="657.4" r="3.1"/><circle cx="1352.8" cy="683.2" r="3.1"/><circle cx="1540" cy="668" r="3.1"/><circle cx="1350.5" cy="709.6" r="3.1"/><circle cx="1368.7" cy="609.9" r="3.1"/><circle cx="1399.8" cy="603.2" r="3.1"/><circle cx="1424.9" cy="656.2" r="3.1"/><circle cx="1459.7" cy="717.7" r="3.1"/><circle cx="1419.5" cy="627.2" r="3.1"/><circle cx="1355.1" cy="669.3" r="3.1"/><circle cx="1426.3" cy="648.6" r="3.1"/><circle cx="1411.4" cy="562.8" r="3.1"/><circle cx="1511.9" cy="588.2" r="3.1"/><circle cx="1397" cy="716.4" r="3.1"/><circle cx="1337" cy="729.8" r="3.1"/><circle cx="1347.9" cy="606.4" r="3.1"/><circle cx="1488.1" cy="634.4" r="3.1"/><circle cx="1370.3" cy="628" r="3.1"/><circle cx="1313.9" cy="705.5" r="3.1"/><circle cx="1368.4" cy="721.8" r="3.1"/><circle cx="1397.8" cy="653.2" r="3.1"/><circle cx="1470.7" cy="553.7" r="3.1"/><circle cx="1349.1" cy="665.6" r="3.1"/><circle cx="1436.1" cy="712" r="3.1"/><circle cx="1444.2" cy="671.7" r="3.1"/><circle cx="1362.8" cy="701.6" r="3.1"/><circle cx="1388" cy="660.7" r="3.1"/><circle cx="1506.5" cy="573.5" r="3.1"/><circle cx="1503.9" cy="525.6" r="3.1"/><circle cx="1448.1" cy="638.5" r="3.1"/><circle cx="1416" cy="683.1" r="3.1"/><circle cx="1467.2" cy="642.3" r="3.1"/><circle cx="1390.4" cy="667.3" r="3.1"/><circle cx="1392.8" cy="688.8" r="3.1"/><circle cx="1355.6" cy="677.8" r="3.1"/><circle cx="1398.1" cy="665.9" r="3.1"/><circle cx="1393.5" cy="721.3" r="3.1"/><circle cx="1541.7" cy="583.1" r="3.1"/><circle cx="1387.7" cy="687.1" r="3.1"/><circle cx="1476.4" cy="696.3" r="3.1"/><circle cx="1479.7" cy="612.9" r="3.1"/><circle cx="1388.1" cy="693" r="3.1"/><circle cx="1469.4" cy="542.3" r="3.1"/><circle cx="1312.1" cy="674.3" r="3.1"/><circle cx="1402.9" cy="660.5" r="3.1"/><circle cx="1448.2" cy="691.6" r="3.1"/><circle cx="1306.9" cy="718" r="3.1"/><circle cx="1343.4" cy="636.4" r="3.1"/><circle cx="1461.5" cy="685.8" r="3.1"/><circle cx="1384.5" cy="625.6" r="3.1"/><circle cx="1345.8" cy="748.9" r="3.1"/><circle cx="1378.5" cy="661.9" r="3.1"/><circle cx="1370.2" cy="627.6" r="3.1"/><circle cx="1439.7" cy="634.5" r="3.1"/><circle cx="1423.2" cy="660" r="3.1"/><circle cx="1383.3" cy="610.8" r="3.1"/><circle cx="1364.4" cy="716.2" r="3.1"/><circle cx="1395" cy="714.2" r="3.1"/><circle cx="1480" cy="638.3" r="3.1"/><circle cx="1417" cy="587.5" r="3.1"/><circle cx="1434.4" cy="630.4" r="3.1"/><circle cx="1389.9" cy="679.3" r="3.1"/><circle cx="1338.6" cy="671.1" r="3.1"/><circle cx="1362.3" cy="654" r="3.1"/><circle cx="1435.1" cy="716.5" r="3.1"/><circle cx="1403.3" cy="751.4" r="3.1"/><circle cx="1353.7" cy="725.2" r="3.1"/><circle cx="1327.7" cy="743" r="3.1"/><circle cx="1403.7" cy="694.3" r="3.1"/><circle cx="1380.3" cy="725.7" r="3.1"/><circle cx="1379.7" cy="712.9" r="3.1"/><circle cx="1380.8" cy="647.9" r="3.1"/><circle cx="1413.3" cy="657.1" r="3.1"/><circle cx="1413.9" cy="663.6" r="3.1"/><circle cx="1455.2" cy="550.6" r="3.1"/><circle cx="1452.9" cy="676.5" r="3.1"/><circle cx="1480.5" cy="666.2" r="3.1"/><circle cx="1444.9" cy="575.1" r="3.1"/><circle cx="1380.5" cy="722" r="3.1"/><circle cx="1394.9" cy="735.7" r="3.1"/><circle cx="1425.6" cy="577.8" r="3.1"/><circle cx="1381.7" cy="652.3" r="3.1"/><circle cx="1428.9" cy="620.2" r="3.1"/><circle cx="1468.3" cy="606.8" r="3.1"/><circle cx="1358.2" cy="625.7" r="3.1"/><circle cx="1323.1" cy="712.8" r="3.1"/><circle cx="1471" cy="650.3" r="3.1"/><circle cx="1398.7" cy="717.5" r="3.1"/><circle cx="1438.7" cy="645.6" r="3.1"/><circle cx="1337.1" cy="673.7" r="3.1"/><circle cx="1504.5" cy="662.5" r="3.1"/><circle cx="1440.6" cy="611.6" r="3.1"/><circle cx="1391.2" cy="511.5" r="3.1"/><circle cx="1379.6" cy="722.7" r="3.1"/><circle cx="1403.9" cy="612.5" r="3.1"/><circle cx="1389.1" cy="610.4" r="3.1"/><circle cx="1383.3" cy="604.6" r="3.1"/><circle cx="1344.9" cy="717.6" r="3.1"/><circle cx="1475.8" cy="569.2" r="3.1"/><circle cx="1395.7" cy="625.5" r="3.1"/><circle cx="1401.8" cy="669.6" r="3.1"/><circle cx="1402.8" cy="680.3" r="3.1"/><circle cx="1307.7" cy="686.4" r="3.1"/><circle cx="1427.5" cy="597.1" r="3.1"/><circle cx="1380.8" cy="615.6" r="3.1"/><circle cx="1382.8" cy="534.2" r="3.1"/><circle cx="1401.5" cy="680.5" r="3.1"/><circle cx="1350.8" cy="643.4" r="3.1"/><circle cx="1447.3" cy="672.7" r="3.1"/><circle cx="1362.9" cy="627.8" r="3.1"/><circle cx="1353.7" cy="669.8" r="3.1"/><circle cx="1355.5" cy="704.3" r="3.1"/><circle cx="1406.4" cy="722" r="3.1"/><circle cx="1441" cy="690.6" r="3.1"/><circle cx="1367.7" cy="659" r="3.1"/><circle cx="1331.1" cy="599.5" r="3.1"/><circle cx="1462" cy="596.1" r="3.1"/><circle cx="1347.1" cy="729.8" r="3.1"/><circle cx="1471.1" cy="670.2" r="3.1"/><circle cx="1394.9" cy="662" r="3.1"/><circle cx="1362.8" cy="680.8" r="3.1"/><circle cx="1365.5" cy="670.8" r="3.1"/><circle cx="1423.6" cy="609.5" r="3.1"/><circle cx="1450.3" cy="637.9" r="3.1"/><circle cx="1387.5" cy="702.8" r="3.1"/><circle cx="1454.1" cy="735.9" r="3.1"/><circle cx="1521.4" cy="652" r="3.1"/><circle cx="1387" cy="738.5" r="3.1"/><circle cx="1343.8" cy="692.7" r="3.1"/><circle cx="1347.5" cy="668.1" r="3.1"/><circle cx="1335.1" cy="739.2" r="3.1"/><circle cx="1365.6" cy="686.2" r="3.1"/><circle cx="1361.7" cy="697.3" r="3.1"/><circle cx="1337.4" cy="579.1" r="3.1"/><circle cx="1427.7" cy="636" r="3.1"/><circle cx="1302.5" cy="751.2" r="3.1"/><circle cx="1337.5" cy="669.2" r="3.1"/><circle cx="1518.3" cy="612.7" r="3.1"/><circle cx="1460.3" cy="667.5" r="3.1"/><circle cx="1427.3" cy="684.2" r="3.1"/><circle cx="1423.4" cy="630.7" r="3.1"/><circle cx="1506.6" cy="603" r="3.1"/><circle cx="1428.1" cy="640.1" r="3.1"/><circle cx="1402" cy="718.4" r="3.1"/><circle cx="1340.8" cy="703.4" r="3.1"/><circle cx="1393.9" cy="737.9" r="3.1"/><circle cx="1361.2" cy="740.8" r="3.1"/><circle cx="1362.5" cy="710.7" r="3.1"/><circle cx="1362.1" cy="729.4" r="3.1"/><circle cx="1395.4" cy="695.9" r="3.1"/><circle cx="1380.8" cy="536.6" r="3.1"/><circle cx="1449.1" cy="632.7" r="3.1"/><circle cx="1337.3" cy="730.2" r="3.1"/><circle cx="1389" cy="748.7" r="3.1"/><circle cx="1511.1" cy="690.9" r="3.1"/><circle cx="1399.9" cy="735" r="3.1"/><circle cx="1471.4" cy="744.2" r="3.1"/><circle cx="1467.1" cy="615.1" r="3.1"/><circle cx="1479.5" cy="682.1" r="3.1"/><circle cx="1440.6" cy="640.5" r="3.1"/><circle cx="1335.5" cy="525.3" r="3.1"/><circle cx="1383.9" cy="667.4" r="3.1"/><circle cx="1378.2" cy="677.1" r="3.1"/><circle cx="1329.8" cy="682.5" r="3.1"/><circle cx="1374" cy="696.8" r="3.1"/><circle cx="1340.1" cy="728.6" r="3.1"/><circle cx="1326.2" cy="710" r="3.1"/><circle cx="1409.2" cy="606.2" r="3.1"/><circle cx="1395.5" cy="691.1" r="3.1"/><circle cx="1363.3" cy="738.9" r="3.1"/><circle cx="1351.7" cy="737.8" r="3.1"/><circle cx="1370.3" cy="728.4" r="3.1"/><circle cx="1377.5" cy="682.2" r="3.1"/><circle cx="1376.8" cy="657.6" r="3.1"/><circle cx="1395" cy="651.5" r="3.1"/><circle cx="1375.4" cy="614" r="3.1"/><circle cx="1419.2" cy="680.8" r="3.1"/><circle cx="1427.3" cy="617.9" r="3.1"/><circle cx="1417.5" cy="652.1" r="3.1"/><circle cx="1364.5" cy="646.8" r="3.1"/><circle cx="1366.7" cy="746.2" r="3.1"/><circle cx="1422" cy="592" r="3.1"/><circle cx="1387.5" cy="738.3" r="3.1"/><circle cx="1395.5" cy="724.5" r="3.1"/><circle cx="1304.9" cy="670.9" r="3.1"/><circle cx="1301" cy="725.4" r="3.1"/><circle cx="1416.3" cy="561.4" r="3.1"/><circle cx="1415.9" cy="659" r="3.1"/><circle cx="1484.5" cy="702.4" r="3.1"/><circle cx="1439.5" cy="652.3" r="3.1"/><circle cx="1409.8" cy="689" r="3.1"/><circle cx="1398.7" cy="578.2" r="3.1"/><circle cx="1333.9" cy="599.1" r="3.1"/><circle cx="1449.9" cy="612.5" r="3.1"/><circle cx="1367.3" cy="700.1" r="3.1"/><circle cx="1426.1" cy="659.4" r="3.1"/><circle cx="1408.6" cy="605.3" r="3.1"/><circle cx="1412.6" cy="706.1" r="3.1"/><circle cx="1450.5" cy="697.7" r="3.1"/><circle cx="1372.8" cy="630.2" r="3.1"/><circle cx="1377.9" cy="635.4" r="3.1"/><circle cx="1355.8" cy="695.1" r="3.1"/><circle cx="1378.4" cy="690.3" r="3.1"/><circle cx="1500.9" cy="733.4" r="3.1"/><circle cx="1379.1" cy="606.9" r="3.1"/><circle cx="1470.5" cy="659.2" r="3.1"/><circle cx="1446.2" cy="724.6" r="3.1"/><circle cx="1440" cy="714.1" r="3.1"/><circle cx="1444.7" cy="703.1" r="3.1"/><circle cx="1349.1" cy="586.2" r="3.1"/><circle cx="1418.4" cy="624" r="3.1"/><circle cx="1496.5" cy="712.3" r="3.1"/><circle cx="1362.9" cy="571.6" r="3.1"/><circle cx="1395.3" cy="591.1" r="3.1"/><circle cx="1363.3" cy="726.9" r="3.1"/><circle cx="1415.2" cy="750.6" r="3.1"/><circle cx="1346.5" cy="633.3" r="3.1"/><circle cx="1497.7" cy="677.8" r="3.1"/><circle cx="1378.4" cy="683.4" r="3.1"/><circle cx="1330" cy="716.3" r="3.1"/><circle cx="1507.6" cy="564" r="3.1"/><circle cx="1455.7" cy="565.1" r="3.1"/><circle cx="1427" cy="613.5" r="3.1"/><circle cx="1427.9" cy="670.8" r="3.1"/><circle cx="1379.3" cy="662.6" r="3.1"/><circle cx="1386.2" cy="639" r="3.1"/><circle cx="1439.7" cy="730.1" r="3.1"/><circle cx="1452.2" cy="579.6" r="3.1"/><circle cx="1453.2" cy="673.4" r="3.1"/><circle cx="1409.3" cy="653.1" r="3.1"/><circle cx="1373.9" cy="670.8" r="3.1"/><circle cx="1387.8" cy="620.3" r="3.1"/><circle cx="1465.2" cy="586.6" r="3.1"/><circle cx="1487.5" cy="522.8" r="3.1"/><circle cx="1380.2" cy="693.1" r="3.1"/><circle cx="1373.4" cy="718.7" r="3.1"/><circle cx="1474.8" cy="642" r="3.1"/><circle cx="1439.7" cy="692.3" r="3.1"/><circle cx="1438" cy="606.2" r="3.1"/><circle cx="1337.8" cy="723.8" r="3.1"/><circle cx="1378.5" cy="668.9" r="3.1"/><circle cx="1371.5" cy="623.1" r="3.1"/><circle cx="1409.1" cy="605.2" r="3.1"/><circle cx="1325.6" cy="684.3" r="3.1"/><circle cx="1476.4" cy="562.6" r="3.1"/><circle cx="1414.2" cy="586.4" r="3.1"/><circle cx="1422" cy="735.4" r="3.1"/><circle cx="1342.5" cy="668.9" r="3.1"/><circle cx="1396.4" cy="660.3" r="3.1"/><circle cx="1480.7" cy="664.7" r="3.1"/><circle cx="1329.2" cy="719.8" r="3.1"/><circle cx="1414.6" cy="662.3" r="3.1"/><circle cx="1438.1" cy="634.8" r="3.1"/><circle cx="1363.1" cy="665.4" r="3.1"/><circle cx="1445.5" cy="572.2" r="3.1"/><circle cx="1380.7" cy="615.4" r="3.1"/><circle cx="1473.5" cy="680.9" r="3.1"/><circle cx="1427.6" cy="698.7" r="3.1"/><circle cx="1410" cy="614.3" r="3.1"/><circle cx="1518" cy="674.8" r="3.1"/><circle cx="1446.6" cy="645.8" r="3.1"/><circle cx="1478.9" cy="617.6" r="3.1"/><circle cx="1342.3" cy="628.6" r="3.1"/><circle cx="1365.2" cy="650.7" r="3.1"/><circle cx="1446.9" cy="567" r="3.1"/><circle cx="1451.4" cy="679" r="3.1"/><circle cx="1394.9" cy="630.3" r="3.1"/><circle cx="1443.2" cy="690.4" r="3.1"/><circle cx="1347.3" cy="675.2" r="3.1"/><circle cx="1409.4" cy="658.8" r="3.1"/><circle cx="1343.9" cy="725.5" r="3.1"/><circle cx="1416.5" cy="750" r="3.1"/><circle cx="1372.9" cy="620.1" r="3.1"/><circle cx="1365.5" cy="659.3" r="3.1"/><circle cx="1400.8" cy="660.4" r="3.1"/><circle cx="1509" cy="677.6" r="3.1"/><circle cx="1349.2" cy="699.5" r="3.1"/><circle cx="1367.4" cy="653.3" r="3.1"/><circle cx="1462.3" cy="650.3" r="3.1"/><circle cx="1376" cy="606.3" r="3.1"/><circle cx="1506.5" cy="631.5" r="3.1"/><circle cx="1409.9" cy="705.3" r="3.1"/><circle cx="1402.7" cy="631.4" r="3.1"/><circle cx="1417.5" cy="695" r="3.1"/><circle cx="1505" cy="625.9" r="3.1"/><circle cx="1435.4" cy="736.2" r="3.1"/><circle cx="1426.9" cy="679.3" r="3.1"/><circle cx="1411.5" cy="632" r="3.1"/><circle cx="1329.4" cy="720.1" r="3.1"/><circle cx="1354.5" cy="683.7" r="3.1"/><circle cx="1490.2" cy="607.8" r="3.1"/><circle cx="1445.9" cy="652.3" r="3.1"/><circle cx="1426.3" cy="553.8" r="3.1"/><circle cx="1434.2" cy="673.3" r="3.1"/><circle cx="1370.1" cy="686.5" r="3.1"/><circle cx="1416.4" cy="672.8" r="3.1"/><circle cx="1353.8" cy="747.6" r="3.1"/><circle cx="1419.5" cy="731" r="3.1"/><circle cx="1362.1" cy="651.5" r="3.1"/><circle cx="1386.7" cy="689.1" r="3.1"/><circle cx="1423.1" cy="577.4" r="3.1"/><circle cx="1380.9" cy="678.5" r="3.1"/><circle cx="1434.9" cy="668.6" r="3.1"/><circle cx="1423.3" cy="599.3" r="3.1"/><circle cx="1417.6" cy="648.1" r="3.1"/><circle cx="1480" cy="550.8" r="3.1"/><circle cx="1332.3" cy="733" r="3.1"/><circle cx="1328.3" cy="670.9" r="3.1"/><circle cx="1433" cy="618.2" r="3.1"/><circle cx="1453.7" cy="619.9" r="3.1"/><circle cx="1518.2" cy="564.7" r="3.1"/><circle cx="1441.7" cy="593.6" r="3.1"/><circle cx="1446.5" cy="653.9" r="3.1"/><circle cx="1354.6" cy="708.1" r="3.1"/><circle cx="1441.5" cy="596.2" r="3.1"/><circle cx="1436.5" cy="655.2" r="3.1"/><circle cx="1347.4" cy="630" r="3.1"/><circle cx="1354" cy="602.2" r="3.1"/><circle cx="1392" cy="658.8" r="3.1"/><circle cx="1413.6" cy="707" r="3.1"/><circle cx="1297.3" cy="719.1" r="3.1"/><circle cx="1401.6" cy="618.7" r="3.1"/><circle cx="1410.3" cy="676" r="3.1"/><circle cx="1388.6" cy="598.4" r="3.1"/><circle cx="1412.4" cy="660.3" r="3.1"/><circle cx="1423.3" cy="651.5" r="3.1"/><circle cx="1349.2" cy="710.3" r="3.1"/><circle cx="1420.9" cy="665" r="3.1"/><circle cx="1384.7" cy="604.1" r="3.1"/><circle cx="1351.9" cy="696.8" r="3.1"/><circle cx="1409.1" cy="680.3" r="3.1"/><circle cx="1490.5" cy="683.9" r="3.1"/><circle cx="1332.8" cy="646.2" r="3.1"/><circle cx="1326.6" cy="743.5" r="3.1"/><circle cx="1326.6" cy="719.4" r="3.1"/><circle cx="1516.6" cy="576.4" r="3.1"/><circle cx="1384.7" cy="584.8" r="3.1"/><circle cx="1394.7" cy="679.5" r="3.1"/><circle cx="1358.8" cy="623.3" r="3.1"/><circle cx="1352.2" cy="747.4" r="3.1"/><circle cx="1316" cy="658.4" r="3.1"/><circle cx="1407" cy="648.2" r="3.1"/><circle cx="1411.9" cy="720.5" r="3.1"/><circle cx="1317.3" cy="748.5" r="3.1"/><circle cx="1347.9" cy="706.7" r="3.1"/></g>
<path d="M1291.3,692 L1297.9,690.5 L1304.6,689 L1311.2,687.5 L1317.8,686 L1324.5,684.4 L1331.1,682.9 L1337.7,681.4 L1344.4,679.8 L1351,678.2 L1357.6,676.7 L1364.3,675 L1370.9,673.4 L1377.5,671.7 L1384.2,670 L1390.8,668.2 L1397.4,666.4 L1404.1,664.5 L1410.7,662.4 L1417.3,660.3 L1424,658.1 L1430.6,655.9 L1437.2,653.6 L1443.9,651.2 L1450.5,648.8 L1457.1,646.3 L1463.8,643.9 L1470.4,641.4 L1477,638.9 L1483.7,636.4 L1490.3,633.8 L1496.9,631.3 L1503.6,628.8 L1510.2,626.2 L1516.8,623.7 L1523.5,621.1 L1530.1,618.5 L1536.7,616 L1543.4,613.4 L1550,610.8 L1550,635.8 L1543.4,637.2 L1536.7,638.7 L1530.1,640.2 L1523.5,641.7 L1516.8,643.2 L1510.2,644.8 L1503.6,646.3 L1496.9,647.8 L1490.3,649.3 L1483.7,650.9 L1477,652.4 L1470.4,654 L1463.8,655.5 L1457.1,657.1 L1450.5,658.7 L1443.9,660.4 L1437.2,662.1 L1430.6,663.8 L1424,665.6 L1417.3,667.5 L1410.7,669.5 L1404.1,671.5 L1397.4,673.6 L1390.8,675.8 L1384.2,678.1 L1377.5,680.5 L1370.9,682.9 L1364.3,685.3 L1357.6,687.7 L1351,690.2 L1344.4,692.7 L1337.7,695.2 L1331.1,697.7 L1324.5,700.3 L1317.8,702.8 L1311.2,705.3 L1304.6,707.9 L1297.9,710.4 L1291.3,713 Z" fill="rgba(153,153,153,0.45)"/>
<line x1="1291.3" y1="702.5" x2="1550" y2="623.3" stroke="#e8322a" stroke-width="2.3"/>
<path d="M1290.8,493.7 L1290.8,492.4 L1292.4,492.1 L1294.1,491.7 L1295.7,491.3 L1297.3,490.8 L1299,490.2 L1300.6,489.6 L1302.2,488.9 L1303.9,488.2 L1305.5,487.5 L1307.1,486.7 L1308.8,486 L1310.4,485.1 L1312,484.1 L1313.7,483 L1315.3,481.8 L1316.9,480.6 L1318.6,479.2 L1320.2,477.9 L1321.8,476.5 L1323.5,475.2 L1325.1,473.9 L1326.7,472.6 L1328.4,471.3 L1330,470 L1331.6,468.7 L1333.3,467.4 L1334.9,466.1 L1336.5,464.8 L1338.2,463.5 L1339.8,462.3 L1341.4,461.2 L1343.1,460.1 L1344.7,459.2 L1346.3,458.3 L1348,457.5 L1349.6,456.6 L1351.2,455.9 L1352.9,455.1 L1354.5,454.4 L1356.1,453.7 L1357.8,453.1 L1359.4,452.5 L1361,451.9 L1362.7,451.4 L1364.3,450.9 L1365.9,450.4 L1367.6,449.9 L1369.2,449.5 L1370.8,449 L1372.5,448.6 L1374.1,448.3 L1375.7,447.9 L1377.4,447.6 L1379,447.4 L1380.6,447.1 L1382.3,446.9 L1383.9,446.6 L1385.5,446.4 L1387.2,446.2 L1388.8,446.1 L1390.4,446 L1392.1,446 L1393.7,446.1 L1395.3,446.3 L1397,446.6 L1398.6,446.9 L1400.2,447.2 L1401.9,447.6 L1403.5,448 L1405.1,448.3 L1406.8,448.8 L1408.4,449.3 L1410,449.9 L1411.7,450.5 L1413.3,451.2 L1414.9,451.9 L1416.6,452.7 L1418.2,453.4 L1419.8,454.2 L1421.5,454.9 L1423.1,455.6 L1424.7,456.3 L1426.4,457 L1428,457.7 L1429.6,458.5 L1431.3,459.2 L1432.9,460 L1434.5,460.7 L1436.2,461.5 L1437.8,462.2 L1439.4,462.9 L1441.1,463.7 L1442.7,464.4 L1444.3,465.2 L1446,466 L1447.6,466.7 L1449.2,467.5 L1450.9,468.2 L1452.5,469 L1454.1,469.7 L1455.8,470.3 L1457.4,471 L1459,471.6 L1460.7,472.2 L1462.3,472.8 L1463.9,473.4 L1465.6,474 L1467.2,474.5 L1468.8,475 L1470.5,475.5 L1472.1,476 L1473.7,476.5 L1475.4,476.9 L1477,477.2 L1478.6,477.6 L1480.3,477.9 L1481.9,478.3 L1483.5,478.6 L1485.2,478.9 L1486.8,479.2 L1488.4,479.5 L1490.1,479.8 L1491.7,480.1 L1493.3,480.5 L1495,480.8 L1496.6,481.2 L1498.2,481.5 L1499.9,481.9 L1501.5,482.3 L1503.1,482.6 L1504.8,483 L1506.4,483.3 L1508,483.7 L1509.7,484 L1511.3,484.4 L1512.9,484.7 L1514.6,485 L1516.2,485.4 L1517.8,485.7 L1519.5,486 L1521.1,486.4 L1522.7,486.7 L1524.4,487 L1526,487.3 L1527.6,487.6 L1529.3,488 L1530.9,488.3 L1532.5,488.6 L1534.2,488.9 L1535.8,489.3 L1537.4,489.6 L1539.1,489.9 L1540.7,490.2 L1542.3,490.5 L1544,490.8 L1545.6,491.2 L1547.2,491.5 L1548.9,491.8 L1550.5,492.1 L1550.5,493.7 Z" fill="#3ab3d3"/>
<path d="M1290.8,492.4 L1292.4,492.1 L1294.1,491.7 L1295.7,491.3 L1297.3,490.8 L1299,490.2 L1300.6,489.6 L1302.2,488.9 L1303.9,488.2 L1305.5,487.5 L1307.1,486.7 L1308.8,486 L1310.4,485.1 L1312,484.1 L1313.7,483 L1315.3,481.8 L1316.9,480.6 L1318.6,479.2 L1320.2,477.9 L1321.8,476.5 L1323.5,475.2 L1325.1,473.9 L1326.7,472.6 L1328.4,471.3 L1330,470 L1331.6,468.7 L1333.3,467.4 L1334.9,466.1 L1336.5,464.8 L1338.2,463.5 L1339.8,462.3 L1341.4,461.2 L1343.1,460.1 L1344.7,459.2 L1346.3,458.3 L1348,457.5 L1349.6,456.6 L1351.2,455.9 L1352.9,455.1 L1354.5,454.4 L1356.1,453.7 L1357.8,453.1 L1359.4,452.5 L1361,451.9 L1362.7,451.4 L1364.3,450.9 L1365.9,450.4 L1367.6,449.9 L1369.2,449.5 L1370.8,449 L1372.5,448.6 L1374.1,448.3 L1375.7,447.9 L1377.4,447.6 L1379,447.4 L1380.6,447.1 L1382.3,446.9 L1383.9,446.6 L1385.5,446.4 L1387.2,446.2 L1388.8,446.1 L1390.4,446 L1392.1,446 L1393.7,446.1 L1395.3,446.3 L1397,446.6 L1398.6,446.9 L1400.2,447.2 L1401.9,447.6 L1403.5,448 L1405.1,448.3 L1406.8,448.8 L1408.4,449.3 L1410,449.9 L1411.7,450.5 L1413.3,451.2 L1414.9,451.9 L1416.6,452.7 L1418.2,453.4 L1419.8,454.2 L1421.5,454.9 L1423.1,455.6 L1424.7,456.3 L1426.4,457 L1428,457.7 L1429.6,458.5 L1431.3,459.2 L1432.9,460 L1434.5,460.7 L1436.2,461.5 L1437.8,462.2 L1439.4,462.9 L1441.1,463.7 L1442.7,464.4 L1444.3,465.2 L1446,466 L1447.6,466.7 L1449.2,467.5 L1450.9,468.2 L1452.5,469 L1454.1,469.7 L1455.8,470.3 L1457.4,471 L1459,471.6 L1460.7,472.2 L1462.3,472.8 L1463.9,473.4 L1465.6,474 L1467.2,474.5 L1468.8,475 L1470.5,475.5 L1472.1,476 L1473.7,476.5 L1475.4,476.9 L1477,477.2 L1478.6,477.6 L1480.3,477.9 L1481.9,478.3 L1483.5,478.6 L1485.2,478.9 L1486.8,479.2 L1488.4,479.5 L1490.1,479.8 L1491.7,480.1 L1493.3,480.5 L1495,480.8 L1496.6,481.2 L1498.2,481.5 L1499.9,481.9 L1501.5,482.3 L1503.1,482.6 L1504.8,483 L1506.4,483.3 L1508,483.7 L1509.7,484 L1511.3,484.4 L1512.9,484.7 L1514.6,485 L1516.2,485.4 L1517.8,485.7 L1519.5,486 L1521.1,486.4 L1522.7,486.7 L1524.4,487 L1526,487.3 L1527.6,487.6 L1529.3,488 L1530.9,488.3 L1532.5,488.6 L1534.2,488.9 L1535.8,489.3 L1537.4,489.6 L1539.1,489.9 L1540.7,490.2 L1542.3,490.5 L1544,490.8 L1545.6,491.2 L1547.2,491.5 L1548.9,491.8 L1550.5,492.1" fill="none" stroke="#000" stroke-width="1.3"/>
<path d="M1557.9,499.6 L1558.8,499.6 L1558.9,501.2 L1559.1,502.8 L1559.2,504.4 L1559.4,506 L1559.5,507.6 L1559.7,509.2 L1559.9,510.8 L1560,512.3 L1560.2,513.9 L1560.4,515.5 L1560.6,517.1 L1560.7,518.7 L1560.9,520.3 L1561.1,521.9 L1561.3,523.5 L1561.5,525.1 L1561.7,526.7 L1561.9,528.3 L1562.1,529.9 L1562.3,531.5 L1562.5,533.1 L1562.7,534.7 L1562.9,536.3 L1563.1,537.8 L1563.3,539.4 L1563.6,541 L1563.8,542.6 L1564,544.2 L1564.3,545.8 L1564.6,547.4 L1564.8,549 L1565.1,550.6 L1565.4,552.2 L1565.8,553.8 L1566.1,555.4 L1566.5,557 L1566.9,558.6 L1567.3,560.2 L1567.7,561.8 L1568.1,563.3 L1568.5,564.9 L1569,566.5 L1569.4,568.1 L1569.9,569.7 L1570.3,571.3 L1570.7,572.9 L1571.2,574.5 L1571.6,576.1 L1572,577.7 L1572.5,579.3 L1572.9,580.9 L1573.3,582.5 L1573.8,584.1 L1574.3,585.7 L1574.7,587.3 L1575.2,588.8 L1575.7,590.4 L1576.1,592 L1576.6,593.6 L1577.1,595.2 L1577.7,596.8 L1578.2,598.4 L1578.7,600 L1579.3,601.6 L1579.9,603.2 L1580.5,604.8 L1581,606.4 L1581.6,608 L1582.2,609.6 L1582.8,611.2 L1583.4,612.8 L1584,614.3 L1584.5,615.9 L1585.1,617.5 L1585.6,619.1 L1586.1,620.7 L1586.6,622.3 L1587.1,623.9 L1587.5,625.5 L1588,627.1 L1588.4,628.7 L1588.9,630.3 L1589.4,631.9 L1589.8,633.5 L1590.3,635.1 L1590.9,636.7 L1591.4,638.3 L1592,639.8 L1592.6,641.4 L1593.2,643 L1593.9,644.6 L1594.5,646.2 L1595.2,647.8 L1595.9,649.4 L1596.5,651 L1597.2,652.6 L1597.9,654.2 L1598.6,655.8 L1599.4,657.4 L1600.1,659 L1600.9,660.6 L1601.7,662.2 L1602.4,663.8 L1603.1,665.3 L1603.6,666.9 L1604.1,668.5 L1604.5,670.1 L1604.9,671.7 L1605.3,673.3 L1605.6,674.9 L1605.9,676.5 L1606.2,678.1 L1606.3,679.7 L1606.4,681.3 L1606.4,682.9 L1606.3,684.5 L1606.2,686.1 L1606,687.7 L1605.8,689.3 L1605.5,690.8 L1605.3,692.4 L1605,694 L1604.7,695.6 L1604.4,697.2 L1604,698.8 L1603.5,700.4 L1603,702 L1602.3,703.6 L1601.7,705.2 L1601,706.8 L1600.3,708.4 L1599.6,710 L1599,711.6 L1598.4,713.2 L1597.8,714.8 L1597.2,716.3 L1596.6,717.9 L1596,719.5 L1595.4,721.1 L1594.8,722.7 L1594.2,724.3 L1593.5,725.9 L1592.8,727.5 L1592.1,729.1 L1591.3,730.7 L1590.5,732.3 L1589.7,733.9 L1588.9,735.5 L1588,737.1 L1587,738.7 L1586.1,740.3 L1585,741.8 L1584,743.4 L1582.8,745 L1581.5,746.6 L1580.1,748.2 L1578.7,749.8 L1577.2,751.4 L1575.6,753 L1557.9,753 Z" fill="#3ab3d3"/>
<path d="M1558.8,499.6 L1558.9,501.2 L1559.1,502.8 L1559.2,504.4 L1559.4,506 L1559.5,507.6 L1559.7,509.2 L1559.9,510.8 L1560,512.3 L1560.2,513.9 L1560.4,515.5 L1560.6,517.1 L1560.7,518.7 L1560.9,520.3 L1561.1,521.9 L1561.3,523.5 L1561.5,525.1 L1561.7,526.7 L1561.9,528.3 L1562.1,529.9 L1562.3,531.5 L1562.5,533.1 L1562.7,534.7 L1562.9,536.3 L1563.1,537.8 L1563.3,539.4 L1563.6,541 L1563.8,542.6 L1564,544.2 L1564.3,545.8 L1564.6,547.4 L1564.8,549 L1565.1,550.6 L1565.4,552.2 L1565.8,553.8 L1566.1,555.4 L1566.5,557 L1566.9,558.6 L1567.3,560.2 L1567.7,561.8 L1568.1,563.3 L1568.5,564.9 L1569,566.5 L1569.4,568.1 L1569.9,569.7 L1570.3,571.3 L1570.7,572.9 L1571.2,574.5 L1571.6,576.1 L1572,577.7 L1572.5,579.3 L1572.9,580.9 L1573.3,582.5 L1573.8,584.1 L1574.3,585.7 L1574.7,587.3 L1575.2,588.8 L1575.7,590.4 L1576.1,592 L1576.6,593.6 L1577.1,595.2 L1577.7,596.8 L1578.2,598.4 L1578.7,600 L1579.3,601.6 L1579.9,603.2 L1580.5,604.8 L1581,606.4 L1581.6,608 L1582.2,609.6 L1582.8,611.2 L1583.4,612.8 L1584,614.3 L1584.5,615.9 L1585.1,617.5 L1585.6,619.1 L1586.1,620.7 L1586.6,622.3 L1587.1,623.9 L1587.5,625.5 L1588,627.1 L1588.4,628.7 L1588.9,630.3 L1589.4,631.9 L1589.8,633.5 L1590.3,635.1 L1590.9,636.7 L1591.4,638.3 L1592,639.8 L1592.6,641.4 L1593.2,643 L1593.9,644.6 L1594.5,646.2 L1595.2,647.8 L1595.9,649.4 L1596.5,651 L1597.2,652.6 L1597.9,654.2 L1598.6,655.8 L1599.4,657.4 L1600.1,659 L1600.9,660.6 L1601.7,662.2 L1602.4,663.8 L1603.1,665.3 L1603.6,666.9 L1604.1,668.5 L1604.5,670.1 L1604.9,671.7 L1605.3,673.3 L1605.6,674.9 L1605.9,676.5 L1606.2,678.1 L1606.3,679.7 L1606.4,681.3 L1606.4,682.9 L1606.3,684.5 L1606.2,686.1 L1606,687.7 L1605.8,689.3 L1605.5,690.8 L1605.3,692.4 L1605,694 L1604.7,695.6 L1604.4,697.2 L1604,698.8 L1603.5,700.4 L1603,702 L1602.3,703.6 L1601.7,705.2 L1601,706.8 L1600.3,708.4 L1599.6,710 L1599,711.6 L1598.4,713.2 L1597.8,714.8 L1597.2,716.3 L1596.6,717.9 L1596,719.5 L1595.4,721.1 L1594.8,722.7 L1594.2,724.3 L1593.5,725.9 L1592.8,727.5 L1592.1,729.1 L1591.3,730.7 L1590.5,732.3 L1589.7,733.9 L1588.9,735.5 L1588,737.1 L1587,738.7 L1586.1,740.3 L1585,741.8 L1584,743.4 L1582.8,745 L1581.5,746.6 L1580.1,748.2 L1578.7,749.8 L1577.2,751.4 L1575.6,753" fill="none" stroke="#000" stroke-width="1.3"/>
<rect x="1283.6" y="493.7" width="274.3" height="266.9" fill="none" stroke="#000" stroke-width="2"/>
<line x1="1275.6" y1="753.2" x2="1283.6" y2="753.2" stroke="#000" stroke-width="1.9"/>
<text x="1268.6" y="760.8" font-size="20.5" text-anchor="end">0</text>
<line x1="1275.6" y1="679.5" x2="1283.6" y2="679.5" stroke="#000" stroke-width="1.9"/>
<text x="1268.6" y="687.1" font-size="20.5" text-anchor="end">2</text>
<line x1="1275.6" y1="605.9" x2="1283.6" y2="605.9" stroke="#000" stroke-width="1.9"/>
<text x="1268.6" y="613.5" font-size="20.5" text-anchor="end">4</text>
<line x1="1275.6" y1="532.2" x2="1283.6" y2="532.2" stroke="#000" stroke-width="1.9"/>
<text x="1268.6" y="539.8" font-size="20.5" text-anchor="end">6</text>
<line x1="1325.2" y1="760.6" x2="1325.2" y2="768.6" stroke="#000" stroke-width="1.9"/>
<text x="1325.2" y="787.2" font-size="20.5" text-anchor="middle">2</text>
<line x1="1395.1" y1="760.6" x2="1395.1" y2="768.6" stroke="#000" stroke-width="1.9"/>
<text x="1395.1" y="787.2" font-size="20.5" text-anchor="middle">4</text>
<line x1="1465.1" y1="760.6" x2="1465.1" y2="768.6" stroke="#000" stroke-width="1.9"/>
<text x="1465.1" y="787.2" font-size="20.5" text-anchor="middle">6</text>
<line x1="1536" y1="760.6" x2="1536" y2="768.6" stroke="#000" stroke-width="1.9"/>
<text x="1536" y="787.2" font-size="20.5" text-anchor="middle">8</text>
<text x="1290.8" y="516.3" font-size="21.5" text-anchor="start">Spearman</text>
<text x="1290.8" y="545.6" font-size="21.5" text-anchor="start">r = 0.279</text>
<text x="1290.8" y="575.2" font-size="21.5" text-anchor="start">P &lt; 0.001</text>
<text x="1420.7" y="817.9" font-size="23.7" text-anchor="middle">PLEKHA4 expression</text>
<text x="1430" y="841.2" font-size="23.5" text-anchor="middle">Log<tspan font-size="18.8" dy="6.5">2</tspan><tspan dy="-6.5"> (TPM+1)</tspan></text>
<text x="1220.9" y="614.6" font-size="23.7" text-anchor="middle" transform="rotate(-90 1220.9 614.6)">MKI67 expression</text>
<text x="1243.8" y="618.8" font-size="23.5" text-anchor="middle" transform="rotate(-90 1243.8 618.8)">Log<tspan font-size="20" dy="7">2</tspan><tspan dy="-7">&#8201;(TPM+1)</tspan></text>
</svg>
</body></html>
